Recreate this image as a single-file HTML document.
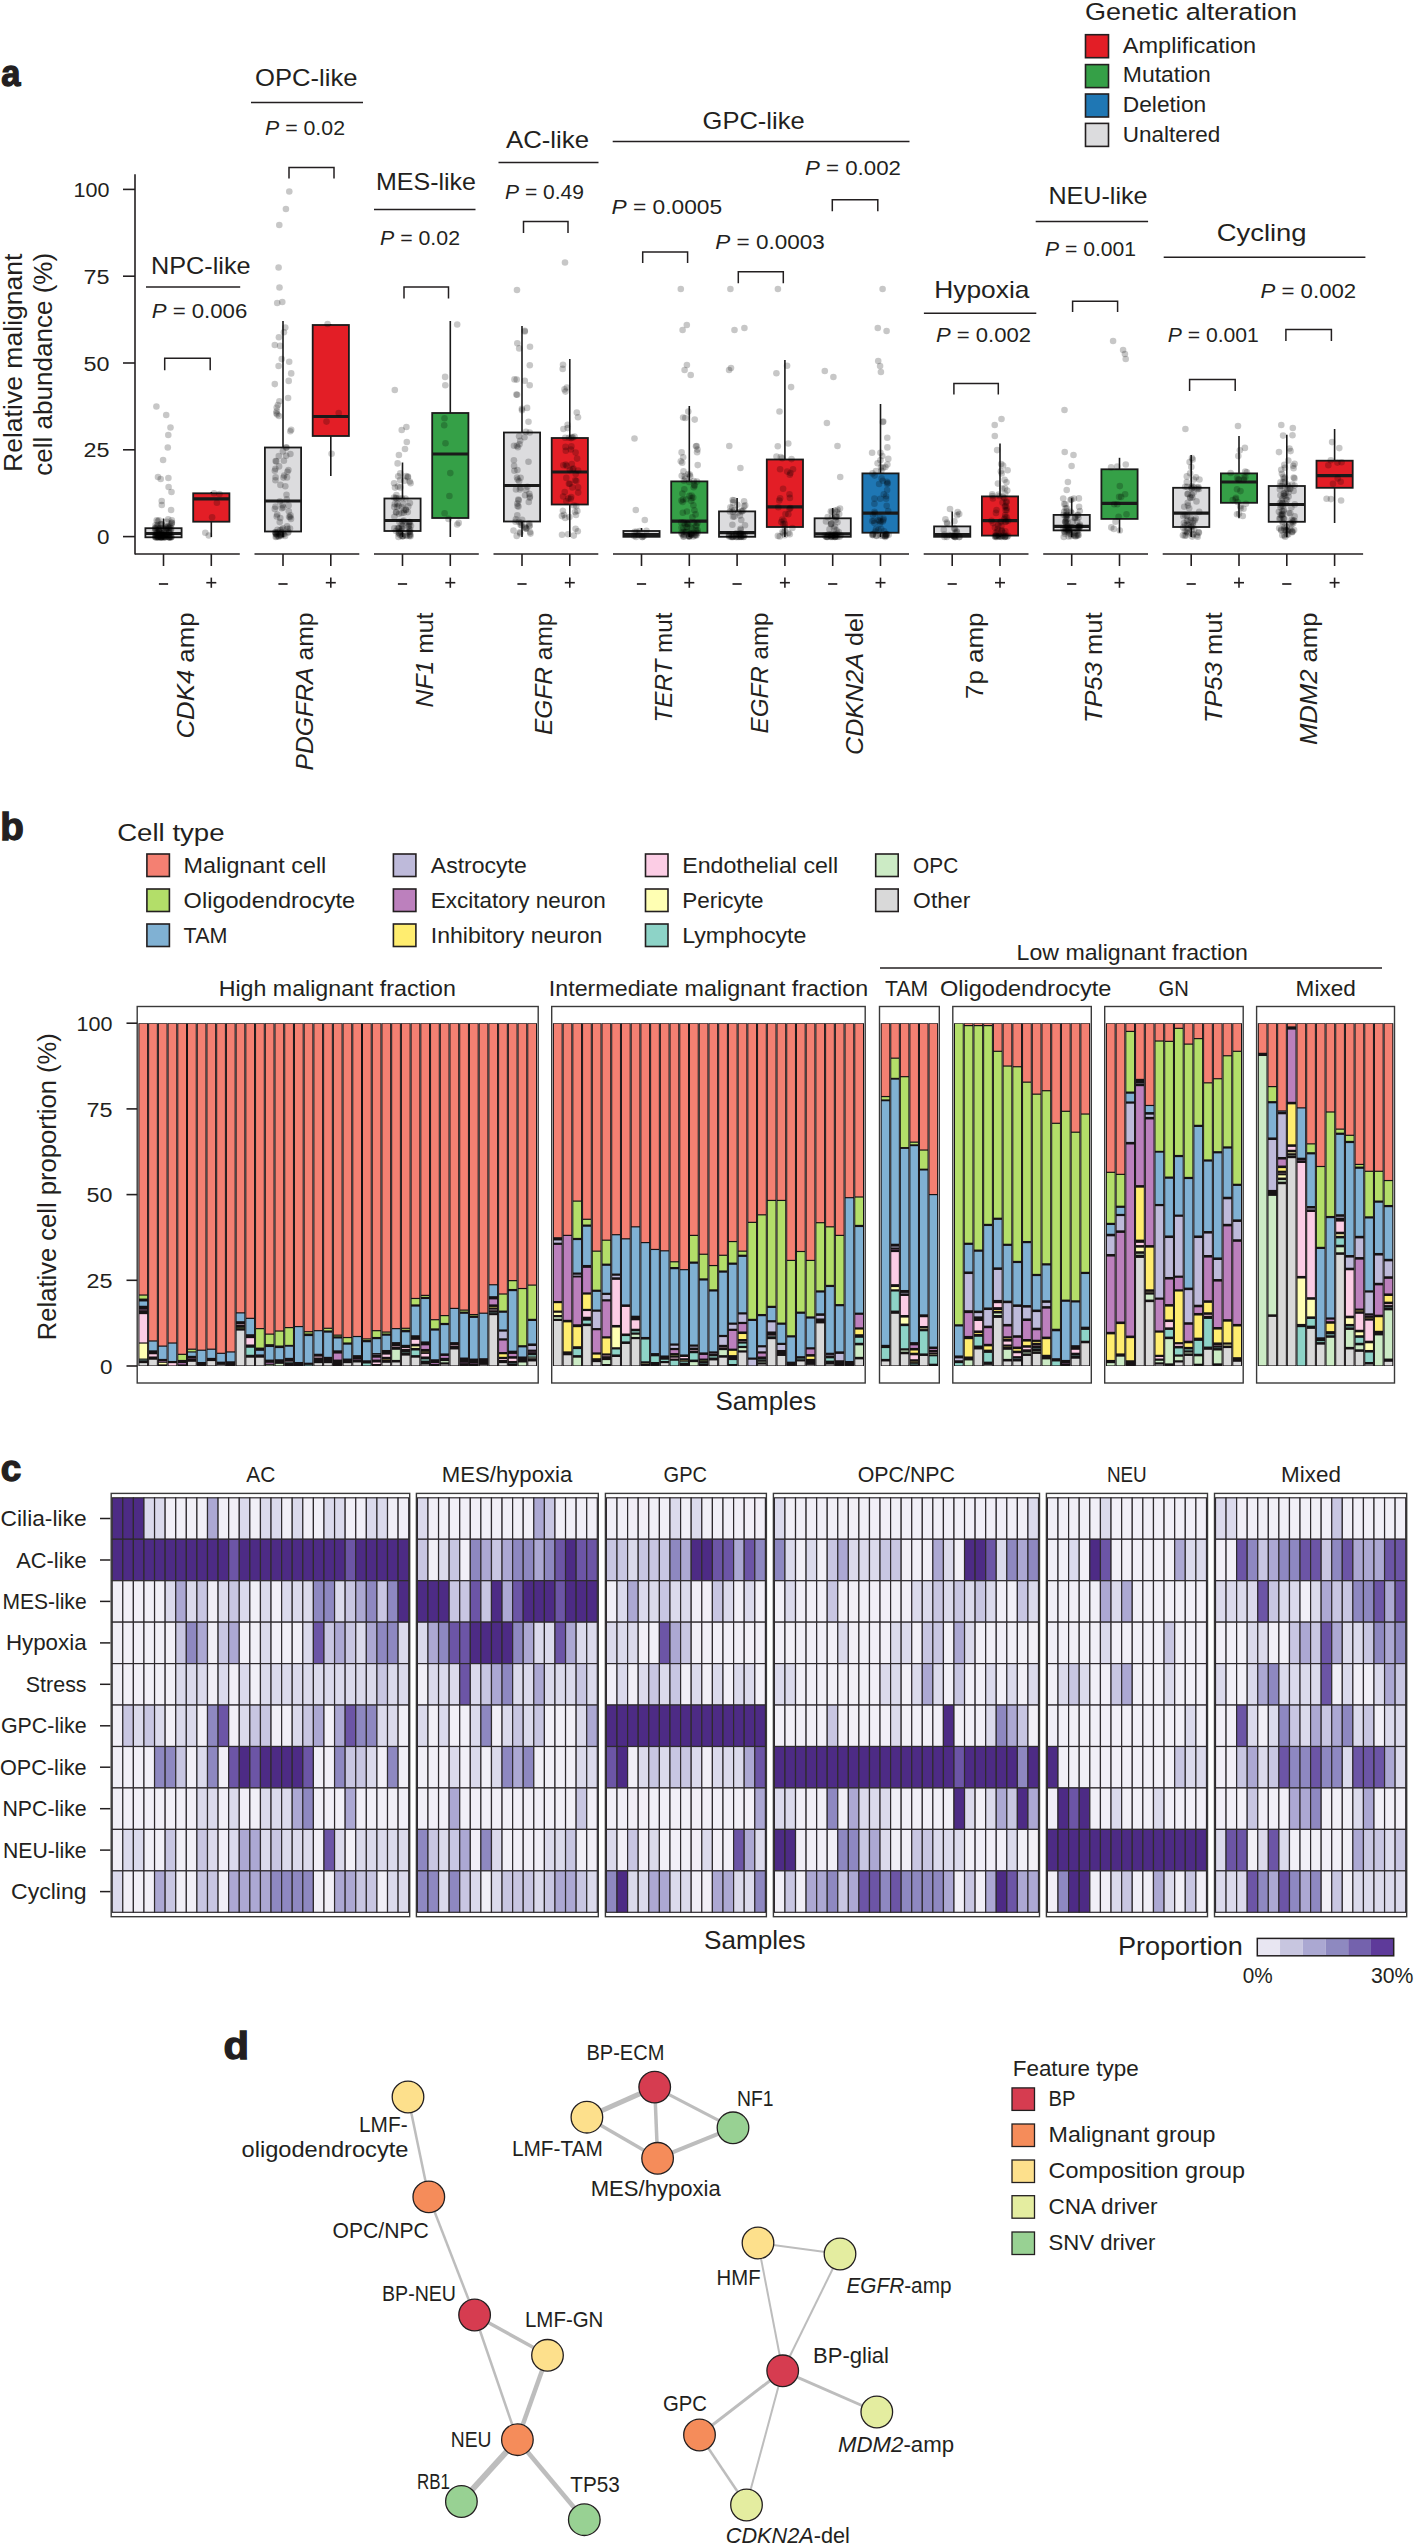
<!DOCTYPE html>
<html><head><meta charset="utf-8"><style>
html,body{margin:0;padding:0;background:#fff;overflow:hidden;}
svg{display:block;font-family:"Liberation Sans",sans-serif;}
</style></head><body>
<svg width="1416" height="2545" viewBox="0 0 1416 2545" fill="#231f20">
<text x="1.2" y="85.8" font-size="37" textLength="19.2" lengthAdjust="spacingAndGlyphs" font-weight="bold" stroke="#231f20" stroke-width="1.3">a</text>
<text x="1085.0" y="19.5" font-size="24.5" textLength="212.0" lengthAdjust="spacingAndGlyphs">Genetic alteration</text>
<rect x="1085.50" y="34.70" width="23.00" height="23.00" fill="#e31e26" stroke="#231f20" stroke-width="1.6"/>
<text x="1122.8" y="52.9" font-size="21.3" textLength="133.4" lengthAdjust="spacingAndGlyphs">Amplification</text>
<rect x="1085.50" y="64.60" width="23.00" height="23.00" fill="#35a047" stroke="#231f20" stroke-width="1.6"/>
<text x="1122.8" y="82.3" font-size="21.3" textLength="88.0" lengthAdjust="spacingAndGlyphs">Mutation</text>
<rect x="1085.50" y="94.00" width="23.00" height="23.00" fill="#1f77b4" stroke="#231f20" stroke-width="1.6"/>
<text x="1122.8" y="111.6" font-size="21.3" textLength="83.4" lengthAdjust="spacingAndGlyphs">Deletion</text>
<rect x="1085.50" y="123.40" width="23.00" height="23.00" fill="#dcdcde" stroke="#231f20" stroke-width="1.6"/>
<text x="1122.8" y="141.6" font-size="21.3" textLength="97.5" lengthAdjust="spacingAndGlyphs">Unaltered</text>
<line x1="135.0" y1="174.3" x2="135.0" y2="554.5" stroke="#231f20" stroke-width="1.6"/>
<line x1="123.0" y1="536.6" x2="135.0" y2="536.6" stroke="#231f20" stroke-width="1.6"/>
<text x="109.6" y="544.2" font-size="20.5" text-anchor="end" textLength="12.5" lengthAdjust="spacingAndGlyphs">0</text>
<line x1="123.0" y1="449.8" x2="135.0" y2="449.8" stroke="#231f20" stroke-width="1.6"/>
<text x="109.6" y="457.4" font-size="20.5" text-anchor="end" textLength="26.0" lengthAdjust="spacingAndGlyphs">25</text>
<line x1="123.0" y1="363.0" x2="135.0" y2="363.0" stroke="#231f20" stroke-width="1.6"/>
<text x="109.6" y="370.6" font-size="20.5" text-anchor="end" textLength="26.0" lengthAdjust="spacingAndGlyphs">50</text>
<line x1="123.0" y1="276.2" x2="135.0" y2="276.2" stroke="#231f20" stroke-width="1.6"/>
<text x="109.6" y="283.8" font-size="20.5" text-anchor="end" textLength="26.0" lengthAdjust="spacingAndGlyphs">75</text>
<line x1="123.0" y1="189.4" x2="135.0" y2="189.4" stroke="#231f20" stroke-width="1.6"/>
<text x="109.6" y="197.0" font-size="20.5" text-anchor="end" textLength="36.0" lengthAdjust="spacingAndGlyphs">100</text>
<text x="22.0" y="472.0" font-size="26" textLength="218.5" lengthAdjust="spacingAndGlyphs" transform="rotate(-90 22.0 472.0)">Relative malignant</text>
<text x="51.8" y="475.8" font-size="26" textLength="223.0" lengthAdjust="spacingAndGlyphs" transform="rotate(-90 51.8 475.8)">cell abundance (%)</text>
<line x1="135.0" y1="554.0" x2="239.8" y2="554.0" stroke="#231f20" stroke-width="1.6"/>
<line x1="163.5" y1="554.0" x2="163.5" y2="566.0" stroke="#231f20" stroke-width="1.6"/>
<line x1="211.3" y1="554.0" x2="211.3" y2="566.0" stroke="#231f20" stroke-width="1.6"/>
<line x1="158.9" y1="584.0" x2="168.1" y2="584.0" stroke="#231f20" stroke-width="1.7"/>
<line x1="206.3" y1="582.7" x2="216.3" y2="582.7" stroke="#231f20" stroke-width="1.6"/>
<line x1="211.3" y1="577.6" x2="211.3" y2="587.8" stroke="#231f20" stroke-width="1.6"/>
<line x1="254.5" y1="554.0" x2="359.3" y2="554.0" stroke="#231f20" stroke-width="1.6"/>
<line x1="283.0" y1="554.0" x2="283.0" y2="566.0" stroke="#231f20" stroke-width="1.6"/>
<line x1="330.8" y1="554.0" x2="330.8" y2="566.0" stroke="#231f20" stroke-width="1.6"/>
<line x1="278.4" y1="584.0" x2="287.6" y2="584.0" stroke="#231f20" stroke-width="1.7"/>
<line x1="325.8" y1="582.7" x2="335.8" y2="582.7" stroke="#231f20" stroke-width="1.6"/>
<line x1="330.8" y1="577.6" x2="330.8" y2="587.8" stroke="#231f20" stroke-width="1.6"/>
<line x1="374.0" y1="554.0" x2="478.8" y2="554.0" stroke="#231f20" stroke-width="1.6"/>
<line x1="402.5" y1="554.0" x2="402.5" y2="566.0" stroke="#231f20" stroke-width="1.6"/>
<line x1="450.3" y1="554.0" x2="450.3" y2="566.0" stroke="#231f20" stroke-width="1.6"/>
<line x1="397.9" y1="584.0" x2="407.1" y2="584.0" stroke="#231f20" stroke-width="1.7"/>
<line x1="445.3" y1="582.7" x2="455.3" y2="582.7" stroke="#231f20" stroke-width="1.6"/>
<line x1="450.3" y1="577.6" x2="450.3" y2="587.8" stroke="#231f20" stroke-width="1.6"/>
<line x1="493.5" y1="554.0" x2="598.3" y2="554.0" stroke="#231f20" stroke-width="1.6"/>
<line x1="522.0" y1="554.0" x2="522.0" y2="566.0" stroke="#231f20" stroke-width="1.6"/>
<line x1="569.8" y1="554.0" x2="569.8" y2="566.0" stroke="#231f20" stroke-width="1.6"/>
<line x1="517.4" y1="584.0" x2="526.6" y2="584.0" stroke="#231f20" stroke-width="1.7"/>
<line x1="564.8" y1="582.7" x2="574.8" y2="582.7" stroke="#231f20" stroke-width="1.6"/>
<line x1="569.8" y1="577.6" x2="569.8" y2="587.8" stroke="#231f20" stroke-width="1.6"/>
<line x1="613.0" y1="554.0" x2="909.0" y2="554.0" stroke="#231f20" stroke-width="1.6"/>
<line x1="641.5" y1="554.0" x2="641.5" y2="566.0" stroke="#231f20" stroke-width="1.6"/>
<line x1="689.3" y1="554.0" x2="689.3" y2="566.0" stroke="#231f20" stroke-width="1.6"/>
<line x1="737.1" y1="554.0" x2="737.1" y2="566.0" stroke="#231f20" stroke-width="1.6"/>
<line x1="784.9" y1="554.0" x2="784.9" y2="566.0" stroke="#231f20" stroke-width="1.6"/>
<line x1="832.7" y1="554.0" x2="832.7" y2="566.0" stroke="#231f20" stroke-width="1.6"/>
<line x1="880.5" y1="554.0" x2="880.5" y2="566.0" stroke="#231f20" stroke-width="1.6"/>
<line x1="636.9" y1="584.0" x2="646.1" y2="584.0" stroke="#231f20" stroke-width="1.7"/>
<line x1="684.3" y1="582.7" x2="694.3" y2="582.7" stroke="#231f20" stroke-width="1.6"/>
<line x1="689.3" y1="577.6" x2="689.3" y2="587.8" stroke="#231f20" stroke-width="1.6"/>
<line x1="732.5" y1="584.0" x2="741.7" y2="584.0" stroke="#231f20" stroke-width="1.7"/>
<line x1="779.9" y1="582.7" x2="789.9" y2="582.7" stroke="#231f20" stroke-width="1.6"/>
<line x1="784.9" y1="577.6" x2="784.9" y2="587.8" stroke="#231f20" stroke-width="1.6"/>
<line x1="828.1" y1="584.0" x2="837.3" y2="584.0" stroke="#231f20" stroke-width="1.7"/>
<line x1="875.5" y1="582.7" x2="885.5" y2="582.7" stroke="#231f20" stroke-width="1.6"/>
<line x1="880.5" y1="577.6" x2="880.5" y2="587.8" stroke="#231f20" stroke-width="1.6"/>
<line x1="923.7" y1="554.0" x2="1028.5" y2="554.0" stroke="#231f20" stroke-width="1.6"/>
<line x1="952.2" y1="554.0" x2="952.2" y2="566.0" stroke="#231f20" stroke-width="1.6"/>
<line x1="1000.0" y1="554.0" x2="1000.0" y2="566.0" stroke="#231f20" stroke-width="1.6"/>
<line x1="947.6" y1="584.0" x2="956.8" y2="584.0" stroke="#231f20" stroke-width="1.7"/>
<line x1="995.0" y1="582.7" x2="1005.0" y2="582.7" stroke="#231f20" stroke-width="1.6"/>
<line x1="1000.0" y1="577.6" x2="1000.0" y2="587.8" stroke="#231f20" stroke-width="1.6"/>
<line x1="1043.2" y1="554.0" x2="1148.0" y2="554.0" stroke="#231f20" stroke-width="1.6"/>
<line x1="1071.7" y1="554.0" x2="1071.7" y2="566.0" stroke="#231f20" stroke-width="1.6"/>
<line x1="1119.5" y1="554.0" x2="1119.5" y2="566.0" stroke="#231f20" stroke-width="1.6"/>
<line x1="1067.1" y1="584.0" x2="1076.3" y2="584.0" stroke="#231f20" stroke-width="1.7"/>
<line x1="1114.5" y1="582.7" x2="1124.5" y2="582.7" stroke="#231f20" stroke-width="1.6"/>
<line x1="1119.5" y1="577.6" x2="1119.5" y2="587.8" stroke="#231f20" stroke-width="1.6"/>
<line x1="1162.7" y1="554.0" x2="1363.1" y2="554.0" stroke="#231f20" stroke-width="1.6"/>
<line x1="1191.2" y1="554.0" x2="1191.2" y2="566.0" stroke="#231f20" stroke-width="1.6"/>
<line x1="1239.0" y1="554.0" x2="1239.0" y2="566.0" stroke="#231f20" stroke-width="1.6"/>
<line x1="1286.8" y1="554.0" x2="1286.8" y2="566.0" stroke="#231f20" stroke-width="1.6"/>
<line x1="1334.6" y1="554.0" x2="1334.6" y2="566.0" stroke="#231f20" stroke-width="1.6"/>
<line x1="1186.6" y1="584.0" x2="1195.8" y2="584.0" stroke="#231f20" stroke-width="1.7"/>
<line x1="1234.0" y1="582.7" x2="1244.0" y2="582.7" stroke="#231f20" stroke-width="1.6"/>
<line x1="1239.0" y1="577.6" x2="1239.0" y2="587.8" stroke="#231f20" stroke-width="1.6"/>
<line x1="1282.2" y1="584.0" x2="1291.4" y2="584.0" stroke="#231f20" stroke-width="1.7"/>
<line x1="1329.6" y1="582.7" x2="1339.6" y2="582.7" stroke="#231f20" stroke-width="1.6"/>
<line x1="1334.6" y1="577.6" x2="1334.6" y2="587.8" stroke="#231f20" stroke-width="1.6"/>
<text x="193.9" y="612.5" font-size="23.5" text-anchor="end" textLength="126.0" lengthAdjust="spacingAndGlyphs" transform="rotate(-90 193.9 612.5)"><tspan font-style="italic">CDK4</tspan><tspan> amp</tspan></text>
<text x="313.4" y="612.5" font-size="23.5" text-anchor="end" textLength="158.0" lengthAdjust="spacingAndGlyphs" transform="rotate(-90 313.4 612.5)"><tspan font-style="italic">PDGFRA</tspan><tspan> amp</tspan></text>
<text x="432.9" y="612.5" font-size="23.5" text-anchor="end" textLength="95.0" lengthAdjust="spacingAndGlyphs" transform="rotate(-90 432.9 612.5)"><tspan font-style="italic">NF1</tspan><tspan> mut</tspan></text>
<text x="552.4" y="612.5" font-size="23.5" text-anchor="end" textLength="122.5" lengthAdjust="spacingAndGlyphs" transform="rotate(-90 552.4 612.5)"><tspan font-style="italic">EGFR</tspan><tspan> amp</tspan></text>
<text x="671.9" y="612.5" font-size="23.5" text-anchor="end" textLength="110.0" lengthAdjust="spacingAndGlyphs" transform="rotate(-90 671.9 612.5)"><tspan font-style="italic">TERT</tspan><tspan> mut</tspan></text>
<text x="767.5" y="612.5" font-size="23.5" text-anchor="end" textLength="121.0" lengthAdjust="spacingAndGlyphs" transform="rotate(-90 767.5 612.5)"><tspan font-style="italic">EGFR</tspan><tspan> amp</tspan></text>
<text x="863.1" y="612.5" font-size="23.5" text-anchor="end" textLength="142.4" lengthAdjust="spacingAndGlyphs" transform="rotate(-90 863.1 612.5)"><tspan font-style="italic">CDKN2A</tspan><tspan> del</tspan></text>
<text x="982.6" y="612.5" font-size="23.5" text-anchor="end" textLength="86.5" lengthAdjust="spacingAndGlyphs" transform="rotate(-90 982.6 612.5)"><tspan>7p amp</tspan></text>
<text x="1102.1" y="612.5" font-size="23.5" text-anchor="end" textLength="110.6" lengthAdjust="spacingAndGlyphs" transform="rotate(-90 1102.1 612.5)"><tspan font-style="italic">TP53</tspan><tspan> mut</tspan></text>
<text x="1221.6" y="612.5" font-size="23.5" text-anchor="end" textLength="110.6" lengthAdjust="spacingAndGlyphs" transform="rotate(-90 1221.6 612.5)"><tspan font-style="italic">TP53</tspan><tspan> mut</tspan></text>
<text x="1317.2" y="612.5" font-size="23.5" text-anchor="end" textLength="132.6" lengthAdjust="spacingAndGlyphs" transform="rotate(-90 1317.2 612.5)"><tspan font-style="italic">MDM2</tspan><tspan> amp</tspan></text>
<text x="150.9" y="273.8" font-size="24" textLength="99.7" lengthAdjust="spacingAndGlyphs">NPC-like</text>
<line x1="146.0" y1="287.0" x2="240.2" y2="287.0" stroke="#231f20" stroke-width="1.5"/>
<text x="255.0" y="86.0" font-size="24" textLength="102.5" lengthAdjust="spacingAndGlyphs">OPC-like</text>
<line x1="251.0" y1="102.5" x2="363.0" y2="102.5" stroke="#231f20" stroke-width="1.5"/>
<text x="376.0" y="190.0" font-size="24" textLength="100.0" lengthAdjust="spacingAndGlyphs">MES-like</text>
<line x1="374.0" y1="209.5" x2="475.5" y2="209.5" stroke="#231f20" stroke-width="1.5"/>
<text x="506.0" y="148.0" font-size="24" textLength="83.0" lengthAdjust="spacingAndGlyphs">AC-like</text>
<line x1="498.5" y1="162.5" x2="598.5" y2="162.5" stroke="#231f20" stroke-width="1.5"/>
<text x="702.6" y="128.8" font-size="24" textLength="102.0" lengthAdjust="spacingAndGlyphs">GPC-like</text>
<line x1="612.7" y1="141.5" x2="909.5" y2="141.5" stroke="#231f20" stroke-width="1.5"/>
<text x="934.3" y="297.7" font-size="24" textLength="95.1" lengthAdjust="spacingAndGlyphs">Hypoxia</text>
<line x1="923.9" y1="313.3" x2="1036.3" y2="313.3" stroke="#231f20" stroke-width="1.5"/>
<text x="1048.4" y="203.7" font-size="24" textLength="99.2" lengthAdjust="spacingAndGlyphs">NEU-like</text>
<line x1="1035.7" y1="221.6" x2="1148.1" y2="221.6" stroke="#231f20" stroke-width="1.5"/>
<text x="1216.7" y="241.2" font-size="24" textLength="89.9" lengthAdjust="spacingAndGlyphs">Cycling</text>
<line x1="1163.7" y1="257.3" x2="1365.4" y2="257.3" stroke="#231f20" stroke-width="1.5"/>
<text x="151.7" y="317.5" font-size="21" textLength="95.6" lengthAdjust="spacingAndGlyphs"><tspan font-style="italic">P</tspan><tspan> = 0.006</tspan></text>
<text x="265.0" y="135.0" font-size="21" textLength="80.0" lengthAdjust="spacingAndGlyphs"><tspan font-style="italic">P</tspan><tspan> = 0.02</tspan></text>
<text x="380.0" y="245.0" font-size="21" textLength="80.0" lengthAdjust="spacingAndGlyphs"><tspan font-style="italic">P</tspan><tspan> = 0.02</tspan></text>
<text x="505.0" y="199.0" font-size="21" textLength="79.0" lengthAdjust="spacingAndGlyphs"><tspan font-style="italic">P</tspan><tspan> = 0.49</tspan></text>
<text x="611.5" y="214.1" font-size="21" textLength="110.7" lengthAdjust="spacingAndGlyphs"><tspan font-style="italic">P</tspan><tspan> = 0.0005</tspan></text>
<text x="715.3" y="248.7" font-size="21" textLength="109.5" lengthAdjust="spacingAndGlyphs"><tspan font-style="italic">P</tspan><tspan> = 0.0003</tspan></text>
<text x="805.0" y="175.0" font-size="21" textLength="95.9" lengthAdjust="spacingAndGlyphs"><tspan font-style="italic">P</tspan><tspan> = 0.002</tspan></text>
<text x="936.0" y="342.0" font-size="21" textLength="95.0" lengthAdjust="spacingAndGlyphs"><tspan font-style="italic">P</tspan><tspan> = 0.002</tspan></text>
<text x="1045.0" y="255.6" font-size="21" textLength="91.0" lengthAdjust="spacingAndGlyphs"><tspan font-style="italic">P</tspan><tspan> = 0.001</tspan></text>
<text x="1167.7" y="342.0" font-size="21" textLength="91.1" lengthAdjust="spacingAndGlyphs"><tspan font-style="italic">P</tspan><tspan> = 0.001</tspan></text>
<text x="1260.5" y="297.7" font-size="21" textLength="95.7" lengthAdjust="spacingAndGlyphs"><tspan font-style="italic">P</tspan><tspan> = 0.002</tspan></text>
<polyline points="164.7,370.2 164.7,358.3 210.2,358.3 210.2,370.2" fill="none" stroke="#231f20" stroke-width="1.5"/>
<polyline points="289.0,178.5 289.0,167.5 334.0,167.5 334.0,178.5" fill="none" stroke="#231f20" stroke-width="1.5"/>
<polyline points="404.0,298.5 404.0,287.0 448.5,287.0 448.5,298.5" fill="none" stroke="#231f20" stroke-width="1.5"/>
<polyline points="523.5,233.0 523.5,221.5 568.0,221.5 568.0,233.0" fill="none" stroke="#231f20" stroke-width="1.5"/>
<polyline points="642.7,263.0 642.7,252.0 687.6,252.0 687.6,263.0" fill="none" stroke="#231f20" stroke-width="1.5"/>
<polyline points="738.3,283.3 738.3,271.8 783.3,271.8 783.3,283.3" fill="none" stroke="#231f20" stroke-width="1.5"/>
<polyline points="832.3,211.2 832.3,199.7 877.8,199.7 877.8,211.2" fill="none" stroke="#231f20" stroke-width="1.5"/>
<polyline points="953.9,394.5 953.9,383.6 998.3,383.6 998.3,394.5" fill="none" stroke="#231f20" stroke-width="1.5"/>
<polyline points="1072.6,312.1 1072.6,301.2 1117.6,301.2 1117.6,312.1" fill="none" stroke="#231f20" stroke-width="1.5"/>
<polyline points="1189.6,391.0 1189.6,379.5 1235.2,379.5 1235.2,391.0" fill="none" stroke="#231f20" stroke-width="1.5"/>
<polyline points="1285.9,341.0 1285.9,329.4 1331.4,329.4 1331.4,341.0" fill="none" stroke="#231f20" stroke-width="1.5"/>
<line x1="163.5" y1="528.2" x2="163.5" y2="518.5" stroke="#1a1a1a" stroke-width="1.6"/>
<line x1="163.5" y1="537.3" x2="163.5" y2="537.3" stroke="#1a1a1a" stroke-width="1.6"/>
<rect x="145.40" y="528.20" width="36.20" height="9.10" fill="#dcdcde" stroke="#1a1a1a" stroke-width="1.8"/>
<line x1="145.4" y1="533.5" x2="181.6" y2="533.5" stroke="#1a1a1a" stroke-width="3.2"/>
<circle cx="158.0" cy="537.3" r="3.3" fill="#000" fill-opacity="0.22"/>
<circle cx="158.9" cy="534.1" r="3.3" fill="#000" fill-opacity="0.22"/>
<circle cx="159.0" cy="531.6" r="3.3" fill="#000" fill-opacity="0.22"/>
<circle cx="163.2" cy="528.1" r="3.3" fill="#000" fill-opacity="0.22"/>
<circle cx="165.0" cy="537.3" r="3.3" fill="#000" fill-opacity="0.22"/>
<circle cx="159.5" cy="534.9" r="3.3" fill="#000" fill-opacity="0.22"/>
<circle cx="155.1" cy="528.5" r="3.3" fill="#000" fill-opacity="0.22"/>
<circle cx="162.1" cy="524.9" r="3.3" fill="#000" fill-opacity="0.22"/>
<circle cx="161.3" cy="537.3" r="3.3" fill="#000" fill-opacity="0.22"/>
<circle cx="164.6" cy="535.1" r="3.3" fill="#000" fill-opacity="0.22"/>
<circle cx="171.2" cy="528.6" r="3.3" fill="#000" fill-opacity="0.22"/>
<circle cx="166.7" cy="528.0" r="3.3" fill="#000" fill-opacity="0.22"/>
<circle cx="163.8" cy="537.3" r="3.3" fill="#000" fill-opacity="0.22"/>
<circle cx="165.5" cy="536.6" r="3.3" fill="#000" fill-opacity="0.22"/>
<circle cx="166.5" cy="528.9" r="3.3" fill="#000" fill-opacity="0.22"/>
<circle cx="155.9" cy="527.3" r="3.3" fill="#000" fill-opacity="0.22"/>
<circle cx="170.3" cy="537.3" r="3.3" fill="#000" fill-opacity="0.22"/>
<circle cx="168.3" cy="537.1" r="3.3" fill="#000" fill-opacity="0.22"/>
<circle cx="169.9" cy="531.3" r="3.3" fill="#000" fill-opacity="0.22"/>
<circle cx="168.6" cy="526.0" r="3.3" fill="#000" fill-opacity="0.22"/>
<circle cx="161.7" cy="537.3" r="3.3" fill="#000" fill-opacity="0.22"/>
<circle cx="161.8" cy="533.7" r="3.3" fill="#000" fill-opacity="0.22"/>
<circle cx="156.8" cy="532.7" r="3.3" fill="#000" fill-opacity="0.22"/>
<circle cx="165.8" cy="526.9" r="3.3" fill="#000" fill-opacity="0.22"/>
<circle cx="156.1" cy="537.3" r="3.3" fill="#000" fill-opacity="0.22"/>
<circle cx="156.1" cy="533.9" r="3.3" fill="#000" fill-opacity="0.22"/>
<circle cx="158.5" cy="529.8" r="3.3" fill="#000" fill-opacity="0.22"/>
<circle cx="157.8" cy="521.2" r="3.3" fill="#000" fill-opacity="0.22"/>
<circle cx="160.8" cy="537.3" r="3.3" fill="#000" fill-opacity="0.22"/>
<circle cx="155.9" cy="535.7" r="3.3" fill="#000" fill-opacity="0.22"/>
<circle cx="155.0" cy="531.6" r="3.3" fill="#000" fill-opacity="0.22"/>
<circle cx="157.6" cy="526.2" r="3.3" fill="#000" fill-opacity="0.22"/>
<circle cx="156.7" cy="537.3" r="3.3" fill="#000" fill-opacity="0.22"/>
<circle cx="161.2" cy="533.7" r="3.3" fill="#000" fill-opacity="0.22"/>
<circle cx="155.4" cy="528.5" r="3.3" fill="#000" fill-opacity="0.22"/>
<circle cx="169.9" cy="527.4" r="3.3" fill="#000" fill-opacity="0.22"/>
<circle cx="165.4" cy="537.3" r="3.3" fill="#000" fill-opacity="0.22"/>
<circle cx="157.5" cy="535.1" r="3.3" fill="#000" fill-opacity="0.22"/>
<circle cx="159.3" cy="529.9" r="3.3" fill="#000" fill-opacity="0.22"/>
<circle cx="160.9" cy="524.1" r="3.3" fill="#000" fill-opacity="0.22"/>
<circle cx="161.2" cy="537.3" r="3.3" fill="#000" fill-opacity="0.22"/>
<circle cx="157.1" cy="534.6" r="3.3" fill="#000" fill-opacity="0.22"/>
<circle cx="169.4" cy="532.4" r="3.3" fill="#000" fill-opacity="0.22"/>
<circle cx="171.9" cy="522.7" r="3.3" fill="#000" fill-opacity="0.22"/>
<circle cx="162.9" cy="537.3" r="3.3" fill="#000" fill-opacity="0.22"/>
<circle cx="163.2" cy="535.7" r="3.3" fill="#000" fill-opacity="0.22"/>
<circle cx="156.5" cy="531.0" r="3.3" fill="#000" fill-opacity="0.22"/>
<circle cx="156.7" cy="520.4" r="3.3" fill="#000" fill-opacity="0.22"/>
<circle cx="160.8" cy="537.3" r="3.3" fill="#000" fill-opacity="0.22"/>
<circle cx="159.5" cy="534.6" r="3.3" fill="#000" fill-opacity="0.22"/>
<circle cx="169.1" cy="533.4" r="3.3" fill="#000" fill-opacity="0.22"/>
<circle cx="157.7" cy="527.9" r="3.3" fill="#000" fill-opacity="0.22"/>
<circle cx="155.4" cy="537.3" r="3.3" fill="#000" fill-opacity="0.22"/>
<circle cx="171.2" cy="536.4" r="3.3" fill="#000" fill-opacity="0.22"/>
<circle cx="164.0" cy="529.0" r="3.3" fill="#000" fill-opacity="0.22"/>
<circle cx="157.5" cy="525.1" r="3.3" fill="#000" fill-opacity="0.22"/>
<circle cx="164.2" cy="537.3" r="3.3" fill="#000" fill-opacity="0.22"/>
<circle cx="155.5" cy="536.0" r="3.3" fill="#000" fill-opacity="0.22"/>
<circle cx="164.0" cy="532.3" r="3.3" fill="#000" fill-opacity="0.22"/>
<circle cx="171.6" cy="524.2" r="3.3" fill="#000" fill-opacity="0.22"/>
<circle cx="169.7" cy="537.3" r="3.3" fill="#000" fill-opacity="0.22"/>
<circle cx="166.8" cy="534.7" r="3.3" fill="#000" fill-opacity="0.22"/>
<circle cx="159.4" cy="531.9" r="3.3" fill="#000" fill-opacity="0.22"/>
<circle cx="161.2" cy="524.0" r="3.3" fill="#000" fill-opacity="0.22"/>
<circle cx="157.8" cy="537.3" r="3.3" fill="#000" fill-opacity="0.22"/>
<circle cx="168.1" cy="535.2" r="3.3" fill="#000" fill-opacity="0.22"/>
<circle cx="164.1" cy="532.7" r="3.3" fill="#000" fill-opacity="0.22"/>
<circle cx="168.2" cy="519.3" r="3.3" fill="#000" fill-opacity="0.22"/>
<circle cx="160.6" cy="537.3" r="3.3" fill="#000" fill-opacity="0.22"/>
<circle cx="158.8" cy="536.0" r="3.3" fill="#000" fill-opacity="0.22"/>
<circle cx="168.8" cy="528.5" r="3.3" fill="#000" fill-opacity="0.22"/>
<circle cx="171.7" cy="522.7" r="3.3" fill="#000" fill-opacity="0.22"/>
<circle cx="169.5" cy="537.3" r="3.3" fill="#000" fill-opacity="0.22"/>
<circle cx="168.7" cy="537.3" r="3.3" fill="#000" fill-opacity="0.22"/>
<circle cx="168.9" cy="532.6" r="3.3" fill="#000" fill-opacity="0.22"/>
<circle cx="167.6" cy="526.9" r="3.3" fill="#000" fill-opacity="0.22"/>
<circle cx="158.9" cy="537.3" r="3.3" fill="#000" fill-opacity="0.22"/>
<circle cx="163.8" cy="536.0" r="3.3" fill="#000" fill-opacity="0.22"/>
<circle cx="161.0" cy="528.3" r="3.3" fill="#000" fill-opacity="0.22"/>
<circle cx="155.5" cy="525.4" r="3.3" fill="#000" fill-opacity="0.22"/>
<circle cx="155.5" cy="537.3" r="3.3" fill="#000" fill-opacity="0.22"/>
<circle cx="159.8" cy="533.9" r="3.3" fill="#000" fill-opacity="0.22"/>
<circle cx="159.4" cy="528.5" r="3.3" fill="#000" fill-opacity="0.22"/>
<circle cx="166.8" cy="521.8" r="3.3" fill="#000" fill-opacity="0.22"/>
<circle cx="171.3" cy="537.3" r="3.3" fill="#000" fill-opacity="0.22"/>
<circle cx="162.6" cy="534.4" r="3.3" fill="#000" fill-opacity="0.22"/>
<circle cx="170.9" cy="530.3" r="3.3" fill="#000" fill-opacity="0.22"/>
<circle cx="171.8" cy="520.4" r="3.3" fill="#000" fill-opacity="0.22"/>
<circle cx="171.2" cy="537.3" r="3.3" fill="#000" fill-opacity="0.22"/>
<circle cx="161.2" cy="535.2" r="3.3" fill="#000" fill-opacity="0.22"/>
<circle cx="158.7" cy="531.1" r="3.3" fill="#000" fill-opacity="0.22"/>
<circle cx="158.9" cy="520.2" r="3.3" fill="#000" fill-opacity="0.22"/>
<circle cx="158.3" cy="537.3" r="3.3" fill="#000" fill-opacity="0.22"/>
<circle cx="158.5" cy="536.8" r="3.3" fill="#000" fill-opacity="0.22"/>
<circle cx="165.6" cy="529.7" r="3.3" fill="#000" fill-opacity="0.22"/>
<circle cx="170.3" cy="525.8" r="3.3" fill="#000" fill-opacity="0.22"/>
<circle cx="169.3" cy="537.3" r="3.3" fill="#000" fill-opacity="0.22"/>
<circle cx="163.2" cy="536.9" r="3.3" fill="#000" fill-opacity="0.22"/>
<circle cx="166.1" cy="533.3" r="3.3" fill="#000" fill-opacity="0.22"/>
<circle cx="168.6" cy="527.7" r="3.3" fill="#000" fill-opacity="0.22"/>
<circle cx="156.4" cy="406.5" r="3.3" fill="#000" fill-opacity="0.22"/>
<circle cx="166.2" cy="415.0" r="3.3" fill="#000" fill-opacity="0.22"/>
<circle cx="170.5" cy="427.5" r="3.3" fill="#000" fill-opacity="0.22"/>
<circle cx="168.3" cy="435.0" r="3.3" fill="#000" fill-opacity="0.22"/>
<circle cx="167.8" cy="447.5" r="3.3" fill="#000" fill-opacity="0.22"/>
<circle cx="163.1" cy="460.0" r="3.3" fill="#000" fill-opacity="0.22"/>
<circle cx="158.0" cy="477.0" r="3.3" fill="#000" fill-opacity="0.22"/>
<circle cx="168.4" cy="478.0" r="3.3" fill="#000" fill-opacity="0.22"/>
<circle cx="160.7" cy="479.0" r="3.3" fill="#000" fill-opacity="0.22"/>
<circle cx="168.6" cy="487.0" r="3.3" fill="#000" fill-opacity="0.22"/>
<circle cx="171.5" cy="492.0" r="3.3" fill="#000" fill-opacity="0.22"/>
<circle cx="161.7" cy="501.0" r="3.3" fill="#000" fill-opacity="0.22"/>
<circle cx="161.8" cy="505.0" r="3.3" fill="#000" fill-opacity="0.22"/>
<circle cx="171.1" cy="510.0" r="3.3" fill="#000" fill-opacity="0.22"/>
<line x1="211.3" y1="493.3" x2="211.3" y2="492.0" stroke="#1a1a1a" stroke-width="1.6"/>
<line x1="211.3" y1="521.7" x2="211.3" y2="537.0" stroke="#1a1a1a" stroke-width="1.6"/>
<rect x="193.20" y="493.30" width="36.20" height="28.40" fill="#e31e26" stroke="#1a1a1a" stroke-width="1.8"/>
<line x1="193.2" y1="498.8" x2="229.4" y2="498.8" stroke="#1a1a1a" stroke-width="3.2"/>
<circle cx="205.3" cy="532.8" r="3.3" fill="#000" fill-opacity="0.22"/>
<circle cx="216.9" cy="502.7" r="3.3" fill="#000" fill-opacity="0.22"/>
<circle cx="219.5" cy="494.0" r="3.3" fill="#000" fill-opacity="0.22"/>
<circle cx="214.0" cy="493.2" r="3.3" fill="#000" fill-opacity="0.22"/>
<circle cx="208.8" cy="535.5" r="3.3" fill="#000" fill-opacity="0.22"/>
<circle cx="212.1" cy="517.3" r="3.3" fill="#000" fill-opacity="0.22"/>
<line x1="283.0" y1="447.5" x2="283.0" y2="321.0" stroke="#1a1a1a" stroke-width="1.6"/>
<line x1="283.0" y1="531.5" x2="283.0" y2="537.0" stroke="#1a1a1a" stroke-width="1.6"/>
<rect x="264.90" y="447.50" width="36.20" height="84.00" fill="#dcdcde" stroke="#1a1a1a" stroke-width="1.8"/>
<line x1="264.9" y1="501.0" x2="301.1" y2="501.0" stroke="#1a1a1a" stroke-width="3.2"/>
<circle cx="277.8" cy="532.2" r="3.3" fill="#000" fill-opacity="0.22"/>
<circle cx="279.9" cy="501.4" r="3.3" fill="#000" fill-opacity="0.22"/>
<circle cx="286.8" cy="499.4" r="3.3" fill="#000" fill-opacity="0.22"/>
<circle cx="274.8" cy="384.1" r="3.3" fill="#000" fill-opacity="0.22"/>
<circle cx="283.9" cy="534.4" r="3.3" fill="#000" fill-opacity="0.22"/>
<circle cx="282.0" cy="529.5" r="3.3" fill="#000" fill-opacity="0.22"/>
<circle cx="274.8" cy="470.7" r="3.3" fill="#000" fill-opacity="0.22"/>
<circle cx="280.1" cy="345.9" r="3.3" fill="#000" fill-opacity="0.22"/>
<circle cx="285.1" cy="536.0" r="3.3" fill="#000" fill-opacity="0.22"/>
<circle cx="283.2" cy="507.4" r="3.3" fill="#000" fill-opacity="0.22"/>
<circle cx="275.6" cy="461.0" r="3.3" fill="#000" fill-opacity="0.22"/>
<circle cx="291.2" cy="429.8" r="3.3" fill="#000" fill-opacity="0.22"/>
<circle cx="287.9" cy="532.8" r="3.3" fill="#000" fill-opacity="0.22"/>
<circle cx="291.0" cy="518.9" r="3.3" fill="#000" fill-opacity="0.22"/>
<circle cx="276.3" cy="461.4" r="3.3" fill="#000" fill-opacity="0.22"/>
<circle cx="279.0" cy="416.0" r="3.3" fill="#000" fill-opacity="0.22"/>
<circle cx="275.2" cy="532.2" r="3.3" fill="#000" fill-opacity="0.22"/>
<circle cx="287.7" cy="528.8" r="3.3" fill="#000" fill-opacity="0.22"/>
<circle cx="279.1" cy="466.4" r="3.3" fill="#000" fill-opacity="0.22"/>
<circle cx="276.7" cy="411.2" r="3.3" fill="#000" fill-opacity="0.22"/>
<circle cx="281.7" cy="534.7" r="3.3" fill="#000" fill-opacity="0.22"/>
<circle cx="290.0" cy="528.6" r="3.3" fill="#000" fill-opacity="0.22"/>
<circle cx="288.4" cy="470.0" r="3.3" fill="#000" fill-opacity="0.22"/>
<circle cx="278.9" cy="337.2" r="3.3" fill="#000" fill-opacity="0.22"/>
<circle cx="277.0" cy="534.3" r="3.3" fill="#000" fill-opacity="0.22"/>
<circle cx="290.1" cy="517.2" r="3.3" fill="#000" fill-opacity="0.22"/>
<circle cx="284.2" cy="475.5" r="3.3" fill="#000" fill-opacity="0.22"/>
<circle cx="286.4" cy="447.3" r="3.3" fill="#000" fill-opacity="0.22"/>
<circle cx="276.0" cy="533.9" r="3.3" fill="#000" fill-opacity="0.22"/>
<circle cx="275.5" cy="506.6" r="3.3" fill="#000" fill-opacity="0.22"/>
<circle cx="286.2" cy="447.7" r="3.3" fill="#000" fill-opacity="0.22"/>
<circle cx="281.7" cy="359.1" r="3.3" fill="#000" fill-opacity="0.22"/>
<circle cx="275.7" cy="532.4" r="3.3" fill="#000" fill-opacity="0.22"/>
<circle cx="290.5" cy="515.4" r="3.3" fill="#000" fill-opacity="0.22"/>
<circle cx="285.3" cy="486.3" r="3.3" fill="#000" fill-opacity="0.22"/>
<circle cx="288.1" cy="398.0" r="3.3" fill="#000" fill-opacity="0.22"/>
<circle cx="275.9" cy="533.3" r="3.3" fill="#000" fill-opacity="0.22"/>
<circle cx="289.1" cy="516.8" r="3.3" fill="#000" fill-opacity="0.22"/>
<circle cx="275.6" cy="477.2" r="3.3" fill="#000" fill-opacity="0.22"/>
<circle cx="289.2" cy="361.7" r="3.3" fill="#000" fill-opacity="0.22"/>
<circle cx="282.2" cy="532.1" r="3.3" fill="#000" fill-opacity="0.22"/>
<circle cx="280.3" cy="518.1" r="3.3" fill="#000" fill-opacity="0.22"/>
<circle cx="283.9" cy="460.8" r="3.3" fill="#000" fill-opacity="0.22"/>
<circle cx="290.3" cy="431.3" r="3.3" fill="#000" fill-opacity="0.22"/>
<circle cx="279.1" cy="535.7" r="3.3" fill="#000" fill-opacity="0.22"/>
<circle cx="276.7" cy="516.5" r="3.3" fill="#000" fill-opacity="0.22"/>
<circle cx="283.5" cy="477.6" r="3.3" fill="#000" fill-opacity="0.22"/>
<circle cx="278.6" cy="366.0" r="3.3" fill="#000" fill-opacity="0.22"/>
<circle cx="276.4" cy="536.5" r="3.3" fill="#000" fill-opacity="0.22"/>
<circle cx="277.2" cy="514.5" r="3.3" fill="#000" fill-opacity="0.22"/>
<circle cx="275.4" cy="480.3" r="3.3" fill="#000" fill-opacity="0.22"/>
<circle cx="277.9" cy="405.0" r="3.3" fill="#000" fill-opacity="0.22"/>
<circle cx="279.8" cy="534.3" r="3.3" fill="#000" fill-opacity="0.22"/>
<circle cx="279.7" cy="522.1" r="3.3" fill="#000" fill-opacity="0.22"/>
<circle cx="287.4" cy="471.7" r="3.3" fill="#000" fill-opacity="0.22"/>
<circle cx="279.4" cy="401.2" r="3.3" fill="#000" fill-opacity="0.22"/>
<circle cx="283.0" cy="534.1" r="3.3" fill="#000" fill-opacity="0.22"/>
<circle cx="277.5" cy="529.7" r="3.3" fill="#000" fill-opacity="0.22"/>
<circle cx="280.4" cy="484.9" r="3.3" fill="#000" fill-opacity="0.22"/>
<circle cx="274.8" cy="345.0" r="3.3" fill="#000" fill-opacity="0.22"/>
<circle cx="278.8" cy="536.7" r="3.3" fill="#000" fill-opacity="0.22"/>
<circle cx="274.8" cy="508.9" r="3.3" fill="#000" fill-opacity="0.22"/>
<circle cx="287.0" cy="477.4" r="3.3" fill="#000" fill-opacity="0.22"/>
<circle cx="283.9" cy="332.3" r="3.3" fill="#000" fill-opacity="0.22"/>
<circle cx="277.7" cy="536.1" r="3.3" fill="#000" fill-opacity="0.22"/>
<circle cx="282.6" cy="505.2" r="3.3" fill="#000" fill-opacity="0.22"/>
<circle cx="290.4" cy="454.0" r="3.3" fill="#000" fill-opacity="0.22"/>
<circle cx="276.3" cy="413.2" r="3.3" fill="#000" fill-opacity="0.22"/>
<circle cx="288.4" cy="531.9" r="3.3" fill="#000" fill-opacity="0.22"/>
<circle cx="281.8" cy="508.3" r="3.3" fill="#000" fill-opacity="0.22"/>
<circle cx="282.9" cy="451.4" r="3.3" fill="#000" fill-opacity="0.22"/>
<circle cx="288.7" cy="380.9" r="3.3" fill="#000" fill-opacity="0.22"/>
<circle cx="281.2" cy="535.8" r="3.3" fill="#000" fill-opacity="0.22"/>
<circle cx="283.1" cy="528.4" r="3.3" fill="#000" fill-opacity="0.22"/>
<circle cx="286.2" cy="455.8" r="3.3" fill="#000" fill-opacity="0.22"/>
<circle cx="291.2" cy="373.4" r="3.3" fill="#000" fill-opacity="0.22"/>
<circle cx="280.3" cy="535.1" r="3.3" fill="#000" fill-opacity="0.22"/>
<circle cx="288.6" cy="505.4" r="3.3" fill="#000" fill-opacity="0.22"/>
<circle cx="286.5" cy="494.7" r="3.3" fill="#000" fill-opacity="0.22"/>
<circle cx="285.3" cy="327.5" r="3.3" fill="#000" fill-opacity="0.22"/>
<circle cx="281.4" cy="532.7" r="3.3" fill="#000" fill-opacity="0.22"/>
<circle cx="280.4" cy="530.1" r="3.3" fill="#000" fill-opacity="0.22"/>
<circle cx="275.4" cy="468.8" r="3.3" fill="#000" fill-opacity="0.22"/>
<circle cx="276.7" cy="407.5" r="3.3" fill="#000" fill-opacity="0.22"/>
<circle cx="275.7" cy="536.9" r="3.3" fill="#000" fill-opacity="0.22"/>
<circle cx="287.1" cy="526.4" r="3.3" fill="#000" fill-opacity="0.22"/>
<circle cx="278.8" cy="456.1" r="3.3" fill="#000" fill-opacity="0.22"/>
<circle cx="277.3" cy="414.5" r="3.3" fill="#000" fill-opacity="0.22"/>
<circle cx="275.9" cy="534.3" r="3.3" fill="#000" fill-opacity="0.22"/>
<circle cx="288.8" cy="511.3" r="3.3" fill="#000" fill-opacity="0.22"/>
<circle cx="289.3" cy="191.5" r="3.3" fill="#000" fill-opacity="0.22"/>
<circle cx="285.9" cy="209.0" r="3.3" fill="#000" fill-opacity="0.22"/>
<circle cx="279.3" cy="225.0" r="3.3" fill="#000" fill-opacity="0.22"/>
<circle cx="278.6" cy="267.5" r="3.3" fill="#000" fill-opacity="0.22"/>
<circle cx="279.5" cy="287.5" r="3.3" fill="#000" fill-opacity="0.22"/>
<circle cx="282.3" cy="302.0" r="3.3" fill="#000" fill-opacity="0.22"/>
<circle cx="277.2" cy="303.0" r="3.3" fill="#000" fill-opacity="0.22"/>
<line x1="330.8" y1="325.0" x2="330.8" y2="324.0" stroke="#1a1a1a" stroke-width="1.6"/>
<line x1="330.8" y1="436.0" x2="330.8" y2="476.0" stroke="#1a1a1a" stroke-width="1.6"/>
<rect x="312.70" y="325.00" width="36.20" height="111.00" fill="#e31e26" stroke="#1a1a1a" stroke-width="1.8"/>
<line x1="312.7" y1="416.5" x2="348.9" y2="416.5" stroke="#1a1a1a" stroke-width="3.2"/>
<circle cx="331.6" cy="453.8" r="3.3" fill="#000" fill-opacity="0.22"/>
<circle cx="326.5" cy="421.6" r="3.3" fill="#000" fill-opacity="0.22"/>
<circle cx="338.7" cy="413.0" r="3.3" fill="#000" fill-opacity="0.22"/>
<circle cx="327.6" cy="324.0" r="3.3" fill="#000" fill-opacity="0.22"/>
<line x1="402.5" y1="498.5" x2="402.5" y2="462.5" stroke="#1a1a1a" stroke-width="1.6"/>
<line x1="402.5" y1="531.0" x2="402.5" y2="537.0" stroke="#1a1a1a" stroke-width="1.6"/>
<rect x="384.40" y="498.50" width="36.20" height="32.50" fill="#dcdcde" stroke="#1a1a1a" stroke-width="1.8"/>
<line x1="384.4" y1="520.5" x2="420.6" y2="520.5" stroke="#1a1a1a" stroke-width="3.2"/>
<circle cx="399.2" cy="533.1" r="3.3" fill="#000" fill-opacity="0.22"/>
<circle cx="403.7" cy="520.5" r="3.3" fill="#000" fill-opacity="0.22"/>
<circle cx="394.2" cy="506.9" r="3.3" fill="#000" fill-opacity="0.22"/>
<circle cx="395.0" cy="487.6" r="3.3" fill="#000" fill-opacity="0.22"/>
<circle cx="398.6" cy="534.0" r="3.3" fill="#000" fill-opacity="0.22"/>
<circle cx="405.4" cy="522.6" r="3.3" fill="#000" fill-opacity="0.22"/>
<circle cx="405.8" cy="509.6" r="3.3" fill="#000" fill-opacity="0.22"/>
<circle cx="405.5" cy="498.5" r="3.3" fill="#000" fill-opacity="0.22"/>
<circle cx="398.9" cy="532.6" r="3.3" fill="#000" fill-opacity="0.22"/>
<circle cx="402.8" cy="521.4" r="3.3" fill="#000" fill-opacity="0.22"/>
<circle cx="401.9" cy="507.3" r="3.3" fill="#000" fill-opacity="0.22"/>
<circle cx="401.9" cy="498.3" r="3.3" fill="#000" fill-opacity="0.22"/>
<circle cx="396.0" cy="531.1" r="3.3" fill="#000" fill-opacity="0.22"/>
<circle cx="409.2" cy="523.7" r="3.3" fill="#000" fill-opacity="0.22"/>
<circle cx="397.4" cy="503.6" r="3.3" fill="#000" fill-opacity="0.22"/>
<circle cx="410.6" cy="483.2" r="3.3" fill="#000" fill-opacity="0.22"/>
<circle cx="409.9" cy="534.2" r="3.3" fill="#000" fill-opacity="0.22"/>
<circle cx="394.3" cy="528.4" r="3.3" fill="#000" fill-opacity="0.22"/>
<circle cx="401.8" cy="513.0" r="3.3" fill="#000" fill-opacity="0.22"/>
<circle cx="407.9" cy="477.4" r="3.3" fill="#000" fill-opacity="0.22"/>
<circle cx="410.5" cy="536.3" r="3.3" fill="#000" fill-opacity="0.22"/>
<circle cx="401.6" cy="524.6" r="3.3" fill="#000" fill-opacity="0.22"/>
<circle cx="398.6" cy="505.7" r="3.3" fill="#000" fill-opacity="0.22"/>
<circle cx="397.6" cy="463.4" r="3.3" fill="#000" fill-opacity="0.22"/>
<circle cx="410.1" cy="531.9" r="3.3" fill="#000" fill-opacity="0.22"/>
<circle cx="397.6" cy="528.1" r="3.3" fill="#000" fill-opacity="0.22"/>
<circle cx="403.9" cy="512.7" r="3.3" fill="#000" fill-opacity="0.22"/>
<circle cx="396.4" cy="498.3" r="3.3" fill="#000" fill-opacity="0.22"/>
<circle cx="402.9" cy="536.0" r="3.3" fill="#000" fill-opacity="0.22"/>
<circle cx="410.2" cy="529.9" r="3.3" fill="#000" fill-opacity="0.22"/>
<circle cx="396.3" cy="512.3" r="3.3" fill="#000" fill-opacity="0.22"/>
<circle cx="407.9" cy="476.6" r="3.3" fill="#000" fill-opacity="0.22"/>
<circle cx="402.6" cy="535.9" r="3.3" fill="#000" fill-opacity="0.22"/>
<circle cx="409.1" cy="522.0" r="3.3" fill="#000" fill-opacity="0.22"/>
<circle cx="406.0" cy="510.0" r="3.3" fill="#000" fill-opacity="0.22"/>
<circle cx="397.9" cy="486.5" r="3.3" fill="#000" fill-opacity="0.22"/>
<circle cx="409.3" cy="536.0" r="3.3" fill="#000" fill-opacity="0.22"/>
<circle cx="402.3" cy="528.9" r="3.3" fill="#000" fill-opacity="0.22"/>
<circle cx="394.4" cy="516.7" r="3.3" fill="#000" fill-opacity="0.22"/>
<circle cx="394.1" cy="483.3" r="3.3" fill="#000" fill-opacity="0.22"/>
<circle cx="402.4" cy="536.4" r="3.3" fill="#000" fill-opacity="0.22"/>
<circle cx="401.7" cy="527.7" r="3.3" fill="#000" fill-opacity="0.22"/>
<circle cx="399.1" cy="513.8" r="3.3" fill="#000" fill-opacity="0.22"/>
<circle cx="396.4" cy="495.1" r="3.3" fill="#000" fill-opacity="0.22"/>
<circle cx="399.8" cy="531.2" r="3.3" fill="#000" fill-opacity="0.22"/>
<circle cx="399.4" cy="521.9" r="3.3" fill="#000" fill-opacity="0.22"/>
<circle cx="408.3" cy="506.4" r="3.3" fill="#000" fill-opacity="0.22"/>
<circle cx="394.0" cy="497.5" r="3.3" fill="#000" fill-opacity="0.22"/>
<circle cx="406.8" cy="536.0" r="3.3" fill="#000" fill-opacity="0.22"/>
<circle cx="408.3" cy="526.4" r="3.3" fill="#000" fill-opacity="0.22"/>
<circle cx="396.0" cy="512.3" r="3.3" fill="#000" fill-opacity="0.22"/>
<circle cx="409.7" cy="481.5" r="3.3" fill="#000" fill-opacity="0.22"/>
<circle cx="406.1" cy="535.1" r="3.3" fill="#000" fill-opacity="0.22"/>
<circle cx="409.3" cy="525.6" r="3.3" fill="#000" fill-opacity="0.22"/>
<circle cx="398.9" cy="498.6" r="3.3" fill="#000" fill-opacity="0.22"/>
<circle cx="400.3" cy="473.4" r="3.3" fill="#000" fill-opacity="0.22"/>
<circle cx="400.7" cy="535.5" r="3.3" fill="#000" fill-opacity="0.22"/>
<circle cx="411.0" cy="525.8" r="3.3" fill="#000" fill-opacity="0.22"/>
<circle cx="404.0" cy="510.3" r="3.3" fill="#000" fill-opacity="0.22"/>
<circle cx="400.1" cy="480.0" r="3.3" fill="#000" fill-opacity="0.22"/>
<circle cx="401.3" cy="531.4" r="3.3" fill="#000" fill-opacity="0.22"/>
<circle cx="398.7" cy="528.2" r="3.3" fill="#000" fill-opacity="0.22"/>
<circle cx="394.8" cy="504.0" r="3.3" fill="#000" fill-opacity="0.22"/>
<circle cx="395.7" cy="497.9" r="3.3" fill="#000" fill-opacity="0.22"/>
<circle cx="408.2" cy="532.6" r="3.3" fill="#000" fill-opacity="0.22"/>
<circle cx="398.9" cy="528.2" r="3.3" fill="#000" fill-opacity="0.22"/>
<circle cx="409.9" cy="503.0" r="3.3" fill="#000" fill-opacity="0.22"/>
<circle cx="398.2" cy="476.3" r="3.3" fill="#000" fill-opacity="0.22"/>
<circle cx="398.5" cy="536.9" r="3.3" fill="#000" fill-opacity="0.22"/>
<circle cx="402.7" cy="525.7" r="3.3" fill="#000" fill-opacity="0.22"/>
<circle cx="397.2" cy="506.9" r="3.3" fill="#000" fill-opacity="0.22"/>
<circle cx="400.3" cy="487.4" r="3.3" fill="#000" fill-opacity="0.22"/>
<circle cx="410.3" cy="535.1" r="3.3" fill="#000" fill-opacity="0.22"/>
<circle cx="409.0" cy="528.6" r="3.3" fill="#000" fill-opacity="0.22"/>
<circle cx="407.8" cy="512.1" r="3.3" fill="#000" fill-opacity="0.22"/>
<circle cx="404.7" cy="480.8" r="3.3" fill="#000" fill-opacity="0.22"/>
<circle cx="409.5" cy="531.5" r="3.3" fill="#000" fill-opacity="0.22"/>
<circle cx="410.0" cy="522.0" r="3.3" fill="#000" fill-opacity="0.22"/>
<circle cx="403.3" cy="504.1" r="3.3" fill="#000" fill-opacity="0.22"/>
<circle cx="406.2" cy="476.1" r="3.3" fill="#000" fill-opacity="0.22"/>
<circle cx="394.8" cy="390.0" r="3.3" fill="#000" fill-opacity="0.22"/>
<circle cx="406.4" cy="427.0" r="3.3" fill="#000" fill-opacity="0.22"/>
<circle cx="401.7" cy="430.0" r="3.3" fill="#000" fill-opacity="0.22"/>
<circle cx="406.8" cy="442.0" r="3.3" fill="#000" fill-opacity="0.22"/>
<circle cx="405.0" cy="449.0" r="3.3" fill="#000" fill-opacity="0.22"/>
<circle cx="398.9" cy="455.0" r="3.3" fill="#000" fill-opacity="0.22"/>
<line x1="450.3" y1="413.0" x2="450.3" y2="321.0" stroke="#1a1a1a" stroke-width="1.6"/>
<line x1="450.3" y1="518.0" x2="450.3" y2="537.0" stroke="#1a1a1a" stroke-width="1.6"/>
<rect x="432.20" y="413.00" width="36.20" height="105.00" fill="#35a047" stroke="#1a1a1a" stroke-width="1.8"/>
<line x1="432.2" y1="454.0" x2="468.4" y2="454.0" stroke="#1a1a1a" stroke-width="3.2"/>
<circle cx="448.5" cy="518.9" r="3.3" fill="#000" fill-opacity="0.22"/>
<circle cx="444.6" cy="513.3" r="3.3" fill="#000" fill-opacity="0.22"/>
<circle cx="444.5" cy="418.2" r="3.3" fill="#000" fill-opacity="0.22"/>
<circle cx="445.3" cy="385.3" r="3.3" fill="#000" fill-opacity="0.22"/>
<circle cx="457.2" cy="524.5" r="3.3" fill="#000" fill-opacity="0.22"/>
<circle cx="450.3" cy="473.1" r="3.3" fill="#000" fill-opacity="0.22"/>
<circle cx="445.5" cy="443.3" r="3.3" fill="#000" fill-opacity="0.22"/>
<circle cx="457.2" cy="324.5" r="3.3" fill="#000" fill-opacity="0.22"/>
<circle cx="458.7" cy="522.9" r="3.3" fill="#000" fill-opacity="0.22"/>
<circle cx="449.4" cy="496.0" r="3.3" fill="#000" fill-opacity="0.22"/>
<circle cx="444.2" cy="425.3" r="3.3" fill="#000" fill-opacity="0.22"/>
<circle cx="445.1" cy="376.9" r="3.3" fill="#000" fill-opacity="0.22"/>
<line x1="522.0" y1="432.5" x2="522.0" y2="326.0" stroke="#1a1a1a" stroke-width="1.6"/>
<line x1="522.0" y1="521.5" x2="522.0" y2="537.0" stroke="#1a1a1a" stroke-width="1.6"/>
<rect x="503.90" y="432.50" width="36.20" height="89.00" fill="#dcdcde" stroke="#1a1a1a" stroke-width="1.8"/>
<line x1="503.9" y1="485.5" x2="540.1" y2="485.5" stroke="#1a1a1a" stroke-width="3.2"/>
<circle cx="521.3" cy="522.9" r="3.3" fill="#000" fill-opacity="0.22"/>
<circle cx="529.8" cy="497.8" r="3.3" fill="#000" fill-opacity="0.22"/>
<circle cx="524.5" cy="437.3" r="3.3" fill="#000" fill-opacity="0.22"/>
<circle cx="528.5" cy="421.7" r="3.3" fill="#000" fill-opacity="0.22"/>
<circle cx="521.6" cy="525.5" r="3.3" fill="#000" fill-opacity="0.22"/>
<circle cx="517.5" cy="506.0" r="3.3" fill="#000" fill-opacity="0.22"/>
<circle cx="517.7" cy="479.5" r="3.3" fill="#000" fill-opacity="0.22"/>
<circle cx="529.8" cy="365.3" r="3.3" fill="#000" fill-opacity="0.22"/>
<circle cx="525.5" cy="527.9" r="3.3" fill="#000" fill-opacity="0.22"/>
<circle cx="518.7" cy="500.4" r="3.3" fill="#000" fill-opacity="0.22"/>
<circle cx="513.9" cy="460.3" r="3.3" fill="#000" fill-opacity="0.22"/>
<circle cx="522.0" cy="410.2" r="3.3" fill="#000" fill-opacity="0.22"/>
<circle cx="525.0" cy="526.7" r="3.3" fill="#000" fill-opacity="0.22"/>
<circle cx="520.6" cy="487.7" r="3.3" fill="#000" fill-opacity="0.22"/>
<circle cx="517.9" cy="447.2" r="3.3" fill="#000" fill-opacity="0.22"/>
<circle cx="524.8" cy="331.5" r="3.3" fill="#000" fill-opacity="0.22"/>
<circle cx="529.2" cy="523.5" r="3.3" fill="#000" fill-opacity="0.22"/>
<circle cx="517.4" cy="503.6" r="3.3" fill="#000" fill-opacity="0.22"/>
<circle cx="514.1" cy="465.9" r="3.3" fill="#000" fill-opacity="0.22"/>
<circle cx="519.2" cy="348.4" r="3.3" fill="#000" fill-opacity="0.22"/>
<circle cx="520.6" cy="524.8" r="3.3" fill="#000" fill-opacity="0.22"/>
<circle cx="525.1" cy="495.3" r="3.3" fill="#000" fill-opacity="0.22"/>
<circle cx="516.9" cy="445.7" r="3.3" fill="#000" fill-opacity="0.22"/>
<circle cx="527.1" cy="407.9" r="3.3" fill="#000" fill-opacity="0.22"/>
<circle cx="526.1" cy="528.4" r="3.3" fill="#000" fill-opacity="0.22"/>
<circle cx="522.1" cy="519.8" r="3.3" fill="#000" fill-opacity="0.22"/>
<circle cx="517.0" cy="477.5" r="3.3" fill="#000" fill-opacity="0.22"/>
<circle cx="530.0" cy="346.8" r="3.3" fill="#000" fill-opacity="0.22"/>
<circle cx="518.8" cy="521.8" r="3.3" fill="#000" fill-opacity="0.22"/>
<circle cx="527.4" cy="486.7" r="3.3" fill="#000" fill-opacity="0.22"/>
<circle cx="517.4" cy="470.1" r="3.3" fill="#000" fill-opacity="0.22"/>
<circle cx="517.3" cy="343.2" r="3.3" fill="#000" fill-opacity="0.22"/>
<circle cx="526.4" cy="528.8" r="3.3" fill="#000" fill-opacity="0.22"/>
<circle cx="518.5" cy="506.6" r="3.3" fill="#000" fill-opacity="0.22"/>
<circle cx="529.7" cy="432.5" r="3.3" fill="#000" fill-opacity="0.22"/>
<circle cx="521.9" cy="408.7" r="3.3" fill="#000" fill-opacity="0.22"/>
<circle cx="516.7" cy="535.9" r="3.3" fill="#000" fill-opacity="0.22"/>
<circle cx="517.3" cy="515.2" r="3.3" fill="#000" fill-opacity="0.22"/>
<circle cx="520.6" cy="477.8" r="3.3" fill="#000" fill-opacity="0.22"/>
<circle cx="524.8" cy="330.7" r="3.3" fill="#000" fill-opacity="0.22"/>
<circle cx="529.6" cy="525.4" r="3.3" fill="#000" fill-opacity="0.22"/>
<circle cx="516.0" cy="489.4" r="3.3" fill="#000" fill-opacity="0.22"/>
<circle cx="520.2" cy="440.7" r="3.3" fill="#000" fill-opacity="0.22"/>
<circle cx="517.1" cy="394.8" r="3.3" fill="#000" fill-opacity="0.22"/>
<circle cx="530.1" cy="532.1" r="3.3" fill="#000" fill-opacity="0.22"/>
<circle cx="515.9" cy="519.4" r="3.3" fill="#000" fill-opacity="0.22"/>
<circle cx="514.4" cy="470.8" r="3.3" fill="#000" fill-opacity="0.22"/>
<circle cx="514.5" cy="379.4" r="3.3" fill="#000" fill-opacity="0.22"/>
<circle cx="520.2" cy="533.4" r="3.3" fill="#000" fill-opacity="0.22"/>
<circle cx="528.8" cy="502.0" r="3.3" fill="#000" fill-opacity="0.22"/>
<circle cx="528.5" cy="461.7" r="3.3" fill="#000" fill-opacity="0.22"/>
<circle cx="526.0" cy="431.9" r="3.3" fill="#000" fill-opacity="0.22"/>
<circle cx="530.5" cy="533.6" r="3.3" fill="#000" fill-opacity="0.22"/>
<circle cx="529.3" cy="493.9" r="3.3" fill="#000" fill-opacity="0.22"/>
<circle cx="519.1" cy="481.3" r="3.3" fill="#000" fill-opacity="0.22"/>
<circle cx="516.7" cy="379.6" r="3.3" fill="#000" fill-opacity="0.22"/>
<circle cx="529.4" cy="526.2" r="3.3" fill="#000" fill-opacity="0.22"/>
<circle cx="526.2" cy="490.1" r="3.3" fill="#000" fill-opacity="0.22"/>
<circle cx="514.0" cy="445.8" r="3.3" fill="#000" fill-opacity="0.22"/>
<circle cx="524.8" cy="380.8" r="3.3" fill="#000" fill-opacity="0.22"/>
<circle cx="519.9" cy="532.3" r="3.3" fill="#000" fill-opacity="0.22"/>
<circle cx="519.9" cy="489.5" r="3.3" fill="#000" fill-opacity="0.22"/>
<circle cx="519.1" cy="436.2" r="3.3" fill="#000" fill-opacity="0.22"/>
<circle cx="516.4" cy="394.6" r="3.3" fill="#000" fill-opacity="0.22"/>
<circle cx="513.5" cy="530.5" r="3.3" fill="#000" fill-opacity="0.22"/>
<circle cx="518.3" cy="499.5" r="3.3" fill="#000" fill-opacity="0.22"/>
<circle cx="519.5" cy="444.3" r="3.3" fill="#000" fill-opacity="0.22"/>
<circle cx="529.7" cy="385.3" r="3.3" fill="#000" fill-opacity="0.22"/>
<circle cx="515.6" cy="521.7" r="3.3" fill="#000" fill-opacity="0.22"/>
<circle cx="529.9" cy="496.4" r="3.3" fill="#000" fill-opacity="0.22"/>
<circle cx="517.0" cy="290.0" r="3.3" fill="#000" fill-opacity="0.22"/>
<line x1="569.8" y1="438.0" x2="569.8" y2="359.0" stroke="#1a1a1a" stroke-width="1.6"/>
<line x1="569.8" y1="504.5" x2="569.8" y2="537.0" stroke="#1a1a1a" stroke-width="1.6"/>
<rect x="551.70" y="438.00" width="36.20" height="66.50" fill="#e31e26" stroke="#1a1a1a" stroke-width="1.8"/>
<line x1="551.7" y1="472.0" x2="587.9" y2="472.0" stroke="#1a1a1a" stroke-width="3.2"/>
<circle cx="561.9" cy="516.1" r="3.3" fill="#000" fill-opacity="0.22"/>
<circle cx="570.7" cy="498.7" r="3.3" fill="#000" fill-opacity="0.22"/>
<circle cx="566.8" cy="465.9" r="3.3" fill="#000" fill-opacity="0.22"/>
<circle cx="578.0" cy="417.3" r="3.3" fill="#000" fill-opacity="0.22"/>
<circle cx="576.3" cy="506.1" r="3.3" fill="#000" fill-opacity="0.22"/>
<circle cx="578.1" cy="487.4" r="3.3" fill="#000" fill-opacity="0.22"/>
<circle cx="565.8" cy="450.7" r="3.3" fill="#000" fill-opacity="0.22"/>
<circle cx="562.7" cy="368.9" r="3.3" fill="#000" fill-opacity="0.22"/>
<circle cx="562.9" cy="510.8" r="3.3" fill="#000" fill-opacity="0.22"/>
<circle cx="569.8" cy="483.8" r="3.3" fill="#000" fill-opacity="0.22"/>
<circle cx="573.4" cy="468.5" r="3.3" fill="#000" fill-opacity="0.22"/>
<circle cx="568.9" cy="437.7" r="3.3" fill="#000" fill-opacity="0.22"/>
<circle cx="565.3" cy="517.9" r="3.3" fill="#000" fill-opacity="0.22"/>
<circle cx="568.4" cy="498.4" r="3.3" fill="#000" fill-opacity="0.22"/>
<circle cx="571.8" cy="464.1" r="3.3" fill="#000" fill-opacity="0.22"/>
<circle cx="572.8" cy="437.5" r="3.3" fill="#000" fill-opacity="0.22"/>
<circle cx="574.0" cy="505.6" r="3.3" fill="#000" fill-opacity="0.22"/>
<circle cx="575.7" cy="474.0" r="3.3" fill="#000" fill-opacity="0.22"/>
<circle cx="572.6" cy="469.3" r="3.3" fill="#000" fill-opacity="0.22"/>
<circle cx="563.4" cy="429.0" r="3.3" fill="#000" fill-opacity="0.22"/>
<circle cx="575.6" cy="528.8" r="3.3" fill="#000" fill-opacity="0.22"/>
<circle cx="566.3" cy="501.2" r="3.3" fill="#000" fill-opacity="0.22"/>
<circle cx="570.9" cy="449.5" r="3.3" fill="#000" fill-opacity="0.22"/>
<circle cx="567.6" cy="428.1" r="3.3" fill="#000" fill-opacity="0.22"/>
<circle cx="573.8" cy="535.6" r="3.3" fill="#000" fill-opacity="0.22"/>
<circle cx="564.7" cy="492.1" r="3.3" fill="#000" fill-opacity="0.22"/>
<circle cx="565.5" cy="446.9" r="3.3" fill="#000" fill-opacity="0.22"/>
<circle cx="565.5" cy="391.6" r="3.3" fill="#000" fill-opacity="0.22"/>
<circle cx="563.9" cy="514.8" r="3.3" fill="#000" fill-opacity="0.22"/>
<circle cx="576.3" cy="481.0" r="3.3" fill="#000" fill-opacity="0.22"/>
<circle cx="571.1" cy="438.1" r="3.3" fill="#000" fill-opacity="0.22"/>
<circle cx="566.8" cy="387.5" r="3.3" fill="#000" fill-opacity="0.22"/>
<circle cx="568.0" cy="534.3" r="3.3" fill="#000" fill-opacity="0.22"/>
<circle cx="578.2" cy="492.6" r="3.3" fill="#000" fill-opacity="0.22"/>
<circle cx="569.9" cy="470.1" r="3.3" fill="#000" fill-opacity="0.22"/>
<circle cx="565.2" cy="437.8" r="3.3" fill="#000" fill-opacity="0.22"/>
<circle cx="575.0" cy="512.1" r="3.3" fill="#000" fill-opacity="0.22"/>
<circle cx="572.4" cy="487.4" r="3.3" fill="#000" fill-opacity="0.22"/>
<circle cx="578.1" cy="470.5" r="3.3" fill="#000" fill-opacity="0.22"/>
<circle cx="563.0" cy="364.7" r="3.3" fill="#000" fill-opacity="0.22"/>
<circle cx="569.4" cy="517.1" r="3.3" fill="#000" fill-opacity="0.22"/>
<circle cx="575.2" cy="480.2" r="3.3" fill="#000" fill-opacity="0.22"/>
<circle cx="575.6" cy="452.6" r="3.3" fill="#000" fill-opacity="0.22"/>
<circle cx="576.8" cy="412.5" r="3.3" fill="#000" fill-opacity="0.22"/>
<circle cx="562.0" cy="534.7" r="3.3" fill="#000" fill-opacity="0.22"/>
<circle cx="566.3" cy="477.9" r="3.3" fill="#000" fill-opacity="0.22"/>
<circle cx="563.3" cy="465.3" r="3.3" fill="#000" fill-opacity="0.22"/>
<circle cx="564.5" cy="389.4" r="3.3" fill="#000" fill-opacity="0.22"/>
<circle cx="577.8" cy="531.2" r="3.3" fill="#000" fill-opacity="0.22"/>
<circle cx="571.2" cy="497.1" r="3.3" fill="#000" fill-opacity="0.22"/>
<circle cx="577.1" cy="458.6" r="3.3" fill="#000" fill-opacity="0.22"/>
<circle cx="567.6" cy="424.7" r="3.3" fill="#000" fill-opacity="0.22"/>
<circle cx="576.0" cy="514.9" r="3.3" fill="#000" fill-opacity="0.22"/>
<circle cx="568.9" cy="483.8" r="3.3" fill="#000" fill-opacity="0.22"/>
<circle cx="565.7" cy="464.6" r="3.3" fill="#000" fill-opacity="0.22"/>
<circle cx="574.5" cy="436.6" r="3.3" fill="#000" fill-opacity="0.22"/>
<circle cx="577.4" cy="510.9" r="3.3" fill="#000" fill-opacity="0.22"/>
<circle cx="563.1" cy="496.5" r="3.3" fill="#000" fill-opacity="0.22"/>
<circle cx="571.4" cy="446.4" r="3.3" fill="#000" fill-opacity="0.22"/>
<circle cx="571.8" cy="437.0" r="3.3" fill="#000" fill-opacity="0.22"/>
<circle cx="565.0" cy="262.5" r="3.3" fill="#000" fill-opacity="0.22"/>
<line x1="641.5" y1="531.0" x2="641.5" y2="528.0" stroke="#1a1a1a" stroke-width="1.6"/>
<line x1="641.5" y1="536.8" x2="641.5" y2="537.0" stroke="#1a1a1a" stroke-width="1.6"/>
<rect x="623.40" y="531.00" width="36.20" height="5.80" fill="#dcdcde" stroke="#1a1a1a" stroke-width="1.8"/>
<line x1="623.4" y1="534.5" x2="659.6" y2="534.5" stroke="#1a1a1a" stroke-width="3.2"/>
<circle cx="636.1" cy="536.9" r="3.3" fill="#000" fill-opacity="0.22"/>
<circle cx="638.3" cy="534.8" r="3.3" fill="#000" fill-opacity="0.22"/>
<circle cx="636.5" cy="531.7" r="3.3" fill="#000" fill-opacity="0.22"/>
<circle cx="646.5" cy="530.7" r="3.3" fill="#000" fill-opacity="0.22"/>
<circle cx="642.3" cy="536.9" r="3.3" fill="#000" fill-opacity="0.22"/>
<circle cx="634.1" cy="536.0" r="3.3" fill="#000" fill-opacity="0.22"/>
<circle cx="634.7" cy="531.7" r="3.3" fill="#000" fill-opacity="0.22"/>
<circle cx="639.7" cy="531.0" r="3.3" fill="#000" fill-opacity="0.22"/>
<circle cx="642.4" cy="536.9" r="3.3" fill="#000" fill-opacity="0.22"/>
<circle cx="643.9" cy="536.1" r="3.3" fill="#000" fill-opacity="0.22"/>
<circle cx="634.5" cy="438.5" r="3.3" fill="#000" fill-opacity="0.22"/>
<circle cx="635.8" cy="510.0" r="3.3" fill="#000" fill-opacity="0.22"/>
<circle cx="644.8" cy="520.0" r="3.3" fill="#000" fill-opacity="0.22"/>
<line x1="689.3" y1="481.4" x2="689.3" y2="406.0" stroke="#1a1a1a" stroke-width="1.6"/>
<line x1="689.3" y1="532.7" x2="689.3" y2="537.0" stroke="#1a1a1a" stroke-width="1.6"/>
<rect x="671.20" y="481.40" width="36.20" height="51.30" fill="#35a047" stroke="#1a1a1a" stroke-width="1.8"/>
<line x1="671.2" y1="521.2" x2="707.4" y2="521.2" stroke="#1a1a1a" stroke-width="3.2"/>
<circle cx="683.0" cy="534.5" r="3.3" fill="#000" fill-opacity="0.22"/>
<circle cx="688.1" cy="524.5" r="3.3" fill="#000" fill-opacity="0.22"/>
<circle cx="682.4" cy="493.6" r="3.3" fill="#000" fill-opacity="0.22"/>
<circle cx="688.3" cy="411.6" r="3.3" fill="#000" fill-opacity="0.22"/>
<circle cx="689.5" cy="534.0" r="3.3" fill="#000" fill-opacity="0.22"/>
<circle cx="681.5" cy="527.7" r="3.3" fill="#000" fill-opacity="0.22"/>
<circle cx="691.6" cy="495.6" r="3.3" fill="#000" fill-opacity="0.22"/>
<circle cx="682.2" cy="462.8" r="3.3" fill="#000" fill-opacity="0.22"/>
<circle cx="693.3" cy="536.4" r="3.3" fill="#000" fill-opacity="0.22"/>
<circle cx="694.0" cy="532.7" r="3.3" fill="#000" fill-opacity="0.22"/>
<circle cx="689.5" cy="495.9" r="3.3" fill="#000" fill-opacity="0.22"/>
<circle cx="681.7" cy="475.8" r="3.3" fill="#000" fill-opacity="0.22"/>
<circle cx="689.4" cy="535.8" r="3.3" fill="#000" fill-opacity="0.22"/>
<circle cx="687.2" cy="523.5" r="3.3" fill="#000" fill-opacity="0.22"/>
<circle cx="697.0" cy="481.6" r="3.3" fill="#000" fill-opacity="0.22"/>
<circle cx="683.1" cy="417.5" r="3.3" fill="#000" fill-opacity="0.22"/>
<circle cx="695.4" cy="534.5" r="3.3" fill="#000" fill-opacity="0.22"/>
<circle cx="697.7" cy="530.6" r="3.3" fill="#000" fill-opacity="0.22"/>
<circle cx="693.2" cy="497.6" r="3.3" fill="#000" fill-opacity="0.22"/>
<circle cx="694.7" cy="419.6" r="3.3" fill="#000" fill-opacity="0.22"/>
<circle cx="684.1" cy="534.7" r="3.3" fill="#000" fill-opacity="0.22"/>
<circle cx="697.5" cy="523.1" r="3.3" fill="#000" fill-opacity="0.22"/>
<circle cx="689.2" cy="482.0" r="3.3" fill="#000" fill-opacity="0.22"/>
<circle cx="697.1" cy="452.3" r="3.3" fill="#000" fill-opacity="0.22"/>
<circle cx="696.4" cy="535.5" r="3.3" fill="#000" fill-opacity="0.22"/>
<circle cx="683.6" cy="531.7" r="3.3" fill="#000" fill-opacity="0.22"/>
<circle cx="694.2" cy="484.9" r="3.3" fill="#000" fill-opacity="0.22"/>
<circle cx="696.6" cy="446.1" r="3.3" fill="#000" fill-opacity="0.22"/>
<circle cx="681.9" cy="534.3" r="3.3" fill="#000" fill-opacity="0.22"/>
<circle cx="686.8" cy="527.0" r="3.3" fill="#000" fill-opacity="0.22"/>
<circle cx="693.7" cy="487.2" r="3.3" fill="#000" fill-opacity="0.22"/>
<circle cx="683.5" cy="471.4" r="3.3" fill="#000" fill-opacity="0.22"/>
<circle cx="696.0" cy="534.9" r="3.3" fill="#000" fill-opacity="0.22"/>
<circle cx="685.5" cy="531.8" r="3.3" fill="#000" fill-opacity="0.22"/>
<circle cx="694.7" cy="485.7" r="3.3" fill="#000" fill-opacity="0.22"/>
<circle cx="683.2" cy="457.3" r="3.3" fill="#000" fill-opacity="0.22"/>
<circle cx="689.3" cy="536.2" r="3.3" fill="#000" fill-opacity="0.22"/>
<circle cx="696.4" cy="532.3" r="3.3" fill="#000" fill-opacity="0.22"/>
<circle cx="684.3" cy="489.3" r="3.3" fill="#000" fill-opacity="0.22"/>
<circle cx="685.3" cy="478.6" r="3.3" fill="#000" fill-opacity="0.22"/>
<circle cx="689.4" cy="536.8" r="3.3" fill="#000" fill-opacity="0.22"/>
<circle cx="686.2" cy="532.4" r="3.3" fill="#000" fill-opacity="0.22"/>
<circle cx="681.4" cy="500.6" r="3.3" fill="#000" fill-opacity="0.22"/>
<circle cx="683.9" cy="480.7" r="3.3" fill="#000" fill-opacity="0.22"/>
<circle cx="683.5" cy="536.7" r="3.3" fill="#000" fill-opacity="0.22"/>
<circle cx="696.7" cy="525.7" r="3.3" fill="#000" fill-opacity="0.22"/>
<circle cx="692.4" cy="517.4" r="3.3" fill="#000" fill-opacity="0.22"/>
<circle cx="696.0" cy="446.3" r="3.3" fill="#000" fill-opacity="0.22"/>
<circle cx="683.7" cy="536.2" r="3.3" fill="#000" fill-opacity="0.22"/>
<circle cx="694.1" cy="523.0" r="3.3" fill="#000" fill-opacity="0.22"/>
<circle cx="682.8" cy="512.7" r="3.3" fill="#000" fill-opacity="0.22"/>
<circle cx="689.8" cy="474.6" r="3.3" fill="#000" fill-opacity="0.22"/>
<circle cx="691.6" cy="534.4" r="3.3" fill="#000" fill-opacity="0.22"/>
<circle cx="686.9" cy="530.9" r="3.3" fill="#000" fill-opacity="0.22"/>
<circle cx="695.6" cy="514.4" r="3.3" fill="#000" fill-opacity="0.22"/>
<circle cx="690.2" cy="476.4" r="3.3" fill="#000" fill-opacity="0.22"/>
<circle cx="690.7" cy="533.6" r="3.3" fill="#000" fill-opacity="0.22"/>
<circle cx="695.8" cy="525.8" r="3.3" fill="#000" fill-opacity="0.22"/>
<circle cx="682.6" cy="502.0" r="3.3" fill="#000" fill-opacity="0.22"/>
<circle cx="697.7" cy="465.1" r="3.3" fill="#000" fill-opacity="0.22"/>
<circle cx="691.5" cy="533.2" r="3.3" fill="#000" fill-opacity="0.22"/>
<circle cx="687.5" cy="524.0" r="3.3" fill="#000" fill-opacity="0.22"/>
<circle cx="694.4" cy="510.3" r="3.3" fill="#000" fill-opacity="0.22"/>
<circle cx="685.3" cy="418.0" r="3.3" fill="#000" fill-opacity="0.22"/>
<circle cx="697.6" cy="532.9" r="3.3" fill="#000" fill-opacity="0.22"/>
<circle cx="690.6" cy="527.7" r="3.3" fill="#000" fill-opacity="0.22"/>
<circle cx="686.9" cy="511.5" r="3.3" fill="#000" fill-opacity="0.22"/>
<circle cx="693.8" cy="481.0" r="3.3" fill="#000" fill-opacity="0.22"/>
<circle cx="688.3" cy="536.3" r="3.3" fill="#000" fill-opacity="0.22"/>
<circle cx="683.8" cy="522.6" r="3.3" fill="#000" fill-opacity="0.22"/>
<circle cx="693.4" cy="505.3" r="3.3" fill="#000" fill-opacity="0.22"/>
<circle cx="681.6" cy="452.4" r="3.3" fill="#000" fill-opacity="0.22"/>
<circle cx="694.7" cy="535.4" r="3.3" fill="#000" fill-opacity="0.22"/>
<circle cx="685.1" cy="524.7" r="3.3" fill="#000" fill-opacity="0.22"/>
<circle cx="691.7" cy="498.1" r="3.3" fill="#000" fill-opacity="0.22"/>
<circle cx="697.5" cy="449.6" r="3.3" fill="#000" fill-opacity="0.22"/>
<circle cx="690.8" cy="534.5" r="3.3" fill="#000" fill-opacity="0.22"/>
<circle cx="692.1" cy="528.8" r="3.3" fill="#000" fill-opacity="0.22"/>
<circle cx="686.1" cy="499.2" r="3.3" fill="#000" fill-opacity="0.22"/>
<circle cx="680.8" cy="461.2" r="3.3" fill="#000" fill-opacity="0.22"/>
<circle cx="681.4" cy="532.8" r="3.3" fill="#000" fill-opacity="0.22"/>
<circle cx="683.3" cy="528.3" r="3.3" fill="#000" fill-opacity="0.22"/>
<circle cx="691.3" cy="500.9" r="3.3" fill="#000" fill-opacity="0.22"/>
<circle cx="688.1" cy="474.0" r="3.3" fill="#000" fill-opacity="0.22"/>
<circle cx="689.5" cy="536.0" r="3.3" fill="#000" fill-opacity="0.22"/>
<circle cx="696.0" cy="530.2" r="3.3" fill="#000" fill-opacity="0.22"/>
<circle cx="683.0" cy="499.6" r="3.3" fill="#000" fill-opacity="0.22"/>
<circle cx="684.7" cy="476.6" r="3.3" fill="#000" fill-opacity="0.22"/>
<circle cx="691.9" cy="534.7" r="3.3" fill="#000" fill-opacity="0.22"/>
<circle cx="681.2" cy="522.4" r="3.3" fill="#000" fill-opacity="0.22"/>
<circle cx="680.8" cy="289.0" r="3.3" fill="#000" fill-opacity="0.22"/>
<circle cx="686.8" cy="325.0" r="3.3" fill="#000" fill-opacity="0.22"/>
<circle cx="682.6" cy="330.0" r="3.3" fill="#000" fill-opacity="0.22"/>
<circle cx="686.9" cy="365.0" r="3.3" fill="#000" fill-opacity="0.22"/>
<circle cx="684.6" cy="370.0" r="3.3" fill="#000" fill-opacity="0.22"/>
<circle cx="690.7" cy="375.0" r="3.3" fill="#000" fill-opacity="0.22"/>
<line x1="737.1" y1="511.4" x2="737.1" y2="498.0" stroke="#1a1a1a" stroke-width="1.6"/>
<line x1="737.1" y1="536.8" x2="737.1" y2="537.0" stroke="#1a1a1a" stroke-width="1.6"/>
<rect x="719.00" y="511.40" width="36.20" height="25.40" fill="#dcdcde" stroke="#1a1a1a" stroke-width="1.8"/>
<line x1="719.0" y1="532.7" x2="755.2" y2="532.7" stroke="#1a1a1a" stroke-width="3.2"/>
<circle cx="741.2" cy="536.9" r="3.3" fill="#000" fill-opacity="0.22"/>
<circle cx="736.3" cy="533.5" r="3.3" fill="#000" fill-opacity="0.22"/>
<circle cx="732.4" cy="524.7" r="3.3" fill="#000" fill-opacity="0.22"/>
<circle cx="730.4" cy="507.3" r="3.3" fill="#000" fill-opacity="0.22"/>
<circle cx="732.5" cy="536.8" r="3.3" fill="#000" fill-opacity="0.22"/>
<circle cx="729.3" cy="536.5" r="3.3" fill="#000" fill-opacity="0.22"/>
<circle cx="734.3" cy="516.6" r="3.3" fill="#000" fill-opacity="0.22"/>
<circle cx="741.3" cy="510.8" r="3.3" fill="#000" fill-opacity="0.22"/>
<circle cx="740.4" cy="536.8" r="3.3" fill="#000" fill-opacity="0.22"/>
<circle cx="743.0" cy="535.3" r="3.3" fill="#000" fill-opacity="0.22"/>
<circle cx="740.7" cy="530.0" r="3.3" fill="#000" fill-opacity="0.22"/>
<circle cx="733.1" cy="502.4" r="3.3" fill="#000" fill-opacity="0.22"/>
<circle cx="738.0" cy="536.9" r="3.3" fill="#000" fill-opacity="0.22"/>
<circle cx="736.0" cy="533.8" r="3.3" fill="#000" fill-opacity="0.22"/>
<circle cx="742.0" cy="511.6" r="3.3" fill="#000" fill-opacity="0.22"/>
<circle cx="737.5" cy="504.8" r="3.3" fill="#000" fill-opacity="0.22"/>
<circle cx="733.1" cy="536.9" r="3.3" fill="#000" fill-opacity="0.22"/>
<circle cx="739.5" cy="534.1" r="3.3" fill="#000" fill-opacity="0.22"/>
<circle cx="745.0" cy="525.2" r="3.3" fill="#000" fill-opacity="0.22"/>
<circle cx="732.3" cy="507.7" r="3.3" fill="#000" fill-opacity="0.22"/>
<circle cx="743.6" cy="537.0" r="3.3" fill="#000" fill-opacity="0.22"/>
<circle cx="728.9" cy="535.7" r="3.3" fill="#000" fill-opacity="0.22"/>
<circle cx="733.0" cy="516.7" r="3.3" fill="#000" fill-opacity="0.22"/>
<circle cx="732.6" cy="500.0" r="3.3" fill="#000" fill-opacity="0.22"/>
<circle cx="741.2" cy="536.8" r="3.3" fill="#000" fill-opacity="0.22"/>
<circle cx="744.7" cy="534.9" r="3.3" fill="#000" fill-opacity="0.22"/>
<circle cx="741.3" cy="520.0" r="3.3" fill="#000" fill-opacity="0.22"/>
<circle cx="734.2" cy="510.1" r="3.3" fill="#000" fill-opacity="0.22"/>
<circle cx="743.6" cy="536.8" r="3.3" fill="#000" fill-opacity="0.22"/>
<circle cx="734.2" cy="535.9" r="3.3" fill="#000" fill-opacity="0.22"/>
<circle cx="732.7" cy="511.7" r="3.3" fill="#000" fill-opacity="0.22"/>
<circle cx="744.0" cy="506.2" r="3.3" fill="#000" fill-opacity="0.22"/>
<circle cx="739.3" cy="537.0" r="3.3" fill="#000" fill-opacity="0.22"/>
<circle cx="740.4" cy="533.3" r="3.3" fill="#000" fill-opacity="0.22"/>
<circle cx="739.9" cy="515.6" r="3.3" fill="#000" fill-opacity="0.22"/>
<circle cx="745.2" cy="505.4" r="3.3" fill="#000" fill-opacity="0.22"/>
<circle cx="736.6" cy="536.9" r="3.3" fill="#000" fill-opacity="0.22"/>
<circle cx="742.9" cy="535.3" r="3.3" fill="#000" fill-opacity="0.22"/>
<circle cx="740.5" cy="528.7" r="3.3" fill="#000" fill-opacity="0.22"/>
<circle cx="743.2" cy="510.6" r="3.3" fill="#000" fill-opacity="0.22"/>
<circle cx="736.0" cy="536.9" r="3.3" fill="#000" fill-opacity="0.22"/>
<circle cx="740.9" cy="533.9" r="3.3" fill="#000" fill-opacity="0.22"/>
<circle cx="738.3" cy="512.4" r="3.3" fill="#000" fill-opacity="0.22"/>
<circle cx="733.8" cy="500.3" r="3.3" fill="#000" fill-opacity="0.22"/>
<circle cx="732.2" cy="537.0" r="3.3" fill="#000" fill-opacity="0.22"/>
<circle cx="739.2" cy="535.6" r="3.3" fill="#000" fill-opacity="0.22"/>
<circle cx="729.9" cy="511.5" r="3.3" fill="#000" fill-opacity="0.22"/>
<circle cx="744.1" cy="501.2" r="3.3" fill="#000" fill-opacity="0.22"/>
<circle cx="731.1" cy="536.9" r="3.3" fill="#000" fill-opacity="0.22"/>
<circle cx="729.1" cy="534.6" r="3.3" fill="#000" fill-opacity="0.22"/>
<circle cx="730.4" cy="289.0" r="3.3" fill="#000" fill-opacity="0.22"/>
<circle cx="744.4" cy="328.0" r="3.3" fill="#000" fill-opacity="0.22"/>
<circle cx="734.5" cy="330.0" r="3.3" fill="#000" fill-opacity="0.22"/>
<circle cx="731.0" cy="368.0" r="3.3" fill="#000" fill-opacity="0.22"/>
<circle cx="729.1" cy="370.0" r="3.3" fill="#000" fill-opacity="0.22"/>
<circle cx="729.3" cy="446.0" r="3.3" fill="#000" fill-opacity="0.22"/>
<circle cx="740.4" cy="468.0" r="3.3" fill="#000" fill-opacity="0.22"/>
<line x1="784.9" y1="459.5" x2="784.9" y2="360.0" stroke="#1a1a1a" stroke-width="1.6"/>
<line x1="784.9" y1="527.0" x2="784.9" y2="537.0" stroke="#1a1a1a" stroke-width="1.6"/>
<rect x="766.80" y="459.50" width="36.20" height="67.50" fill="#e31e26" stroke="#1a1a1a" stroke-width="1.8"/>
<line x1="766.8" y1="506.8" x2="803.0" y2="506.8" stroke="#1a1a1a" stroke-width="3.2"/>
<circle cx="783.4" cy="533.3" r="3.3" fill="#000" fill-opacity="0.22"/>
<circle cx="783.8" cy="520.9" r="3.3" fill="#000" fill-opacity="0.22"/>
<circle cx="789.5" cy="494.3" r="3.3" fill="#000" fill-opacity="0.22"/>
<circle cx="782.3" cy="458.2" r="3.3" fill="#000" fill-opacity="0.22"/>
<circle cx="788.4" cy="532.9" r="3.3" fill="#000" fill-opacity="0.22"/>
<circle cx="785.5" cy="514.1" r="3.3" fill="#000" fill-opacity="0.22"/>
<circle cx="780.1" cy="498.2" r="3.3" fill="#000" fill-opacity="0.22"/>
<circle cx="791.1" cy="387.1" r="3.3" fill="#000" fill-opacity="0.22"/>
<circle cx="777.9" cy="535.9" r="3.3" fill="#000" fill-opacity="0.22"/>
<circle cx="790.3" cy="508.1" r="3.3" fill="#000" fill-opacity="0.22"/>
<circle cx="779.3" cy="500.5" r="3.3" fill="#000" fill-opacity="0.22"/>
<circle cx="776.4" cy="373.3" r="3.3" fill="#000" fill-opacity="0.22"/>
<circle cx="779.8" cy="536.4" r="3.3" fill="#000" fill-opacity="0.22"/>
<circle cx="789.4" cy="509.0" r="3.3" fill="#000" fill-opacity="0.22"/>
<circle cx="793.0" cy="469.2" r="3.3" fill="#000" fill-opacity="0.22"/>
<circle cx="776.5" cy="456.5" r="3.3" fill="#000" fill-opacity="0.22"/>
<circle cx="784.7" cy="527.3" r="3.3" fill="#000" fill-opacity="0.22"/>
<circle cx="784.8" cy="523.9" r="3.3" fill="#000" fill-opacity="0.22"/>
<circle cx="789.9" cy="497.9" r="3.3" fill="#000" fill-opacity="0.22"/>
<circle cx="779.5" cy="411.5" r="3.3" fill="#000" fill-opacity="0.22"/>
<circle cx="784.8" cy="535.3" r="3.3" fill="#000" fill-opacity="0.22"/>
<circle cx="782.3" cy="519.6" r="3.3" fill="#000" fill-opacity="0.22"/>
<circle cx="790.5" cy="473.1" r="3.3" fill="#000" fill-opacity="0.22"/>
<circle cx="780.8" cy="457.0" r="3.3" fill="#000" fill-opacity="0.22"/>
<circle cx="792.4" cy="528.0" r="3.3" fill="#000" fill-opacity="0.22"/>
<circle cx="781.2" cy="522.1" r="3.3" fill="#000" fill-opacity="0.22"/>
<circle cx="780.1" cy="469.2" r="3.3" fill="#000" fill-opacity="0.22"/>
<circle cx="788.3" cy="443.5" r="3.3" fill="#000" fill-opacity="0.22"/>
<circle cx="784.9" cy="531.2" r="3.3" fill="#000" fill-opacity="0.22"/>
<circle cx="778.3" cy="507.2" r="3.3" fill="#000" fill-opacity="0.22"/>
<circle cx="787.2" cy="471.6" r="3.3" fill="#000" fill-opacity="0.22"/>
<circle cx="777.8" cy="446.3" r="3.3" fill="#000" fill-opacity="0.22"/>
<circle cx="789.8" cy="534.2" r="3.3" fill="#000" fill-opacity="0.22"/>
<circle cx="788.3" cy="514.2" r="3.3" fill="#000" fill-opacity="0.22"/>
<circle cx="789.8" cy="474.7" r="3.3" fill="#000" fill-opacity="0.22"/>
<circle cx="787.1" cy="365.7" r="3.3" fill="#000" fill-opacity="0.22"/>
<circle cx="782.4" cy="532.0" r="3.3" fill="#000" fill-opacity="0.22"/>
<circle cx="783.2" cy="524.0" r="3.3" fill="#000" fill-opacity="0.22"/>
<circle cx="783.1" cy="488.7" r="3.3" fill="#000" fill-opacity="0.22"/>
<circle cx="791.5" cy="459.1" r="3.3" fill="#000" fill-opacity="0.22"/>
<circle cx="777.9" cy="289.0" r="3.3" fill="#000" fill-opacity="0.22"/>
<line x1="832.7" y1="518.3" x2="832.7" y2="508.0" stroke="#1a1a1a" stroke-width="1.6"/>
<line x1="832.7" y1="536.8" x2="832.7" y2="537.0" stroke="#1a1a1a" stroke-width="1.6"/>
<rect x="814.60" y="518.30" width="36.20" height="18.50" fill="#dcdcde" stroke="#1a1a1a" stroke-width="1.8"/>
<line x1="814.6" y1="533.9" x2="850.8" y2="533.9" stroke="#1a1a1a" stroke-width="3.2"/>
<circle cx="827.5" cy="537.0" r="3.3" fill="#000" fill-opacity="0.22"/>
<circle cx="835.0" cy="534.0" r="3.3" fill="#000" fill-opacity="0.22"/>
<circle cx="826.0" cy="521.5" r="3.3" fill="#000" fill-opacity="0.22"/>
<circle cx="827.7" cy="517.1" r="3.3" fill="#000" fill-opacity="0.22"/>
<circle cx="830.8" cy="537.0" r="3.3" fill="#000" fill-opacity="0.22"/>
<circle cx="824.8" cy="535.4" r="3.3" fill="#000" fill-opacity="0.22"/>
<circle cx="831.0" cy="524.2" r="3.3" fill="#000" fill-opacity="0.22"/>
<circle cx="837.6" cy="509.8" r="3.3" fill="#000" fill-opacity="0.22"/>
<circle cx="836.0" cy="536.8" r="3.3" fill="#000" fill-opacity="0.22"/>
<circle cx="832.7" cy="535.2" r="3.3" fill="#000" fill-opacity="0.22"/>
<circle cx="835.0" cy="526.6" r="3.3" fill="#000" fill-opacity="0.22"/>
<circle cx="832.1" cy="511.7" r="3.3" fill="#000" fill-opacity="0.22"/>
<circle cx="826.6" cy="537.0" r="3.3" fill="#000" fill-opacity="0.22"/>
<circle cx="834.5" cy="535.8" r="3.3" fill="#000" fill-opacity="0.22"/>
<circle cx="831.1" cy="523.7" r="3.3" fill="#000" fill-opacity="0.22"/>
<circle cx="836.8" cy="516.6" r="3.3" fill="#000" fill-opacity="0.22"/>
<circle cx="839.6" cy="536.8" r="3.3" fill="#000" fill-opacity="0.22"/>
<circle cx="831.5" cy="536.3" r="3.3" fill="#000" fill-opacity="0.22"/>
<circle cx="834.0" cy="528.6" r="3.3" fill="#000" fill-opacity="0.22"/>
<circle cx="836.9" cy="511.9" r="3.3" fill="#000" fill-opacity="0.22"/>
<circle cx="831.4" cy="536.8" r="3.3" fill="#000" fill-opacity="0.22"/>
<circle cx="828.1" cy="535.2" r="3.3" fill="#000" fill-opacity="0.22"/>
<circle cx="836.5" cy="530.4" r="3.3" fill="#000" fill-opacity="0.22"/>
<circle cx="839.2" cy="514.0" r="3.3" fill="#000" fill-opacity="0.22"/>
<circle cx="837.4" cy="536.8" r="3.3" fill="#000" fill-opacity="0.22"/>
<circle cx="836.1" cy="535.2" r="3.3" fill="#000" fill-opacity="0.22"/>
<circle cx="838.7" cy="532.1" r="3.3" fill="#000" fill-opacity="0.22"/>
<circle cx="835.8" cy="517.3" r="3.3" fill="#000" fill-opacity="0.22"/>
<circle cx="835.1" cy="536.8" r="3.3" fill="#000" fill-opacity="0.22"/>
<circle cx="831.9" cy="534.8" r="3.3" fill="#000" fill-opacity="0.22"/>
<circle cx="829.5" cy="529.3" r="3.3" fill="#000" fill-opacity="0.22"/>
<circle cx="834.9" cy="510.5" r="3.3" fill="#000" fill-opacity="0.22"/>
<circle cx="825.9" cy="536.8" r="3.3" fill="#000" fill-opacity="0.22"/>
<circle cx="831.3" cy="534.4" r="3.3" fill="#000" fill-opacity="0.22"/>
<circle cx="837.5" cy="522.2" r="3.3" fill="#000" fill-opacity="0.22"/>
<circle cx="836.3" cy="516.6" r="3.3" fill="#000" fill-opacity="0.22"/>
<circle cx="834.9" cy="536.9" r="3.3" fill="#000" fill-opacity="0.22"/>
<circle cx="828.5" cy="534.4" r="3.3" fill="#000" fill-opacity="0.22"/>
<circle cx="831.4" cy="523.4" r="3.3" fill="#000" fill-opacity="0.22"/>
<circle cx="831.9" cy="517.6" r="3.3" fill="#000" fill-opacity="0.22"/>
<circle cx="834.8" cy="537.0" r="3.3" fill="#000" fill-opacity="0.22"/>
<circle cx="831.2" cy="536.0" r="3.3" fill="#000" fill-opacity="0.22"/>
<circle cx="835.7" cy="519.9" r="3.3" fill="#000" fill-opacity="0.22"/>
<circle cx="840.0" cy="508.6" r="3.3" fill="#000" fill-opacity="0.22"/>
<circle cx="827.3" cy="536.8" r="3.3" fill="#000" fill-opacity="0.22"/>
<circle cx="835.3" cy="535.0" r="3.3" fill="#000" fill-opacity="0.22"/>
<circle cx="837.4" cy="533.6" r="3.3" fill="#000" fill-opacity="0.22"/>
<circle cx="830.8" cy="511.2" r="3.3" fill="#000" fill-opacity="0.22"/>
<circle cx="832.5" cy="536.9" r="3.3" fill="#000" fill-opacity="0.22"/>
<circle cx="840.8" cy="535.2" r="3.3" fill="#000" fill-opacity="0.22"/>
<circle cx="824.8" cy="371.0" r="3.3" fill="#000" fill-opacity="0.22"/>
<circle cx="833.4" cy="377.0" r="3.3" fill="#000" fill-opacity="0.22"/>
<circle cx="826.9" cy="423.0" r="3.3" fill="#000" fill-opacity="0.22"/>
<circle cx="837.5" cy="446.0" r="3.3" fill="#000" fill-opacity="0.22"/>
<circle cx="840.2" cy="477.0" r="3.3" fill="#000" fill-opacity="0.22"/>
<line x1="880.5" y1="473.4" x2="880.5" y2="404.0" stroke="#1a1a1a" stroke-width="1.6"/>
<line x1="880.5" y1="532.7" x2="880.5" y2="537.0" stroke="#1a1a1a" stroke-width="1.6"/>
<rect x="862.40" y="473.40" width="36.20" height="59.30" fill="#1f77b4" stroke="#1a1a1a" stroke-width="1.8"/>
<line x1="862.4" y1="513.1" x2="898.6" y2="513.1" stroke="#1a1a1a" stroke-width="3.2"/>
<circle cx="886.5" cy="534.9" r="3.3" fill="#000" fill-opacity="0.22"/>
<circle cx="873.0" cy="515.1" r="3.3" fill="#000" fill-opacity="0.22"/>
<circle cx="886.1" cy="496.2" r="3.3" fill="#000" fill-opacity="0.22"/>
<circle cx="887.4" cy="447.4" r="3.3" fill="#000" fill-opacity="0.22"/>
<circle cx="885.3" cy="535.8" r="3.3" fill="#000" fill-opacity="0.22"/>
<circle cx="874.4" cy="523.1" r="3.3" fill="#000" fill-opacity="0.22"/>
<circle cx="886.1" cy="498.8" r="3.3" fill="#000" fill-opacity="0.22"/>
<circle cx="882.8" cy="422.0" r="3.3" fill="#000" fill-opacity="0.22"/>
<circle cx="872.3" cy="534.9" r="3.3" fill="#000" fill-opacity="0.22"/>
<circle cx="872.2" cy="521.1" r="3.3" fill="#000" fill-opacity="0.22"/>
<circle cx="888.2" cy="511.0" r="3.3" fill="#000" fill-opacity="0.22"/>
<circle cx="883.2" cy="467.7" r="3.3" fill="#000" fill-opacity="0.22"/>
<circle cx="876.3" cy="535.6" r="3.3" fill="#000" fill-opacity="0.22"/>
<circle cx="873.7" cy="520.8" r="3.3" fill="#000" fill-opacity="0.22"/>
<circle cx="874.4" cy="503.7" r="3.3" fill="#000" fill-opacity="0.22"/>
<circle cx="876.0" cy="471.0" r="3.3" fill="#000" fill-opacity="0.22"/>
<circle cx="885.2" cy="536.9" r="3.3" fill="#000" fill-opacity="0.22"/>
<circle cx="877.9" cy="520.1" r="3.3" fill="#000" fill-opacity="0.22"/>
<circle cx="874.6" cy="475.6" r="3.3" fill="#000" fill-opacity="0.22"/>
<circle cx="887.4" cy="464.6" r="3.3" fill="#000" fill-opacity="0.22"/>
<circle cx="885.5" cy="534.4" r="3.3" fill="#000" fill-opacity="0.22"/>
<circle cx="874.9" cy="513.4" r="3.3" fill="#000" fill-opacity="0.22"/>
<circle cx="887.1" cy="490.0" r="3.3" fill="#000" fill-opacity="0.22"/>
<circle cx="882.3" cy="456.0" r="3.3" fill="#000" fill-opacity="0.22"/>
<circle cx="885.3" cy="535.7" r="3.3" fill="#000" fill-opacity="0.22"/>
<circle cx="883.4" cy="520.0" r="3.3" fill="#000" fill-opacity="0.22"/>
<circle cx="887.2" cy="483.9" r="3.3" fill="#000" fill-opacity="0.22"/>
<circle cx="885.4" cy="467.0" r="3.3" fill="#000" fill-opacity="0.22"/>
<circle cx="886.3" cy="535.9" r="3.3" fill="#000" fill-opacity="0.22"/>
<circle cx="875.4" cy="531.5" r="3.3" fill="#000" fill-opacity="0.22"/>
<circle cx="883.8" cy="494.3" r="3.3" fill="#000" fill-opacity="0.22"/>
<circle cx="881.0" cy="467.3" r="3.3" fill="#000" fill-opacity="0.22"/>
<circle cx="884.6" cy="536.1" r="3.3" fill="#000" fill-opacity="0.22"/>
<circle cx="879.5" cy="520.8" r="3.3" fill="#000" fill-opacity="0.22"/>
<circle cx="887.0" cy="481.8" r="3.3" fill="#000" fill-opacity="0.22"/>
<circle cx="881.4" cy="470.8" r="3.3" fill="#000" fill-opacity="0.22"/>
<circle cx="876.5" cy="536.0" r="3.3" fill="#000" fill-opacity="0.22"/>
<circle cx="876.0" cy="529.0" r="3.3" fill="#000" fill-opacity="0.22"/>
<circle cx="874.4" cy="498.6" r="3.3" fill="#000" fill-opacity="0.22"/>
<circle cx="880.4" cy="452.7" r="3.3" fill="#000" fill-opacity="0.22"/>
<circle cx="873.0" cy="535.1" r="3.3" fill="#000" fill-opacity="0.22"/>
<circle cx="879.9" cy="517.5" r="3.3" fill="#000" fill-opacity="0.22"/>
<circle cx="874.5" cy="511.7" r="3.3" fill="#000" fill-opacity="0.22"/>
<circle cx="880.4" cy="460.3" r="3.3" fill="#000" fill-opacity="0.22"/>
<circle cx="880.5" cy="535.4" r="3.3" fill="#000" fill-opacity="0.22"/>
<circle cx="881.2" cy="529.1" r="3.3" fill="#000" fill-opacity="0.22"/>
<circle cx="886.7" cy="505.8" r="3.3" fill="#000" fill-opacity="0.22"/>
<circle cx="872.1" cy="452.8" r="3.3" fill="#000" fill-opacity="0.22"/>
<circle cx="886.3" cy="534.0" r="3.3" fill="#000" fill-opacity="0.22"/>
<circle cx="880.0" cy="523.8" r="3.3" fill="#000" fill-opacity="0.22"/>
<circle cx="881.6" cy="478.4" r="3.3" fill="#000" fill-opacity="0.22"/>
<circle cx="883.3" cy="421.5" r="3.3" fill="#000" fill-opacity="0.22"/>
<circle cx="886.3" cy="534.2" r="3.3" fill="#000" fill-opacity="0.22"/>
<circle cx="878.4" cy="529.8" r="3.3" fill="#000" fill-opacity="0.22"/>
<circle cx="879.1" cy="484.0" r="3.3" fill="#000" fill-opacity="0.22"/>
<circle cx="888.3" cy="458.9" r="3.3" fill="#000" fill-opacity="0.22"/>
<circle cx="873.3" cy="533.8" r="3.3" fill="#000" fill-opacity="0.22"/>
<circle cx="882.8" cy="521.5" r="3.3" fill="#000" fill-opacity="0.22"/>
<circle cx="882.8" cy="480.8" r="3.3" fill="#000" fill-opacity="0.22"/>
<circle cx="872.5" cy="473.4" r="3.3" fill="#000" fill-opacity="0.22"/>
<circle cx="882.4" cy="535.8" r="3.3" fill="#000" fill-opacity="0.22"/>
<circle cx="883.6" cy="518.6" r="3.3" fill="#000" fill-opacity="0.22"/>
<circle cx="887.8" cy="483.1" r="3.3" fill="#000" fill-opacity="0.22"/>
<circle cx="877.6" cy="463.2" r="3.3" fill="#000" fill-opacity="0.22"/>
<circle cx="888.7" cy="534.8" r="3.3" fill="#000" fill-opacity="0.22"/>
<circle cx="880.7" cy="521.5" r="3.3" fill="#000" fill-opacity="0.22"/>
<circle cx="880.2" cy="498.7" r="3.3" fill="#000" fill-opacity="0.22"/>
<circle cx="887.3" cy="437.8" r="3.3" fill="#000" fill-opacity="0.22"/>
<circle cx="872.6" cy="534.3" r="3.3" fill="#000" fill-opacity="0.22"/>
<circle cx="884.2" cy="531.3" r="3.3" fill="#000" fill-opacity="0.22"/>
<circle cx="882.6" cy="289.0" r="3.3" fill="#000" fill-opacity="0.22"/>
<circle cx="877.8" cy="328.0" r="3.3" fill="#000" fill-opacity="0.22"/>
<circle cx="886.6" cy="331.0" r="3.3" fill="#000" fill-opacity="0.22"/>
<circle cx="878.2" cy="361.0" r="3.3" fill="#000" fill-opacity="0.22"/>
<circle cx="880.1" cy="366.0" r="3.3" fill="#000" fill-opacity="0.22"/>
<circle cx="880.9" cy="372.0" r="3.3" fill="#000" fill-opacity="0.22"/>
<line x1="952.2" y1="526.4" x2="952.2" y2="511.4" stroke="#1a1a1a" stroke-width="1.6"/>
<line x1="952.2" y1="536.8" x2="952.2" y2="537.0" stroke="#1a1a1a" stroke-width="1.6"/>
<rect x="934.10" y="526.40" width="36.20" height="10.40" fill="#dcdcde" stroke="#1a1a1a" stroke-width="1.8"/>
<line x1="934.1" y1="534.5" x2="970.3" y2="534.5" stroke="#1a1a1a" stroke-width="3.2"/>
<circle cx="944.5" cy="537.0" r="3.3" fill="#000" fill-opacity="0.22"/>
<circle cx="948.8" cy="535.0" r="3.3" fill="#000" fill-opacity="0.22"/>
<circle cx="943.8" cy="529.9" r="3.3" fill="#000" fill-opacity="0.22"/>
<circle cx="946.9" cy="522.6" r="3.3" fill="#000" fill-opacity="0.22"/>
<circle cx="959.4" cy="536.9" r="3.3" fill="#000" fill-opacity="0.22"/>
<circle cx="954.0" cy="536.4" r="3.3" fill="#000" fill-opacity="0.22"/>
<circle cx="954.9" cy="528.8" r="3.3" fill="#000" fill-opacity="0.22"/>
<circle cx="957.1" cy="515.3" r="3.3" fill="#000" fill-opacity="0.22"/>
<circle cx="959.2" cy="536.9" r="3.3" fill="#000" fill-opacity="0.22"/>
<circle cx="954.1" cy="535.7" r="3.3" fill="#000" fill-opacity="0.22"/>
<circle cx="954.2" cy="528.6" r="3.3" fill="#000" fill-opacity="0.22"/>
<circle cx="954.4" cy="521.3" r="3.3" fill="#000" fill-opacity="0.22"/>
<circle cx="955.5" cy="537.0" r="3.3" fill="#000" fill-opacity="0.22"/>
<circle cx="953.8" cy="536.0" r="3.3" fill="#000" fill-opacity="0.22"/>
<circle cx="955.3" cy="532.8" r="3.3" fill="#000" fill-opacity="0.22"/>
<circle cx="947.3" cy="523.8" r="3.3" fill="#000" fill-opacity="0.22"/>
<circle cx="955.0" cy="536.9" r="3.3" fill="#000" fill-opacity="0.22"/>
<circle cx="951.5" cy="535.2" r="3.3" fill="#000" fill-opacity="0.22"/>
<circle cx="956.7" cy="531.2" r="3.3" fill="#000" fill-opacity="0.22"/>
<circle cx="945.4" cy="519.2" r="3.3" fill="#000" fill-opacity="0.22"/>
<circle cx="946.8" cy="537.0" r="3.3" fill="#000" fill-opacity="0.22"/>
<circle cx="944.3" cy="534.6" r="3.3" fill="#000" fill-opacity="0.22"/>
<circle cx="956.9" cy="532.3" r="3.3" fill="#000" fill-opacity="0.22"/>
<circle cx="959.2" cy="514.0" r="3.3" fill="#000" fill-opacity="0.22"/>
<circle cx="954.8" cy="536.9" r="3.3" fill="#000" fill-opacity="0.22"/>
<circle cx="950.0" cy="509.0" r="3.3" fill="#000" fill-opacity="0.22"/>
<circle cx="957.7" cy="512.0" r="3.3" fill="#000" fill-opacity="0.22"/>
<line x1="1000.0" y1="496.4" x2="1000.0" y2="443.4" stroke="#1a1a1a" stroke-width="1.6"/>
<line x1="1000.0" y1="535.6" x2="1000.0" y2="537.0" stroke="#1a1a1a" stroke-width="1.6"/>
<rect x="981.90" y="496.40" width="36.20" height="39.20" fill="#e31e26" stroke="#1a1a1a" stroke-width="1.8"/>
<line x1="981.9" y1="520.6" x2="1018.1" y2="520.6" stroke="#1a1a1a" stroke-width="3.2"/>
<circle cx="1005.1" cy="536.7" r="3.3" fill="#000" fill-opacity="0.22"/>
<circle cx="997.7" cy="529.0" r="3.3" fill="#000" fill-opacity="0.22"/>
<circle cx="1002.5" cy="502.6" r="3.3" fill="#000" fill-opacity="0.22"/>
<circle cx="1002.2" cy="488.6" r="3.3" fill="#000" fill-opacity="0.22"/>
<circle cx="998.6" cy="536.2" r="3.3" fill="#000" fill-opacity="0.22"/>
<circle cx="998.1" cy="525.4" r="3.3" fill="#000" fill-opacity="0.22"/>
<circle cx="1004.9" cy="506.8" r="3.3" fill="#000" fill-opacity="0.22"/>
<circle cx="1007.6" cy="470.3" r="3.3" fill="#000" fill-opacity="0.22"/>
<circle cx="1004.8" cy="536.9" r="3.3" fill="#000" fill-opacity="0.22"/>
<circle cx="1001.1" cy="521.4" r="3.3" fill="#000" fill-opacity="0.22"/>
<circle cx="996.5" cy="510.1" r="3.3" fill="#000" fill-opacity="0.22"/>
<circle cx="992.5" cy="496.1" r="3.3" fill="#000" fill-opacity="0.22"/>
<circle cx="1008.1" cy="535.8" r="3.3" fill="#000" fill-opacity="0.22"/>
<circle cx="1003.5" cy="532.8" r="3.3" fill="#000" fill-opacity="0.22"/>
<circle cx="1005.6" cy="510.3" r="3.3" fill="#000" fill-opacity="0.22"/>
<circle cx="997.1" cy="450.1" r="3.3" fill="#000" fill-opacity="0.22"/>
<circle cx="1001.8" cy="536.2" r="3.3" fill="#000" fill-opacity="0.22"/>
<circle cx="1008.1" cy="520.8" r="3.3" fill="#000" fill-opacity="0.22"/>
<circle cx="1005.6" cy="505.8" r="3.3" fill="#000" fill-opacity="0.22"/>
<circle cx="1001.7" cy="473.5" r="3.3" fill="#000" fill-opacity="0.22"/>
<circle cx="996.7" cy="536.9" r="3.3" fill="#000" fill-opacity="0.22"/>
<circle cx="998.8" cy="535.3" r="3.3" fill="#000" fill-opacity="0.22"/>
<circle cx="1006.6" cy="507.9" r="3.3" fill="#000" fill-opacity="0.22"/>
<circle cx="997.9" cy="483.6" r="3.3" fill="#000" fill-opacity="0.22"/>
<circle cx="1003.1" cy="535.7" r="3.3" fill="#000" fill-opacity="0.22"/>
<circle cx="1001.7" cy="530.3" r="3.3" fill="#000" fill-opacity="0.22"/>
<circle cx="1006.7" cy="501.5" r="3.3" fill="#000" fill-opacity="0.22"/>
<circle cx="1005.2" cy="493.8" r="3.3" fill="#000" fill-opacity="0.22"/>
<circle cx="996.3" cy="535.6" r="3.3" fill="#000" fill-opacity="0.22"/>
<circle cx="991.5" cy="520.7" r="3.3" fill="#000" fill-opacity="0.22"/>
<circle cx="996.0" cy="512.9" r="3.3" fill="#000" fill-opacity="0.22"/>
<circle cx="998.7" cy="494.6" r="3.3" fill="#000" fill-opacity="0.22"/>
<circle cx="1001.5" cy="537.0" r="3.3" fill="#000" fill-opacity="0.22"/>
<circle cx="1005.4" cy="521.9" r="3.3" fill="#000" fill-opacity="0.22"/>
<circle cx="1006.6" cy="517.4" r="3.3" fill="#000" fill-opacity="0.22"/>
<circle cx="992.2" cy="494.4" r="3.3" fill="#000" fill-opacity="0.22"/>
<circle cx="1005.7" cy="535.6" r="3.3" fill="#000" fill-opacity="0.22"/>
<circle cx="1005.3" cy="531.4" r="3.3" fill="#000" fill-opacity="0.22"/>
<circle cx="1006.2" cy="502.3" r="3.3" fill="#000" fill-opacity="0.22"/>
<circle cx="1001.2" cy="464.1" r="3.3" fill="#000" fill-opacity="0.22"/>
<circle cx="996.2" cy="535.9" r="3.3" fill="#000" fill-opacity="0.22"/>
<circle cx="1006.0" cy="521.4" r="3.3" fill="#000" fill-opacity="0.22"/>
<circle cx="1005.2" cy="515.1" r="3.3" fill="#000" fill-opacity="0.22"/>
<circle cx="1003.1" cy="465.5" r="3.3" fill="#000" fill-opacity="0.22"/>
<circle cx="1007.0" cy="536.8" r="3.3" fill="#000" fill-opacity="0.22"/>
<circle cx="997.4" cy="531.5" r="3.3" fill="#000" fill-opacity="0.22"/>
<circle cx="992.9" cy="498.4" r="3.3" fill="#000" fill-opacity="0.22"/>
<circle cx="1000.9" cy="471.2" r="3.3" fill="#000" fill-opacity="0.22"/>
<circle cx="1005.1" cy="536.6" r="3.3" fill="#000" fill-opacity="0.22"/>
<circle cx="994.9" cy="527.5" r="3.3" fill="#000" fill-opacity="0.22"/>
<circle cx="1004.3" cy="519.0" r="3.3" fill="#000" fill-opacity="0.22"/>
<circle cx="1007.3" cy="490.5" r="3.3" fill="#000" fill-opacity="0.22"/>
<circle cx="995.5" cy="537.0" r="3.3" fill="#000" fill-opacity="0.22"/>
<circle cx="1001.8" cy="531.4" r="3.3" fill="#000" fill-opacity="0.22"/>
<circle cx="1003.0" cy="496.7" r="3.3" fill="#000" fill-opacity="0.22"/>
<circle cx="999.4" cy="496.3" r="3.3" fill="#000" fill-opacity="0.22"/>
<circle cx="995.0" cy="536.5" r="3.3" fill="#000" fill-opacity="0.22"/>
<circle cx="995.8" cy="532.9" r="3.3" fill="#000" fill-opacity="0.22"/>
<circle cx="1004.3" cy="498.3" r="3.3" fill="#000" fill-opacity="0.22"/>
<circle cx="1005.0" cy="488.2" r="3.3" fill="#000" fill-opacity="0.22"/>
<circle cx="999.3" cy="536.6" r="3.3" fill="#000" fill-opacity="0.22"/>
<circle cx="993.0" cy="523.1" r="3.3" fill="#000" fill-opacity="0.22"/>
<circle cx="1005.2" cy="517.2" r="3.3" fill="#000" fill-opacity="0.22"/>
<circle cx="1004.6" cy="479.7" r="3.3" fill="#000" fill-opacity="0.22"/>
<circle cx="995.5" cy="535.7" r="3.3" fill="#000" fill-opacity="0.22"/>
<circle cx="1001.4" cy="526.1" r="3.3" fill="#000" fill-opacity="0.22"/>
<circle cx="1006.7" cy="510.3" r="3.3" fill="#000" fill-opacity="0.22"/>
<circle cx="1006.5" cy="482.2" r="3.3" fill="#000" fill-opacity="0.22"/>
<circle cx="1000.4" cy="536.5" r="3.3" fill="#000" fill-opacity="0.22"/>
<circle cx="999.6" cy="522.8" r="3.3" fill="#000" fill-opacity="0.22"/>
<circle cx="1001.5" cy="419.0" r="3.3" fill="#000" fill-opacity="0.22"/>
<circle cx="994.7" cy="425.0" r="3.3" fill="#000" fill-opacity="0.22"/>
<circle cx="994.8" cy="436.0" r="3.3" fill="#000" fill-opacity="0.22"/>
<line x1="1071.7" y1="514.9" x2="1071.7" y2="498.2" stroke="#1a1a1a" stroke-width="1.6"/>
<line x1="1071.7" y1="530.4" x2="1071.7" y2="537.0" stroke="#1a1a1a" stroke-width="1.6"/>
<rect x="1053.60" y="514.90" width="36.20" height="15.50" fill="#dcdcde" stroke="#1a1a1a" stroke-width="1.8"/>
<line x1="1053.6" y1="526.4" x2="1089.8" y2="526.4" stroke="#1a1a1a" stroke-width="3.2"/>
<circle cx="1071.4" cy="531.6" r="3.3" fill="#000" fill-opacity="0.22"/>
<circle cx="1066.1" cy="529.2" r="3.3" fill="#000" fill-opacity="0.22"/>
<circle cx="1067.3" cy="519.1" r="3.3" fill="#000" fill-opacity="0.22"/>
<circle cx="1065.6" cy="508.2" r="3.3" fill="#000" fill-opacity="0.22"/>
<circle cx="1074.7" cy="533.1" r="3.3" fill="#000" fill-opacity="0.22"/>
<circle cx="1063.4" cy="528.5" r="3.3" fill="#000" fill-opacity="0.22"/>
<circle cx="1075.4" cy="516.6" r="3.3" fill="#000" fill-opacity="0.22"/>
<circle cx="1066.5" cy="514.8" r="3.3" fill="#000" fill-opacity="0.22"/>
<circle cx="1063.8" cy="537.0" r="3.3" fill="#000" fill-opacity="0.22"/>
<circle cx="1079.0" cy="527.9" r="3.3" fill="#000" fill-opacity="0.22"/>
<circle cx="1066.9" cy="516.1" r="3.3" fill="#000" fill-opacity="0.22"/>
<circle cx="1079.1" cy="506.9" r="3.3" fill="#000" fill-opacity="0.22"/>
<circle cx="1077.9" cy="535.6" r="3.3" fill="#000" fill-opacity="0.22"/>
<circle cx="1078.3" cy="527.0" r="3.3" fill="#000" fill-opacity="0.22"/>
<circle cx="1065.6" cy="521.8" r="3.3" fill="#000" fill-opacity="0.22"/>
<circle cx="1070.8" cy="511.9" r="3.3" fill="#000" fill-opacity="0.22"/>
<circle cx="1064.8" cy="533.8" r="3.3" fill="#000" fill-opacity="0.22"/>
<circle cx="1079.0" cy="526.5" r="3.3" fill="#000" fill-opacity="0.22"/>
<circle cx="1077.5" cy="515.3" r="3.3" fill="#000" fill-opacity="0.22"/>
<circle cx="1073.9" cy="498.5" r="3.3" fill="#000" fill-opacity="0.22"/>
<circle cx="1070.9" cy="536.1" r="3.3" fill="#000" fill-opacity="0.22"/>
<circle cx="1069.0" cy="528.3" r="3.3" fill="#000" fill-opacity="0.22"/>
<circle cx="1077.2" cy="521.4" r="3.3" fill="#000" fill-opacity="0.22"/>
<circle cx="1071.3" cy="512.9" r="3.3" fill="#000" fill-opacity="0.22"/>
<circle cx="1073.9" cy="535.5" r="3.3" fill="#000" fill-opacity="0.22"/>
<circle cx="1065.6" cy="528.1" r="3.3" fill="#000" fill-opacity="0.22"/>
<circle cx="1067.0" cy="525.8" r="3.3" fill="#000" fill-opacity="0.22"/>
<circle cx="1064.2" cy="504.0" r="3.3" fill="#000" fill-opacity="0.22"/>
<circle cx="1075.3" cy="535.8" r="3.3" fill="#000" fill-opacity="0.22"/>
<circle cx="1072.6" cy="530.3" r="3.3" fill="#000" fill-opacity="0.22"/>
<circle cx="1065.7" cy="517.8" r="3.3" fill="#000" fill-opacity="0.22"/>
<circle cx="1078.0" cy="514.8" r="3.3" fill="#000" fill-opacity="0.22"/>
<circle cx="1067.7" cy="531.7" r="3.3" fill="#000" fill-opacity="0.22"/>
<circle cx="1070.2" cy="527.1" r="3.3" fill="#000" fill-opacity="0.22"/>
<circle cx="1065.8" cy="515.9" r="3.3" fill="#000" fill-opacity="0.22"/>
<circle cx="1067.8" cy="514.8" r="3.3" fill="#000" fill-opacity="0.22"/>
<circle cx="1077.5" cy="534.1" r="3.3" fill="#000" fill-opacity="0.22"/>
<circle cx="1068.9" cy="529.9" r="3.3" fill="#000" fill-opacity="0.22"/>
<circle cx="1066.1" cy="520.2" r="3.3" fill="#000" fill-opacity="0.22"/>
<circle cx="1071.5" cy="499.6" r="3.3" fill="#000" fill-opacity="0.22"/>
<circle cx="1068.6" cy="536.4" r="3.3" fill="#000" fill-opacity="0.22"/>
<circle cx="1078.6" cy="526.7" r="3.3" fill="#000" fill-opacity="0.22"/>
<circle cx="1065.1" cy="521.8" r="3.3" fill="#000" fill-opacity="0.22"/>
<circle cx="1079.8" cy="511.1" r="3.3" fill="#000" fill-opacity="0.22"/>
<circle cx="1064.2" cy="531.2" r="3.3" fill="#000" fill-opacity="0.22"/>
<circle cx="1078.4" cy="530.2" r="3.3" fill="#000" fill-opacity="0.22"/>
<circle cx="1074.6" cy="517.9" r="3.3" fill="#000" fill-opacity="0.22"/>
<circle cx="1066.8" cy="508.2" r="3.3" fill="#000" fill-opacity="0.22"/>
<circle cx="1071.3" cy="534.6" r="3.3" fill="#000" fill-opacity="0.22"/>
<circle cx="1068.1" cy="530.2" r="3.3" fill="#000" fill-opacity="0.22"/>
<circle cx="1067.6" cy="522.6" r="3.3" fill="#000" fill-opacity="0.22"/>
<circle cx="1066.6" cy="511.2" r="3.3" fill="#000" fill-opacity="0.22"/>
<circle cx="1069.4" cy="533.4" r="3.3" fill="#000" fill-opacity="0.22"/>
<circle cx="1080.0" cy="527.0" r="3.3" fill="#000" fill-opacity="0.22"/>
<circle cx="1080.2" cy="526.0" r="3.3" fill="#000" fill-opacity="0.22"/>
<circle cx="1078.9" cy="498.4" r="3.3" fill="#000" fill-opacity="0.22"/>
<circle cx="1064.9" cy="531.9" r="3.3" fill="#000" fill-opacity="0.22"/>
<circle cx="1068.1" cy="526.6" r="3.3" fill="#000" fill-opacity="0.22"/>
<circle cx="1078.4" cy="517.8" r="3.3" fill="#000" fill-opacity="0.22"/>
<circle cx="1064.2" cy="511.8" r="3.3" fill="#000" fill-opacity="0.22"/>
<circle cx="1075.6" cy="536.4" r="3.3" fill="#000" fill-opacity="0.22"/>
<circle cx="1068.2" cy="530.0" r="3.3" fill="#000" fill-opacity="0.22"/>
<circle cx="1079.8" cy="524.5" r="3.3" fill="#000" fill-opacity="0.22"/>
<circle cx="1063.5" cy="514.8" r="3.3" fill="#000" fill-opacity="0.22"/>
<circle cx="1076.9" cy="535.6" r="3.3" fill="#000" fill-opacity="0.22"/>
<circle cx="1069.0" cy="529.2" r="3.3" fill="#000" fill-opacity="0.22"/>
<circle cx="1065.6" cy="522.3" r="3.3" fill="#000" fill-opacity="0.22"/>
<circle cx="1063.2" cy="498.6" r="3.3" fill="#000" fill-opacity="0.22"/>
<circle cx="1077.3" cy="530.8" r="3.3" fill="#000" fill-opacity="0.22"/>
<circle cx="1072.2" cy="527.0" r="3.3" fill="#000" fill-opacity="0.22"/>
<circle cx="1066.4" cy="523.6" r="3.3" fill="#000" fill-opacity="0.22"/>
<circle cx="1070.6" cy="499.8" r="3.3" fill="#000" fill-opacity="0.22"/>
<circle cx="1078.7" cy="534.9" r="3.3" fill="#000" fill-opacity="0.22"/>
<circle cx="1066.9" cy="527.6" r="3.3" fill="#000" fill-opacity="0.22"/>
<circle cx="1072.9" cy="521.7" r="3.3" fill="#000" fill-opacity="0.22"/>
<circle cx="1065.5" cy="504.2" r="3.3" fill="#000" fill-opacity="0.22"/>
<circle cx="1066.3" cy="531.1" r="3.3" fill="#000" fill-opacity="0.22"/>
<circle cx="1076.3" cy="527.7" r="3.3" fill="#000" fill-opacity="0.22"/>
<circle cx="1075.3" cy="517.9" r="3.3" fill="#000" fill-opacity="0.22"/>
<circle cx="1066.5" cy="514.3" r="3.3" fill="#000" fill-opacity="0.22"/>
<circle cx="1064.5" cy="410.0" r="3.3" fill="#000" fill-opacity="0.22"/>
<circle cx="1064.7" cy="452.0" r="3.3" fill="#000" fill-opacity="0.22"/>
<circle cx="1073.5" cy="455.0" r="3.3" fill="#000" fill-opacity="0.22"/>
<circle cx="1071.6" cy="466.0" r="3.3" fill="#000" fill-opacity="0.22"/>
<circle cx="1067.9" cy="482.0" r="3.3" fill="#000" fill-opacity="0.22"/>
<circle cx="1066.7" cy="490.0" r="3.3" fill="#000" fill-opacity="0.22"/>
<line x1="1119.5" y1="469.3" x2="1119.5" y2="457.8" stroke="#1a1a1a" stroke-width="1.6"/>
<line x1="1119.5" y1="518.9" x2="1119.5" y2="532.7" stroke="#1a1a1a" stroke-width="1.6"/>
<rect x="1101.40" y="469.30" width="36.20" height="49.60" fill="#35a047" stroke="#1a1a1a" stroke-width="1.8"/>
<line x1="1101.4" y1="503.3" x2="1137.6" y2="503.3" stroke="#1a1a1a" stroke-width="3.2"/>
<circle cx="1111.3" cy="527.4" r="3.3" fill="#000" fill-opacity="0.22"/>
<circle cx="1126.5" cy="514.3" r="3.3" fill="#000" fill-opacity="0.22"/>
<circle cx="1119.1" cy="496.9" r="3.3" fill="#000" fill-opacity="0.22"/>
<circle cx="1125.8" cy="464.5" r="3.3" fill="#000" fill-opacity="0.22"/>
<circle cx="1115.5" cy="521.7" r="3.3" fill="#000" fill-opacity="0.22"/>
<circle cx="1114.2" cy="504.3" r="3.3" fill="#000" fill-opacity="0.22"/>
<circle cx="1125.1" cy="494.2" r="3.3" fill="#000" fill-opacity="0.22"/>
<circle cx="1117.2" cy="466.6" r="3.3" fill="#000" fill-opacity="0.22"/>
<circle cx="1113.8" cy="528.9" r="3.3" fill="#000" fill-opacity="0.22"/>
<circle cx="1117.3" cy="504.2" r="3.3" fill="#000" fill-opacity="0.22"/>
<circle cx="1121.1" cy="496.9" r="3.3" fill="#000" fill-opacity="0.22"/>
<circle cx="1111.1" cy="467.3" r="3.3" fill="#000" fill-opacity="0.22"/>
<circle cx="1119.8" cy="530.5" r="3.3" fill="#000" fill-opacity="0.22"/>
<circle cx="1118.6" cy="516.8" r="3.3" fill="#000" fill-opacity="0.22"/>
<circle cx="1119.8" cy="486.1" r="3.3" fill="#000" fill-opacity="0.22"/>
<circle cx="1113.1" cy="341.0" r="3.3" fill="#000" fill-opacity="0.22"/>
<circle cx="1123.1" cy="350.0" r="3.3" fill="#000" fill-opacity="0.22"/>
<circle cx="1124.9" cy="354.0" r="3.3" fill="#000" fill-opacity="0.22"/>
<circle cx="1125.7" cy="359.0" r="3.3" fill="#000" fill-opacity="0.22"/>
<line x1="1191.2" y1="487.8" x2="1191.2" y2="455.0" stroke="#1a1a1a" stroke-width="1.6"/>
<line x1="1191.2" y1="527.0" x2="1191.2" y2="537.0" stroke="#1a1a1a" stroke-width="1.6"/>
<rect x="1173.10" y="487.80" width="36.20" height="39.20" fill="#dcdcde" stroke="#1a1a1a" stroke-width="1.8"/>
<line x1="1173.1" y1="513.1" x2="1209.3" y2="513.1" stroke="#1a1a1a" stroke-width="3.2"/>
<circle cx="1191.7" cy="530.2" r="3.3" fill="#000" fill-opacity="0.22"/>
<circle cx="1183.9" cy="523.0" r="3.3" fill="#000" fill-opacity="0.22"/>
<circle cx="1190.1" cy="497.4" r="3.3" fill="#000" fill-opacity="0.22"/>
<circle cx="1191.3" cy="467.0" r="3.3" fill="#000" fill-opacity="0.22"/>
<circle cx="1183.1" cy="527.6" r="3.3" fill="#000" fill-opacity="0.22"/>
<circle cx="1185.1" cy="525.2" r="3.3" fill="#000" fill-opacity="0.22"/>
<circle cx="1199.2" cy="511.9" r="3.3" fill="#000" fill-opacity="0.22"/>
<circle cx="1195.9" cy="477.2" r="3.3" fill="#000" fill-opacity="0.22"/>
<circle cx="1198.6" cy="532.1" r="3.3" fill="#000" fill-opacity="0.22"/>
<circle cx="1193.5" cy="520.5" r="3.3" fill="#000" fill-opacity="0.22"/>
<circle cx="1196.5" cy="501.4" r="3.3" fill="#000" fill-opacity="0.22"/>
<circle cx="1197.7" cy="487.7" r="3.3" fill="#000" fill-opacity="0.22"/>
<circle cx="1197.7" cy="536.7" r="3.3" fill="#000" fill-opacity="0.22"/>
<circle cx="1183.3" cy="516.2" r="3.3" fill="#000" fill-opacity="0.22"/>
<circle cx="1193.6" cy="492.4" r="3.3" fill="#000" fill-opacity="0.22"/>
<circle cx="1187.2" cy="486.9" r="3.3" fill="#000" fill-opacity="0.22"/>
<circle cx="1194.2" cy="529.5" r="3.3" fill="#000" fill-opacity="0.22"/>
<circle cx="1187.3" cy="524.5" r="3.3" fill="#000" fill-opacity="0.22"/>
<circle cx="1191.9" cy="488.6" r="3.3" fill="#000" fill-opacity="0.22"/>
<circle cx="1198.4" cy="487.0" r="3.3" fill="#000" fill-opacity="0.22"/>
<circle cx="1193.3" cy="534.0" r="3.3" fill="#000" fill-opacity="0.22"/>
<circle cx="1187.0" cy="515.8" r="3.3" fill="#000" fill-opacity="0.22"/>
<circle cx="1191.5" cy="488.2" r="3.3" fill="#000" fill-opacity="0.22"/>
<circle cx="1190.1" cy="473.3" r="3.3" fill="#000" fill-opacity="0.22"/>
<circle cx="1198.9" cy="532.8" r="3.3" fill="#000" fill-opacity="0.22"/>
<circle cx="1187.6" cy="520.4" r="3.3" fill="#000" fill-opacity="0.22"/>
<circle cx="1187.9" cy="505.6" r="3.3" fill="#000" fill-opacity="0.22"/>
<circle cx="1193.7" cy="486.9" r="3.3" fill="#000" fill-opacity="0.22"/>
<circle cx="1184.7" cy="535.7" r="3.3" fill="#000" fill-opacity="0.22"/>
<circle cx="1192.8" cy="523.1" r="3.3" fill="#000" fill-opacity="0.22"/>
<circle cx="1199.0" cy="488.9" r="3.3" fill="#000" fill-opacity="0.22"/>
<circle cx="1191.4" cy="486.7" r="3.3" fill="#000" fill-opacity="0.22"/>
<circle cx="1187.3" cy="531.9" r="3.3" fill="#000" fill-opacity="0.22"/>
<circle cx="1190.6" cy="520.1" r="3.3" fill="#000" fill-opacity="0.22"/>
<circle cx="1191.8" cy="494.9" r="3.3" fill="#000" fill-opacity="0.22"/>
<circle cx="1185.2" cy="486.7" r="3.3" fill="#000" fill-opacity="0.22"/>
<circle cx="1184.8" cy="531.1" r="3.3" fill="#000" fill-opacity="0.22"/>
<circle cx="1184.9" cy="515.0" r="3.3" fill="#000" fill-opacity="0.22"/>
<circle cx="1187.7" cy="502.8" r="3.3" fill="#000" fill-opacity="0.22"/>
<circle cx="1189.6" cy="462.0" r="3.3" fill="#000" fill-opacity="0.22"/>
<circle cx="1187.6" cy="528.5" r="3.3" fill="#000" fill-opacity="0.22"/>
<circle cx="1186.8" cy="521.1" r="3.3" fill="#000" fill-opacity="0.22"/>
<circle cx="1184.2" cy="506.7" r="3.3" fill="#000" fill-opacity="0.22"/>
<circle cx="1192.0" cy="486.0" r="3.3" fill="#000" fill-opacity="0.22"/>
<circle cx="1197.0" cy="535.3" r="3.3" fill="#000" fill-opacity="0.22"/>
<circle cx="1193.1" cy="526.1" r="3.3" fill="#000" fill-opacity="0.22"/>
<circle cx="1192.4" cy="497.6" r="3.3" fill="#000" fill-opacity="0.22"/>
<circle cx="1193.8" cy="479.6" r="3.3" fill="#000" fill-opacity="0.22"/>
<circle cx="1186.1" cy="535.4" r="3.3" fill="#000" fill-opacity="0.22"/>
<circle cx="1194.8" cy="520.4" r="3.3" fill="#000" fill-opacity="0.22"/>
<circle cx="1190.5" cy="497.8" r="3.3" fill="#000" fill-opacity="0.22"/>
<circle cx="1192.0" cy="458.0" r="3.3" fill="#000" fill-opacity="0.22"/>
<circle cx="1193.1" cy="534.8" r="3.3" fill="#000" fill-opacity="0.22"/>
<circle cx="1190.7" cy="517.8" r="3.3" fill="#000" fill-opacity="0.22"/>
<circle cx="1188.0" cy="493.9" r="3.3" fill="#000" fill-opacity="0.22"/>
<circle cx="1186.8" cy="482.1" r="3.3" fill="#000" fill-opacity="0.22"/>
<circle cx="1186.5" cy="531.4" r="3.3" fill="#000" fill-opacity="0.22"/>
<circle cx="1191.4" cy="526.7" r="3.3" fill="#000" fill-opacity="0.22"/>
<circle cx="1189.2" cy="508.2" r="3.3" fill="#000" fill-opacity="0.22"/>
<circle cx="1192.7" cy="459.5" r="3.3" fill="#000" fill-opacity="0.22"/>
<circle cx="1182.9" cy="535.2" r="3.3" fill="#000" fill-opacity="0.22"/>
<circle cx="1188.7" cy="524.9" r="3.3" fill="#000" fill-opacity="0.22"/>
<circle cx="1197.4" cy="489.2" r="3.3" fill="#000" fill-opacity="0.22"/>
<circle cx="1186.8" cy="476.4" r="3.3" fill="#000" fill-opacity="0.22"/>
<circle cx="1192.2" cy="536.6" r="3.3" fill="#000" fill-opacity="0.22"/>
<circle cx="1191.1" cy="526.1" r="3.3" fill="#000" fill-opacity="0.22"/>
<circle cx="1187.5" cy="494.1" r="3.3" fill="#000" fill-opacity="0.22"/>
<circle cx="1199.5" cy="479.5" r="3.3" fill="#000" fill-opacity="0.22"/>
<circle cx="1187.7" cy="533.3" r="3.3" fill="#000" fill-opacity="0.22"/>
<circle cx="1195.8" cy="518.2" r="3.3" fill="#000" fill-opacity="0.22"/>
<circle cx="1185.4" cy="429.0" r="3.3" fill="#000" fill-opacity="0.22"/>
<line x1="1239.0" y1="473.4" x2="1239.0" y2="435.9" stroke="#1a1a1a" stroke-width="1.6"/>
<line x1="1239.0" y1="502.8" x2="1239.0" y2="518.3" stroke="#1a1a1a" stroke-width="1.6"/>
<rect x="1220.90" y="473.40" width="36.20" height="29.40" fill="#35a047" stroke="#1a1a1a" stroke-width="1.8"/>
<line x1="1220.9" y1="482.0" x2="1257.1" y2="482.0" stroke="#1a1a1a" stroke-width="3.2"/>
<circle cx="1246.0" cy="503.8" r="3.3" fill="#000" fill-opacity="0.22"/>
<circle cx="1232.7" cy="500.1" r="3.3" fill="#000" fill-opacity="0.22"/>
<circle cx="1245.3" cy="477.2" r="3.3" fill="#000" fill-opacity="0.22"/>
<circle cx="1230.6" cy="473.0" r="3.3" fill="#000" fill-opacity="0.22"/>
<circle cx="1243.5" cy="508.8" r="3.3" fill="#000" fill-opacity="0.22"/>
<circle cx="1240.5" cy="491.1" r="3.3" fill="#000" fill-opacity="0.22"/>
<circle cx="1239.0" cy="479.7" r="3.3" fill="#000" fill-opacity="0.22"/>
<circle cx="1246.9" cy="472.3" r="3.3" fill="#000" fill-opacity="0.22"/>
<circle cx="1240.2" cy="506.3" r="3.3" fill="#000" fill-opacity="0.22"/>
<circle cx="1237.6" cy="502.0" r="3.3" fill="#000" fill-opacity="0.22"/>
<circle cx="1243.8" cy="479.8" r="3.3" fill="#000" fill-opacity="0.22"/>
<circle cx="1245.3" cy="471.5" r="3.3" fill="#000" fill-opacity="0.22"/>
<circle cx="1240.8" cy="508.0" r="3.3" fill="#000" fill-opacity="0.22"/>
<circle cx="1237.0" cy="489.3" r="3.3" fill="#000" fill-opacity="0.22"/>
<circle cx="1238.2" cy="479.2" r="3.3" fill="#000" fill-opacity="0.22"/>
<circle cx="1238.3" cy="456.1" r="3.3" fill="#000" fill-opacity="0.22"/>
<circle cx="1242.8" cy="516.0" r="3.3" fill="#000" fill-opacity="0.22"/>
<circle cx="1235.5" cy="499.1" r="3.3" fill="#000" fill-opacity="0.22"/>
<circle cx="1237.1" cy="477.9" r="3.3" fill="#000" fill-opacity="0.22"/>
<circle cx="1239.9" cy="450.3" r="3.3" fill="#000" fill-opacity="0.22"/>
<circle cx="1237.0" cy="514.3" r="3.3" fill="#000" fill-opacity="0.22"/>
<circle cx="1236.0" cy="497.8" r="3.3" fill="#000" fill-opacity="0.22"/>
<circle cx="1243.9" cy="477.5" r="3.3" fill="#000" fill-opacity="0.22"/>
<circle cx="1244.9" cy="447.9" r="3.3" fill="#000" fill-opacity="0.22"/>
<circle cx="1239.0" cy="513.8" r="3.3" fill="#000" fill-opacity="0.22"/>
<circle cx="1238.0" cy="426.0" r="3.3" fill="#000" fill-opacity="0.22"/>
<line x1="1286.8" y1="486.0" x2="1286.8" y2="434.8" stroke="#1a1a1a" stroke-width="1.6"/>
<line x1="1286.8" y1="521.8" x2="1286.8" y2="537.0" stroke="#1a1a1a" stroke-width="1.6"/>
<rect x="1268.70" y="486.00" width="36.20" height="35.80" fill="#dcdcde" stroke="#1a1a1a" stroke-width="1.8"/>
<line x1="1268.7" y1="504.5" x2="1304.9" y2="504.5" stroke="#1a1a1a" stroke-width="3.2"/>
<circle cx="1291.4" cy="524.6" r="3.3" fill="#000" fill-opacity="0.22"/>
<circle cx="1283.8" cy="509.8" r="3.3" fill="#000" fill-opacity="0.22"/>
<circle cx="1290.5" cy="488.7" r="3.3" fill="#000" fill-opacity="0.22"/>
<circle cx="1284.3" cy="464.9" r="3.3" fill="#000" fill-opacity="0.22"/>
<circle cx="1281.2" cy="530.6" r="3.3" fill="#000" fill-opacity="0.22"/>
<circle cx="1282.8" cy="506.0" r="3.3" fill="#000" fill-opacity="0.22"/>
<circle cx="1280.0" cy="503.0" r="3.3" fill="#000" fill-opacity="0.22"/>
<circle cx="1293.7" cy="477.6" r="3.3" fill="#000" fill-opacity="0.22"/>
<circle cx="1288.2" cy="534.6" r="3.3" fill="#000" fill-opacity="0.22"/>
<circle cx="1284.2" cy="519.0" r="3.3" fill="#000" fill-opacity="0.22"/>
<circle cx="1285.9" cy="503.7" r="3.3" fill="#000" fill-opacity="0.22"/>
<circle cx="1284.9" cy="482.0" r="3.3" fill="#000" fill-opacity="0.22"/>
<circle cx="1279.2" cy="528.3" r="3.3" fill="#000" fill-opacity="0.22"/>
<circle cx="1293.4" cy="520.3" r="3.3" fill="#000" fill-opacity="0.22"/>
<circle cx="1288.2" cy="486.2" r="3.3" fill="#000" fill-opacity="0.22"/>
<circle cx="1294.6" cy="485.6" r="3.3" fill="#000" fill-opacity="0.22"/>
<circle cx="1285.8" cy="530.4" r="3.3" fill="#000" fill-opacity="0.22"/>
<circle cx="1288.8" cy="513.1" r="3.3" fill="#000" fill-opacity="0.22"/>
<circle cx="1282.5" cy="503.0" r="3.3" fill="#000" fill-opacity="0.22"/>
<circle cx="1279.0" cy="452.1" r="3.3" fill="#000" fill-opacity="0.22"/>
<circle cx="1294.1" cy="530.0" r="3.3" fill="#000" fill-opacity="0.22"/>
<circle cx="1292.8" cy="521.8" r="3.3" fill="#000" fill-opacity="0.22"/>
<circle cx="1283.7" cy="495.6" r="3.3" fill="#000" fill-opacity="0.22"/>
<circle cx="1293.6" cy="468.2" r="3.3" fill="#000" fill-opacity="0.22"/>
<circle cx="1292.2" cy="532.2" r="3.3" fill="#000" fill-opacity="0.22"/>
<circle cx="1283.5" cy="511.2" r="3.3" fill="#000" fill-opacity="0.22"/>
<circle cx="1288.5" cy="492.6" r="3.3" fill="#000" fill-opacity="0.22"/>
<circle cx="1294.6" cy="463.7" r="3.3" fill="#000" fill-opacity="0.22"/>
<circle cx="1286.7" cy="527.1" r="3.3" fill="#000" fill-opacity="0.22"/>
<circle cx="1294.4" cy="520.9" r="3.3" fill="#000" fill-opacity="0.22"/>
<circle cx="1282.4" cy="498.5" r="3.3" fill="#000" fill-opacity="0.22"/>
<circle cx="1284.9" cy="467.7" r="3.3" fill="#000" fill-opacity="0.22"/>
<circle cx="1290.5" cy="523.3" r="3.3" fill="#000" fill-opacity="0.22"/>
<circle cx="1282.1" cy="511.0" r="3.3" fill="#000" fill-opacity="0.22"/>
<circle cx="1283.6" cy="493.4" r="3.3" fill="#000" fill-opacity="0.22"/>
<circle cx="1293.2" cy="465.7" r="3.3" fill="#000" fill-opacity="0.22"/>
<circle cx="1286.5" cy="530.5" r="3.3" fill="#000" fill-opacity="0.22"/>
<circle cx="1291.8" cy="519.7" r="3.3" fill="#000" fill-opacity="0.22"/>
<circle cx="1282.4" cy="503.8" r="3.3" fill="#000" fill-opacity="0.22"/>
<circle cx="1281.2" cy="469.8" r="3.3" fill="#000" fill-opacity="0.22"/>
<circle cx="1284.4" cy="528.5" r="3.3" fill="#000" fill-opacity="0.22"/>
<circle cx="1281.5" cy="515.3" r="3.3" fill="#000" fill-opacity="0.22"/>
<circle cx="1294.8" cy="504.4" r="3.3" fill="#000" fill-opacity="0.22"/>
<circle cx="1283.2" cy="476.7" r="3.3" fill="#000" fill-opacity="0.22"/>
<circle cx="1287.8" cy="529.9" r="3.3" fill="#000" fill-opacity="0.22"/>
<circle cx="1280.3" cy="518.6" r="3.3" fill="#000" fill-opacity="0.22"/>
<circle cx="1287.4" cy="489.2" r="3.3" fill="#000" fill-opacity="0.22"/>
<circle cx="1284.9" cy="477.8" r="3.3" fill="#000" fill-opacity="0.22"/>
<circle cx="1285.2" cy="536.7" r="3.3" fill="#000" fill-opacity="0.22"/>
<circle cx="1279.4" cy="518.8" r="3.3" fill="#000" fill-opacity="0.22"/>
<circle cx="1280.4" cy="495.5" r="3.3" fill="#000" fill-opacity="0.22"/>
<circle cx="1292.3" cy="484.5" r="3.3" fill="#000" fill-opacity="0.22"/>
<circle cx="1284.3" cy="535.4" r="3.3" fill="#000" fill-opacity="0.22"/>
<circle cx="1282.5" cy="516.4" r="3.3" fill="#000" fill-opacity="0.22"/>
<circle cx="1281.6" cy="501.2" r="3.3" fill="#000" fill-opacity="0.22"/>
<circle cx="1283.1" cy="435.6" r="3.3" fill="#000" fill-opacity="0.22"/>
<circle cx="1282.3" cy="535.3" r="3.3" fill="#000" fill-opacity="0.22"/>
<circle cx="1278.9" cy="511.8" r="3.3" fill="#000" fill-opacity="0.22"/>
<circle cx="1289.6" cy="488.9" r="3.3" fill="#000" fill-opacity="0.22"/>
<circle cx="1284.1" cy="478.9" r="3.3" fill="#000" fill-opacity="0.22"/>
<circle cx="1281.0" cy="529.6" r="3.3" fill="#000" fill-opacity="0.22"/>
<circle cx="1290.3" cy="513.2" r="3.3" fill="#000" fill-opacity="0.22"/>
<circle cx="1279.9" cy="489.5" r="3.3" fill="#000" fill-opacity="0.22"/>
<circle cx="1282.9" cy="482.6" r="3.3" fill="#000" fill-opacity="0.22"/>
<circle cx="1292.5" cy="531.4" r="3.3" fill="#000" fill-opacity="0.22"/>
<circle cx="1280.5" cy="514.9" r="3.3" fill="#000" fill-opacity="0.22"/>
<circle cx="1285.8" cy="492.5" r="3.3" fill="#000" fill-opacity="0.22"/>
<circle cx="1292.5" cy="435.3" r="3.3" fill="#000" fill-opacity="0.22"/>
<circle cx="1292.0" cy="531.5" r="3.3" fill="#000" fill-opacity="0.22"/>
<circle cx="1281.0" cy="505.2" r="3.3" fill="#000" fill-opacity="0.22"/>
<circle cx="1284.3" cy="493.6" r="3.3" fill="#000" fill-opacity="0.22"/>
<circle cx="1290.6" cy="451.1" r="3.3" fill="#000" fill-opacity="0.22"/>
<circle cx="1284.7" cy="526.5" r="3.3" fill="#000" fill-opacity="0.22"/>
<circle cx="1294.6" cy="516.4" r="3.3" fill="#000" fill-opacity="0.22"/>
<circle cx="1281.8" cy="486.1" r="3.3" fill="#000" fill-opacity="0.22"/>
<circle cx="1294.5" cy="478.4" r="3.3" fill="#000" fill-opacity="0.22"/>
<circle cx="1286.9" cy="534.6" r="3.3" fill="#000" fill-opacity="0.22"/>
<circle cx="1282.2" cy="514.6" r="3.3" fill="#000" fill-opacity="0.22"/>
<circle cx="1286.0" cy="498.4" r="3.3" fill="#000" fill-opacity="0.22"/>
<circle cx="1280.5" cy="482.2" r="3.3" fill="#000" fill-opacity="0.22"/>
<circle cx="1290.3" cy="529.4" r="3.3" fill="#000" fill-opacity="0.22"/>
<circle cx="1282.7" cy="514.1" r="3.3" fill="#000" fill-opacity="0.22"/>
<circle cx="1293.6" cy="490.9" r="3.3" fill="#000" fill-opacity="0.22"/>
<circle cx="1288.3" cy="460.5" r="3.3" fill="#000" fill-opacity="0.22"/>
<circle cx="1284.6" cy="529.9" r="3.3" fill="#000" fill-opacity="0.22"/>
<circle cx="1282.5" cy="521.7" r="3.3" fill="#000" fill-opacity="0.22"/>
<circle cx="1288.6" cy="496.6" r="3.3" fill="#000" fill-opacity="0.22"/>
<circle cx="1281.9" cy="473.7" r="3.3" fill="#000" fill-opacity="0.22"/>
<circle cx="1293.1" cy="523.6" r="3.3" fill="#000" fill-opacity="0.22"/>
<circle cx="1280.4" cy="507.2" r="3.3" fill="#000" fill-opacity="0.22"/>
<circle cx="1287.0" cy="500.1" r="3.3" fill="#000" fill-opacity="0.22"/>
<circle cx="1287.5" cy="484.6" r="3.3" fill="#000" fill-opacity="0.22"/>
<circle cx="1282.9" cy="523.3" r="3.3" fill="#000" fill-opacity="0.22"/>
<circle cx="1291.4" cy="507.5" r="3.3" fill="#000" fill-opacity="0.22"/>
<circle cx="1284.8" cy="495.7" r="3.3" fill="#000" fill-opacity="0.22"/>
<circle cx="1289.5" cy="448.5" r="3.3" fill="#000" fill-opacity="0.22"/>
<circle cx="1288.0" cy="531.1" r="3.3" fill="#000" fill-opacity="0.22"/>
<circle cx="1283.6" cy="518.5" r="3.3" fill="#000" fill-opacity="0.22"/>
<circle cx="1284.9" cy="487.1" r="3.3" fill="#000" fill-opacity="0.22"/>
<circle cx="1279.8" cy="486.0" r="3.3" fill="#000" fill-opacity="0.22"/>
<circle cx="1281.3" cy="425.0" r="3.3" fill="#000" fill-opacity="0.22"/>
<circle cx="1292.8" cy="428.0" r="3.3" fill="#000" fill-opacity="0.22"/>
<line x1="1334.6" y1="460.7" x2="1334.6" y2="429.0" stroke="#1a1a1a" stroke-width="1.6"/>
<line x1="1334.6" y1="487.8" x2="1334.6" y2="523.0" stroke="#1a1a1a" stroke-width="1.6"/>
<rect x="1316.50" y="460.70" width="36.20" height="27.10" fill="#e31e26" stroke="#1a1a1a" stroke-width="1.8"/>
<line x1="1316.5" y1="475.7" x2="1352.7" y2="475.7" stroke="#1a1a1a" stroke-width="3.2"/>
<circle cx="1330.9" cy="499.1" r="3.3" fill="#000" fill-opacity="0.22"/>
<circle cx="1333.0" cy="483.7" r="3.3" fill="#000" fill-opacity="0.22"/>
<circle cx="1341.6" cy="462.3" r="3.3" fill="#000" fill-opacity="0.22"/>
<circle cx="1339.3" cy="448.1" r="3.3" fill="#000" fill-opacity="0.22"/>
<circle cx="1341.1" cy="500.5" r="3.3" fill="#000" fill-opacity="0.22"/>
<circle cx="1340.7" cy="481.8" r="3.3" fill="#000" fill-opacity="0.22"/>
<circle cx="1328.3" cy="465.2" r="3.3" fill="#000" fill-opacity="0.22"/>
<circle cx="1330.8" cy="460.3" r="3.3" fill="#000" fill-opacity="0.22"/>
<circle cx="1326.6" cy="498.8" r="3.3" fill="#000" fill-opacity="0.22"/>
<circle cx="1337.7" cy="478.4" r="3.3" fill="#000" fill-opacity="0.22"/>
<circle cx="1337.4" cy="462.6" r="3.3" fill="#000" fill-opacity="0.22"/>
<circle cx="1332.1" cy="442.1" r="3.3" fill="#000" fill-opacity="0.22"/>
<text x="0.2" y="839.6" font-size="38.5" textLength="23.6" lengthAdjust="spacingAndGlyphs" font-weight="bold" stroke="#231f20" stroke-width="1.3">b</text>
<text x="117.2" y="841.0" font-size="23.5" textLength="107.4" lengthAdjust="spacingAndGlyphs">Cell type</text>
<rect x="146.90" y="854.00" width="22.50" height="22.50" fill="#f48072" stroke="#231f20" stroke-width="1.6"/>
<text x="183.6" y="872.7" font-size="21.3" textLength="142.7" lengthAdjust="spacingAndGlyphs">Malignant cell</text>
<rect x="146.90" y="889.00" width="22.50" height="22.50" fill="#b3de69" stroke="#231f20" stroke-width="1.6"/>
<text x="183.6" y="907.7" font-size="21.3" textLength="171.6" lengthAdjust="spacingAndGlyphs">Oligodendrocyte</text>
<rect x="146.90" y="924.00" width="22.50" height="22.50" fill="#80b1d3" stroke="#231f20" stroke-width="1.6"/>
<text x="183.6" y="942.7" font-size="21.3" textLength="43.8" lengthAdjust="spacingAndGlyphs">TAM</text>
<rect x="393.40" y="854.00" width="22.50" height="22.50" fill="#bebada" stroke="#231f20" stroke-width="1.6"/>
<text x="430.8" y="872.7" font-size="21.3" textLength="96.0" lengthAdjust="spacingAndGlyphs">Astrocyte</text>
<rect x="393.40" y="889.00" width="22.50" height="22.50" fill="#bc80bd" stroke="#231f20" stroke-width="1.6"/>
<text x="430.8" y="907.7" font-size="21.3" textLength="175.0" lengthAdjust="spacingAndGlyphs">Excitatory neuron</text>
<rect x="393.40" y="924.00" width="22.50" height="22.50" fill="#ffed6f" stroke="#231f20" stroke-width="1.6"/>
<text x="430.8" y="942.7" font-size="21.3" textLength="171.6" lengthAdjust="spacingAndGlyphs">Inhibitory neuron</text>
<rect x="645.50" y="854.00" width="22.50" height="22.50" fill="#fccde5" stroke="#231f20" stroke-width="1.6"/>
<text x="682.2" y="872.7" font-size="21.3" textLength="156.0" lengthAdjust="spacingAndGlyphs">Endothelial cell</text>
<rect x="645.50" y="889.00" width="22.50" height="22.50" fill="#ffffb3" stroke="#231f20" stroke-width="1.6"/>
<text x="682.2" y="907.7" font-size="21.3" textLength="81.2" lengthAdjust="spacingAndGlyphs">Pericyte</text>
<rect x="645.50" y="924.00" width="22.50" height="22.50" fill="#8dd3c7" stroke="#231f20" stroke-width="1.6"/>
<text x="682.2" y="942.7" font-size="21.3" textLength="124.3" lengthAdjust="spacingAndGlyphs">Lymphocyte</text>
<rect x="875.70" y="854.00" width="22.50" height="22.50" fill="#ccebc5" stroke="#231f20" stroke-width="1.6"/>
<text x="913.1" y="872.7" font-size="21.3" textLength="45.2" lengthAdjust="spacingAndGlyphs">OPC</text>
<rect x="875.70" y="889.00" width="22.50" height="22.50" fill="#d9d9d9" stroke="#231f20" stroke-width="1.6"/>
<text x="913.1" y="907.7" font-size="21.3" textLength="57.2" lengthAdjust="spacingAndGlyphs">Other</text>
<rect x="137.20" y="1006.50" width="401.00" height="376.50" fill="#ffffff" stroke="#3a3a3a" stroke-width="1.4"/>
<rect x="138.40" y="1023.20" width="9.72" height="342.80" fill="#161214"/>
<rect x="139.40" y="1363.17" width="7.72" height="2.23" fill="#d9d9d9"/>
<rect x="139.40" y="1359.74" width="7.72" height="0.51" fill="#8dd3c7"/>
<rect x="139.40" y="1343.63" width="7.72" height="14.91" fill="#ffffb3"/>
<rect x="139.40" y="1314.15" width="7.72" height="28.28" fill="#fccde5"/>
<rect x="139.40" y="1309.70" width="7.72" height="0.51" fill="#bc80bd"/>
<rect x="139.40" y="1301.47" width="7.72" height="4.28" fill="#80b1d3"/>
<rect x="139.40" y="1295.64" width="7.72" height="2.91" fill="#b3de69"/>
<rect x="139.40" y="1023.80" width="7.72" height="270.64" fill="#f48072"/>
<rect x="148.12" y="1023.20" width="9.72" height="342.80" fill="#161214"/>
<rect x="149.12" y="1359.74" width="7.72" height="5.66" fill="#d9d9d9"/>
<rect x="149.12" y="1354.26" width="7.72" height="2.23" fill="#fccde5"/>
<rect x="149.12" y="1341.58" width="7.72" height="8.74" fill="#80b1d3"/>
<rect x="149.12" y="1023.80" width="7.72" height="316.58" fill="#f48072"/>
<rect x="157.84" y="1023.20" width="9.72" height="342.80" fill="#161214"/>
<rect x="158.84" y="1362.83" width="7.72" height="1.54" fill="#ffffb3"/>
<rect x="158.84" y="1361.12" width="7.72" height="0.51" fill="#bc80bd"/>
<rect x="158.84" y="1346.72" width="7.72" height="12.17" fill="#80b1d3"/>
<rect x="158.84" y="1023.80" width="7.72" height="321.72" fill="#f48072"/>
<rect x="167.57" y="1023.20" width="9.72" height="342.80" fill="#161214"/>
<rect x="168.57" y="1363.17" width="7.72" height="2.23" fill="#fccde5"/>
<rect x="168.57" y="1343.63" width="7.72" height="17.31" fill="#80b1d3"/>
<rect x="168.57" y="1023.80" width="7.72" height="318.63" fill="#f48072"/>
<rect x="177.29" y="1023.20" width="9.72" height="342.80" fill="#161214"/>
<rect x="178.29" y="1363.17" width="7.72" height="1.20" fill="#bc80bd"/>
<rect x="178.29" y="1354.94" width="7.72" height="4.97" fill="#b3de69"/>
<rect x="178.29" y="1023.80" width="7.72" height="329.94" fill="#f48072"/>
<rect x="187.01" y="1023.20" width="9.72" height="342.80" fill="#161214"/>
<rect x="188.01" y="1361.80" width="7.72" height="3.60" fill="#d9d9d9"/>
<rect x="188.01" y="1358.37" width="7.72" height="0.30" fill="#bc80bd"/>
<rect x="188.01" y="1352.55" width="7.72" height="3.26" fill="#80b1d3"/>
<rect x="188.01" y="1349.80" width="7.72" height="1.54" fill="#b3de69"/>
<rect x="188.01" y="1023.80" width="7.72" height="324.80" fill="#f48072"/>
<rect x="196.73" y="1023.20" width="9.72" height="342.80" fill="#161214"/>
<rect x="197.73" y="1350.83" width="7.72" height="11.14" fill="#80b1d3"/>
<rect x="197.73" y="1023.80" width="7.72" height="325.83" fill="#f48072"/>
<rect x="206.45" y="1023.20" width="9.72" height="342.80" fill="#161214"/>
<rect x="207.45" y="1361.12" width="7.72" height="4.28" fill="#d9d9d9"/>
<rect x="207.45" y="1349.80" width="7.72" height="8.06" fill="#80b1d3"/>
<rect x="207.45" y="1023.80" width="7.72" height="324.80" fill="#f48072"/>
<rect x="216.18" y="1023.20" width="9.72" height="342.80" fill="#161214"/>
<rect x="217.18" y="1364.89" width="7.72" height="0.51" fill="#d9d9d9"/>
<rect x="217.18" y="1353.92" width="7.72" height="7.71" fill="#80b1d3"/>
<rect x="217.18" y="1023.80" width="7.72" height="328.92" fill="#f48072"/>
<rect x="225.90" y="1023.20" width="9.72" height="342.80" fill="#161214"/>
<rect x="226.90" y="1352.55" width="7.72" height="8.74" fill="#80b1d3"/>
<rect x="226.90" y="1023.80" width="7.72" height="327.55" fill="#f48072"/>
<rect x="235.62" y="1023.20" width="9.72" height="342.80" fill="#161214"/>
<rect x="236.62" y="1330.61" width="7.72" height="34.79" fill="#d9d9d9"/>
<rect x="236.62" y="1327.86" width="7.72" height="0.30" fill="#b3de69"/>
<rect x="236.62" y="1324.44" width="7.72" height="0.51" fill="#fccde5"/>
<rect x="236.62" y="1313.47" width="7.72" height="7.71" fill="#80b1d3"/>
<rect x="236.62" y="1023.80" width="7.72" height="288.47" fill="#f48072"/>
<rect x="245.34" y="1023.20" width="9.72" height="342.80" fill="#161214"/>
<rect x="246.34" y="1357.69" width="7.72" height="7.71" fill="#d9d9d9"/>
<rect x="246.34" y="1347.75" width="7.72" height="7.03" fill="#8dd3c7"/>
<rect x="246.34" y="1338.15" width="7.72" height="6.34" fill="#fccde5"/>
<rect x="246.34" y="1318.95" width="7.72" height="15.25" fill="#80b1d3"/>
<rect x="246.34" y="1023.80" width="7.72" height="293.95" fill="#f48072"/>
<rect x="255.06" y="1023.20" width="9.72" height="342.80" fill="#161214"/>
<rect x="256.06" y="1357.69" width="7.72" height="7.71" fill="#d9d9d9"/>
<rect x="256.06" y="1350.83" width="7.72" height="3.60" fill="#80b1d3"/>
<rect x="256.06" y="1329.23" width="7.72" height="18.34" fill="#b3de69"/>
<rect x="256.06" y="1023.80" width="7.72" height="304.23" fill="#f48072"/>
<rect x="264.79" y="1023.20" width="9.72" height="342.80" fill="#161214"/>
<rect x="265.79" y="1364.89" width="7.72" height="0.51" fill="#ccebc5"/>
<rect x="265.79" y="1362.83" width="7.72" height="0.86" fill="#bc80bd"/>
<rect x="265.79" y="1347.06" width="7.72" height="12.51" fill="#80b1d3"/>
<rect x="265.79" y="1334.72" width="7.72" height="9.43" fill="#b3de69"/>
<rect x="265.79" y="1023.80" width="7.72" height="309.72" fill="#f48072"/>
<rect x="274.51" y="1023.20" width="9.72" height="342.80" fill="#161214"/>
<rect x="275.51" y="1363.86" width="7.72" height="1.54" fill="#ccebc5"/>
<rect x="275.51" y="1348.09" width="7.72" height="11.14" fill="#80b1d3"/>
<rect x="275.51" y="1331.63" width="7.72" height="13.88" fill="#b3de69"/>
<rect x="275.51" y="1023.80" width="7.72" height="306.63" fill="#f48072"/>
<rect x="284.23" y="1023.20" width="9.72" height="342.80" fill="#161214"/>
<rect x="285.23" y="1362.49" width="7.72" height="0.30" fill="#8dd3c7"/>
<rect x="285.23" y="1361.12" width="7.72" height="0.30" fill="#fccde5"/>
<rect x="285.23" y="1346.72" width="7.72" height="11.14" fill="#80b1d3"/>
<rect x="285.23" y="1328.21" width="7.72" height="16.63" fill="#b3de69"/>
<rect x="285.23" y="1023.80" width="7.72" height="303.21" fill="#f48072"/>
<rect x="293.95" y="1023.20" width="9.72" height="342.80" fill="#161214"/>
<rect x="294.95" y="1327.18" width="7.72" height="34.79" fill="#80b1d3"/>
<rect x="294.95" y="1023.80" width="7.72" height="302.18" fill="#f48072"/>
<rect x="303.67" y="1023.20" width="9.72" height="342.80" fill="#161214"/>
<rect x="304.67" y="1364.89" width="7.72" height="0.51" fill="#8dd3c7"/>
<rect x="304.67" y="1336.09" width="7.72" height="26.57" fill="#80b1d3"/>
<rect x="304.67" y="1332.32" width="7.72" height="1.20" fill="#b3de69"/>
<rect x="304.67" y="1023.80" width="7.72" height="307.32" fill="#f48072"/>
<rect x="313.40" y="1023.20" width="9.72" height="342.80" fill="#161214"/>
<rect x="314.40" y="1363.17" width="7.72" height="2.23" fill="#d9d9d9"/>
<rect x="314.40" y="1356.66" width="7.72" height="0.86" fill="#fccde5"/>
<rect x="314.40" y="1331.29" width="7.72" height="22.45" fill="#80b1d3"/>
<rect x="314.40" y="1023.80" width="7.72" height="306.29" fill="#f48072"/>
<rect x="323.12" y="1023.20" width="9.72" height="342.80" fill="#161214"/>
<rect x="324.12" y="1363.17" width="7.72" height="2.23" fill="#d9d9d9"/>
<rect x="324.12" y="1332.66" width="7.72" height="24.17" fill="#80b1d3"/>
<rect x="324.12" y="1328.89" width="7.72" height="1.54" fill="#b3de69"/>
<rect x="324.12" y="1023.80" width="7.72" height="303.89" fill="#f48072"/>
<rect x="332.84" y="1023.20" width="9.72" height="342.80" fill="#161214"/>
<rect x="333.84" y="1353.57" width="7.72" height="6.00" fill="#bc80bd"/>
<rect x="333.84" y="1338.49" width="7.72" height="11.83" fill="#80b1d3"/>
<rect x="333.84" y="1335.75" width="7.72" height="0.51" fill="#b3de69"/>
<rect x="333.84" y="1023.80" width="7.72" height="310.75" fill="#f48072"/>
<rect x="342.56" y="1023.20" width="9.72" height="342.80" fill="#161214"/>
<rect x="343.56" y="1363.17" width="7.72" height="2.23" fill="#d9d9d9"/>
<rect x="343.56" y="1344.66" width="7.72" height="13.88" fill="#80b1d3"/>
<rect x="343.56" y="1338.15" width="7.72" height="4.28" fill="#b3de69"/>
<rect x="343.56" y="1023.80" width="7.72" height="313.15" fill="#f48072"/>
<rect x="352.28" y="1023.20" width="9.72" height="342.80" fill="#161214"/>
<rect x="353.28" y="1362.49" width="7.72" height="2.91" fill="#d9d9d9"/>
<rect x="353.28" y="1359.40" width="7.72" height="0.30" fill="#bc80bd"/>
<rect x="353.28" y="1337.12" width="7.72" height="18.00" fill="#80b1d3"/>
<rect x="353.28" y="1023.80" width="7.72" height="312.12" fill="#f48072"/>
<rect x="362.00" y="1023.20" width="9.72" height="342.80" fill="#161214"/>
<rect x="363.00" y="1363.51" width="7.72" height="1.89" fill="#8dd3c7"/>
<rect x="363.00" y="1342.26" width="7.72" height="18.00" fill="#80b1d3"/>
<rect x="363.00" y="1339.52" width="7.72" height="0.51" fill="#b3de69"/>
<rect x="363.00" y="1023.80" width="7.72" height="314.52" fill="#f48072"/>
<rect x="371.73" y="1023.20" width="9.72" height="342.80" fill="#161214"/>
<rect x="372.73" y="1362.49" width="7.72" height="1.54" fill="#fccde5"/>
<rect x="372.73" y="1357.69" width="7.72" height="1.89" fill="#bc80bd"/>
<rect x="372.73" y="1354.26" width="7.72" height="0.30" fill="#bebada"/>
<rect x="372.73" y="1339.18" width="7.72" height="13.88" fill="#80b1d3"/>
<rect x="372.73" y="1331.29" width="7.72" height="5.66" fill="#b3de69"/>
<rect x="372.73" y="1023.80" width="7.72" height="306.29" fill="#f48072"/>
<rect x="381.45" y="1023.20" width="9.72" height="342.80" fill="#161214"/>
<rect x="382.45" y="1362.83" width="7.72" height="2.57" fill="#d9d9d9"/>
<rect x="382.45" y="1359.40" width="7.72" height="0.30" fill="#ffed6f"/>
<rect x="382.45" y="1354.60" width="7.72" height="2.23" fill="#fccde5"/>
<rect x="382.45" y="1335.75" width="7.72" height="14.23" fill="#80b1d3"/>
<rect x="382.45" y="1332.66" width="7.72" height="0.86" fill="#b3de69"/>
<rect x="382.45" y="1023.80" width="7.72" height="307.66" fill="#f48072"/>
<rect x="391.17" y="1023.20" width="9.72" height="342.80" fill="#161214"/>
<rect x="392.17" y="1362.49" width="7.72" height="2.91" fill="#d9d9d9"/>
<rect x="392.17" y="1349.80" width="7.72" height="10.11" fill="#ccebc5"/>
<rect x="392.17" y="1346.03" width="7.72" height="0.51" fill="#fccde5"/>
<rect x="392.17" y="1329.23" width="7.72" height="12.85" fill="#80b1d3"/>
<rect x="392.17" y="1023.80" width="7.72" height="304.23" fill="#f48072"/>
<rect x="400.89" y="1023.20" width="9.72" height="342.80" fill="#161214"/>
<rect x="401.89" y="1355.63" width="7.72" height="9.77" fill="#d9d9d9"/>
<rect x="401.89" y="1352.20" width="7.72" height="0.30" fill="#8dd3c7"/>
<rect x="401.89" y="1348.09" width="7.72" height="0.86" fill="#fccde5"/>
<rect x="401.89" y="1332.32" width="7.72" height="12.51" fill="#80b1d3"/>
<rect x="401.89" y="1328.89" width="7.72" height="0.86" fill="#b3de69"/>
<rect x="401.89" y="1023.80" width="7.72" height="303.89" fill="#f48072"/>
<rect x="410.61" y="1023.20" width="9.72" height="342.80" fill="#161214"/>
<rect x="411.61" y="1357.69" width="7.72" height="7.71" fill="#d9d9d9"/>
<rect x="411.61" y="1350.49" width="7.72" height="4.63" fill="#8dd3c7"/>
<rect x="411.61" y="1346.37" width="7.72" height="1.54" fill="#ffffb3"/>
<rect x="411.61" y="1339.86" width="7.72" height="3.94" fill="#fccde5"/>
<rect x="411.61" y="1306.61" width="7.72" height="28.62" fill="#80b1d3"/>
<rect x="411.61" y="1299.07" width="7.72" height="5.31" fill="#b3de69"/>
<rect x="411.61" y="1023.80" width="7.72" height="274.07" fill="#f48072"/>
<rect x="420.34" y="1023.20" width="9.72" height="342.80" fill="#161214"/>
<rect x="421.34" y="1364.54" width="7.72" height="0.86" fill="#d9d9d9"/>
<rect x="421.34" y="1359.40" width="7.72" height="1.20" fill="#8dd3c7"/>
<rect x="421.34" y="1353.92" width="7.72" height="2.57" fill="#fccde5"/>
<rect x="421.34" y="1351.86" width="7.72" height="0.30" fill="#ffed6f"/>
<rect x="421.34" y="1345.35" width="7.72" height="3.60" fill="#bc80bd"/>
<rect x="421.34" y="1299.07" width="7.72" height="42.34" fill="#80b1d3"/>
<rect x="421.34" y="1295.98" width="7.72" height="0.86" fill="#b3de69"/>
<rect x="421.34" y="1023.80" width="7.72" height="270.98" fill="#f48072"/>
<rect x="430.06" y="1023.20" width="9.72" height="342.80" fill="#161214"/>
<rect x="431.06" y="1363.17" width="7.72" height="0.86" fill="#bc80bd"/>
<rect x="431.06" y="1330.61" width="7.72" height="28.62" fill="#80b1d3"/>
<rect x="431.06" y="1320.32" width="7.72" height="8.06" fill="#b3de69"/>
<rect x="431.06" y="1023.80" width="7.72" height="295.32" fill="#f48072"/>
<rect x="439.78" y="1023.20" width="9.72" height="342.80" fill="#161214"/>
<rect x="440.78" y="1364.54" width="7.72" height="0.86" fill="#d9d9d9"/>
<rect x="440.78" y="1361.12" width="7.72" height="1.20" fill="#ccebc5"/>
<rect x="440.78" y="1355.97" width="7.72" height="1.89" fill="#bc80bd"/>
<rect x="440.78" y="1325.12" width="7.72" height="28.28" fill="#80b1d3"/>
<rect x="440.78" y="1316.21" width="7.72" height="6.68" fill="#b3de69"/>
<rect x="440.78" y="1023.80" width="7.72" height="291.21" fill="#f48072"/>
<rect x="449.50" y="1023.20" width="9.72" height="342.80" fill="#161214"/>
<rect x="450.50" y="1349.46" width="7.72" height="15.94" fill="#d9d9d9"/>
<rect x="450.50" y="1345.00" width="7.72" height="0.51" fill="#fccde5"/>
<rect x="450.50" y="1309.01" width="7.72" height="33.08" fill="#80b1d3"/>
<rect x="450.50" y="1023.80" width="7.72" height="284.01" fill="#f48072"/>
<rect x="459.22" y="1023.20" width="9.72" height="342.80" fill="#161214"/>
<rect x="460.22" y="1362.83" width="7.72" height="0.30" fill="#bc80bd"/>
<rect x="460.22" y="1313.81" width="7.72" height="43.71" fill="#80b1d3"/>
<rect x="460.22" y="1310.72" width="7.72" height="0.86" fill="#b3de69"/>
<rect x="460.22" y="1023.80" width="7.72" height="285.72" fill="#f48072"/>
<rect x="468.95" y="1023.20" width="9.72" height="342.80" fill="#161214"/>
<rect x="469.95" y="1363.51" width="7.72" height="0.30" fill="#bc80bd"/>
<rect x="469.95" y="1317.92" width="7.72" height="40.62" fill="#80b1d3"/>
<rect x="469.95" y="1315.18" width="7.72" height="0.51" fill="#b3de69"/>
<rect x="469.95" y="1023.80" width="7.72" height="290.18" fill="#f48072"/>
<rect x="478.67" y="1023.20" width="9.72" height="342.80" fill="#161214"/>
<rect x="479.67" y="1364.89" width="7.72" height="0.51" fill="#d9d9d9"/>
<rect x="479.67" y="1313.81" width="7.72" height="44.39" fill="#80b1d3"/>
<rect x="479.67" y="1023.80" width="7.72" height="288.81" fill="#f48072"/>
<rect x="488.39" y="1023.20" width="9.72" height="342.80" fill="#161214"/>
<rect x="489.39" y="1315.18" width="7.72" height="50.22" fill="#d9d9d9"/>
<rect x="489.39" y="1312.78" width="7.72" height="0.30" fill="#8dd3c7"/>
<rect x="489.39" y="1309.70" width="7.72" height="0.51" fill="#fccde5"/>
<rect x="489.39" y="1306.95" width="7.72" height="0.51" fill="#ffed6f"/>
<rect x="489.39" y="1299.41" width="7.72" height="4.97" fill="#bc80bd"/>
<rect x="489.39" y="1285.36" width="7.72" height="10.80" fill="#80b1d3"/>
<rect x="489.39" y="1023.80" width="7.72" height="260.36" fill="#f48072"/>
<rect x="498.11" y="1023.20" width="9.72" height="342.80" fill="#161214"/>
<rect x="499.11" y="1363.17" width="7.72" height="2.23" fill="#d9d9d9"/>
<rect x="499.11" y="1359.06" width="7.72" height="0.86" fill="#fccde5"/>
<rect x="499.11" y="1354.26" width="7.72" height="2.57" fill="#ffed6f"/>
<rect x="499.11" y="1340.55" width="7.72" height="11.48" fill="#bc80bd"/>
<rect x="499.11" y="1331.63" width="7.72" height="6.68" fill="#bebada"/>
<rect x="499.11" y="1312.78" width="7.72" height="16.63" fill="#80b1d3"/>
<rect x="499.11" y="1294.61" width="7.72" height="15.94" fill="#b3de69"/>
<rect x="499.11" y="1023.80" width="7.72" height="269.61" fill="#f48072"/>
<rect x="507.83" y="1023.20" width="9.72" height="342.80" fill="#161214"/>
<rect x="508.83" y="1363.51" width="7.72" height="0.30" fill="#8dd3c7"/>
<rect x="508.83" y="1358.72" width="7.72" height="2.23" fill="#fccde5"/>
<rect x="508.83" y="1353.92" width="7.72" height="2.23" fill="#bc80bd"/>
<rect x="508.83" y="1291.18" width="7.72" height="59.48" fill="#80b1d3"/>
<rect x="508.83" y="1281.24" width="7.72" height="7.71" fill="#b3de69"/>
<rect x="508.83" y="1023.80" width="7.72" height="256.24" fill="#f48072"/>
<rect x="517.56" y="1023.20" width="9.72" height="342.80" fill="#161214"/>
<rect x="518.56" y="1362.49" width="7.72" height="2.91" fill="#ccebc5"/>
<rect x="518.56" y="1347.40" width="7.72" height="9.08" fill="#80b1d3"/>
<rect x="518.56" y="1289.13" width="7.72" height="56.05" fill="#b3de69"/>
<rect x="518.56" y="1023.80" width="7.72" height="264.13" fill="#f48072"/>
<rect x="527.28" y="1023.20" width="9.72" height="342.80" fill="#161214"/>
<rect x="528.28" y="1361.46" width="7.72" height="3.94" fill="#d9d9d9"/>
<rect x="528.28" y="1357.69" width="7.72" height="0.51" fill="#ccebc5"/>
<rect x="528.28" y="1355.29" width="7.72" height="1.20" fill="#8dd3c7"/>
<rect x="528.28" y="1351.86" width="7.72" height="0.30" fill="#bc80bd"/>
<rect x="528.28" y="1346.03" width="7.72" height="3.60" fill="#bebada"/>
<rect x="528.28" y="1321.01" width="7.72" height="22.45" fill="#80b1d3"/>
<rect x="528.28" y="1285.70" width="7.72" height="33.08" fill="#b3de69"/>
<rect x="528.28" y="1023.80" width="7.72" height="260.70" fill="#f48072"/>
<rect x="551.70" y="1006.50" width="313.50" height="376.50" fill="#ffffff" stroke="#3a3a3a" stroke-width="1.4"/>
<rect x="552.90" y="1023.20" width="9.72" height="342.80" fill="#161214"/>
<rect x="553.90" y="1321.01" width="7.72" height="44.39" fill="#d9d9d9"/>
<rect x="553.90" y="1317.24" width="7.72" height="1.54" fill="#ccebc5"/>
<rect x="553.90" y="1312.78" width="7.72" height="2.23" fill="#ffffb3"/>
<rect x="553.90" y="1303.18" width="7.72" height="7.37" fill="#ffed6f"/>
<rect x="553.90" y="1244.91" width="7.72" height="56.05" fill="#bc80bd"/>
<rect x="553.90" y="1240.45" width="7.72" height="2.23" fill="#bebada"/>
<rect x="553.90" y="1023.80" width="7.72" height="213.39" fill="#f48072"/>
<rect x="562.62" y="1023.20" width="9.72" height="342.80" fill="#161214"/>
<rect x="563.62" y="1355.29" width="7.72" height="10.11" fill="#d9d9d9"/>
<rect x="563.62" y="1322.38" width="7.72" height="28.97" fill="#ffed6f"/>
<rect x="563.62" y="1235.99" width="7.72" height="83.81" fill="#bc80bd"/>
<rect x="563.62" y="1023.80" width="7.72" height="210.99" fill="#f48072"/>
<rect x="572.34" y="1023.20" width="9.72" height="342.80" fill="#161214"/>
<rect x="573.34" y="1357.69" width="7.72" height="7.71" fill="#ccebc5"/>
<rect x="573.34" y="1349.12" width="7.72" height="6.00" fill="#8dd3c7"/>
<rect x="573.34" y="1327.18" width="7.72" height="19.03" fill="#ffed6f"/>
<rect x="573.34" y="1277.47" width="7.72" height="46.79" fill="#bc80bd"/>
<rect x="573.34" y="1274.73" width="7.72" height="0.86" fill="#bebada"/>
<rect x="573.34" y="1240.11" width="7.72" height="32.39" fill="#80b1d3"/>
<rect x="573.34" y="1201.71" width="7.72" height="36.17" fill="#b3de69"/>
<rect x="573.34" y="1023.80" width="7.72" height="176.71" fill="#f48072"/>
<rect x="582.07" y="1023.20" width="9.72" height="342.80" fill="#161214"/>
<rect x="583.07" y="1326.15" width="7.72" height="39.25" fill="#d9d9d9"/>
<rect x="583.07" y="1320.66" width="7.72" height="2.91" fill="#8dd3c7"/>
<rect x="583.07" y="1311.07" width="7.72" height="5.66" fill="#fccde5"/>
<rect x="583.07" y="1294.61" width="7.72" height="14.23" fill="#ffed6f"/>
<rect x="583.07" y="1267.87" width="7.72" height="24.51" fill="#bc80bd"/>
<rect x="583.07" y="1226.74" width="7.72" height="38.22" fill="#80b1d3"/>
<rect x="583.07" y="1219.88" width="7.72" height="4.63" fill="#b3de69"/>
<rect x="583.07" y="1023.80" width="7.72" height="194.88" fill="#f48072"/>
<rect x="591.79" y="1023.20" width="9.72" height="342.80" fill="#161214"/>
<rect x="592.79" y="1362.14" width="7.72" height="3.26" fill="#d9d9d9"/>
<rect x="592.79" y="1354.60" width="7.72" height="3.60" fill="#ffed6f"/>
<rect x="592.79" y="1330.26" width="7.72" height="22.11" fill="#bc80bd"/>
<rect x="592.79" y="1311.75" width="7.72" height="16.28" fill="#bebada"/>
<rect x="592.79" y="1291.87" width="7.72" height="17.65" fill="#80b1d3"/>
<rect x="592.79" y="1251.76" width="7.72" height="37.88" fill="#b3de69"/>
<rect x="592.79" y="1023.80" width="7.72" height="226.76" fill="#f48072"/>
<rect x="601.51" y="1023.20" width="9.72" height="342.80" fill="#161214"/>
<rect x="602.51" y="1360.09" width="7.72" height="3.94" fill="#ccebc5"/>
<rect x="602.51" y="1355.63" width="7.72" height="0.51" fill="#fccde5"/>
<rect x="602.51" y="1338.49" width="7.72" height="14.91" fill="#ffed6f"/>
<rect x="602.51" y="1301.47" width="7.72" height="34.79" fill="#bc80bd"/>
<rect x="602.51" y="1294.95" width="7.72" height="4.28" fill="#bebada"/>
<rect x="602.51" y="1265.82" width="7.72" height="26.91" fill="#80b1d3"/>
<rect x="602.51" y="1240.79" width="7.72" height="22.80" fill="#b3de69"/>
<rect x="602.51" y="1023.80" width="7.72" height="215.79" fill="#f48072"/>
<rect x="611.23" y="1023.20" width="9.72" height="342.80" fill="#161214"/>
<rect x="612.23" y="1357.00" width="7.72" height="8.40" fill="#d9d9d9"/>
<rect x="612.23" y="1349.46" width="7.72" height="4.97" fill="#8dd3c7"/>
<rect x="612.23" y="1327.52" width="7.72" height="19.71" fill="#ffffb3"/>
<rect x="612.23" y="1279.87" width="7.72" height="45.08" fill="#fccde5"/>
<rect x="612.23" y="1275.76" width="7.72" height="1.54" fill="#bebada"/>
<rect x="612.23" y="1235.31" width="7.72" height="38.22" fill="#80b1d3"/>
<rect x="612.23" y="1023.80" width="7.72" height="210.31" fill="#f48072"/>
<rect x="620.95" y="1023.20" width="9.72" height="342.80" fill="#161214"/>
<rect x="621.95" y="1343.98" width="7.72" height="21.42" fill="#d9d9d9"/>
<rect x="621.95" y="1336.09" width="7.72" height="5.31" fill="#8dd3c7"/>
<rect x="621.95" y="1306.95" width="7.72" height="26.57" fill="#fccde5"/>
<rect x="621.95" y="1239.42" width="7.72" height="64.96" fill="#80b1d3"/>
<rect x="621.95" y="1023.80" width="7.72" height="214.42" fill="#f48072"/>
<rect x="630.68" y="1023.20" width="9.72" height="342.80" fill="#161214"/>
<rect x="631.68" y="1339.18" width="7.72" height="26.22" fill="#d9d9d9"/>
<rect x="631.68" y="1334.72" width="7.72" height="2.23" fill="#ccebc5"/>
<rect x="631.68" y="1331.29" width="7.72" height="1.20" fill="#8dd3c7"/>
<rect x="631.68" y="1320.32" width="7.72" height="8.40" fill="#fccde5"/>
<rect x="631.68" y="1227.42" width="7.72" height="88.27" fill="#80b1d3"/>
<rect x="631.68" y="1023.80" width="7.72" height="202.42" fill="#f48072"/>
<rect x="640.40" y="1023.20" width="9.72" height="342.80" fill="#161214"/>
<rect x="641.40" y="1363.51" width="7.72" height="0.30" fill="#ffffb3"/>
<rect x="641.40" y="1339.52" width="7.72" height="21.77" fill="#8dd3c7"/>
<rect x="641.40" y="1243.19" width="7.72" height="93.76" fill="#80b1d3"/>
<rect x="641.40" y="1023.80" width="7.72" height="218.19" fill="#f48072"/>
<rect x="650.12" y="1023.20" width="9.72" height="342.80" fill="#161214"/>
<rect x="651.12" y="1356.32" width="7.72" height="5.66" fill="#8dd3c7"/>
<rect x="651.12" y="1250.05" width="7.72" height="103.01" fill="#80b1d3"/>
<rect x="651.12" y="1023.80" width="7.72" height="225.05" fill="#f48072"/>
<rect x="659.84" y="1023.20" width="9.72" height="342.80" fill="#161214"/>
<rect x="660.84" y="1363.17" width="7.72" height="2.23" fill="#d9d9d9"/>
<rect x="660.84" y="1359.74" width="7.72" height="1.20" fill="#8dd3c7"/>
<rect x="660.84" y="1251.42" width="7.72" height="104.04" fill="#80b1d3"/>
<rect x="660.84" y="1023.80" width="7.72" height="226.42" fill="#f48072"/>
<rect x="669.56" y="1023.20" width="9.72" height="342.80" fill="#161214"/>
<rect x="670.56" y="1360.77" width="7.72" height="4.63" fill="#8dd3c7"/>
<rect x="670.56" y="1357.69" width="7.72" height="0.86" fill="#fccde5"/>
<rect x="670.56" y="1355.29" width="7.72" height="0.30" fill="#b3de69"/>
<rect x="670.56" y="1350.15" width="7.72" height="2.91" fill="#bc80bd"/>
<rect x="670.56" y="1345.69" width="7.72" height="2.23" fill="#bebada"/>
<rect x="670.56" y="1269.24" width="7.72" height="74.22" fill="#80b1d3"/>
<rect x="670.56" y="1262.39" width="7.72" height="4.63" fill="#b3de69"/>
<rect x="670.56" y="1023.80" width="7.72" height="237.39" fill="#f48072"/>
<rect x="679.28" y="1023.20" width="9.72" height="342.80" fill="#161214"/>
<rect x="680.28" y="1361.80" width="7.72" height="0.86" fill="#8dd3c7"/>
<rect x="680.28" y="1360.77" width="7.72" height="0.30" fill="#ffed6f"/>
<rect x="680.28" y="1357.00" width="7.72" height="1.20" fill="#fccde5"/>
<rect x="680.28" y="1270.27" width="7.72" height="84.16" fill="#80b1d3"/>
<rect x="680.28" y="1023.80" width="7.72" height="245.27" fill="#f48072"/>
<rect x="689.01" y="1023.20" width="9.72" height="342.80" fill="#161214"/>
<rect x="690.01" y="1362.14" width="7.72" height="3.26" fill="#ccebc5"/>
<rect x="690.01" y="1353.23" width="7.72" height="6.34" fill="#8dd3c7"/>
<rect x="690.01" y="1350.15" width="7.72" height="0.51" fill="#fccde5"/>
<rect x="690.01" y="1346.72" width="7.72" height="0.86" fill="#bebada"/>
<rect x="690.01" y="1263.76" width="7.72" height="80.73" fill="#80b1d3"/>
<rect x="690.01" y="1235.99" width="7.72" height="25.54" fill="#b3de69"/>
<rect x="690.01" y="1023.80" width="7.72" height="210.99" fill="#f48072"/>
<rect x="698.73" y="1023.20" width="9.72" height="342.80" fill="#161214"/>
<rect x="699.73" y="1363.17" width="7.72" height="0.30" fill="#8dd3c7"/>
<rect x="699.73" y="1360.77" width="7.72" height="0.30" fill="#b3de69"/>
<rect x="699.73" y="1354.94" width="7.72" height="3.60" fill="#bc80bd"/>
<rect x="699.73" y="1280.56" width="7.72" height="71.82" fill="#80b1d3"/>
<rect x="699.73" y="1254.85" width="7.72" height="23.48" fill="#b3de69"/>
<rect x="699.73" y="1023.80" width="7.72" height="229.85" fill="#f48072"/>
<rect x="708.45" y="1023.20" width="9.72" height="342.80" fill="#161214"/>
<rect x="709.45" y="1360.43" width="7.72" height="4.97" fill="#d9d9d9"/>
<rect x="709.45" y="1356.32" width="7.72" height="1.20" fill="#8dd3c7"/>
<rect x="709.45" y="1353.57" width="7.72" height="0.30" fill="#bebada"/>
<rect x="709.45" y="1291.53" width="7.72" height="59.82" fill="#80b1d3"/>
<rect x="709.45" y="1266.16" width="7.72" height="23.14" fill="#b3de69"/>
<rect x="709.45" y="1023.80" width="7.72" height="241.16" fill="#f48072"/>
<rect x="718.17" y="1023.20" width="9.72" height="342.80" fill="#161214"/>
<rect x="719.17" y="1357.69" width="7.72" height="7.71" fill="#d9d9d9"/>
<rect x="719.17" y="1350.15" width="7.72" height="4.97" fill="#ccebc5"/>
<rect x="719.17" y="1347.40" width="7.72" height="0.30" fill="#fccde5"/>
<rect x="719.17" y="1337.12" width="7.72" height="7.71" fill="#bebada"/>
<rect x="719.17" y="1272.67" width="7.72" height="62.22" fill="#80b1d3"/>
<rect x="719.17" y="1255.88" width="7.72" height="14.57" fill="#b3de69"/>
<rect x="719.17" y="1023.80" width="7.72" height="230.88" fill="#f48072"/>
<rect x="727.89" y="1023.20" width="9.72" height="342.80" fill="#161214"/>
<rect x="728.89" y="1360.09" width="7.72" height="3.94" fill="#8dd3c7"/>
<rect x="728.89" y="1350.83" width="7.72" height="4.28" fill="#ffed6f"/>
<rect x="728.89" y="1330.95" width="7.72" height="17.65" fill="#bc80bd"/>
<rect x="728.89" y="1324.78" width="7.72" height="3.94" fill="#bebada"/>
<rect x="728.89" y="1264.79" width="7.72" height="57.76" fill="#80b1d3"/>
<rect x="728.89" y="1242.16" width="7.72" height="20.40" fill="#b3de69"/>
<rect x="728.89" y="1023.80" width="7.72" height="217.16" fill="#f48072"/>
<rect x="737.62" y="1023.20" width="9.72" height="342.80" fill="#161214"/>
<rect x="738.62" y="1352.55" width="7.72" height="12.85" fill="#d9d9d9"/>
<rect x="738.62" y="1348.09" width="7.72" height="2.23" fill="#ccebc5"/>
<rect x="738.62" y="1343.63" width="7.72" height="2.23" fill="#8dd3c7"/>
<rect x="738.62" y="1341.23" width="7.72" height="0.30" fill="#fccde5"/>
<rect x="738.62" y="1334.03" width="7.72" height="4.97" fill="#ffed6f"/>
<rect x="738.62" y="1324.09" width="7.72" height="7.37" fill="#bc80bd"/>
<rect x="738.62" y="1314.49" width="7.72" height="7.37" fill="#bebada"/>
<rect x="738.62" y="1256.90" width="7.72" height="55.36" fill="#80b1d3"/>
<rect x="738.62" y="1251.76" width="7.72" height="2.91" fill="#b3de69"/>
<rect x="738.62" y="1023.80" width="7.72" height="226.76" fill="#f48072"/>
<rect x="747.34" y="1023.20" width="9.72" height="342.80" fill="#161214"/>
<rect x="748.34" y="1359.74" width="7.72" height="5.66" fill="#bebada"/>
<rect x="748.34" y="1321.01" width="7.72" height="36.51" fill="#80b1d3"/>
<rect x="748.34" y="1222.97" width="7.72" height="95.81" fill="#b3de69"/>
<rect x="748.34" y="1023.80" width="7.72" height="197.97" fill="#f48072"/>
<rect x="757.06" y="1023.20" width="9.72" height="342.80" fill="#161214"/>
<rect x="758.06" y="1364.54" width="7.72" height="0.86" fill="#d9d9d9"/>
<rect x="758.06" y="1361.80" width="7.72" height="0.51" fill="#ccebc5"/>
<rect x="758.06" y="1359.74" width="7.72" height="0.30" fill="#8dd3c7"/>
<rect x="758.06" y="1353.57" width="7.72" height="2.91" fill="#bc80bd"/>
<rect x="758.06" y="1347.40" width="7.72" height="3.94" fill="#bebada"/>
<rect x="758.06" y="1316.21" width="7.72" height="28.97" fill="#80b1d3"/>
<rect x="758.06" y="1215.43" width="7.72" height="98.55" fill="#b3de69"/>
<rect x="758.06" y="1023.80" width="7.72" height="190.43" fill="#f48072"/>
<rect x="766.78" y="1023.20" width="9.72" height="342.80" fill="#161214"/>
<rect x="767.78" y="1339.18" width="7.72" height="26.22" fill="#d9d9d9"/>
<rect x="767.78" y="1336.43" width="7.72" height="0.30" fill="#8dd3c7"/>
<rect x="767.78" y="1335.06" width="7.72" height="0.30" fill="#fccde5"/>
<rect x="767.78" y="1322.38" width="7.72" height="9.08" fill="#bebada"/>
<rect x="767.78" y="1307.98" width="7.72" height="12.17" fill="#80b1d3"/>
<rect x="767.78" y="1201.03" width="7.72" height="104.73" fill="#b3de69"/>
<rect x="767.78" y="1023.80" width="7.72" height="176.03" fill="#f48072"/>
<rect x="776.50" y="1023.20" width="9.72" height="342.80" fill="#161214"/>
<rect x="777.50" y="1355.97" width="7.72" height="9.43" fill="#d9d9d9"/>
<rect x="777.50" y="1345.00" width="7.72" height="4.97" fill="#bebada"/>
<rect x="777.50" y="1324.78" width="7.72" height="18.00" fill="#80b1d3"/>
<rect x="777.50" y="1201.03" width="7.72" height="121.52" fill="#b3de69"/>
<rect x="777.50" y="1023.80" width="7.72" height="176.03" fill="#f48072"/>
<rect x="786.23" y="1023.20" width="9.72" height="342.80" fill="#161214"/>
<rect x="787.23" y="1337.46" width="7.72" height="24.17" fill="#80b1d3"/>
<rect x="787.23" y="1261.02" width="7.72" height="74.22" fill="#b3de69"/>
<rect x="787.23" y="1023.80" width="7.72" height="236.02" fill="#f48072"/>
<rect x="795.95" y="1023.20" width="9.72" height="342.80" fill="#161214"/>
<rect x="796.95" y="1361.46" width="7.72" height="3.94" fill="#d9d9d9"/>
<rect x="796.95" y="1358.72" width="7.72" height="0.51" fill="#8dd3c7"/>
<rect x="796.95" y="1313.81" width="7.72" height="42.34" fill="#80b1d3"/>
<rect x="796.95" y="1252.10" width="7.72" height="59.48" fill="#b3de69"/>
<rect x="796.95" y="1023.80" width="7.72" height="227.10" fill="#f48072"/>
<rect x="805.67" y="1023.20" width="9.72" height="342.80" fill="#161214"/>
<rect x="806.67" y="1364.89" width="7.72" height="0.51" fill="#d9d9d9"/>
<rect x="806.67" y="1356.66" width="7.72" height="2.23" fill="#ffed6f"/>
<rect x="806.67" y="1349.46" width="7.72" height="4.63" fill="#bc80bd"/>
<rect x="806.67" y="1318.61" width="7.72" height="28.62" fill="#80b1d3"/>
<rect x="806.67" y="1261.02" width="7.72" height="55.36" fill="#b3de69"/>
<rect x="806.67" y="1023.80" width="7.72" height="236.02" fill="#f48072"/>
<rect x="815.39" y="1023.20" width="9.72" height="342.80" fill="#161214"/>
<rect x="816.39" y="1323.41" width="7.72" height="41.99" fill="#d9d9d9"/>
<rect x="816.39" y="1315.87" width="7.72" height="2.57" fill="#bebada"/>
<rect x="816.39" y="1292.56" width="7.72" height="20.74" fill="#80b1d3"/>
<rect x="816.39" y="1223.31" width="7.72" height="67.02" fill="#b3de69"/>
<rect x="816.39" y="1023.80" width="7.72" height="198.31" fill="#f48072"/>
<rect x="825.11" y="1023.20" width="9.72" height="342.80" fill="#161214"/>
<rect x="826.11" y="1364.54" width="7.72" height="0.86" fill="#d9d9d9"/>
<rect x="826.11" y="1358.37" width="7.72" height="2.23" fill="#8dd3c7"/>
<rect x="826.11" y="1354.94" width="7.72" height="0.51" fill="#bebada"/>
<rect x="826.11" y="1287.07" width="7.72" height="65.65" fill="#80b1d3"/>
<rect x="826.11" y="1227.42" width="7.72" height="57.42" fill="#b3de69"/>
<rect x="826.11" y="1023.80" width="7.72" height="202.42" fill="#f48072"/>
<rect x="834.83" y="1023.20" width="9.72" height="342.80" fill="#161214"/>
<rect x="835.83" y="1353.92" width="7.72" height="6.34" fill="#bebada"/>
<rect x="835.83" y="1306.27" width="7.72" height="45.08" fill="#80b1d3"/>
<rect x="835.83" y="1235.99" width="7.72" height="68.05" fill="#b3de69"/>
<rect x="835.83" y="1023.80" width="7.72" height="210.99" fill="#f48072"/>
<rect x="844.56" y="1023.20" width="9.72" height="342.80" fill="#161214"/>
<rect x="845.56" y="1198.29" width="7.72" height="162.66" fill="#80b1d3"/>
<rect x="845.56" y="1023.80" width="7.72" height="173.29" fill="#f48072"/>
<rect x="854.28" y="1023.20" width="9.72" height="342.80" fill="#161214"/>
<rect x="855.28" y="1359.40" width="7.72" height="6.00" fill="#d9d9d9"/>
<rect x="855.28" y="1345.35" width="7.72" height="11.48" fill="#ccebc5"/>
<rect x="855.28" y="1337.80" width="7.72" height="4.97" fill="#8dd3c7"/>
<rect x="855.28" y="1329.58" width="7.72" height="4.63" fill="#ffed6f"/>
<rect x="855.28" y="1314.84" width="7.72" height="12.51" fill="#bc80bd"/>
<rect x="855.28" y="1227.08" width="7.72" height="85.53" fill="#80b1d3"/>
<rect x="855.28" y="1197.60" width="7.72" height="27.25" fill="#b3de69"/>
<rect x="855.28" y="1023.80" width="7.72" height="172.60" fill="#f48072"/>
<rect x="879.50" y="1006.50" width="59.80" height="376.50" fill="#ffffff" stroke="#3a3a3a" stroke-width="1.4"/>
<rect x="880.70" y="1023.20" width="9.57" height="342.80" fill="#161214"/>
<rect x="881.70" y="1361.46" width="7.57" height="3.94" fill="#d9d9d9"/>
<rect x="881.70" y="1348.09" width="7.57" height="10.80" fill="#8dd3c7"/>
<rect x="881.70" y="1101.27" width="7.57" height="243.56" fill="#80b1d3"/>
<rect x="881.70" y="1097.16" width="7.57" height="2.23" fill="#b3de69"/>
<rect x="881.70" y="1023.80" width="7.57" height="72.16" fill="#f48072"/>
<rect x="890.27" y="1023.20" width="9.57" height="342.80" fill="#161214"/>
<rect x="891.27" y="1313.81" width="7.57" height="51.59" fill="#d9d9d9"/>
<rect x="891.27" y="1291.53" width="7.57" height="19.03" fill="#8dd3c7"/>
<rect x="891.27" y="1287.07" width="7.57" height="2.23" fill="#ffffb3"/>
<rect x="891.27" y="1252.10" width="7.57" height="32.05" fill="#fccde5"/>
<rect x="891.27" y="1249.71" width="7.57" height="0.30" fill="#bc80bd"/>
<rect x="891.27" y="1246.62" width="7.57" height="0.86" fill="#bebada"/>
<rect x="891.27" y="1079.68" width="7.57" height="164.03" fill="#80b1d3"/>
<rect x="891.27" y="1058.77" width="7.57" height="19.03" fill="#b3de69"/>
<rect x="891.27" y="1023.80" width="7.57" height="33.77" fill="#f48072"/>
<rect x="899.83" y="1023.20" width="9.57" height="342.80" fill="#161214"/>
<rect x="900.83" y="1354.26" width="7.57" height="11.14" fill="#d9d9d9"/>
<rect x="900.83" y="1350.49" width="7.57" height="1.20" fill="#ccebc5"/>
<rect x="900.83" y="1326.15" width="7.57" height="22.11" fill="#8dd3c7"/>
<rect x="900.83" y="1317.58" width="7.57" height="6.00" fill="#ffffb3"/>
<rect x="900.83" y="1295.98" width="7.57" height="19.03" fill="#fccde5"/>
<rect x="900.83" y="1292.90" width="7.57" height="0.51" fill="#bebada"/>
<rect x="900.83" y="1148.92" width="7.57" height="141.06" fill="#80b1d3"/>
<rect x="900.83" y="1077.28" width="7.57" height="69.76" fill="#b3de69"/>
<rect x="900.83" y="1023.80" width="7.57" height="52.28" fill="#f48072"/>
<rect x="909.40" y="1023.20" width="9.57" height="342.80" fill="#161214"/>
<rect x="910.40" y="1363.86" width="7.57" height="0.51" fill="#8dd3c7"/>
<rect x="910.40" y="1361.80" width="7.57" height="0.30" fill="#ffed6f"/>
<rect x="910.40" y="1355.29" width="7.57" height="3.94" fill="#fccde5"/>
<rect x="910.40" y="1350.49" width="7.57" height="2.23" fill="#ffed6f"/>
<rect x="910.40" y="1345.35" width="7.57" height="2.57" fill="#bc80bd"/>
<rect x="910.40" y="1146.18" width="7.57" height="195.91" fill="#80b1d3"/>
<rect x="910.40" y="1142.75" width="7.57" height="1.54" fill="#b3de69"/>
<rect x="910.40" y="1023.80" width="7.57" height="117.75" fill="#f48072"/>
<rect x="918.97" y="1023.20" width="9.57" height="342.80" fill="#161214"/>
<rect x="919.97" y="1355.97" width="7.57" height="9.43" fill="#d9d9d9"/>
<rect x="919.97" y="1331.29" width="7.57" height="22.11" fill="#8dd3c7"/>
<rect x="919.97" y="1328.55" width="7.57" height="0.51" fill="#ffffb3"/>
<rect x="919.97" y="1317.24" width="7.57" height="8.74" fill="#fccde5"/>
<rect x="919.97" y="1170.52" width="7.57" height="143.80" fill="#80b1d3"/>
<rect x="919.97" y="1150.64" width="7.57" height="18.00" fill="#b3de69"/>
<rect x="919.97" y="1023.80" width="7.57" height="125.64" fill="#f48072"/>
<rect x="928.53" y="1023.20" width="9.57" height="342.80" fill="#161214"/>
<rect x="929.53" y="1356.32" width="7.57" height="7.37" fill="#8dd3c7"/>
<rect x="929.53" y="1354.26" width="7.57" height="0.30" fill="#ffffb3"/>
<rect x="929.53" y="1352.20" width="7.57" height="0.30" fill="#fccde5"/>
<rect x="929.53" y="1349.12" width="7.57" height="0.86" fill="#bc80bd"/>
<rect x="929.53" y="1195.20" width="7.57" height="151.35" fill="#80b1d3"/>
<rect x="929.53" y="1023.80" width="7.57" height="170.20" fill="#f48072"/>
<rect x="952.80" y="1006.50" width="138.50" height="376.50" fill="#ffffff" stroke="#3a3a3a" stroke-width="1.4"/>
<rect x="954.00" y="1023.20" width="9.72" height="342.80" fill="#161214"/>
<rect x="955.00" y="1363.17" width="7.72" height="2.23" fill="#8dd3c7"/>
<rect x="955.00" y="1358.37" width="7.72" height="1.89" fill="#bebada"/>
<rect x="955.00" y="1326.49" width="7.72" height="28.97" fill="#80b1d3"/>
<rect x="955.00" y="1023.80" width="7.72" height="300.46" fill="#b3de69"/>
<rect x="963.72" y="1023.20" width="9.72" height="342.80" fill="#161214"/>
<rect x="964.72" y="1360.43" width="7.72" height="4.97" fill="#ccebc5"/>
<rect x="964.72" y="1339.18" width="7.72" height="17.31" fill="#ffed6f"/>
<rect x="964.72" y="1313.12" width="7.72" height="22.80" fill="#bc80bd"/>
<rect x="964.72" y="1274.04" width="7.72" height="36.17" fill="#bebada"/>
<rect x="964.72" y="1244.91" width="7.72" height="26.57" fill="#80b1d3"/>
<rect x="964.72" y="1026.20" width="7.72" height="216.48" fill="#b3de69"/>
<rect x="964.72" y="1023.80" width="7.72" height="1.20" fill="#f48072"/>
<rect x="973.44" y="1023.20" width="9.72" height="342.80" fill="#161214"/>
<rect x="974.44" y="1349.46" width="7.72" height="15.94" fill="#d9d9d9"/>
<rect x="974.44" y="1336.78" width="7.72" height="8.74" fill="#8dd3c7"/>
<rect x="974.44" y="1333.01" width="7.72" height="0.86" fill="#ffed6f"/>
<rect x="974.44" y="1321.01" width="7.72" height="9.43" fill="#fccde5"/>
<rect x="974.44" y="1313.12" width="7.72" height="3.26" fill="#bebada"/>
<rect x="974.44" y="1251.76" width="7.72" height="58.79" fill="#80b1d3"/>
<rect x="974.44" y="1026.20" width="7.72" height="223.33" fill="#b3de69"/>
<rect x="974.44" y="1023.80" width="7.72" height="1.20" fill="#f48072"/>
<rect x="983.16" y="1023.20" width="9.72" height="342.80" fill="#161214"/>
<rect x="984.16" y="1364.89" width="7.72" height="0.51" fill="#d9d9d9"/>
<rect x="984.16" y="1352.89" width="7.72" height="8.74" fill="#8dd3c7"/>
<rect x="984.16" y="1346.37" width="7.72" height="3.26" fill="#ffed6f"/>
<rect x="984.16" y="1328.21" width="7.72" height="15.60" fill="#bc80bd"/>
<rect x="984.16" y="1310.04" width="7.72" height="15.60" fill="#bebada"/>
<rect x="984.16" y="1226.05" width="7.72" height="81.41" fill="#80b1d3"/>
<rect x="984.16" y="1026.20" width="7.72" height="197.62" fill="#b3de69"/>
<rect x="984.16" y="1023.80" width="7.72" height="1.20" fill="#f48072"/>
<rect x="992.89" y="1023.20" width="9.72" height="342.80" fill="#161214"/>
<rect x="993.89" y="1317.92" width="7.72" height="47.48" fill="#d9d9d9"/>
<rect x="993.89" y="1313.47" width="7.72" height="1.54" fill="#ccebc5"/>
<rect x="993.89" y="1310.04" width="7.72" height="0.86" fill="#ffed6f"/>
<rect x="993.89" y="1303.18" width="7.72" height="3.94" fill="#fccde5"/>
<rect x="993.89" y="1269.93" width="7.72" height="29.99" fill="#bebada"/>
<rect x="993.89" y="1219.88" width="7.72" height="47.48" fill="#80b1d3"/>
<rect x="993.89" y="1051.91" width="7.72" height="165.74" fill="#b3de69"/>
<rect x="993.89" y="1023.80" width="7.72" height="26.91" fill="#f48072"/>
<rect x="1002.61" y="1023.20" width="9.72" height="342.80" fill="#161214"/>
<rect x="1003.61" y="1361.46" width="7.72" height="3.94" fill="#d9d9d9"/>
<rect x="1003.61" y="1349.80" width="7.72" height="9.08" fill="#ccebc5"/>
<rect x="1003.61" y="1346.72" width="7.72" height="0.30" fill="#ffed6f"/>
<rect x="1003.61" y="1341.58" width="7.72" height="2.91" fill="#fccde5"/>
<rect x="1003.61" y="1338.49" width="7.72" height="0.51" fill="#ffed6f"/>
<rect x="1003.61" y="1326.49" width="7.72" height="9.77" fill="#bc80bd"/>
<rect x="1003.61" y="1303.18" width="7.72" height="20.74" fill="#bebada"/>
<rect x="1003.61" y="1245.93" width="7.72" height="54.68" fill="#80b1d3"/>
<rect x="1003.61" y="1066.65" width="7.72" height="177.06" fill="#b3de69"/>
<rect x="1003.61" y="1023.80" width="7.72" height="41.65" fill="#f48072"/>
<rect x="1012.33" y="1023.20" width="9.72" height="342.80" fill="#161214"/>
<rect x="1013.33" y="1361.46" width="7.72" height="3.94" fill="#d9d9d9"/>
<rect x="1013.33" y="1358.72" width="7.72" height="0.30" fill="#8dd3c7"/>
<rect x="1013.33" y="1353.23" width="7.72" height="2.91" fill="#fccde5"/>
<rect x="1013.33" y="1349.12" width="7.72" height="1.54" fill="#ffed6f"/>
<rect x="1013.33" y="1337.80" width="7.72" height="8.74" fill="#bc80bd"/>
<rect x="1013.33" y="1306.95" width="7.72" height="28.28" fill="#bebada"/>
<rect x="1013.33" y="1263.07" width="7.72" height="41.31" fill="#80b1d3"/>
<rect x="1013.33" y="1067.34" width="7.72" height="193.51" fill="#b3de69"/>
<rect x="1013.33" y="1023.80" width="7.72" height="42.34" fill="#f48072"/>
<rect x="1022.05" y="1023.20" width="9.72" height="342.80" fill="#161214"/>
<rect x="1023.05" y="1355.97" width="7.72" height="9.43" fill="#d9d9d9"/>
<rect x="1023.05" y="1352.55" width="7.72" height="0.86" fill="#ccebc5"/>
<rect x="1023.05" y="1347.75" width="7.72" height="1.54" fill="#fccde5"/>
<rect x="1023.05" y="1341.58" width="7.72" height="3.60" fill="#ffed6f"/>
<rect x="1023.05" y="1321.01" width="7.72" height="18.00" fill="#bc80bd"/>
<rect x="1023.05" y="1307.64" width="7.72" height="10.80" fill="#bebada"/>
<rect x="1023.05" y="1243.19" width="7.72" height="61.88" fill="#80b1d3"/>
<rect x="1023.05" y="1082.76" width="7.72" height="158.20" fill="#b3de69"/>
<rect x="1023.05" y="1023.80" width="7.72" height="57.76" fill="#f48072"/>
<rect x="1031.77" y="1023.20" width="9.72" height="342.80" fill="#161214"/>
<rect x="1032.77" y="1353.92" width="7.72" height="11.48" fill="#d9d9d9"/>
<rect x="1032.77" y="1351.17" width="7.72" height="0.30" fill="#ccebc5"/>
<rect x="1032.77" y="1348.43" width="7.72" height="0.30" fill="#8dd3c7"/>
<rect x="1032.77" y="1345.00" width="7.72" height="0.30" fill="#fccde5"/>
<rect x="1032.77" y="1341.92" width="7.72" height="0.86" fill="#ffed6f"/>
<rect x="1032.77" y="1330.26" width="7.72" height="9.43" fill="#bc80bd"/>
<rect x="1032.77" y="1312.09" width="7.72" height="15.60" fill="#bebada"/>
<rect x="1032.77" y="1276.10" width="7.72" height="33.42" fill="#80b1d3"/>
<rect x="1032.77" y="1094.76" width="7.72" height="179.11" fill="#b3de69"/>
<rect x="1032.77" y="1023.80" width="7.72" height="69.76" fill="#f48072"/>
<rect x="1041.49" y="1023.20" width="9.72" height="342.80" fill="#161214"/>
<rect x="1042.49" y="1359.40" width="7.72" height="6.00" fill="#ccebc5"/>
<rect x="1042.49" y="1339.18" width="7.72" height="15.60" fill="#ffed6f"/>
<rect x="1042.49" y="1308.67" width="7.72" height="27.94" fill="#bc80bd"/>
<rect x="1042.49" y="1302.84" width="7.72" height="3.26" fill="#bebada"/>
<rect x="1042.49" y="1265.47" width="7.72" height="34.79" fill="#80b1d3"/>
<rect x="1042.49" y="1091.33" width="7.72" height="171.91" fill="#b3de69"/>
<rect x="1042.49" y="1023.80" width="7.72" height="66.33" fill="#f48072"/>
<rect x="1051.21" y="1023.20" width="9.72" height="342.80" fill="#161214"/>
<rect x="1052.21" y="1361.46" width="7.72" height="3.94" fill="#8dd3c7"/>
<rect x="1052.21" y="1331.29" width="7.72" height="26.91" fill="#80b1d3"/>
<rect x="1052.21" y="1123.90" width="7.72" height="204.82" fill="#b3de69"/>
<rect x="1052.21" y="1023.80" width="7.72" height="98.90" fill="#f48072"/>
<rect x="1060.94" y="1023.20" width="9.72" height="342.80" fill="#161214"/>
<rect x="1061.94" y="1363.17" width="7.72" height="0.30" fill="#bc80bd"/>
<rect x="1061.94" y="1301.81" width="7.72" height="58.10" fill="#80b1d3"/>
<rect x="1061.94" y="1111.90" width="7.72" height="187.68" fill="#b3de69"/>
<rect x="1061.94" y="1023.80" width="7.72" height="86.90" fill="#f48072"/>
<rect x="1070.66" y="1023.20" width="9.72" height="342.80" fill="#161214"/>
<rect x="1071.66" y="1358.72" width="7.72" height="6.68" fill="#d9d9d9"/>
<rect x="1071.66" y="1355.29" width="7.72" height="0.30" fill="#8dd3c7"/>
<rect x="1071.66" y="1349.80" width="7.72" height="2.91" fill="#fccde5"/>
<rect x="1071.66" y="1302.50" width="7.72" height="42.68" fill="#80b1d3"/>
<rect x="1071.66" y="1132.81" width="7.72" height="167.46" fill="#b3de69"/>
<rect x="1071.66" y="1023.80" width="7.72" height="107.81" fill="#f48072"/>
<rect x="1080.38" y="1023.20" width="9.72" height="342.80" fill="#161214"/>
<rect x="1081.38" y="1343.29" width="7.72" height="22.11" fill="#d9d9d9"/>
<rect x="1081.38" y="1329.92" width="7.72" height="10.80" fill="#8dd3c7"/>
<rect x="1081.38" y="1274.04" width="7.72" height="52.62" fill="#80b1d3"/>
<rect x="1081.38" y="1114.64" width="7.72" height="157.17" fill="#b3de69"/>
<rect x="1081.38" y="1023.80" width="7.72" height="89.64" fill="#f48072"/>
<rect x="1104.70" y="1006.50" width="138.50" height="376.50" fill="#ffffff" stroke="#3a3a3a" stroke-width="1.4"/>
<rect x="1105.90" y="1023.20" width="9.72" height="342.80" fill="#161214"/>
<rect x="1106.90" y="1363.17" width="7.72" height="2.23" fill="#ccebc5"/>
<rect x="1106.90" y="1334.38" width="7.72" height="25.54" fill="#ffed6f"/>
<rect x="1106.90" y="1256.56" width="7.72" height="75.24" fill="#bc80bd"/>
<rect x="1106.90" y="1236.34" width="7.72" height="17.65" fill="#bebada"/>
<rect x="1106.90" y="1225.02" width="7.72" height="8.74" fill="#80b1d3"/>
<rect x="1106.90" y="1172.92" width="7.72" height="49.88" fill="#b3de69"/>
<rect x="1106.90" y="1023.80" width="7.72" height="147.92" fill="#f48072"/>
<rect x="1115.62" y="1023.20" width="9.72" height="342.80" fill="#161214"/>
<rect x="1116.62" y="1356.66" width="7.72" height="8.74" fill="#ccebc5"/>
<rect x="1116.62" y="1324.09" width="7.72" height="29.31" fill="#ffed6f"/>
<rect x="1116.62" y="1232.91" width="7.72" height="88.61" fill="#bc80bd"/>
<rect x="1116.62" y="1216.11" width="7.72" height="14.23" fill="#bebada"/>
<rect x="1116.62" y="1207.88" width="7.72" height="6.00" fill="#80b1d3"/>
<rect x="1116.62" y="1174.97" width="7.72" height="30.68" fill="#b3de69"/>
<rect x="1116.62" y="1023.80" width="7.72" height="149.97" fill="#f48072"/>
<rect x="1125.34" y="1023.20" width="9.72" height="342.80" fill="#161214"/>
<rect x="1126.34" y="1338.15" width="7.72" height="22.11" fill="#ffed6f"/>
<rect x="1126.34" y="1144.47" width="7.72" height="191.11" fill="#bc80bd"/>
<rect x="1126.34" y="1103.67" width="7.72" height="38.22" fill="#bebada"/>
<rect x="1126.34" y="1093.73" width="7.72" height="7.71" fill="#80b1d3"/>
<rect x="1126.34" y="1032.03" width="7.72" height="59.48" fill="#b3de69"/>
<rect x="1126.34" y="1023.80" width="7.72" height="7.03" fill="#f48072"/>
<rect x="1135.06" y="1023.20" width="9.72" height="342.80" fill="#161214"/>
<rect x="1136.06" y="1257.93" width="7.72" height="107.47" fill="#d9d9d9"/>
<rect x="1136.06" y="1253.82" width="7.72" height="0.86" fill="#ccebc5"/>
<rect x="1136.06" y="1247.65" width="7.72" height="3.60" fill="#ffffb3"/>
<rect x="1136.06" y="1242.85" width="7.72" height="2.23" fill="#fccde5"/>
<rect x="1136.06" y="1187.66" width="7.72" height="51.93" fill="#ffed6f"/>
<rect x="1136.06" y="1086.19" width="7.72" height="98.90" fill="#bc80bd"/>
<rect x="1136.06" y="1083.45" width="7.72" height="0.30" fill="#bebada"/>
<rect x="1136.06" y="1023.80" width="7.72" height="55.02" fill="#f48072"/>
<rect x="1144.79" y="1023.20" width="9.72" height="342.80" fill="#161214"/>
<rect x="1145.79" y="1302.15" width="7.72" height="63.25" fill="#d9d9d9"/>
<rect x="1145.79" y="1294.61" width="7.72" height="4.97" fill="#ccebc5"/>
<rect x="1145.79" y="1291.87" width="7.72" height="0.30" fill="#ffffb3"/>
<rect x="1145.79" y="1247.65" width="7.72" height="41.65" fill="#ffed6f"/>
<rect x="1145.79" y="1119.44" width="7.72" height="125.64" fill="#bc80bd"/>
<rect x="1145.79" y="1114.64" width="7.72" height="2.23" fill="#bebada"/>
<rect x="1145.79" y="1106.07" width="7.72" height="6.00" fill="#80b1d3"/>
<rect x="1145.79" y="1023.80" width="7.72" height="81.07" fill="#f48072"/>
<rect x="1154.51" y="1023.20" width="9.72" height="342.80" fill="#161214"/>
<rect x="1155.51" y="1364.54" width="7.72" height="0.86" fill="#d9d9d9"/>
<rect x="1155.51" y="1360.77" width="7.72" height="1.54" fill="#ccebc5"/>
<rect x="1155.51" y="1357.00" width="7.72" height="1.54" fill="#fccde5"/>
<rect x="1155.51" y="1332.66" width="7.72" height="22.11" fill="#ffed6f"/>
<rect x="1155.51" y="1299.75" width="7.72" height="30.68" fill="#bc80bd"/>
<rect x="1155.51" y="1206.17" width="7.72" height="91.36" fill="#bebada"/>
<rect x="1155.51" y="1152.69" width="7.72" height="51.25" fill="#80b1d3"/>
<rect x="1155.51" y="1041.63" width="7.72" height="109.18" fill="#b3de69"/>
<rect x="1155.51" y="1023.80" width="7.72" height="16.63" fill="#f48072"/>
<rect x="1164.23" y="1023.20" width="9.72" height="342.80" fill="#161214"/>
<rect x="1165.23" y="1339.18" width="7.72" height="24.17" fill="#ccebc5"/>
<rect x="1165.23" y="1329.92" width="7.72" height="6.68" fill="#8dd3c7"/>
<rect x="1165.23" y="1322.04" width="7.72" height="5.31" fill="#fccde5"/>
<rect x="1165.23" y="1306.61" width="7.72" height="12.85" fill="#ffed6f"/>
<rect x="1165.23" y="1279.53" width="7.72" height="24.51" fill="#bc80bd"/>
<rect x="1165.23" y="1238.05" width="7.72" height="38.91" fill="#bebada"/>
<rect x="1165.23" y="1178.75" width="7.72" height="56.73" fill="#80b1d3"/>
<rect x="1165.23" y="1041.97" width="7.72" height="134.55" fill="#b3de69"/>
<rect x="1165.23" y="1023.80" width="7.72" height="16.97" fill="#f48072"/>
<rect x="1173.95" y="1023.20" width="9.72" height="342.80" fill="#161214"/>
<rect x="1174.95" y="1362.49" width="7.72" height="2.91" fill="#d9d9d9"/>
<rect x="1174.95" y="1356.66" width="7.72" height="3.60" fill="#ccebc5"/>
<rect x="1174.95" y="1348.43" width="7.72" height="6.00" fill="#8dd3c7"/>
<rect x="1174.95" y="1344.32" width="7.72" height="1.54" fill="#fccde5"/>
<rect x="1174.95" y="1291.53" width="7.72" height="50.56" fill="#ffed6f"/>
<rect x="1174.95" y="1277.81" width="7.72" height="11.48" fill="#bc80bd"/>
<rect x="1174.95" y="1216.80" width="7.72" height="58.79" fill="#bebada"/>
<rect x="1174.95" y="1157.15" width="7.72" height="57.42" fill="#80b1d3"/>
<rect x="1174.95" y="1028.94" width="7.72" height="125.98" fill="#b3de69"/>
<rect x="1174.95" y="1023.80" width="7.72" height="3.94" fill="#f48072"/>
<rect x="1183.67" y="1023.20" width="9.72" height="342.80" fill="#161214"/>
<rect x="1184.67" y="1355.97" width="7.72" height="9.43" fill="#d9d9d9"/>
<rect x="1184.67" y="1352.55" width="7.72" height="0.86" fill="#ccebc5"/>
<rect x="1184.67" y="1349.46" width="7.72" height="0.86" fill="#8dd3c7"/>
<rect x="1184.67" y="1343.29" width="7.72" height="3.60" fill="#ffed6f"/>
<rect x="1184.67" y="1324.78" width="7.72" height="15.94" fill="#bc80bd"/>
<rect x="1184.67" y="1290.16" width="7.72" height="32.05" fill="#bebada"/>
<rect x="1184.67" y="1179.09" width="7.72" height="108.50" fill="#80b1d3"/>
<rect x="1184.67" y="1044.71" width="7.72" height="132.15" fill="#b3de69"/>
<rect x="1184.67" y="1023.80" width="7.72" height="19.71" fill="#f48072"/>
<rect x="1193.39" y="1023.20" width="9.72" height="342.80" fill="#161214"/>
<rect x="1194.39" y="1356.32" width="7.72" height="7.37" fill="#ccebc5"/>
<rect x="1194.39" y="1340.89" width="7.72" height="12.85" fill="#8dd3c7"/>
<rect x="1194.39" y="1315.52" width="7.72" height="22.11" fill="#ffed6f"/>
<rect x="1194.39" y="1307.30" width="7.72" height="5.66" fill="#bc80bd"/>
<rect x="1194.39" y="1238.05" width="7.72" height="66.67" fill="#bebada"/>
<rect x="1194.39" y="1126.98" width="7.72" height="108.50" fill="#80b1d3"/>
<rect x="1194.39" y="1039.23" width="7.72" height="85.53" fill="#b3de69"/>
<rect x="1194.39" y="1023.80" width="7.72" height="14.23" fill="#f48072"/>
<rect x="1203.11" y="1023.20" width="9.72" height="342.80" fill="#161214"/>
<rect x="1204.11" y="1349.80" width="7.72" height="15.60" fill="#d9d9d9"/>
<rect x="1204.11" y="1318.95" width="7.72" height="27.60" fill="#8dd3c7"/>
<rect x="1204.11" y="1314.84" width="7.72" height="0.86" fill="#fccde5"/>
<rect x="1204.11" y="1302.84" width="7.72" height="9.43" fill="#ffed6f"/>
<rect x="1204.11" y="1257.59" width="7.72" height="42.68" fill="#bc80bd"/>
<rect x="1204.11" y="1233.59" width="7.72" height="21.42" fill="#bebada"/>
<rect x="1204.11" y="1161.61" width="7.72" height="69.42" fill="#80b1d3"/>
<rect x="1204.11" y="1083.45" width="7.72" height="75.93" fill="#b3de69"/>
<rect x="1204.11" y="1023.80" width="7.72" height="58.45" fill="#f48072"/>
<rect x="1212.84" y="1023.20" width="9.72" height="342.80" fill="#161214"/>
<rect x="1213.84" y="1350.49" width="7.72" height="12.85" fill="#ccebc5"/>
<rect x="1213.84" y="1347.75" width="7.72" height="0.30" fill="#8dd3c7"/>
<rect x="1213.84" y="1345.00" width="7.72" height="0.30" fill="#fccde5"/>
<rect x="1213.84" y="1329.58" width="7.72" height="12.85" fill="#ffed6f"/>
<rect x="1213.84" y="1281.59" width="7.72" height="45.42" fill="#bc80bd"/>
<rect x="1213.84" y="1259.99" width="7.72" height="19.03" fill="#bebada"/>
<rect x="1213.84" y="1153.38" width="7.72" height="104.04" fill="#80b1d3"/>
<rect x="1213.84" y="1079.33" width="7.72" height="71.82" fill="#b3de69"/>
<rect x="1213.84" y="1023.80" width="7.72" height="54.33" fill="#f48072"/>
<rect x="1222.56" y="1023.20" width="9.72" height="342.80" fill="#161214"/>
<rect x="1223.56" y="1348.09" width="7.72" height="17.31" fill="#d9d9d9"/>
<rect x="1223.56" y="1344.66" width="7.72" height="0.86" fill="#ffffb3"/>
<rect x="1223.56" y="1321.69" width="7.72" height="20.74" fill="#ffed6f"/>
<rect x="1223.56" y="1226.39" width="7.72" height="92.73" fill="#bc80bd"/>
<rect x="1223.56" y="1199.31" width="7.72" height="24.51" fill="#bebada"/>
<rect x="1223.56" y="1148.58" width="7.72" height="48.16" fill="#80b1d3"/>
<rect x="1223.56" y="1056.37" width="7.72" height="89.98" fill="#b3de69"/>
<rect x="1223.56" y="1023.80" width="7.72" height="31.37" fill="#f48072"/>
<rect x="1232.28" y="1023.20" width="9.72" height="342.80" fill="#161214"/>
<rect x="1233.28" y="1361.80" width="7.72" height="3.60" fill="#d9d9d9"/>
<rect x="1233.28" y="1326.49" width="7.72" height="30.68" fill="#ffed6f"/>
<rect x="1233.28" y="1241.82" width="7.72" height="82.10" fill="#bc80bd"/>
<rect x="1233.28" y="1221.94" width="7.72" height="17.31" fill="#bebada"/>
<rect x="1233.28" y="1185.94" width="7.72" height="33.42" fill="#80b1d3"/>
<rect x="1233.28" y="1051.91" width="7.72" height="131.81" fill="#b3de69"/>
<rect x="1233.28" y="1023.80" width="7.72" height="26.91" fill="#f48072"/>
<rect x="1256.60" y="1006.50" width="137.90" height="376.50" fill="#ffffff" stroke="#3a3a3a" stroke-width="1.4"/>
<rect x="1257.80" y="1023.20" width="9.68" height="342.80" fill="#161214"/>
<rect x="1258.80" y="1056.02" width="7.68" height="309.38" fill="#ccebc5"/>
<rect x="1258.80" y="1023.80" width="7.68" height="28.97" fill="#f48072"/>
<rect x="1267.48" y="1023.20" width="9.68" height="342.80" fill="#161214"/>
<rect x="1268.48" y="1316.89" width="7.68" height="48.51" fill="#d9d9d9"/>
<rect x="1268.48" y="1195.89" width="7.68" height="118.44" fill="#ccebc5"/>
<rect x="1268.48" y="1140.01" width="7.68" height="49.88" fill="#bebada"/>
<rect x="1268.48" y="1103.33" width="7.68" height="34.11" fill="#80b1d3"/>
<rect x="1268.48" y="1087.22" width="7.68" height="13.88" fill="#b3de69"/>
<rect x="1268.48" y="1023.80" width="7.68" height="62.22" fill="#f48072"/>
<rect x="1277.16" y="1023.20" width="9.68" height="342.80" fill="#161214"/>
<rect x="1278.16" y="1184.23" width="7.68" height="181.17" fill="#d9d9d9"/>
<rect x="1278.16" y="1180.12" width="7.68" height="1.54" fill="#ccebc5"/>
<rect x="1278.16" y="1175.32" width="7.68" height="2.23" fill="#ffffb3"/>
<rect x="1278.16" y="1172.92" width="7.68" height="0.30" fill="#fccde5"/>
<rect x="1278.16" y="1168.12" width="7.68" height="2.57" fill="#ffed6f"/>
<rect x="1278.16" y="1159.55" width="7.68" height="6.00" fill="#bc80bd"/>
<rect x="1278.16" y="1114.30" width="7.68" height="42.68" fill="#bebada"/>
<rect x="1278.16" y="1111.56" width="7.68" height="0.30" fill="#80b1d3"/>
<rect x="1278.16" y="1023.80" width="7.68" height="86.56" fill="#f48072"/>
<rect x="1286.84" y="1023.20" width="9.68" height="342.80" fill="#161214"/>
<rect x="1287.84" y="1158.18" width="7.68" height="207.22" fill="#d9d9d9"/>
<rect x="1287.84" y="1155.44" width="7.68" height="0.30" fill="#ccebc5"/>
<rect x="1287.84" y="1152.35" width="7.68" height="0.86" fill="#ffffb3"/>
<rect x="1287.84" y="1146.87" width="7.68" height="2.91" fill="#fccde5"/>
<rect x="1287.84" y="1104.36" width="7.68" height="39.94" fill="#ffed6f"/>
<rect x="1287.84" y="1029.63" width="7.68" height="72.16" fill="#bc80bd"/>
<rect x="1287.84" y="1023.80" width="7.68" height="2.57" fill="#f48072"/>
<rect x="1296.51" y="1023.20" width="9.68" height="342.80" fill="#161214"/>
<rect x="1297.51" y="1327.18" width="7.68" height="38.22" fill="#8dd3c7"/>
<rect x="1297.51" y="1278.50" width="7.68" height="45.42" fill="#ffffb3"/>
<rect x="1297.51" y="1162.98" width="7.68" height="112.95" fill="#fccde5"/>
<rect x="1297.51" y="1160.23" width="7.68" height="0.30" fill="#bc80bd"/>
<rect x="1297.51" y="1108.47" width="7.68" height="49.19" fill="#80b1d3"/>
<rect x="1297.51" y="1023.80" width="7.68" height="83.47" fill="#f48072"/>
<rect x="1306.19" y="1023.20" width="9.68" height="342.80" fill="#161214"/>
<rect x="1307.19" y="1328.89" width="7.68" height="36.51" fill="#d9d9d9"/>
<rect x="1307.19" y="1318.95" width="7.68" height="6.68" fill="#8dd3c7"/>
<rect x="1307.19" y="1299.75" width="7.68" height="16.63" fill="#ffffb3"/>
<rect x="1307.19" y="1212.00" width="7.68" height="85.19" fill="#fccde5"/>
<rect x="1307.19" y="1208.57" width="7.68" height="0.86" fill="#bebada"/>
<rect x="1307.19" y="1154.41" width="7.68" height="51.59" fill="#80b1d3"/>
<rect x="1307.19" y="1144.47" width="7.68" height="7.71" fill="#b3de69"/>
<rect x="1307.19" y="1023.80" width="7.68" height="119.47" fill="#f48072"/>
<rect x="1315.87" y="1023.20" width="9.68" height="342.80" fill="#161214"/>
<rect x="1316.87" y="1344.66" width="7.68" height="20.74" fill="#d9d9d9"/>
<rect x="1316.87" y="1341.23" width="7.68" height="0.86" fill="#8dd3c7"/>
<rect x="1316.87" y="1249.02" width="7.68" height="88.27" fill="#80b1d3"/>
<rect x="1316.87" y="1167.09" width="7.68" height="79.70" fill="#b3de69"/>
<rect x="1316.87" y="1023.80" width="7.68" height="142.09" fill="#f48072"/>
<rect x="1325.55" y="1023.20" width="9.68" height="342.80" fill="#161214"/>
<rect x="1326.55" y="1337.80" width="7.68" height="27.60" fill="#ccebc5"/>
<rect x="1326.55" y="1334.38" width="7.68" height="0.86" fill="#8dd3c7"/>
<rect x="1326.55" y="1323.75" width="7.68" height="7.37" fill="#ffed6f"/>
<rect x="1326.55" y="1319.64" width="7.68" height="1.54" fill="#bc80bd"/>
<rect x="1326.55" y="1218.17" width="7.68" height="99.24" fill="#80b1d3"/>
<rect x="1326.55" y="1112.59" width="7.68" height="103.35" fill="#b3de69"/>
<rect x="1326.55" y="1023.80" width="7.68" height="87.59" fill="#f48072"/>
<rect x="1335.23" y="1023.20" width="9.68" height="342.80" fill="#161214"/>
<rect x="1336.23" y="1254.85" width="7.68" height="110.55" fill="#d9d9d9"/>
<rect x="1336.23" y="1247.31" width="7.68" height="4.97" fill="#ccebc5"/>
<rect x="1336.23" y="1238.39" width="7.68" height="6.34" fill="#8dd3c7"/>
<rect x="1336.23" y="1234.28" width="7.68" height="1.54" fill="#ffffb3"/>
<rect x="1336.23" y="1221.60" width="7.68" height="10.11" fill="#fccde5"/>
<rect x="1336.23" y="1216.80" width="7.68" height="0.86" fill="#bebada"/>
<rect x="1336.23" y="1134.87" width="7.68" height="79.36" fill="#80b1d3"/>
<rect x="1336.23" y="1129.73" width="7.68" height="2.91" fill="#b3de69"/>
<rect x="1336.23" y="1023.80" width="7.68" height="104.73" fill="#f48072"/>
<rect x="1344.91" y="1023.20" width="9.68" height="342.80" fill="#161214"/>
<rect x="1345.91" y="1349.46" width="7.68" height="15.94" fill="#d9d9d9"/>
<rect x="1345.91" y="1329.92" width="7.68" height="16.97" fill="#ccebc5"/>
<rect x="1345.91" y="1326.49" width="7.68" height="0.86" fill="#8dd3c7"/>
<rect x="1345.91" y="1318.27" width="7.68" height="5.66" fill="#ffffb3"/>
<rect x="1345.91" y="1270.27" width="7.68" height="45.42" fill="#fccde5"/>
<rect x="1345.91" y="1257.59" width="7.68" height="10.11" fill="#bebada"/>
<rect x="1345.91" y="1143.09" width="7.68" height="111.92" fill="#80b1d3"/>
<rect x="1345.91" y="1135.90" width="7.68" height="4.97" fill="#b3de69"/>
<rect x="1345.91" y="1023.80" width="7.68" height="110.90" fill="#f48072"/>
<rect x="1354.59" y="1023.20" width="9.68" height="342.80" fill="#161214"/>
<rect x="1355.59" y="1351.86" width="7.68" height="13.54" fill="#d9d9d9"/>
<rect x="1355.59" y="1345.35" width="7.68" height="3.94" fill="#ccebc5"/>
<rect x="1355.59" y="1337.80" width="7.68" height="4.97" fill="#8dd3c7"/>
<rect x="1355.59" y="1332.32" width="7.68" height="2.91" fill="#ffffb3"/>
<rect x="1355.59" y="1313.81" width="7.68" height="15.94" fill="#fccde5"/>
<rect x="1355.59" y="1310.72" width="7.68" height="0.51" fill="#ffed6f"/>
<rect x="1355.59" y="1259.65" width="7.68" height="48.85" fill="#bc80bd"/>
<rect x="1355.59" y="1238.39" width="7.68" height="18.68" fill="#bebada"/>
<rect x="1355.59" y="1168.80" width="7.68" height="67.02" fill="#80b1d3"/>
<rect x="1355.59" y="1165.03" width="7.68" height="1.54" fill="#b3de69"/>
<rect x="1355.59" y="1023.80" width="7.68" height="140.03" fill="#f48072"/>
<rect x="1364.26" y="1023.20" width="9.68" height="342.80" fill="#161214"/>
<rect x="1365.26" y="1364.54" width="7.68" height="0.86" fill="#d9d9d9"/>
<rect x="1365.26" y="1352.55" width="7.68" height="9.43" fill="#8dd3c7"/>
<rect x="1365.26" y="1343.29" width="7.68" height="6.68" fill="#ffffb3"/>
<rect x="1365.26" y="1320.66" width="7.68" height="20.05" fill="#fccde5"/>
<rect x="1365.26" y="1317.92" width="7.68" height="0.30" fill="#ffed6f"/>
<rect x="1365.26" y="1315.52" width="7.68" height="0.30" fill="#bc80bd"/>
<rect x="1365.26" y="1292.56" width="7.68" height="20.74" fill="#bebada"/>
<rect x="1365.26" y="1218.51" width="7.68" height="71.82" fill="#80b1d3"/>
<rect x="1365.26" y="1171.89" width="7.68" height="44.39" fill="#b3de69"/>
<rect x="1365.26" y="1023.80" width="7.68" height="146.89" fill="#f48072"/>
<rect x="1373.94" y="1023.20" width="9.68" height="342.80" fill="#161214"/>
<rect x="1374.94" y="1335.41" width="7.68" height="29.99" fill="#ccebc5"/>
<rect x="1374.94" y="1317.24" width="7.68" height="13.54" fill="#ffed6f"/>
<rect x="1374.94" y="1285.36" width="7.68" height="29.31" fill="#bc80bd"/>
<rect x="1374.94" y="1255.53" width="7.68" height="27.25" fill="#bebada"/>
<rect x="1374.94" y="1202.74" width="7.68" height="50.22" fill="#80b1d3"/>
<rect x="1374.94" y="1171.89" width="7.68" height="28.62" fill="#b3de69"/>
<rect x="1374.94" y="1023.80" width="7.68" height="146.89" fill="#f48072"/>
<rect x="1383.62" y="1023.20" width="9.68" height="342.80" fill="#161214"/>
<rect x="1384.62" y="1361.80" width="7.68" height="3.60" fill="#d9d9d9"/>
<rect x="1384.62" y="1310.38" width="7.68" height="48.16" fill="#ccebc5"/>
<rect x="1384.62" y="1307.64" width="7.68" height="0.30" fill="#8dd3c7"/>
<rect x="1384.62" y="1304.21" width="7.68" height="0.86" fill="#fccde5"/>
<rect x="1384.62" y="1295.98" width="7.68" height="5.66" fill="#ffed6f"/>
<rect x="1384.62" y="1278.84" width="7.68" height="14.57" fill="#bc80bd"/>
<rect x="1384.62" y="1261.36" width="7.68" height="14.91" fill="#bebada"/>
<rect x="1384.62" y="1207.20" width="7.68" height="51.59" fill="#80b1d3"/>
<rect x="1384.62" y="1181.15" width="7.68" height="23.82" fill="#b3de69"/>
<rect x="1384.62" y="1023.80" width="7.68" height="156.15" fill="#f48072"/>
<line x1="126.5" y1="1366.0" x2="137.2" y2="1366.0" stroke="#231f20" stroke-width="1.6"/>
<text x="112.4" y="1373.8" font-size="20.5" text-anchor="end" textLength="12.5" lengthAdjust="spacingAndGlyphs">0</text>
<line x1="126.5" y1="1280.3" x2="137.2" y2="1280.3" stroke="#231f20" stroke-width="1.6"/>
<text x="112.4" y="1288.1" font-size="20.5" text-anchor="end" textLength="26.0" lengthAdjust="spacingAndGlyphs">25</text>
<line x1="126.5" y1="1194.6" x2="137.2" y2="1194.6" stroke="#231f20" stroke-width="1.6"/>
<text x="112.4" y="1202.4" font-size="20.5" text-anchor="end" textLength="26.0" lengthAdjust="spacingAndGlyphs">50</text>
<line x1="126.5" y1="1108.9" x2="137.2" y2="1108.9" stroke="#231f20" stroke-width="1.6"/>
<text x="112.4" y="1116.7" font-size="20.5" text-anchor="end" textLength="26.0" lengthAdjust="spacingAndGlyphs">75</text>
<line x1="126.5" y1="1023.2" x2="137.2" y2="1023.2" stroke="#231f20" stroke-width="1.6"/>
<text x="112.4" y="1031.0" font-size="20.5" text-anchor="end" textLength="36.0" lengthAdjust="spacingAndGlyphs">100</text>
<text x="55.8" y="1340.2" font-size="26" textLength="307.0" lengthAdjust="spacingAndGlyphs" transform="rotate(-90 55.8 1340.2)">Relative cell proportion (%)</text>
<text x="715.4" y="1409.5" font-size="26" textLength="100.8" lengthAdjust="spacingAndGlyphs">Samples</text>
<text x="218.7" y="996.3" font-size="21.5" textLength="237.2" lengthAdjust="spacingAndGlyphs">High malignant fraction</text>
<text x="548.8" y="996.3" font-size="21.5" textLength="319.3" lengthAdjust="spacingAndGlyphs">Intermediate malignant fraction</text>
<text x="885.0" y="996.3" font-size="21.5" textLength="43.2" lengthAdjust="spacingAndGlyphs">TAM</text>
<text x="940.0" y="996.3" font-size="21.5" textLength="171.4" lengthAdjust="spacingAndGlyphs">Oligodendrocyte</text>
<text x="1158.5" y="996.3" font-size="21.5" textLength="30.2" lengthAdjust="spacingAndGlyphs">GN</text>
<text x="1295.6" y="996.3" font-size="21.5" textLength="60.2" lengthAdjust="spacingAndGlyphs">Mixed</text>
<text x="1016.6" y="960.0" font-size="21.5" textLength="231.3" lengthAdjust="spacingAndGlyphs">Low malignant fraction</text>
<line x1="880.0" y1="967.9" x2="1382.0" y2="967.9" stroke="#231f20" stroke-width="1.5"/>
<text x="0.8" y="1480.8" font-size="37" textLength="20.5" lengthAdjust="spacingAndGlyphs" font-weight="bold" stroke="#231f20" stroke-width="1.3">c</text>
<rect x="111.20" y="1493.40" width="298.50" height="423.30" fill="#ffffff" stroke="#3a3a3a" stroke-width="1.4"/>
<rect x="112.20" y="1497.80" width="10.59" height="41.45" fill="#4d2b85" stroke="#2e2a2e" stroke-width="1.2"/>
<rect x="122.79" y="1497.80" width="10.59" height="41.45" fill="#4d2b85" stroke="#2e2a2e" stroke-width="1.2"/>
<rect x="133.38" y="1497.80" width="10.59" height="41.45" fill="#4d2b85" stroke="#2e2a2e" stroke-width="1.2"/>
<rect x="143.97" y="1497.80" width="10.59" height="41.45" fill="#dbdaec" stroke="#2e2a2e" stroke-width="1.2"/>
<rect x="154.56" y="1497.80" width="10.59" height="41.45" fill="#dbdaec" stroke="#2e2a2e" stroke-width="1.2"/>
<rect x="165.15" y="1497.80" width="10.59" height="41.45" fill="#f1eff7" stroke="#2e2a2e" stroke-width="1.2"/>
<rect x="175.74" y="1497.80" width="10.59" height="41.45" fill="#f1eff7" stroke="#2e2a2e" stroke-width="1.2"/>
<rect x="186.32" y="1497.80" width="10.59" height="41.45" fill="#f1eff7" stroke="#2e2a2e" stroke-width="1.2"/>
<rect x="196.91" y="1497.80" width="10.59" height="41.45" fill="#f1eff7" stroke="#2e2a2e" stroke-width="1.2"/>
<rect x="207.50" y="1497.80" width="10.59" height="41.45" fill="#aca8d3" stroke="#2e2a2e" stroke-width="1.2"/>
<rect x="218.09" y="1497.80" width="10.59" height="41.45" fill="#f1eff7" stroke="#2e2a2e" stroke-width="1.2"/>
<rect x="228.68" y="1497.80" width="10.59" height="41.45" fill="#f1eff7" stroke="#2e2a2e" stroke-width="1.2"/>
<rect x="239.27" y="1497.80" width="10.59" height="41.45" fill="#dbdaec" stroke="#2e2a2e" stroke-width="1.2"/>
<rect x="249.86" y="1497.80" width="10.59" height="41.45" fill="#f1eff7" stroke="#2e2a2e" stroke-width="1.2"/>
<rect x="260.45" y="1497.80" width="10.59" height="41.45" fill="#dbdaec" stroke="#2e2a2e" stroke-width="1.2"/>
<rect x="271.04" y="1497.80" width="10.59" height="41.45" fill="#dbdaec" stroke="#2e2a2e" stroke-width="1.2"/>
<rect x="281.63" y="1497.80" width="10.59" height="41.45" fill="#f1eff7" stroke="#2e2a2e" stroke-width="1.2"/>
<rect x="292.22" y="1497.80" width="10.59" height="41.45" fill="#dbdaec" stroke="#2e2a2e" stroke-width="1.2"/>
<rect x="302.81" y="1497.80" width="10.59" height="41.45" fill="#f1eff7" stroke="#2e2a2e" stroke-width="1.2"/>
<rect x="313.40" y="1497.80" width="10.59" height="41.45" fill="#f1eff7" stroke="#2e2a2e" stroke-width="1.2"/>
<rect x="323.99" y="1497.80" width="10.59" height="41.45" fill="#dbdaec" stroke="#2e2a2e" stroke-width="1.2"/>
<rect x="334.57" y="1497.80" width="10.59" height="41.45" fill="#dbdaec" stroke="#2e2a2e" stroke-width="1.2"/>
<rect x="345.16" y="1497.80" width="10.59" height="41.45" fill="#f1eff7" stroke="#2e2a2e" stroke-width="1.2"/>
<rect x="355.75" y="1497.80" width="10.59" height="41.45" fill="#f1eff7" stroke="#2e2a2e" stroke-width="1.2"/>
<rect x="366.34" y="1497.80" width="10.59" height="41.45" fill="#dbdaec" stroke="#2e2a2e" stroke-width="1.2"/>
<rect x="376.93" y="1497.80" width="10.59" height="41.45" fill="#dbdaec" stroke="#2e2a2e" stroke-width="1.2"/>
<rect x="387.52" y="1497.80" width="10.59" height="41.45" fill="#f1eff7" stroke="#2e2a2e" stroke-width="1.2"/>
<rect x="398.11" y="1497.80" width="10.59" height="41.45" fill="#f1eff7" stroke="#2e2a2e" stroke-width="1.2"/>
<rect x="112.20" y="1539.25" width="10.59" height="41.45" fill="#4d2b85" stroke="#2e2a2e" stroke-width="1.2"/>
<rect x="122.79" y="1539.25" width="10.59" height="41.45" fill="#4d2b85" stroke="#2e2a2e" stroke-width="1.2"/>
<rect x="133.38" y="1539.25" width="10.59" height="41.45" fill="#4d2b85" stroke="#2e2a2e" stroke-width="1.2"/>
<rect x="143.97" y="1539.25" width="10.59" height="41.45" fill="#4d2b85" stroke="#2e2a2e" stroke-width="1.2"/>
<rect x="154.56" y="1539.25" width="10.59" height="41.45" fill="#4d2b85" stroke="#2e2a2e" stroke-width="1.2"/>
<rect x="165.15" y="1539.25" width="10.59" height="41.45" fill="#4d2b85" stroke="#2e2a2e" stroke-width="1.2"/>
<rect x="175.74" y="1539.25" width="10.59" height="41.45" fill="#4d2b85" stroke="#2e2a2e" stroke-width="1.2"/>
<rect x="186.32" y="1539.25" width="10.59" height="41.45" fill="#4d2b85" stroke="#2e2a2e" stroke-width="1.2"/>
<rect x="196.91" y="1539.25" width="10.59" height="41.45" fill="#4d2b85" stroke="#2e2a2e" stroke-width="1.2"/>
<rect x="207.50" y="1539.25" width="10.59" height="41.45" fill="#4d2b85" stroke="#2e2a2e" stroke-width="1.2"/>
<rect x="218.09" y="1539.25" width="10.59" height="41.45" fill="#4d2b85" stroke="#2e2a2e" stroke-width="1.2"/>
<rect x="228.68" y="1539.25" width="10.59" height="41.45" fill="#6c55a6" stroke="#2e2a2e" stroke-width="1.2"/>
<rect x="239.27" y="1539.25" width="10.59" height="41.45" fill="#4d2b85" stroke="#2e2a2e" stroke-width="1.2"/>
<rect x="249.86" y="1539.25" width="10.59" height="41.45" fill="#4d2b85" stroke="#2e2a2e" stroke-width="1.2"/>
<rect x="260.45" y="1539.25" width="10.59" height="41.45" fill="#4d2b85" stroke="#2e2a2e" stroke-width="1.2"/>
<rect x="271.04" y="1539.25" width="10.59" height="41.45" fill="#4d2b85" stroke="#2e2a2e" stroke-width="1.2"/>
<rect x="281.63" y="1539.25" width="10.59" height="41.45" fill="#4d2b85" stroke="#2e2a2e" stroke-width="1.2"/>
<rect x="292.22" y="1539.25" width="10.59" height="41.45" fill="#4d2b85" stroke="#2e2a2e" stroke-width="1.2"/>
<rect x="302.81" y="1539.25" width="10.59" height="41.45" fill="#4d2b85" stroke="#2e2a2e" stroke-width="1.2"/>
<rect x="313.40" y="1539.25" width="10.59" height="41.45" fill="#4d2b85" stroke="#2e2a2e" stroke-width="1.2"/>
<rect x="323.99" y="1539.25" width="10.59" height="41.45" fill="#4d2b85" stroke="#2e2a2e" stroke-width="1.2"/>
<rect x="334.57" y="1539.25" width="10.59" height="41.45" fill="#4d2b85" stroke="#2e2a2e" stroke-width="1.2"/>
<rect x="345.16" y="1539.25" width="10.59" height="41.45" fill="#6c55a6" stroke="#2e2a2e" stroke-width="1.2"/>
<rect x="355.75" y="1539.25" width="10.59" height="41.45" fill="#4d2b85" stroke="#2e2a2e" stroke-width="1.2"/>
<rect x="366.34" y="1539.25" width="10.59" height="41.45" fill="#4d2b85" stroke="#2e2a2e" stroke-width="1.2"/>
<rect x="376.93" y="1539.25" width="10.59" height="41.45" fill="#4d2b85" stroke="#2e2a2e" stroke-width="1.2"/>
<rect x="387.52" y="1539.25" width="10.59" height="41.45" fill="#4d2b85" stroke="#2e2a2e" stroke-width="1.2"/>
<rect x="398.11" y="1539.25" width="10.59" height="41.45" fill="#4d2b85" stroke="#2e2a2e" stroke-width="1.2"/>
<rect x="112.20" y="1580.70" width="10.59" height="41.45" fill="#f1eff7" stroke="#2e2a2e" stroke-width="1.2"/>
<rect x="122.79" y="1580.70" width="10.59" height="41.45" fill="#f1eff7" stroke="#2e2a2e" stroke-width="1.2"/>
<rect x="133.38" y="1580.70" width="10.59" height="41.45" fill="#f1eff7" stroke="#2e2a2e" stroke-width="1.2"/>
<rect x="143.97" y="1580.70" width="10.59" height="41.45" fill="#f1eff7" stroke="#2e2a2e" stroke-width="1.2"/>
<rect x="154.56" y="1580.70" width="10.59" height="41.45" fill="#f1eff7" stroke="#2e2a2e" stroke-width="1.2"/>
<rect x="165.15" y="1580.70" width="10.59" height="41.45" fill="#dbdaec" stroke="#2e2a2e" stroke-width="1.2"/>
<rect x="175.74" y="1580.70" width="10.59" height="41.45" fill="#aca8d3" stroke="#2e2a2e" stroke-width="1.2"/>
<rect x="186.32" y="1580.70" width="10.59" height="41.45" fill="#dbdaec" stroke="#2e2a2e" stroke-width="1.2"/>
<rect x="196.91" y="1580.70" width="10.59" height="41.45" fill="#c8c6e2" stroke="#2e2a2e" stroke-width="1.2"/>
<rect x="207.50" y="1580.70" width="10.59" height="41.45" fill="#f1eff7" stroke="#2e2a2e" stroke-width="1.2"/>
<rect x="218.09" y="1580.70" width="10.59" height="41.45" fill="#dbdaec" stroke="#2e2a2e" stroke-width="1.2"/>
<rect x="228.68" y="1580.70" width="10.59" height="41.45" fill="#c8c6e2" stroke="#2e2a2e" stroke-width="1.2"/>
<rect x="239.27" y="1580.70" width="10.59" height="41.45" fill="#dbdaec" stroke="#2e2a2e" stroke-width="1.2"/>
<rect x="249.86" y="1580.70" width="10.59" height="41.45" fill="#f1eff7" stroke="#2e2a2e" stroke-width="1.2"/>
<rect x="260.45" y="1580.70" width="10.59" height="41.45" fill="#dbdaec" stroke="#2e2a2e" stroke-width="1.2"/>
<rect x="271.04" y="1580.70" width="10.59" height="41.45" fill="#f1eff7" stroke="#2e2a2e" stroke-width="1.2"/>
<rect x="281.63" y="1580.70" width="10.59" height="41.45" fill="#dbdaec" stroke="#2e2a2e" stroke-width="1.2"/>
<rect x="292.22" y="1580.70" width="10.59" height="41.45" fill="#dbdaec" stroke="#2e2a2e" stroke-width="1.2"/>
<rect x="302.81" y="1580.70" width="10.59" height="41.45" fill="#dbdaec" stroke="#2e2a2e" stroke-width="1.2"/>
<rect x="313.40" y="1580.70" width="10.59" height="41.45" fill="#8e88c1" stroke="#2e2a2e" stroke-width="1.2"/>
<rect x="323.99" y="1580.70" width="10.59" height="41.45" fill="#8e88c1" stroke="#2e2a2e" stroke-width="1.2"/>
<rect x="334.57" y="1580.70" width="10.59" height="41.45" fill="#dbdaec" stroke="#2e2a2e" stroke-width="1.2"/>
<rect x="345.16" y="1580.70" width="10.59" height="41.45" fill="#c8c6e2" stroke="#2e2a2e" stroke-width="1.2"/>
<rect x="355.75" y="1580.70" width="10.59" height="41.45" fill="#aca8d3" stroke="#2e2a2e" stroke-width="1.2"/>
<rect x="366.34" y="1580.70" width="10.59" height="41.45" fill="#8e88c1" stroke="#2e2a2e" stroke-width="1.2"/>
<rect x="376.93" y="1580.70" width="10.59" height="41.45" fill="#c8c6e2" stroke="#2e2a2e" stroke-width="1.2"/>
<rect x="387.52" y="1580.70" width="10.59" height="41.45" fill="#8e88c1" stroke="#2e2a2e" stroke-width="1.2"/>
<rect x="398.11" y="1580.70" width="10.59" height="41.45" fill="#4d2b85" stroke="#2e2a2e" stroke-width="1.2"/>
<rect x="112.20" y="1622.15" width="10.59" height="41.45" fill="#f1eff7" stroke="#2e2a2e" stroke-width="1.2"/>
<rect x="122.79" y="1622.15" width="10.59" height="41.45" fill="#f1eff7" stroke="#2e2a2e" stroke-width="1.2"/>
<rect x="133.38" y="1622.15" width="10.59" height="41.45" fill="#f1eff7" stroke="#2e2a2e" stroke-width="1.2"/>
<rect x="143.97" y="1622.15" width="10.59" height="41.45" fill="#f1eff7" stroke="#2e2a2e" stroke-width="1.2"/>
<rect x="154.56" y="1622.15" width="10.59" height="41.45" fill="#f1eff7" stroke="#2e2a2e" stroke-width="1.2"/>
<rect x="165.15" y="1622.15" width="10.59" height="41.45" fill="#f1eff7" stroke="#2e2a2e" stroke-width="1.2"/>
<rect x="175.74" y="1622.15" width="10.59" height="41.45" fill="#c8c6e2" stroke="#2e2a2e" stroke-width="1.2"/>
<rect x="186.32" y="1622.15" width="10.59" height="41.45" fill="#8e88c1" stroke="#2e2a2e" stroke-width="1.2"/>
<rect x="196.91" y="1622.15" width="10.59" height="41.45" fill="#aca8d3" stroke="#2e2a2e" stroke-width="1.2"/>
<rect x="207.50" y="1622.15" width="10.59" height="41.45" fill="#f1eff7" stroke="#2e2a2e" stroke-width="1.2"/>
<rect x="218.09" y="1622.15" width="10.59" height="41.45" fill="#c8c6e2" stroke="#2e2a2e" stroke-width="1.2"/>
<rect x="228.68" y="1622.15" width="10.59" height="41.45" fill="#aca8d3" stroke="#2e2a2e" stroke-width="1.2"/>
<rect x="239.27" y="1622.15" width="10.59" height="41.45" fill="#f1eff7" stroke="#2e2a2e" stroke-width="1.2"/>
<rect x="249.86" y="1622.15" width="10.59" height="41.45" fill="#f1eff7" stroke="#2e2a2e" stroke-width="1.2"/>
<rect x="260.45" y="1622.15" width="10.59" height="41.45" fill="#dbdaec" stroke="#2e2a2e" stroke-width="1.2"/>
<rect x="271.04" y="1622.15" width="10.59" height="41.45" fill="#f1eff7" stroke="#2e2a2e" stroke-width="1.2"/>
<rect x="281.63" y="1622.15" width="10.59" height="41.45" fill="#f1eff7" stroke="#2e2a2e" stroke-width="1.2"/>
<rect x="292.22" y="1622.15" width="10.59" height="41.45" fill="#f1eff7" stroke="#2e2a2e" stroke-width="1.2"/>
<rect x="302.81" y="1622.15" width="10.59" height="41.45" fill="#dbdaec" stroke="#2e2a2e" stroke-width="1.2"/>
<rect x="313.40" y="1622.15" width="10.59" height="41.45" fill="#6c55a6" stroke="#2e2a2e" stroke-width="1.2"/>
<rect x="323.99" y="1622.15" width="10.59" height="41.45" fill="#c8c6e2" stroke="#2e2a2e" stroke-width="1.2"/>
<rect x="334.57" y="1622.15" width="10.59" height="41.45" fill="#aca8d3" stroke="#2e2a2e" stroke-width="1.2"/>
<rect x="345.16" y="1622.15" width="10.59" height="41.45" fill="#c8c6e2" stroke="#2e2a2e" stroke-width="1.2"/>
<rect x="355.75" y="1622.15" width="10.59" height="41.45" fill="#dbdaec" stroke="#2e2a2e" stroke-width="1.2"/>
<rect x="366.34" y="1622.15" width="10.59" height="41.45" fill="#aca8d3" stroke="#2e2a2e" stroke-width="1.2"/>
<rect x="376.93" y="1622.15" width="10.59" height="41.45" fill="#8e88c1" stroke="#2e2a2e" stroke-width="1.2"/>
<rect x="387.52" y="1622.15" width="10.59" height="41.45" fill="#8e88c1" stroke="#2e2a2e" stroke-width="1.2"/>
<rect x="398.11" y="1622.15" width="10.59" height="41.45" fill="#dbdaec" stroke="#2e2a2e" stroke-width="1.2"/>
<rect x="112.20" y="1663.60" width="10.59" height="41.45" fill="#f1eff7" stroke="#2e2a2e" stroke-width="1.2"/>
<rect x="122.79" y="1663.60" width="10.59" height="41.45" fill="#f1eff7" stroke="#2e2a2e" stroke-width="1.2"/>
<rect x="133.38" y="1663.60" width="10.59" height="41.45" fill="#f1eff7" stroke="#2e2a2e" stroke-width="1.2"/>
<rect x="143.97" y="1663.60" width="10.59" height="41.45" fill="#f1eff7" stroke="#2e2a2e" stroke-width="1.2"/>
<rect x="154.56" y="1663.60" width="10.59" height="41.45" fill="#f1eff7" stroke="#2e2a2e" stroke-width="1.2"/>
<rect x="165.15" y="1663.60" width="10.59" height="41.45" fill="#f1eff7" stroke="#2e2a2e" stroke-width="1.2"/>
<rect x="175.74" y="1663.60" width="10.59" height="41.45" fill="#dbdaec" stroke="#2e2a2e" stroke-width="1.2"/>
<rect x="186.32" y="1663.60" width="10.59" height="41.45" fill="#dbdaec" stroke="#2e2a2e" stroke-width="1.2"/>
<rect x="196.91" y="1663.60" width="10.59" height="41.45" fill="#dbdaec" stroke="#2e2a2e" stroke-width="1.2"/>
<rect x="207.50" y="1663.60" width="10.59" height="41.45" fill="#f1eff7" stroke="#2e2a2e" stroke-width="1.2"/>
<rect x="218.09" y="1663.60" width="10.59" height="41.45" fill="#dbdaec" stroke="#2e2a2e" stroke-width="1.2"/>
<rect x="228.68" y="1663.60" width="10.59" height="41.45" fill="#f1eff7" stroke="#2e2a2e" stroke-width="1.2"/>
<rect x="239.27" y="1663.60" width="10.59" height="41.45" fill="#dbdaec" stroke="#2e2a2e" stroke-width="1.2"/>
<rect x="249.86" y="1663.60" width="10.59" height="41.45" fill="#f1eff7" stroke="#2e2a2e" stroke-width="1.2"/>
<rect x="260.45" y="1663.60" width="10.59" height="41.45" fill="#dbdaec" stroke="#2e2a2e" stroke-width="1.2"/>
<rect x="271.04" y="1663.60" width="10.59" height="41.45" fill="#dbdaec" stroke="#2e2a2e" stroke-width="1.2"/>
<rect x="281.63" y="1663.60" width="10.59" height="41.45" fill="#dbdaec" stroke="#2e2a2e" stroke-width="1.2"/>
<rect x="292.22" y="1663.60" width="10.59" height="41.45" fill="#dbdaec" stroke="#2e2a2e" stroke-width="1.2"/>
<rect x="302.81" y="1663.60" width="10.59" height="41.45" fill="#dbdaec" stroke="#2e2a2e" stroke-width="1.2"/>
<rect x="313.40" y="1663.60" width="10.59" height="41.45" fill="#dbdaec" stroke="#2e2a2e" stroke-width="1.2"/>
<rect x="323.99" y="1663.60" width="10.59" height="41.45" fill="#dbdaec" stroke="#2e2a2e" stroke-width="1.2"/>
<rect x="334.57" y="1663.60" width="10.59" height="41.45" fill="#dbdaec" stroke="#2e2a2e" stroke-width="1.2"/>
<rect x="345.16" y="1663.60" width="10.59" height="41.45" fill="#dbdaec" stroke="#2e2a2e" stroke-width="1.2"/>
<rect x="355.75" y="1663.60" width="10.59" height="41.45" fill="#dbdaec" stroke="#2e2a2e" stroke-width="1.2"/>
<rect x="366.34" y="1663.60" width="10.59" height="41.45" fill="#dbdaec" stroke="#2e2a2e" stroke-width="1.2"/>
<rect x="376.93" y="1663.60" width="10.59" height="41.45" fill="#c8c6e2" stroke="#2e2a2e" stroke-width="1.2"/>
<rect x="387.52" y="1663.60" width="10.59" height="41.45" fill="#dbdaec" stroke="#2e2a2e" stroke-width="1.2"/>
<rect x="398.11" y="1663.60" width="10.59" height="41.45" fill="#dbdaec" stroke="#2e2a2e" stroke-width="1.2"/>
<rect x="112.20" y="1705.05" width="10.59" height="41.45" fill="#f1eff7" stroke="#2e2a2e" stroke-width="1.2"/>
<rect x="122.79" y="1705.05" width="10.59" height="41.45" fill="#c8c6e2" stroke="#2e2a2e" stroke-width="1.2"/>
<rect x="133.38" y="1705.05" width="10.59" height="41.45" fill="#dbdaec" stroke="#2e2a2e" stroke-width="1.2"/>
<rect x="143.97" y="1705.05" width="10.59" height="41.45" fill="#c8c6e2" stroke="#2e2a2e" stroke-width="1.2"/>
<rect x="154.56" y="1705.05" width="10.59" height="41.45" fill="#dbdaec" stroke="#2e2a2e" stroke-width="1.2"/>
<rect x="165.15" y="1705.05" width="10.59" height="41.45" fill="#f1eff7" stroke="#2e2a2e" stroke-width="1.2"/>
<rect x="175.74" y="1705.05" width="10.59" height="41.45" fill="#dbdaec" stroke="#2e2a2e" stroke-width="1.2"/>
<rect x="186.32" y="1705.05" width="10.59" height="41.45" fill="#dbdaec" stroke="#2e2a2e" stroke-width="1.2"/>
<rect x="196.91" y="1705.05" width="10.59" height="41.45" fill="#f1eff7" stroke="#2e2a2e" stroke-width="1.2"/>
<rect x="207.50" y="1705.05" width="10.59" height="41.45" fill="#8e88c1" stroke="#2e2a2e" stroke-width="1.2"/>
<rect x="218.09" y="1705.05" width="10.59" height="41.45" fill="#6c55a6" stroke="#2e2a2e" stroke-width="1.2"/>
<rect x="228.68" y="1705.05" width="10.59" height="41.45" fill="#f1eff7" stroke="#2e2a2e" stroke-width="1.2"/>
<rect x="239.27" y="1705.05" width="10.59" height="41.45" fill="#dbdaec" stroke="#2e2a2e" stroke-width="1.2"/>
<rect x="249.86" y="1705.05" width="10.59" height="41.45" fill="#c8c6e2" stroke="#2e2a2e" stroke-width="1.2"/>
<rect x="260.45" y="1705.05" width="10.59" height="41.45" fill="#c8c6e2" stroke="#2e2a2e" stroke-width="1.2"/>
<rect x="271.04" y="1705.05" width="10.59" height="41.45" fill="#f1eff7" stroke="#2e2a2e" stroke-width="1.2"/>
<rect x="281.63" y="1705.05" width="10.59" height="41.45" fill="#f1eff7" stroke="#2e2a2e" stroke-width="1.2"/>
<rect x="292.22" y="1705.05" width="10.59" height="41.45" fill="#dbdaec" stroke="#2e2a2e" stroke-width="1.2"/>
<rect x="302.81" y="1705.05" width="10.59" height="41.45" fill="#c8c6e2" stroke="#2e2a2e" stroke-width="1.2"/>
<rect x="313.40" y="1705.05" width="10.59" height="41.45" fill="#aca8d3" stroke="#2e2a2e" stroke-width="1.2"/>
<rect x="323.99" y="1705.05" width="10.59" height="41.45" fill="#f1eff7" stroke="#2e2a2e" stroke-width="1.2"/>
<rect x="334.57" y="1705.05" width="10.59" height="41.45" fill="#aca8d3" stroke="#2e2a2e" stroke-width="1.2"/>
<rect x="345.16" y="1705.05" width="10.59" height="41.45" fill="#6c55a6" stroke="#2e2a2e" stroke-width="1.2"/>
<rect x="355.75" y="1705.05" width="10.59" height="41.45" fill="#8e88c1" stroke="#2e2a2e" stroke-width="1.2"/>
<rect x="366.34" y="1705.05" width="10.59" height="41.45" fill="#8e88c1" stroke="#2e2a2e" stroke-width="1.2"/>
<rect x="376.93" y="1705.05" width="10.59" height="41.45" fill="#dbdaec" stroke="#2e2a2e" stroke-width="1.2"/>
<rect x="387.52" y="1705.05" width="10.59" height="41.45" fill="#dbdaec" stroke="#2e2a2e" stroke-width="1.2"/>
<rect x="398.11" y="1705.05" width="10.59" height="41.45" fill="#f1eff7" stroke="#2e2a2e" stroke-width="1.2"/>
<rect x="112.20" y="1746.50" width="10.59" height="41.45" fill="#f1eff7" stroke="#2e2a2e" stroke-width="1.2"/>
<rect x="122.79" y="1746.50" width="10.59" height="41.45" fill="#f1eff7" stroke="#2e2a2e" stroke-width="1.2"/>
<rect x="133.38" y="1746.50" width="10.59" height="41.45" fill="#f1eff7" stroke="#2e2a2e" stroke-width="1.2"/>
<rect x="143.97" y="1746.50" width="10.59" height="41.45" fill="#f1eff7" stroke="#2e2a2e" stroke-width="1.2"/>
<rect x="154.56" y="1746.50" width="10.59" height="41.45" fill="#8e88c1" stroke="#2e2a2e" stroke-width="1.2"/>
<rect x="165.15" y="1746.50" width="10.59" height="41.45" fill="#8e88c1" stroke="#2e2a2e" stroke-width="1.2"/>
<rect x="175.74" y="1746.50" width="10.59" height="41.45" fill="#c8c6e2" stroke="#2e2a2e" stroke-width="1.2"/>
<rect x="186.32" y="1746.50" width="10.59" height="41.45" fill="#f1eff7" stroke="#2e2a2e" stroke-width="1.2"/>
<rect x="196.91" y="1746.50" width="10.59" height="41.45" fill="#dbdaec" stroke="#2e2a2e" stroke-width="1.2"/>
<rect x="207.50" y="1746.50" width="10.59" height="41.45" fill="#8e88c1" stroke="#2e2a2e" stroke-width="1.2"/>
<rect x="218.09" y="1746.50" width="10.59" height="41.45" fill="#f1eff7" stroke="#2e2a2e" stroke-width="1.2"/>
<rect x="228.68" y="1746.50" width="10.59" height="41.45" fill="#6c55a6" stroke="#2e2a2e" stroke-width="1.2"/>
<rect x="239.27" y="1746.50" width="10.59" height="41.45" fill="#4d2b85" stroke="#2e2a2e" stroke-width="1.2"/>
<rect x="249.86" y="1746.50" width="10.59" height="41.45" fill="#6c55a6" stroke="#2e2a2e" stroke-width="1.2"/>
<rect x="260.45" y="1746.50" width="10.59" height="41.45" fill="#4d2b85" stroke="#2e2a2e" stroke-width="1.2"/>
<rect x="271.04" y="1746.50" width="10.59" height="41.45" fill="#4d2b85" stroke="#2e2a2e" stroke-width="1.2"/>
<rect x="281.63" y="1746.50" width="10.59" height="41.45" fill="#4d2b85" stroke="#2e2a2e" stroke-width="1.2"/>
<rect x="292.22" y="1746.50" width="10.59" height="41.45" fill="#4d2b85" stroke="#2e2a2e" stroke-width="1.2"/>
<rect x="302.81" y="1746.50" width="10.59" height="41.45" fill="#6c55a6" stroke="#2e2a2e" stroke-width="1.2"/>
<rect x="313.40" y="1746.50" width="10.59" height="41.45" fill="#f1eff7" stroke="#2e2a2e" stroke-width="1.2"/>
<rect x="323.99" y="1746.50" width="10.59" height="41.45" fill="#f1eff7" stroke="#2e2a2e" stroke-width="1.2"/>
<rect x="334.57" y="1746.50" width="10.59" height="41.45" fill="#8e88c1" stroke="#2e2a2e" stroke-width="1.2"/>
<rect x="345.16" y="1746.50" width="10.59" height="41.45" fill="#c8c6e2" stroke="#2e2a2e" stroke-width="1.2"/>
<rect x="355.75" y="1746.50" width="10.59" height="41.45" fill="#c8c6e2" stroke="#2e2a2e" stroke-width="1.2"/>
<rect x="366.34" y="1746.50" width="10.59" height="41.45" fill="#dbdaec" stroke="#2e2a2e" stroke-width="1.2"/>
<rect x="376.93" y="1746.50" width="10.59" height="41.45" fill="#f1eff7" stroke="#2e2a2e" stroke-width="1.2"/>
<rect x="387.52" y="1746.50" width="10.59" height="41.45" fill="#8e88c1" stroke="#2e2a2e" stroke-width="1.2"/>
<rect x="398.11" y="1746.50" width="10.59" height="41.45" fill="#f1eff7" stroke="#2e2a2e" stroke-width="1.2"/>
<rect x="112.20" y="1787.95" width="10.59" height="41.45" fill="#f1eff7" stroke="#2e2a2e" stroke-width="1.2"/>
<rect x="122.79" y="1787.95" width="10.59" height="41.45" fill="#f1eff7" stroke="#2e2a2e" stroke-width="1.2"/>
<rect x="133.38" y="1787.95" width="10.59" height="41.45" fill="#f1eff7" stroke="#2e2a2e" stroke-width="1.2"/>
<rect x="143.97" y="1787.95" width="10.59" height="41.45" fill="#f1eff7" stroke="#2e2a2e" stroke-width="1.2"/>
<rect x="154.56" y="1787.95" width="10.59" height="41.45" fill="#f1eff7" stroke="#2e2a2e" stroke-width="1.2"/>
<rect x="165.15" y="1787.95" width="10.59" height="41.45" fill="#f1eff7" stroke="#2e2a2e" stroke-width="1.2"/>
<rect x="175.74" y="1787.95" width="10.59" height="41.45" fill="#f1eff7" stroke="#2e2a2e" stroke-width="1.2"/>
<rect x="186.32" y="1787.95" width="10.59" height="41.45" fill="#f1eff7" stroke="#2e2a2e" stroke-width="1.2"/>
<rect x="196.91" y="1787.95" width="10.59" height="41.45" fill="#dbdaec" stroke="#2e2a2e" stroke-width="1.2"/>
<rect x="207.50" y="1787.95" width="10.59" height="41.45" fill="#dbdaec" stroke="#2e2a2e" stroke-width="1.2"/>
<rect x="218.09" y="1787.95" width="10.59" height="41.45" fill="#f1eff7" stroke="#2e2a2e" stroke-width="1.2"/>
<rect x="228.68" y="1787.95" width="10.59" height="41.45" fill="#dbdaec" stroke="#2e2a2e" stroke-width="1.2"/>
<rect x="239.27" y="1787.95" width="10.59" height="41.45" fill="#f1eff7" stroke="#2e2a2e" stroke-width="1.2"/>
<rect x="249.86" y="1787.95" width="10.59" height="41.45" fill="#f1eff7" stroke="#2e2a2e" stroke-width="1.2"/>
<rect x="260.45" y="1787.95" width="10.59" height="41.45" fill="#dbdaec" stroke="#2e2a2e" stroke-width="1.2"/>
<rect x="271.04" y="1787.95" width="10.59" height="41.45" fill="#dbdaec" stroke="#2e2a2e" stroke-width="1.2"/>
<rect x="281.63" y="1787.95" width="10.59" height="41.45" fill="#dbdaec" stroke="#2e2a2e" stroke-width="1.2"/>
<rect x="292.22" y="1787.95" width="10.59" height="41.45" fill="#aca8d3" stroke="#2e2a2e" stroke-width="1.2"/>
<rect x="302.81" y="1787.95" width="10.59" height="41.45" fill="#8e88c1" stroke="#2e2a2e" stroke-width="1.2"/>
<rect x="313.40" y="1787.95" width="10.59" height="41.45" fill="#f1eff7" stroke="#2e2a2e" stroke-width="1.2"/>
<rect x="323.99" y="1787.95" width="10.59" height="41.45" fill="#f1eff7" stroke="#2e2a2e" stroke-width="1.2"/>
<rect x="334.57" y="1787.95" width="10.59" height="41.45" fill="#f1eff7" stroke="#2e2a2e" stroke-width="1.2"/>
<rect x="345.16" y="1787.95" width="10.59" height="41.45" fill="#aca8d3" stroke="#2e2a2e" stroke-width="1.2"/>
<rect x="355.75" y="1787.95" width="10.59" height="41.45" fill="#f1eff7" stroke="#2e2a2e" stroke-width="1.2"/>
<rect x="366.34" y="1787.95" width="10.59" height="41.45" fill="#f1eff7" stroke="#2e2a2e" stroke-width="1.2"/>
<rect x="376.93" y="1787.95" width="10.59" height="41.45" fill="#f1eff7" stroke="#2e2a2e" stroke-width="1.2"/>
<rect x="387.52" y="1787.95" width="10.59" height="41.45" fill="#f1eff7" stroke="#2e2a2e" stroke-width="1.2"/>
<rect x="398.11" y="1787.95" width="10.59" height="41.45" fill="#f1eff7" stroke="#2e2a2e" stroke-width="1.2"/>
<rect x="112.20" y="1829.40" width="10.59" height="41.45" fill="#f1eff7" stroke="#2e2a2e" stroke-width="1.2"/>
<rect x="122.79" y="1829.40" width="10.59" height="41.45" fill="#dbdaec" stroke="#2e2a2e" stroke-width="1.2"/>
<rect x="133.38" y="1829.40" width="10.59" height="41.45" fill="#dbdaec" stroke="#2e2a2e" stroke-width="1.2"/>
<rect x="143.97" y="1829.40" width="10.59" height="41.45" fill="#f1eff7" stroke="#2e2a2e" stroke-width="1.2"/>
<rect x="154.56" y="1829.40" width="10.59" height="41.45" fill="#f1eff7" stroke="#2e2a2e" stroke-width="1.2"/>
<rect x="165.15" y="1829.40" width="10.59" height="41.45" fill="#c8c6e2" stroke="#2e2a2e" stroke-width="1.2"/>
<rect x="175.74" y="1829.40" width="10.59" height="41.45" fill="#f1eff7" stroke="#2e2a2e" stroke-width="1.2"/>
<rect x="186.32" y="1829.40" width="10.59" height="41.45" fill="#f1eff7" stroke="#2e2a2e" stroke-width="1.2"/>
<rect x="196.91" y="1829.40" width="10.59" height="41.45" fill="#c8c6e2" stroke="#2e2a2e" stroke-width="1.2"/>
<rect x="207.50" y="1829.40" width="10.59" height="41.45" fill="#dbdaec" stroke="#2e2a2e" stroke-width="1.2"/>
<rect x="218.09" y="1829.40" width="10.59" height="41.45" fill="#f1eff7" stroke="#2e2a2e" stroke-width="1.2"/>
<rect x="228.68" y="1829.40" width="10.59" height="41.45" fill="#dbdaec" stroke="#2e2a2e" stroke-width="1.2"/>
<rect x="239.27" y="1829.40" width="10.59" height="41.45" fill="#aca8d3" stroke="#2e2a2e" stroke-width="1.2"/>
<rect x="249.86" y="1829.40" width="10.59" height="41.45" fill="#aca8d3" stroke="#2e2a2e" stroke-width="1.2"/>
<rect x="260.45" y="1829.40" width="10.59" height="41.45" fill="#dbdaec" stroke="#2e2a2e" stroke-width="1.2"/>
<rect x="271.04" y="1829.40" width="10.59" height="41.45" fill="#c8c6e2" stroke="#2e2a2e" stroke-width="1.2"/>
<rect x="281.63" y="1829.40" width="10.59" height="41.45" fill="#dbdaec" stroke="#2e2a2e" stroke-width="1.2"/>
<rect x="292.22" y="1829.40" width="10.59" height="41.45" fill="#dbdaec" stroke="#2e2a2e" stroke-width="1.2"/>
<rect x="302.81" y="1829.40" width="10.59" height="41.45" fill="#dbdaec" stroke="#2e2a2e" stroke-width="1.2"/>
<rect x="313.40" y="1829.40" width="10.59" height="41.45" fill="#f1eff7" stroke="#2e2a2e" stroke-width="1.2"/>
<rect x="323.99" y="1829.40" width="10.59" height="41.45" fill="#6c55a6" stroke="#2e2a2e" stroke-width="1.2"/>
<rect x="334.57" y="1829.40" width="10.59" height="41.45" fill="#dbdaec" stroke="#2e2a2e" stroke-width="1.2"/>
<rect x="345.16" y="1829.40" width="10.59" height="41.45" fill="#f1eff7" stroke="#2e2a2e" stroke-width="1.2"/>
<rect x="355.75" y="1829.40" width="10.59" height="41.45" fill="#dbdaec" stroke="#2e2a2e" stroke-width="1.2"/>
<rect x="366.34" y="1829.40" width="10.59" height="41.45" fill="#dbdaec" stroke="#2e2a2e" stroke-width="1.2"/>
<rect x="376.93" y="1829.40" width="10.59" height="41.45" fill="#dbdaec" stroke="#2e2a2e" stroke-width="1.2"/>
<rect x="387.52" y="1829.40" width="10.59" height="41.45" fill="#dbdaec" stroke="#2e2a2e" stroke-width="1.2"/>
<rect x="398.11" y="1829.40" width="10.59" height="41.45" fill="#dbdaec" stroke="#2e2a2e" stroke-width="1.2"/>
<rect x="112.20" y="1870.85" width="10.59" height="41.45" fill="#dbdaec" stroke="#2e2a2e" stroke-width="1.2"/>
<rect x="122.79" y="1870.85" width="10.59" height="41.45" fill="#f1eff7" stroke="#2e2a2e" stroke-width="1.2"/>
<rect x="133.38" y="1870.85" width="10.59" height="41.45" fill="#f1eff7" stroke="#2e2a2e" stroke-width="1.2"/>
<rect x="143.97" y="1870.85" width="10.59" height="41.45" fill="#f1eff7" stroke="#2e2a2e" stroke-width="1.2"/>
<rect x="154.56" y="1870.85" width="10.59" height="41.45" fill="#aca8d3" stroke="#2e2a2e" stroke-width="1.2"/>
<rect x="165.15" y="1870.85" width="10.59" height="41.45" fill="#c8c6e2" stroke="#2e2a2e" stroke-width="1.2"/>
<rect x="175.74" y="1870.85" width="10.59" height="41.45" fill="#f1eff7" stroke="#2e2a2e" stroke-width="1.2"/>
<rect x="186.32" y="1870.85" width="10.59" height="41.45" fill="#f1eff7" stroke="#2e2a2e" stroke-width="1.2"/>
<rect x="196.91" y="1870.85" width="10.59" height="41.45" fill="#c8c6e2" stroke="#2e2a2e" stroke-width="1.2"/>
<rect x="207.50" y="1870.85" width="10.59" height="41.45" fill="#c8c6e2" stroke="#2e2a2e" stroke-width="1.2"/>
<rect x="218.09" y="1870.85" width="10.59" height="41.45" fill="#f1eff7" stroke="#2e2a2e" stroke-width="1.2"/>
<rect x="228.68" y="1870.85" width="10.59" height="41.45" fill="#aca8d3" stroke="#2e2a2e" stroke-width="1.2"/>
<rect x="239.27" y="1870.85" width="10.59" height="41.45" fill="#aca8d3" stroke="#2e2a2e" stroke-width="1.2"/>
<rect x="249.86" y="1870.85" width="10.59" height="41.45" fill="#aca8d3" stroke="#2e2a2e" stroke-width="1.2"/>
<rect x="260.45" y="1870.85" width="10.59" height="41.45" fill="#aca8d3" stroke="#2e2a2e" stroke-width="1.2"/>
<rect x="271.04" y="1870.85" width="10.59" height="41.45" fill="#8e88c1" stroke="#2e2a2e" stroke-width="1.2"/>
<rect x="281.63" y="1870.85" width="10.59" height="41.45" fill="#8e88c1" stroke="#2e2a2e" stroke-width="1.2"/>
<rect x="292.22" y="1870.85" width="10.59" height="41.45" fill="#8e88c1" stroke="#2e2a2e" stroke-width="1.2"/>
<rect x="302.81" y="1870.85" width="10.59" height="41.45" fill="#8e88c1" stroke="#2e2a2e" stroke-width="1.2"/>
<rect x="313.40" y="1870.85" width="10.59" height="41.45" fill="#f1eff7" stroke="#2e2a2e" stroke-width="1.2"/>
<rect x="323.99" y="1870.85" width="10.59" height="41.45" fill="#f1eff7" stroke="#2e2a2e" stroke-width="1.2"/>
<rect x="334.57" y="1870.85" width="10.59" height="41.45" fill="#aca8d3" stroke="#2e2a2e" stroke-width="1.2"/>
<rect x="345.16" y="1870.85" width="10.59" height="41.45" fill="#aca8d3" stroke="#2e2a2e" stroke-width="1.2"/>
<rect x="355.75" y="1870.85" width="10.59" height="41.45" fill="#c8c6e2" stroke="#2e2a2e" stroke-width="1.2"/>
<rect x="366.34" y="1870.85" width="10.59" height="41.45" fill="#c8c6e2" stroke="#2e2a2e" stroke-width="1.2"/>
<rect x="376.93" y="1870.85" width="10.59" height="41.45" fill="#f1eff7" stroke="#2e2a2e" stroke-width="1.2"/>
<rect x="387.52" y="1870.85" width="10.59" height="41.45" fill="#dbdaec" stroke="#2e2a2e" stroke-width="1.2"/>
<rect x="398.11" y="1870.85" width="10.59" height="41.45" fill="#dbdaec" stroke="#2e2a2e" stroke-width="1.2"/>
<text x="246.2" y="1481.5" font-size="21.5" textLength="29.1" lengthAdjust="spacingAndGlyphs">AC</text>
<rect x="416.40" y="1493.40" width="181.90" height="423.30" fill="#ffffff" stroke="#3a3a3a" stroke-width="1.4"/>
<rect x="417.40" y="1497.80" width="10.58" height="41.45" fill="#dbdaec" stroke="#2e2a2e" stroke-width="1.2"/>
<rect x="427.98" y="1497.80" width="10.58" height="41.45" fill="#f1eff7" stroke="#2e2a2e" stroke-width="1.2"/>
<rect x="438.56" y="1497.80" width="10.58" height="41.45" fill="#f1eff7" stroke="#2e2a2e" stroke-width="1.2"/>
<rect x="449.15" y="1497.80" width="10.58" height="41.45" fill="#f1eff7" stroke="#2e2a2e" stroke-width="1.2"/>
<rect x="459.73" y="1497.80" width="10.58" height="41.45" fill="#f1eff7" stroke="#2e2a2e" stroke-width="1.2"/>
<rect x="470.31" y="1497.80" width="10.58" height="41.45" fill="#f1eff7" stroke="#2e2a2e" stroke-width="1.2"/>
<rect x="480.89" y="1497.80" width="10.58" height="41.45" fill="#f1eff7" stroke="#2e2a2e" stroke-width="1.2"/>
<rect x="491.48" y="1497.80" width="10.58" height="41.45" fill="#f1eff7" stroke="#2e2a2e" stroke-width="1.2"/>
<rect x="502.06" y="1497.80" width="10.58" height="41.45" fill="#f1eff7" stroke="#2e2a2e" stroke-width="1.2"/>
<rect x="512.64" y="1497.80" width="10.58" height="41.45" fill="#f1eff7" stroke="#2e2a2e" stroke-width="1.2"/>
<rect x="523.22" y="1497.80" width="10.58" height="41.45" fill="#f1eff7" stroke="#2e2a2e" stroke-width="1.2"/>
<rect x="533.81" y="1497.80" width="10.58" height="41.45" fill="#aca8d3" stroke="#2e2a2e" stroke-width="1.2"/>
<rect x="544.39" y="1497.80" width="10.58" height="41.45" fill="#c8c6e2" stroke="#2e2a2e" stroke-width="1.2"/>
<rect x="554.97" y="1497.80" width="10.58" height="41.45" fill="#f1eff7" stroke="#2e2a2e" stroke-width="1.2"/>
<rect x="565.55" y="1497.80" width="10.58" height="41.45" fill="#f1eff7" stroke="#2e2a2e" stroke-width="1.2"/>
<rect x="576.14" y="1497.80" width="10.58" height="41.45" fill="#f1eff7" stroke="#2e2a2e" stroke-width="1.2"/>
<rect x="586.72" y="1497.80" width="10.58" height="41.45" fill="#f1eff7" stroke="#2e2a2e" stroke-width="1.2"/>
<rect x="417.40" y="1539.25" width="10.58" height="41.45" fill="#c8c6e2" stroke="#2e2a2e" stroke-width="1.2"/>
<rect x="427.98" y="1539.25" width="10.58" height="41.45" fill="#f1eff7" stroke="#2e2a2e" stroke-width="1.2"/>
<rect x="438.56" y="1539.25" width="10.58" height="41.45" fill="#dbdaec" stroke="#2e2a2e" stroke-width="1.2"/>
<rect x="449.15" y="1539.25" width="10.58" height="41.45" fill="#c8c6e2" stroke="#2e2a2e" stroke-width="1.2"/>
<rect x="459.73" y="1539.25" width="10.58" height="41.45" fill="#f1eff7" stroke="#2e2a2e" stroke-width="1.2"/>
<rect x="470.31" y="1539.25" width="10.58" height="41.45" fill="#8e88c1" stroke="#2e2a2e" stroke-width="1.2"/>
<rect x="480.89" y="1539.25" width="10.58" height="41.45" fill="#aca8d3" stroke="#2e2a2e" stroke-width="1.2"/>
<rect x="491.48" y="1539.25" width="10.58" height="41.45" fill="#c8c6e2" stroke="#2e2a2e" stroke-width="1.2"/>
<rect x="502.06" y="1539.25" width="10.58" height="41.45" fill="#aca8d3" stroke="#2e2a2e" stroke-width="1.2"/>
<rect x="512.64" y="1539.25" width="10.58" height="41.45" fill="#8e88c1" stroke="#2e2a2e" stroke-width="1.2"/>
<rect x="523.22" y="1539.25" width="10.58" height="41.45" fill="#8e88c1" stroke="#2e2a2e" stroke-width="1.2"/>
<rect x="533.81" y="1539.25" width="10.58" height="41.45" fill="#aca8d3" stroke="#2e2a2e" stroke-width="1.2"/>
<rect x="544.39" y="1539.25" width="10.58" height="41.45" fill="#8e88c1" stroke="#2e2a2e" stroke-width="1.2"/>
<rect x="554.97" y="1539.25" width="10.58" height="41.45" fill="#6c55a6" stroke="#2e2a2e" stroke-width="1.2"/>
<rect x="565.55" y="1539.25" width="10.58" height="41.45" fill="#4d2b85" stroke="#2e2a2e" stroke-width="1.2"/>
<rect x="576.14" y="1539.25" width="10.58" height="41.45" fill="#6c55a6" stroke="#2e2a2e" stroke-width="1.2"/>
<rect x="586.72" y="1539.25" width="10.58" height="41.45" fill="#6c55a6" stroke="#2e2a2e" stroke-width="1.2"/>
<rect x="417.40" y="1580.70" width="10.58" height="41.45" fill="#4d2b85" stroke="#2e2a2e" stroke-width="1.2"/>
<rect x="427.98" y="1580.70" width="10.58" height="41.45" fill="#4d2b85" stroke="#2e2a2e" stroke-width="1.2"/>
<rect x="438.56" y="1580.70" width="10.58" height="41.45" fill="#4d2b85" stroke="#2e2a2e" stroke-width="1.2"/>
<rect x="449.15" y="1580.70" width="10.58" height="41.45" fill="#c8c6e2" stroke="#2e2a2e" stroke-width="1.2"/>
<rect x="459.73" y="1580.70" width="10.58" height="41.45" fill="#c8c6e2" stroke="#2e2a2e" stroke-width="1.2"/>
<rect x="470.31" y="1580.70" width="10.58" height="41.45" fill="#6c55a6" stroke="#2e2a2e" stroke-width="1.2"/>
<rect x="480.89" y="1580.70" width="10.58" height="41.45" fill="#c8c6e2" stroke="#2e2a2e" stroke-width="1.2"/>
<rect x="491.48" y="1580.70" width="10.58" height="41.45" fill="#4d2b85" stroke="#2e2a2e" stroke-width="1.2"/>
<rect x="502.06" y="1580.70" width="10.58" height="41.45" fill="#aca8d3" stroke="#2e2a2e" stroke-width="1.2"/>
<rect x="512.64" y="1580.70" width="10.58" height="41.45" fill="#6c55a6" stroke="#2e2a2e" stroke-width="1.2"/>
<rect x="523.22" y="1580.70" width="10.58" height="41.45" fill="#4d2b85" stroke="#2e2a2e" stroke-width="1.2"/>
<rect x="533.81" y="1580.70" width="10.58" height="41.45" fill="#4d2b85" stroke="#2e2a2e" stroke-width="1.2"/>
<rect x="544.39" y="1580.70" width="10.58" height="41.45" fill="#4d2b85" stroke="#2e2a2e" stroke-width="1.2"/>
<rect x="554.97" y="1580.70" width="10.58" height="41.45" fill="#6c55a6" stroke="#2e2a2e" stroke-width="1.2"/>
<rect x="565.55" y="1580.70" width="10.58" height="41.45" fill="#4d2b85" stroke="#2e2a2e" stroke-width="1.2"/>
<rect x="576.14" y="1580.70" width="10.58" height="41.45" fill="#4d2b85" stroke="#2e2a2e" stroke-width="1.2"/>
<rect x="586.72" y="1580.70" width="10.58" height="41.45" fill="#4d2b85" stroke="#2e2a2e" stroke-width="1.2"/>
<rect x="417.40" y="1622.15" width="10.58" height="41.45" fill="#dbdaec" stroke="#2e2a2e" stroke-width="1.2"/>
<rect x="427.98" y="1622.15" width="10.58" height="41.45" fill="#aca8d3" stroke="#2e2a2e" stroke-width="1.2"/>
<rect x="438.56" y="1622.15" width="10.58" height="41.45" fill="#8e88c1" stroke="#2e2a2e" stroke-width="1.2"/>
<rect x="449.15" y="1622.15" width="10.58" height="41.45" fill="#6c55a6" stroke="#2e2a2e" stroke-width="1.2"/>
<rect x="459.73" y="1622.15" width="10.58" height="41.45" fill="#6c55a6" stroke="#2e2a2e" stroke-width="1.2"/>
<rect x="470.31" y="1622.15" width="10.58" height="41.45" fill="#4d2b85" stroke="#2e2a2e" stroke-width="1.2"/>
<rect x="480.89" y="1622.15" width="10.58" height="41.45" fill="#4d2b85" stroke="#2e2a2e" stroke-width="1.2"/>
<rect x="491.48" y="1622.15" width="10.58" height="41.45" fill="#4d2b85" stroke="#2e2a2e" stroke-width="1.2"/>
<rect x="502.06" y="1622.15" width="10.58" height="41.45" fill="#4d2b85" stroke="#2e2a2e" stroke-width="1.2"/>
<rect x="512.64" y="1622.15" width="10.58" height="41.45" fill="#8e88c1" stroke="#2e2a2e" stroke-width="1.2"/>
<rect x="523.22" y="1622.15" width="10.58" height="41.45" fill="#aca8d3" stroke="#2e2a2e" stroke-width="1.2"/>
<rect x="533.81" y="1622.15" width="10.58" height="41.45" fill="#dbdaec" stroke="#2e2a2e" stroke-width="1.2"/>
<rect x="544.39" y="1622.15" width="10.58" height="41.45" fill="#dbdaec" stroke="#2e2a2e" stroke-width="1.2"/>
<rect x="554.97" y="1622.15" width="10.58" height="41.45" fill="#6c55a6" stroke="#2e2a2e" stroke-width="1.2"/>
<rect x="565.55" y="1622.15" width="10.58" height="41.45" fill="#aca8d3" stroke="#2e2a2e" stroke-width="1.2"/>
<rect x="576.14" y="1622.15" width="10.58" height="41.45" fill="#dbdaec" stroke="#2e2a2e" stroke-width="1.2"/>
<rect x="586.72" y="1622.15" width="10.58" height="41.45" fill="#dbdaec" stroke="#2e2a2e" stroke-width="1.2"/>
<rect x="417.40" y="1663.60" width="10.58" height="41.45" fill="#f1eff7" stroke="#2e2a2e" stroke-width="1.2"/>
<rect x="427.98" y="1663.60" width="10.58" height="41.45" fill="#dbdaec" stroke="#2e2a2e" stroke-width="1.2"/>
<rect x="438.56" y="1663.60" width="10.58" height="41.45" fill="#dbdaec" stroke="#2e2a2e" stroke-width="1.2"/>
<rect x="449.15" y="1663.60" width="10.58" height="41.45" fill="#dbdaec" stroke="#2e2a2e" stroke-width="1.2"/>
<rect x="459.73" y="1663.60" width="10.58" height="41.45" fill="#6c55a6" stroke="#2e2a2e" stroke-width="1.2"/>
<rect x="470.31" y="1663.60" width="10.58" height="41.45" fill="#dbdaec" stroke="#2e2a2e" stroke-width="1.2"/>
<rect x="480.89" y="1663.60" width="10.58" height="41.45" fill="#c8c6e2" stroke="#2e2a2e" stroke-width="1.2"/>
<rect x="491.48" y="1663.60" width="10.58" height="41.45" fill="#aca8d3" stroke="#2e2a2e" stroke-width="1.2"/>
<rect x="502.06" y="1663.60" width="10.58" height="41.45" fill="#8e88c1" stroke="#2e2a2e" stroke-width="1.2"/>
<rect x="512.64" y="1663.60" width="10.58" height="41.45" fill="#dbdaec" stroke="#2e2a2e" stroke-width="1.2"/>
<rect x="523.22" y="1663.60" width="10.58" height="41.45" fill="#dbdaec" stroke="#2e2a2e" stroke-width="1.2"/>
<rect x="533.81" y="1663.60" width="10.58" height="41.45" fill="#aca8d3" stroke="#2e2a2e" stroke-width="1.2"/>
<rect x="544.39" y="1663.60" width="10.58" height="41.45" fill="#dbdaec" stroke="#2e2a2e" stroke-width="1.2"/>
<rect x="554.97" y="1663.60" width="10.58" height="41.45" fill="#dbdaec" stroke="#2e2a2e" stroke-width="1.2"/>
<rect x="565.55" y="1663.60" width="10.58" height="41.45" fill="#dbdaec" stroke="#2e2a2e" stroke-width="1.2"/>
<rect x="576.14" y="1663.60" width="10.58" height="41.45" fill="#c8c6e2" stroke="#2e2a2e" stroke-width="1.2"/>
<rect x="586.72" y="1663.60" width="10.58" height="41.45" fill="#dbdaec" stroke="#2e2a2e" stroke-width="1.2"/>
<rect x="417.40" y="1705.05" width="10.58" height="41.45" fill="#dbdaec" stroke="#2e2a2e" stroke-width="1.2"/>
<rect x="427.98" y="1705.05" width="10.58" height="41.45" fill="#f1eff7" stroke="#2e2a2e" stroke-width="1.2"/>
<rect x="438.56" y="1705.05" width="10.58" height="41.45" fill="#dbdaec" stroke="#2e2a2e" stroke-width="1.2"/>
<rect x="449.15" y="1705.05" width="10.58" height="41.45" fill="#f1eff7" stroke="#2e2a2e" stroke-width="1.2"/>
<rect x="459.73" y="1705.05" width="10.58" height="41.45" fill="#f1eff7" stroke="#2e2a2e" stroke-width="1.2"/>
<rect x="470.31" y="1705.05" width="10.58" height="41.45" fill="#dbdaec" stroke="#2e2a2e" stroke-width="1.2"/>
<rect x="480.89" y="1705.05" width="10.58" height="41.45" fill="#8e88c1" stroke="#2e2a2e" stroke-width="1.2"/>
<rect x="491.48" y="1705.05" width="10.58" height="41.45" fill="#f1eff7" stroke="#2e2a2e" stroke-width="1.2"/>
<rect x="502.06" y="1705.05" width="10.58" height="41.45" fill="#dbdaec" stroke="#2e2a2e" stroke-width="1.2"/>
<rect x="512.64" y="1705.05" width="10.58" height="41.45" fill="#c8c6e2" stroke="#2e2a2e" stroke-width="1.2"/>
<rect x="523.22" y="1705.05" width="10.58" height="41.45" fill="#dbdaec" stroke="#2e2a2e" stroke-width="1.2"/>
<rect x="533.81" y="1705.05" width="10.58" height="41.45" fill="#c8c6e2" stroke="#2e2a2e" stroke-width="1.2"/>
<rect x="544.39" y="1705.05" width="10.58" height="41.45" fill="#f1eff7" stroke="#2e2a2e" stroke-width="1.2"/>
<rect x="554.97" y="1705.05" width="10.58" height="41.45" fill="#f1eff7" stroke="#2e2a2e" stroke-width="1.2"/>
<rect x="565.55" y="1705.05" width="10.58" height="41.45" fill="#f1eff7" stroke="#2e2a2e" stroke-width="1.2"/>
<rect x="576.14" y="1705.05" width="10.58" height="41.45" fill="#dbdaec" stroke="#2e2a2e" stroke-width="1.2"/>
<rect x="586.72" y="1705.05" width="10.58" height="41.45" fill="#aca8d3" stroke="#2e2a2e" stroke-width="1.2"/>
<rect x="417.40" y="1746.50" width="10.58" height="41.45" fill="#f1eff7" stroke="#2e2a2e" stroke-width="1.2"/>
<rect x="427.98" y="1746.50" width="10.58" height="41.45" fill="#f1eff7" stroke="#2e2a2e" stroke-width="1.2"/>
<rect x="438.56" y="1746.50" width="10.58" height="41.45" fill="#f1eff7" stroke="#2e2a2e" stroke-width="1.2"/>
<rect x="449.15" y="1746.50" width="10.58" height="41.45" fill="#dbdaec" stroke="#2e2a2e" stroke-width="1.2"/>
<rect x="459.73" y="1746.50" width="10.58" height="41.45" fill="#f1eff7" stroke="#2e2a2e" stroke-width="1.2"/>
<rect x="470.31" y="1746.50" width="10.58" height="41.45" fill="#dbdaec" stroke="#2e2a2e" stroke-width="1.2"/>
<rect x="480.89" y="1746.50" width="10.58" height="41.45" fill="#f1eff7" stroke="#2e2a2e" stroke-width="1.2"/>
<rect x="491.48" y="1746.50" width="10.58" height="41.45" fill="#dbdaec" stroke="#2e2a2e" stroke-width="1.2"/>
<rect x="502.06" y="1746.50" width="10.58" height="41.45" fill="#8e88c1" stroke="#2e2a2e" stroke-width="1.2"/>
<rect x="512.64" y="1746.50" width="10.58" height="41.45" fill="#aca8d3" stroke="#2e2a2e" stroke-width="1.2"/>
<rect x="523.22" y="1746.50" width="10.58" height="41.45" fill="#8e88c1" stroke="#2e2a2e" stroke-width="1.2"/>
<rect x="533.81" y="1746.50" width="10.58" height="41.45" fill="#f1eff7" stroke="#2e2a2e" stroke-width="1.2"/>
<rect x="544.39" y="1746.50" width="10.58" height="41.45" fill="#f1eff7" stroke="#2e2a2e" stroke-width="1.2"/>
<rect x="554.97" y="1746.50" width="10.58" height="41.45" fill="#f1eff7" stroke="#2e2a2e" stroke-width="1.2"/>
<rect x="565.55" y="1746.50" width="10.58" height="41.45" fill="#f1eff7" stroke="#2e2a2e" stroke-width="1.2"/>
<rect x="576.14" y="1746.50" width="10.58" height="41.45" fill="#dbdaec" stroke="#2e2a2e" stroke-width="1.2"/>
<rect x="586.72" y="1746.50" width="10.58" height="41.45" fill="#dbdaec" stroke="#2e2a2e" stroke-width="1.2"/>
<rect x="417.40" y="1787.95" width="10.58" height="41.45" fill="#f1eff7" stroke="#2e2a2e" stroke-width="1.2"/>
<rect x="427.98" y="1787.95" width="10.58" height="41.45" fill="#f1eff7" stroke="#2e2a2e" stroke-width="1.2"/>
<rect x="438.56" y="1787.95" width="10.58" height="41.45" fill="#f1eff7" stroke="#2e2a2e" stroke-width="1.2"/>
<rect x="449.15" y="1787.95" width="10.58" height="41.45" fill="#aca8d3" stroke="#2e2a2e" stroke-width="1.2"/>
<rect x="459.73" y="1787.95" width="10.58" height="41.45" fill="#f1eff7" stroke="#2e2a2e" stroke-width="1.2"/>
<rect x="470.31" y="1787.95" width="10.58" height="41.45" fill="#f1eff7" stroke="#2e2a2e" stroke-width="1.2"/>
<rect x="480.89" y="1787.95" width="10.58" height="41.45" fill="#f1eff7" stroke="#2e2a2e" stroke-width="1.2"/>
<rect x="491.48" y="1787.95" width="10.58" height="41.45" fill="#f1eff7" stroke="#2e2a2e" stroke-width="1.2"/>
<rect x="502.06" y="1787.95" width="10.58" height="41.45" fill="#f1eff7" stroke="#2e2a2e" stroke-width="1.2"/>
<rect x="512.64" y="1787.95" width="10.58" height="41.45" fill="#f1eff7" stroke="#2e2a2e" stroke-width="1.2"/>
<rect x="523.22" y="1787.95" width="10.58" height="41.45" fill="#f1eff7" stroke="#2e2a2e" stroke-width="1.2"/>
<rect x="533.81" y="1787.95" width="10.58" height="41.45" fill="#f1eff7" stroke="#2e2a2e" stroke-width="1.2"/>
<rect x="544.39" y="1787.95" width="10.58" height="41.45" fill="#f1eff7" stroke="#2e2a2e" stroke-width="1.2"/>
<rect x="554.97" y="1787.95" width="10.58" height="41.45" fill="#f1eff7" stroke="#2e2a2e" stroke-width="1.2"/>
<rect x="565.55" y="1787.95" width="10.58" height="41.45" fill="#f1eff7" stroke="#2e2a2e" stroke-width="1.2"/>
<rect x="576.14" y="1787.95" width="10.58" height="41.45" fill="#c8c6e2" stroke="#2e2a2e" stroke-width="1.2"/>
<rect x="586.72" y="1787.95" width="10.58" height="41.45" fill="#f1eff7" stroke="#2e2a2e" stroke-width="1.2"/>
<rect x="417.40" y="1829.40" width="10.58" height="41.45" fill="#8e88c1" stroke="#2e2a2e" stroke-width="1.2"/>
<rect x="427.98" y="1829.40" width="10.58" height="41.45" fill="#c8c6e2" stroke="#2e2a2e" stroke-width="1.2"/>
<rect x="438.56" y="1829.40" width="10.58" height="41.45" fill="#dbdaec" stroke="#2e2a2e" stroke-width="1.2"/>
<rect x="449.15" y="1829.40" width="10.58" height="41.45" fill="#c8c6e2" stroke="#2e2a2e" stroke-width="1.2"/>
<rect x="459.73" y="1829.40" width="10.58" height="41.45" fill="#aca8d3" stroke="#2e2a2e" stroke-width="1.2"/>
<rect x="470.31" y="1829.40" width="10.58" height="41.45" fill="#f1eff7" stroke="#2e2a2e" stroke-width="1.2"/>
<rect x="480.89" y="1829.40" width="10.58" height="41.45" fill="#8e88c1" stroke="#2e2a2e" stroke-width="1.2"/>
<rect x="491.48" y="1829.40" width="10.58" height="41.45" fill="#dbdaec" stroke="#2e2a2e" stroke-width="1.2"/>
<rect x="502.06" y="1829.40" width="10.58" height="41.45" fill="#f1eff7" stroke="#2e2a2e" stroke-width="1.2"/>
<rect x="512.64" y="1829.40" width="10.58" height="41.45" fill="#f1eff7" stroke="#2e2a2e" stroke-width="1.2"/>
<rect x="523.22" y="1829.40" width="10.58" height="41.45" fill="#f1eff7" stroke="#2e2a2e" stroke-width="1.2"/>
<rect x="533.81" y="1829.40" width="10.58" height="41.45" fill="#f1eff7" stroke="#2e2a2e" stroke-width="1.2"/>
<rect x="544.39" y="1829.40" width="10.58" height="41.45" fill="#dbdaec" stroke="#2e2a2e" stroke-width="1.2"/>
<rect x="554.97" y="1829.40" width="10.58" height="41.45" fill="#dbdaec" stroke="#2e2a2e" stroke-width="1.2"/>
<rect x="565.55" y="1829.40" width="10.58" height="41.45" fill="#c8c6e2" stroke="#2e2a2e" stroke-width="1.2"/>
<rect x="576.14" y="1829.40" width="10.58" height="41.45" fill="#f1eff7" stroke="#2e2a2e" stroke-width="1.2"/>
<rect x="586.72" y="1829.40" width="10.58" height="41.45" fill="#f1eff7" stroke="#2e2a2e" stroke-width="1.2"/>
<rect x="417.40" y="1870.85" width="10.58" height="41.45" fill="#8e88c1" stroke="#2e2a2e" stroke-width="1.2"/>
<rect x="427.98" y="1870.85" width="10.58" height="41.45" fill="#8e88c1" stroke="#2e2a2e" stroke-width="1.2"/>
<rect x="438.56" y="1870.85" width="10.58" height="41.45" fill="#dbdaec" stroke="#2e2a2e" stroke-width="1.2"/>
<rect x="449.15" y="1870.85" width="10.58" height="41.45" fill="#8e88c1" stroke="#2e2a2e" stroke-width="1.2"/>
<rect x="459.73" y="1870.85" width="10.58" height="41.45" fill="#c8c6e2" stroke="#2e2a2e" stroke-width="1.2"/>
<rect x="470.31" y="1870.85" width="10.58" height="41.45" fill="#dbdaec" stroke="#2e2a2e" stroke-width="1.2"/>
<rect x="480.89" y="1870.85" width="10.58" height="41.45" fill="#f1eff7" stroke="#2e2a2e" stroke-width="1.2"/>
<rect x="491.48" y="1870.85" width="10.58" height="41.45" fill="#dbdaec" stroke="#2e2a2e" stroke-width="1.2"/>
<rect x="502.06" y="1870.85" width="10.58" height="41.45" fill="#c8c6e2" stroke="#2e2a2e" stroke-width="1.2"/>
<rect x="512.64" y="1870.85" width="10.58" height="41.45" fill="#c8c6e2" stroke="#2e2a2e" stroke-width="1.2"/>
<rect x="523.22" y="1870.85" width="10.58" height="41.45" fill="#c8c6e2" stroke="#2e2a2e" stroke-width="1.2"/>
<rect x="533.81" y="1870.85" width="10.58" height="41.45" fill="#dbdaec" stroke="#2e2a2e" stroke-width="1.2"/>
<rect x="544.39" y="1870.85" width="10.58" height="41.45" fill="#c8c6e2" stroke="#2e2a2e" stroke-width="1.2"/>
<rect x="554.97" y="1870.85" width="10.58" height="41.45" fill="#aca8d3" stroke="#2e2a2e" stroke-width="1.2"/>
<rect x="565.55" y="1870.85" width="10.58" height="41.45" fill="#aca8d3" stroke="#2e2a2e" stroke-width="1.2"/>
<rect x="576.14" y="1870.85" width="10.58" height="41.45" fill="#c8c6e2" stroke="#2e2a2e" stroke-width="1.2"/>
<rect x="586.72" y="1870.85" width="10.58" height="41.45" fill="#dbdaec" stroke="#2e2a2e" stroke-width="1.2"/>
<text x="441.8" y="1481.5" font-size="21.5" textLength="130.5" lengthAdjust="spacingAndGlyphs">MES/hypoxia</text>
<rect x="605.40" y="1493.40" width="161.00" height="423.30" fill="#ffffff" stroke="#3a3a3a" stroke-width="1.4"/>
<rect x="606.40" y="1497.80" width="10.60" height="41.45" fill="#f1eff7" stroke="#2e2a2e" stroke-width="1.2"/>
<rect x="617.00" y="1497.80" width="10.60" height="41.45" fill="#f1eff7" stroke="#2e2a2e" stroke-width="1.2"/>
<rect x="627.60" y="1497.80" width="10.60" height="41.45" fill="#f1eff7" stroke="#2e2a2e" stroke-width="1.2"/>
<rect x="638.20" y="1497.80" width="10.60" height="41.45" fill="#f1eff7" stroke="#2e2a2e" stroke-width="1.2"/>
<rect x="648.80" y="1497.80" width="10.60" height="41.45" fill="#f1eff7" stroke="#2e2a2e" stroke-width="1.2"/>
<rect x="659.40" y="1497.80" width="10.60" height="41.45" fill="#f1eff7" stroke="#2e2a2e" stroke-width="1.2"/>
<rect x="670.00" y="1497.80" width="10.60" height="41.45" fill="#dbdaec" stroke="#2e2a2e" stroke-width="1.2"/>
<rect x="680.60" y="1497.80" width="10.60" height="41.45" fill="#f1eff7" stroke="#2e2a2e" stroke-width="1.2"/>
<rect x="691.20" y="1497.80" width="10.60" height="41.45" fill="#dbdaec" stroke="#2e2a2e" stroke-width="1.2"/>
<rect x="701.80" y="1497.80" width="10.60" height="41.45" fill="#f1eff7" stroke="#2e2a2e" stroke-width="1.2"/>
<rect x="712.40" y="1497.80" width="10.60" height="41.45" fill="#f1eff7" stroke="#2e2a2e" stroke-width="1.2"/>
<rect x="723.00" y="1497.80" width="10.60" height="41.45" fill="#f1eff7" stroke="#2e2a2e" stroke-width="1.2"/>
<rect x="733.60" y="1497.80" width="10.60" height="41.45" fill="#f1eff7" stroke="#2e2a2e" stroke-width="1.2"/>
<rect x="744.20" y="1497.80" width="10.60" height="41.45" fill="#f1eff7" stroke="#2e2a2e" stroke-width="1.2"/>
<rect x="754.80" y="1497.80" width="10.60" height="41.45" fill="#f1eff7" stroke="#2e2a2e" stroke-width="1.2"/>
<rect x="606.40" y="1539.25" width="10.60" height="41.45" fill="#c8c6e2" stroke="#2e2a2e" stroke-width="1.2"/>
<rect x="617.00" y="1539.25" width="10.60" height="41.45" fill="#c8c6e2" stroke="#2e2a2e" stroke-width="1.2"/>
<rect x="627.60" y="1539.25" width="10.60" height="41.45" fill="#dbdaec" stroke="#2e2a2e" stroke-width="1.2"/>
<rect x="638.20" y="1539.25" width="10.60" height="41.45" fill="#c8c6e2" stroke="#2e2a2e" stroke-width="1.2"/>
<rect x="648.80" y="1539.25" width="10.60" height="41.45" fill="#c8c6e2" stroke="#2e2a2e" stroke-width="1.2"/>
<rect x="659.40" y="1539.25" width="10.60" height="41.45" fill="#c8c6e2" stroke="#2e2a2e" stroke-width="1.2"/>
<rect x="670.00" y="1539.25" width="10.60" height="41.45" fill="#8e88c1" stroke="#2e2a2e" stroke-width="1.2"/>
<rect x="680.60" y="1539.25" width="10.60" height="41.45" fill="#aca8d3" stroke="#2e2a2e" stroke-width="1.2"/>
<rect x="691.20" y="1539.25" width="10.60" height="41.45" fill="#4d2b85" stroke="#2e2a2e" stroke-width="1.2"/>
<rect x="701.80" y="1539.25" width="10.60" height="41.45" fill="#4d2b85" stroke="#2e2a2e" stroke-width="1.2"/>
<rect x="712.40" y="1539.25" width="10.60" height="41.45" fill="#6c55a6" stroke="#2e2a2e" stroke-width="1.2"/>
<rect x="723.00" y="1539.25" width="10.60" height="41.45" fill="#6c55a6" stroke="#2e2a2e" stroke-width="1.2"/>
<rect x="733.60" y="1539.25" width="10.60" height="41.45" fill="#aca8d3" stroke="#2e2a2e" stroke-width="1.2"/>
<rect x="744.20" y="1539.25" width="10.60" height="41.45" fill="#6c55a6" stroke="#2e2a2e" stroke-width="1.2"/>
<rect x="754.80" y="1539.25" width="10.60" height="41.45" fill="#8e88c1" stroke="#2e2a2e" stroke-width="1.2"/>
<rect x="606.40" y="1580.70" width="10.60" height="41.45" fill="#f1eff7" stroke="#2e2a2e" stroke-width="1.2"/>
<rect x="617.00" y="1580.70" width="10.60" height="41.45" fill="#dbdaec" stroke="#2e2a2e" stroke-width="1.2"/>
<rect x="627.60" y="1580.70" width="10.60" height="41.45" fill="#aca8d3" stroke="#2e2a2e" stroke-width="1.2"/>
<rect x="638.20" y="1580.70" width="10.60" height="41.45" fill="#dbdaec" stroke="#2e2a2e" stroke-width="1.2"/>
<rect x="648.80" y="1580.70" width="10.60" height="41.45" fill="#dbdaec" stroke="#2e2a2e" stroke-width="1.2"/>
<rect x="659.40" y="1580.70" width="10.60" height="41.45" fill="#c8c6e2" stroke="#2e2a2e" stroke-width="1.2"/>
<rect x="670.00" y="1580.70" width="10.60" height="41.45" fill="#dbdaec" stroke="#2e2a2e" stroke-width="1.2"/>
<rect x="680.60" y="1580.70" width="10.60" height="41.45" fill="#dbdaec" stroke="#2e2a2e" stroke-width="1.2"/>
<rect x="691.20" y="1580.70" width="10.60" height="41.45" fill="#f1eff7" stroke="#2e2a2e" stroke-width="1.2"/>
<rect x="701.80" y="1580.70" width="10.60" height="41.45" fill="#f1eff7" stroke="#2e2a2e" stroke-width="1.2"/>
<rect x="712.40" y="1580.70" width="10.60" height="41.45" fill="#c8c6e2" stroke="#2e2a2e" stroke-width="1.2"/>
<rect x="723.00" y="1580.70" width="10.60" height="41.45" fill="#dbdaec" stroke="#2e2a2e" stroke-width="1.2"/>
<rect x="733.60" y="1580.70" width="10.60" height="41.45" fill="#f1eff7" stroke="#2e2a2e" stroke-width="1.2"/>
<rect x="744.20" y="1580.70" width="10.60" height="41.45" fill="#dbdaec" stroke="#2e2a2e" stroke-width="1.2"/>
<rect x="754.80" y="1580.70" width="10.60" height="41.45" fill="#f1eff7" stroke="#2e2a2e" stroke-width="1.2"/>
<rect x="606.40" y="1622.15" width="10.60" height="41.45" fill="#dbdaec" stroke="#2e2a2e" stroke-width="1.2"/>
<rect x="617.00" y="1622.15" width="10.60" height="41.45" fill="#dbdaec" stroke="#2e2a2e" stroke-width="1.2"/>
<rect x="627.60" y="1622.15" width="10.60" height="41.45" fill="#dbdaec" stroke="#2e2a2e" stroke-width="1.2"/>
<rect x="638.20" y="1622.15" width="10.60" height="41.45" fill="#f1eff7" stroke="#2e2a2e" stroke-width="1.2"/>
<rect x="648.80" y="1622.15" width="10.60" height="41.45" fill="#f1eff7" stroke="#2e2a2e" stroke-width="1.2"/>
<rect x="659.40" y="1622.15" width="10.60" height="41.45" fill="#6c55a6" stroke="#2e2a2e" stroke-width="1.2"/>
<rect x="670.00" y="1622.15" width="10.60" height="41.45" fill="#aca8d3" stroke="#2e2a2e" stroke-width="1.2"/>
<rect x="680.60" y="1622.15" width="10.60" height="41.45" fill="#c8c6e2" stroke="#2e2a2e" stroke-width="1.2"/>
<rect x="691.20" y="1622.15" width="10.60" height="41.45" fill="#f1eff7" stroke="#2e2a2e" stroke-width="1.2"/>
<rect x="701.80" y="1622.15" width="10.60" height="41.45" fill="#f1eff7" stroke="#2e2a2e" stroke-width="1.2"/>
<rect x="712.40" y="1622.15" width="10.60" height="41.45" fill="#f1eff7" stroke="#2e2a2e" stroke-width="1.2"/>
<rect x="723.00" y="1622.15" width="10.60" height="41.45" fill="#f1eff7" stroke="#2e2a2e" stroke-width="1.2"/>
<rect x="733.60" y="1622.15" width="10.60" height="41.45" fill="#f1eff7" stroke="#2e2a2e" stroke-width="1.2"/>
<rect x="744.20" y="1622.15" width="10.60" height="41.45" fill="#f1eff7" stroke="#2e2a2e" stroke-width="1.2"/>
<rect x="754.80" y="1622.15" width="10.60" height="41.45" fill="#f1eff7" stroke="#2e2a2e" stroke-width="1.2"/>
<rect x="606.40" y="1663.60" width="10.60" height="41.45" fill="#f1eff7" stroke="#2e2a2e" stroke-width="1.2"/>
<rect x="617.00" y="1663.60" width="10.60" height="41.45" fill="#dbdaec" stroke="#2e2a2e" stroke-width="1.2"/>
<rect x="627.60" y="1663.60" width="10.60" height="41.45" fill="#f1eff7" stroke="#2e2a2e" stroke-width="1.2"/>
<rect x="638.20" y="1663.60" width="10.60" height="41.45" fill="#dbdaec" stroke="#2e2a2e" stroke-width="1.2"/>
<rect x="648.80" y="1663.60" width="10.60" height="41.45" fill="#c8c6e2" stroke="#2e2a2e" stroke-width="1.2"/>
<rect x="659.40" y="1663.60" width="10.60" height="41.45" fill="#dbdaec" stroke="#2e2a2e" stroke-width="1.2"/>
<rect x="670.00" y="1663.60" width="10.60" height="41.45" fill="#c8c6e2" stroke="#2e2a2e" stroke-width="1.2"/>
<rect x="680.60" y="1663.60" width="10.60" height="41.45" fill="#f1eff7" stroke="#2e2a2e" stroke-width="1.2"/>
<rect x="691.20" y="1663.60" width="10.60" height="41.45" fill="#dbdaec" stroke="#2e2a2e" stroke-width="1.2"/>
<rect x="701.80" y="1663.60" width="10.60" height="41.45" fill="#f1eff7" stroke="#2e2a2e" stroke-width="1.2"/>
<rect x="712.40" y="1663.60" width="10.60" height="41.45" fill="#dbdaec" stroke="#2e2a2e" stroke-width="1.2"/>
<rect x="723.00" y="1663.60" width="10.60" height="41.45" fill="#f1eff7" stroke="#2e2a2e" stroke-width="1.2"/>
<rect x="733.60" y="1663.60" width="10.60" height="41.45" fill="#dbdaec" stroke="#2e2a2e" stroke-width="1.2"/>
<rect x="744.20" y="1663.60" width="10.60" height="41.45" fill="#dbdaec" stroke="#2e2a2e" stroke-width="1.2"/>
<rect x="754.80" y="1663.60" width="10.60" height="41.45" fill="#f1eff7" stroke="#2e2a2e" stroke-width="1.2"/>
<rect x="606.40" y="1705.05" width="10.60" height="41.45" fill="#4d2b85" stroke="#2e2a2e" stroke-width="1.2"/>
<rect x="617.00" y="1705.05" width="10.60" height="41.45" fill="#4d2b85" stroke="#2e2a2e" stroke-width="1.2"/>
<rect x="627.60" y="1705.05" width="10.60" height="41.45" fill="#4d2b85" stroke="#2e2a2e" stroke-width="1.2"/>
<rect x="638.20" y="1705.05" width="10.60" height="41.45" fill="#4d2b85" stroke="#2e2a2e" stroke-width="1.2"/>
<rect x="648.80" y="1705.05" width="10.60" height="41.45" fill="#4d2b85" stroke="#2e2a2e" stroke-width="1.2"/>
<rect x="659.40" y="1705.05" width="10.60" height="41.45" fill="#4d2b85" stroke="#2e2a2e" stroke-width="1.2"/>
<rect x="670.00" y="1705.05" width="10.60" height="41.45" fill="#4d2b85" stroke="#2e2a2e" stroke-width="1.2"/>
<rect x="680.60" y="1705.05" width="10.60" height="41.45" fill="#4d2b85" stroke="#2e2a2e" stroke-width="1.2"/>
<rect x="691.20" y="1705.05" width="10.60" height="41.45" fill="#4d2b85" stroke="#2e2a2e" stroke-width="1.2"/>
<rect x="701.80" y="1705.05" width="10.60" height="41.45" fill="#4d2b85" stroke="#2e2a2e" stroke-width="1.2"/>
<rect x="712.40" y="1705.05" width="10.60" height="41.45" fill="#4d2b85" stroke="#2e2a2e" stroke-width="1.2"/>
<rect x="723.00" y="1705.05" width="10.60" height="41.45" fill="#4d2b85" stroke="#2e2a2e" stroke-width="1.2"/>
<rect x="733.60" y="1705.05" width="10.60" height="41.45" fill="#4d2b85" stroke="#2e2a2e" stroke-width="1.2"/>
<rect x="744.20" y="1705.05" width="10.60" height="41.45" fill="#4d2b85" stroke="#2e2a2e" stroke-width="1.2"/>
<rect x="754.80" y="1705.05" width="10.60" height="41.45" fill="#4d2b85" stroke="#2e2a2e" stroke-width="1.2"/>
<rect x="606.40" y="1746.50" width="10.60" height="41.45" fill="#6c55a6" stroke="#2e2a2e" stroke-width="1.2"/>
<rect x="617.00" y="1746.50" width="10.60" height="41.45" fill="#4d2b85" stroke="#2e2a2e" stroke-width="1.2"/>
<rect x="627.60" y="1746.50" width="10.60" height="41.45" fill="#f1eff7" stroke="#2e2a2e" stroke-width="1.2"/>
<rect x="638.20" y="1746.50" width="10.60" height="41.45" fill="#dbdaec" stroke="#2e2a2e" stroke-width="1.2"/>
<rect x="648.80" y="1746.50" width="10.60" height="41.45" fill="#c8c6e2" stroke="#2e2a2e" stroke-width="1.2"/>
<rect x="659.40" y="1746.50" width="10.60" height="41.45" fill="#dbdaec" stroke="#2e2a2e" stroke-width="1.2"/>
<rect x="670.00" y="1746.50" width="10.60" height="41.45" fill="#c8c6e2" stroke="#2e2a2e" stroke-width="1.2"/>
<rect x="680.60" y="1746.50" width="10.60" height="41.45" fill="#c8c6e2" stroke="#2e2a2e" stroke-width="1.2"/>
<rect x="691.20" y="1746.50" width="10.60" height="41.45" fill="#dbdaec" stroke="#2e2a2e" stroke-width="1.2"/>
<rect x="701.80" y="1746.50" width="10.60" height="41.45" fill="#f1eff7" stroke="#2e2a2e" stroke-width="1.2"/>
<rect x="712.40" y="1746.50" width="10.60" height="41.45" fill="#dbdaec" stroke="#2e2a2e" stroke-width="1.2"/>
<rect x="723.00" y="1746.50" width="10.60" height="41.45" fill="#dbdaec" stroke="#2e2a2e" stroke-width="1.2"/>
<rect x="733.60" y="1746.50" width="10.60" height="41.45" fill="#dbdaec" stroke="#2e2a2e" stroke-width="1.2"/>
<rect x="744.20" y="1746.50" width="10.60" height="41.45" fill="#aca8d3" stroke="#2e2a2e" stroke-width="1.2"/>
<rect x="754.80" y="1746.50" width="10.60" height="41.45" fill="#6c55a6" stroke="#2e2a2e" stroke-width="1.2"/>
<rect x="606.40" y="1787.95" width="10.60" height="41.45" fill="#f1eff7" stroke="#2e2a2e" stroke-width="1.2"/>
<rect x="617.00" y="1787.95" width="10.60" height="41.45" fill="#f1eff7" stroke="#2e2a2e" stroke-width="1.2"/>
<rect x="627.60" y="1787.95" width="10.60" height="41.45" fill="#f1eff7" stroke="#2e2a2e" stroke-width="1.2"/>
<rect x="638.20" y="1787.95" width="10.60" height="41.45" fill="#f1eff7" stroke="#2e2a2e" stroke-width="1.2"/>
<rect x="648.80" y="1787.95" width="10.60" height="41.45" fill="#f1eff7" stroke="#2e2a2e" stroke-width="1.2"/>
<rect x="659.40" y="1787.95" width="10.60" height="41.45" fill="#f1eff7" stroke="#2e2a2e" stroke-width="1.2"/>
<rect x="670.00" y="1787.95" width="10.60" height="41.45" fill="#f1eff7" stroke="#2e2a2e" stroke-width="1.2"/>
<rect x="680.60" y="1787.95" width="10.60" height="41.45" fill="#f1eff7" stroke="#2e2a2e" stroke-width="1.2"/>
<rect x="691.20" y="1787.95" width="10.60" height="41.45" fill="#f1eff7" stroke="#2e2a2e" stroke-width="1.2"/>
<rect x="701.80" y="1787.95" width="10.60" height="41.45" fill="#f1eff7" stroke="#2e2a2e" stroke-width="1.2"/>
<rect x="712.40" y="1787.95" width="10.60" height="41.45" fill="#f1eff7" stroke="#2e2a2e" stroke-width="1.2"/>
<rect x="723.00" y="1787.95" width="10.60" height="41.45" fill="#f1eff7" stroke="#2e2a2e" stroke-width="1.2"/>
<rect x="733.60" y="1787.95" width="10.60" height="41.45" fill="#f1eff7" stroke="#2e2a2e" stroke-width="1.2"/>
<rect x="744.20" y="1787.95" width="10.60" height="41.45" fill="#f1eff7" stroke="#2e2a2e" stroke-width="1.2"/>
<rect x="754.80" y="1787.95" width="10.60" height="41.45" fill="#aca8d3" stroke="#2e2a2e" stroke-width="1.2"/>
<rect x="606.40" y="1829.40" width="10.60" height="41.45" fill="#dbdaec" stroke="#2e2a2e" stroke-width="1.2"/>
<rect x="617.00" y="1829.40" width="10.60" height="41.45" fill="#f1eff7" stroke="#2e2a2e" stroke-width="1.2"/>
<rect x="627.60" y="1829.40" width="10.60" height="41.45" fill="#c8c6e2" stroke="#2e2a2e" stroke-width="1.2"/>
<rect x="638.20" y="1829.40" width="10.60" height="41.45" fill="#f1eff7" stroke="#2e2a2e" stroke-width="1.2"/>
<rect x="648.80" y="1829.40" width="10.60" height="41.45" fill="#dbdaec" stroke="#2e2a2e" stroke-width="1.2"/>
<rect x="659.40" y="1829.40" width="10.60" height="41.45" fill="#f1eff7" stroke="#2e2a2e" stroke-width="1.2"/>
<rect x="670.00" y="1829.40" width="10.60" height="41.45" fill="#f1eff7" stroke="#2e2a2e" stroke-width="1.2"/>
<rect x="680.60" y="1829.40" width="10.60" height="41.45" fill="#f1eff7" stroke="#2e2a2e" stroke-width="1.2"/>
<rect x="691.20" y="1829.40" width="10.60" height="41.45" fill="#f1eff7" stroke="#2e2a2e" stroke-width="1.2"/>
<rect x="701.80" y="1829.40" width="10.60" height="41.45" fill="#dbdaec" stroke="#2e2a2e" stroke-width="1.2"/>
<rect x="712.40" y="1829.40" width="10.60" height="41.45" fill="#f1eff7" stroke="#2e2a2e" stroke-width="1.2"/>
<rect x="723.00" y="1829.40" width="10.60" height="41.45" fill="#f1eff7" stroke="#2e2a2e" stroke-width="1.2"/>
<rect x="733.60" y="1829.40" width="10.60" height="41.45" fill="#6c55a6" stroke="#2e2a2e" stroke-width="1.2"/>
<rect x="744.20" y="1829.40" width="10.60" height="41.45" fill="#aca8d3" stroke="#2e2a2e" stroke-width="1.2"/>
<rect x="754.80" y="1829.40" width="10.60" height="41.45" fill="#dbdaec" stroke="#2e2a2e" stroke-width="1.2"/>
<rect x="606.40" y="1870.85" width="10.60" height="41.45" fill="#8e88c1" stroke="#2e2a2e" stroke-width="1.2"/>
<rect x="617.00" y="1870.85" width="10.60" height="41.45" fill="#4d2b85" stroke="#2e2a2e" stroke-width="1.2"/>
<rect x="627.60" y="1870.85" width="10.60" height="41.45" fill="#dbdaec" stroke="#2e2a2e" stroke-width="1.2"/>
<rect x="638.20" y="1870.85" width="10.60" height="41.45" fill="#dbdaec" stroke="#2e2a2e" stroke-width="1.2"/>
<rect x="648.80" y="1870.85" width="10.60" height="41.45" fill="#aca8d3" stroke="#2e2a2e" stroke-width="1.2"/>
<rect x="659.40" y="1870.85" width="10.60" height="41.45" fill="#aca8d3" stroke="#2e2a2e" stroke-width="1.2"/>
<rect x="670.00" y="1870.85" width="10.60" height="41.45" fill="#dbdaec" stroke="#2e2a2e" stroke-width="1.2"/>
<rect x="680.60" y="1870.85" width="10.60" height="41.45" fill="#dbdaec" stroke="#2e2a2e" stroke-width="1.2"/>
<rect x="691.20" y="1870.85" width="10.60" height="41.45" fill="#f1eff7" stroke="#2e2a2e" stroke-width="1.2"/>
<rect x="701.80" y="1870.85" width="10.60" height="41.45" fill="#f1eff7" stroke="#2e2a2e" stroke-width="1.2"/>
<rect x="712.40" y="1870.85" width="10.60" height="41.45" fill="#aca8d3" stroke="#2e2a2e" stroke-width="1.2"/>
<rect x="723.00" y="1870.85" width="10.60" height="41.45" fill="#aca8d3" stroke="#2e2a2e" stroke-width="1.2"/>
<rect x="733.60" y="1870.85" width="10.60" height="41.45" fill="#dbdaec" stroke="#2e2a2e" stroke-width="1.2"/>
<rect x="744.20" y="1870.85" width="10.60" height="41.45" fill="#dbdaec" stroke="#2e2a2e" stroke-width="1.2"/>
<rect x="754.80" y="1870.85" width="10.60" height="41.45" fill="#8e88c1" stroke="#2e2a2e" stroke-width="1.2"/>
<text x="663.6" y="1481.5" font-size="21.5" textLength="43.4" lengthAdjust="spacingAndGlyphs">GPC</text>
<rect x="773.40" y="1493.40" width="266.10" height="423.30" fill="#ffffff" stroke="#3a3a3a" stroke-width="1.4"/>
<rect x="774.40" y="1497.80" width="10.56" height="41.45" fill="#dbdaec" stroke="#2e2a2e" stroke-width="1.2"/>
<rect x="784.96" y="1497.80" width="10.56" height="41.45" fill="#f1eff7" stroke="#2e2a2e" stroke-width="1.2"/>
<rect x="795.53" y="1497.80" width="10.56" height="41.45" fill="#f1eff7" stroke="#2e2a2e" stroke-width="1.2"/>
<rect x="806.09" y="1497.80" width="10.56" height="41.45" fill="#f1eff7" stroke="#2e2a2e" stroke-width="1.2"/>
<rect x="816.66" y="1497.80" width="10.56" height="41.45" fill="#f1eff7" stroke="#2e2a2e" stroke-width="1.2"/>
<rect x="827.22" y="1497.80" width="10.56" height="41.45" fill="#f1eff7" stroke="#2e2a2e" stroke-width="1.2"/>
<rect x="837.78" y="1497.80" width="10.56" height="41.45" fill="#f1eff7" stroke="#2e2a2e" stroke-width="1.2"/>
<rect x="848.35" y="1497.80" width="10.56" height="41.45" fill="#f1eff7" stroke="#2e2a2e" stroke-width="1.2"/>
<rect x="858.91" y="1497.80" width="10.56" height="41.45" fill="#f1eff7" stroke="#2e2a2e" stroke-width="1.2"/>
<rect x="869.48" y="1497.80" width="10.56" height="41.45" fill="#f1eff7" stroke="#2e2a2e" stroke-width="1.2"/>
<rect x="880.04" y="1497.80" width="10.56" height="41.45" fill="#f1eff7" stroke="#2e2a2e" stroke-width="1.2"/>
<rect x="890.60" y="1497.80" width="10.56" height="41.45" fill="#f1eff7" stroke="#2e2a2e" stroke-width="1.2"/>
<rect x="901.17" y="1497.80" width="10.56" height="41.45" fill="#f1eff7" stroke="#2e2a2e" stroke-width="1.2"/>
<rect x="911.73" y="1497.80" width="10.56" height="41.45" fill="#f1eff7" stroke="#2e2a2e" stroke-width="1.2"/>
<rect x="922.30" y="1497.80" width="10.56" height="41.45" fill="#f1eff7" stroke="#2e2a2e" stroke-width="1.2"/>
<rect x="932.86" y="1497.80" width="10.56" height="41.45" fill="#f1eff7" stroke="#2e2a2e" stroke-width="1.2"/>
<rect x="943.42" y="1497.80" width="10.56" height="41.45" fill="#f1eff7" stroke="#2e2a2e" stroke-width="1.2"/>
<rect x="953.99" y="1497.80" width="10.56" height="41.45" fill="#f1eff7" stroke="#2e2a2e" stroke-width="1.2"/>
<rect x="964.55" y="1497.80" width="10.56" height="41.45" fill="#f1eff7" stroke="#2e2a2e" stroke-width="1.2"/>
<rect x="975.12" y="1497.80" width="10.56" height="41.45" fill="#f1eff7" stroke="#2e2a2e" stroke-width="1.2"/>
<rect x="985.68" y="1497.80" width="10.56" height="41.45" fill="#f1eff7" stroke="#2e2a2e" stroke-width="1.2"/>
<rect x="996.24" y="1497.80" width="10.56" height="41.45" fill="#f1eff7" stroke="#2e2a2e" stroke-width="1.2"/>
<rect x="1006.81" y="1497.80" width="10.56" height="41.45" fill="#f1eff7" stroke="#2e2a2e" stroke-width="1.2"/>
<rect x="1017.37" y="1497.80" width="10.56" height="41.45" fill="#f1eff7" stroke="#2e2a2e" stroke-width="1.2"/>
<rect x="1027.94" y="1497.80" width="10.56" height="41.45" fill="#dbdaec" stroke="#2e2a2e" stroke-width="1.2"/>
<rect x="774.40" y="1539.25" width="10.56" height="41.45" fill="#8e88c1" stroke="#2e2a2e" stroke-width="1.2"/>
<rect x="784.96" y="1539.25" width="10.56" height="41.45" fill="#dbdaec" stroke="#2e2a2e" stroke-width="1.2"/>
<rect x="795.53" y="1539.25" width="10.56" height="41.45" fill="#f1eff7" stroke="#2e2a2e" stroke-width="1.2"/>
<rect x="806.09" y="1539.25" width="10.56" height="41.45" fill="#dbdaec" stroke="#2e2a2e" stroke-width="1.2"/>
<rect x="816.66" y="1539.25" width="10.56" height="41.45" fill="#f1eff7" stroke="#2e2a2e" stroke-width="1.2"/>
<rect x="827.22" y="1539.25" width="10.56" height="41.45" fill="#c8c6e2" stroke="#2e2a2e" stroke-width="1.2"/>
<rect x="837.78" y="1539.25" width="10.56" height="41.45" fill="#aca8d3" stroke="#2e2a2e" stroke-width="1.2"/>
<rect x="848.35" y="1539.25" width="10.56" height="41.45" fill="#dbdaec" stroke="#2e2a2e" stroke-width="1.2"/>
<rect x="858.91" y="1539.25" width="10.56" height="41.45" fill="#dbdaec" stroke="#2e2a2e" stroke-width="1.2"/>
<rect x="869.48" y="1539.25" width="10.56" height="41.45" fill="#dbdaec" stroke="#2e2a2e" stroke-width="1.2"/>
<rect x="880.04" y="1539.25" width="10.56" height="41.45" fill="#c8c6e2" stroke="#2e2a2e" stroke-width="1.2"/>
<rect x="890.60" y="1539.25" width="10.56" height="41.45" fill="#c8c6e2" stroke="#2e2a2e" stroke-width="1.2"/>
<rect x="901.17" y="1539.25" width="10.56" height="41.45" fill="#f1eff7" stroke="#2e2a2e" stroke-width="1.2"/>
<rect x="911.73" y="1539.25" width="10.56" height="41.45" fill="#f1eff7" stroke="#2e2a2e" stroke-width="1.2"/>
<rect x="922.30" y="1539.25" width="10.56" height="41.45" fill="#f1eff7" stroke="#2e2a2e" stroke-width="1.2"/>
<rect x="932.86" y="1539.25" width="10.56" height="41.45" fill="#aca8d3" stroke="#2e2a2e" stroke-width="1.2"/>
<rect x="943.42" y="1539.25" width="10.56" height="41.45" fill="#dbdaec" stroke="#2e2a2e" stroke-width="1.2"/>
<rect x="953.99" y="1539.25" width="10.56" height="41.45" fill="#f1eff7" stroke="#2e2a2e" stroke-width="1.2"/>
<rect x="964.55" y="1539.25" width="10.56" height="41.45" fill="#4d2b85" stroke="#2e2a2e" stroke-width="1.2"/>
<rect x="975.12" y="1539.25" width="10.56" height="41.45" fill="#4d2b85" stroke="#2e2a2e" stroke-width="1.2"/>
<rect x="985.68" y="1539.25" width="10.56" height="41.45" fill="#6c55a6" stroke="#2e2a2e" stroke-width="1.2"/>
<rect x="996.24" y="1539.25" width="10.56" height="41.45" fill="#dbdaec" stroke="#2e2a2e" stroke-width="1.2"/>
<rect x="1006.81" y="1539.25" width="10.56" height="41.45" fill="#8e88c1" stroke="#2e2a2e" stroke-width="1.2"/>
<rect x="1017.37" y="1539.25" width="10.56" height="41.45" fill="#aca8d3" stroke="#2e2a2e" stroke-width="1.2"/>
<rect x="1027.94" y="1539.25" width="10.56" height="41.45" fill="#8e88c1" stroke="#2e2a2e" stroke-width="1.2"/>
<rect x="774.40" y="1580.70" width="10.56" height="41.45" fill="#f1eff7" stroke="#2e2a2e" stroke-width="1.2"/>
<rect x="784.96" y="1580.70" width="10.56" height="41.45" fill="#dbdaec" stroke="#2e2a2e" stroke-width="1.2"/>
<rect x="795.53" y="1580.70" width="10.56" height="41.45" fill="#f1eff7" stroke="#2e2a2e" stroke-width="1.2"/>
<rect x="806.09" y="1580.70" width="10.56" height="41.45" fill="#f1eff7" stroke="#2e2a2e" stroke-width="1.2"/>
<rect x="816.66" y="1580.70" width="10.56" height="41.45" fill="#f1eff7" stroke="#2e2a2e" stroke-width="1.2"/>
<rect x="827.22" y="1580.70" width="10.56" height="41.45" fill="#c8c6e2" stroke="#2e2a2e" stroke-width="1.2"/>
<rect x="837.78" y="1580.70" width="10.56" height="41.45" fill="#f1eff7" stroke="#2e2a2e" stroke-width="1.2"/>
<rect x="848.35" y="1580.70" width="10.56" height="41.45" fill="#f1eff7" stroke="#2e2a2e" stroke-width="1.2"/>
<rect x="858.91" y="1580.70" width="10.56" height="41.45" fill="#f1eff7" stroke="#2e2a2e" stroke-width="1.2"/>
<rect x="869.48" y="1580.70" width="10.56" height="41.45" fill="#f1eff7" stroke="#2e2a2e" stroke-width="1.2"/>
<rect x="880.04" y="1580.70" width="10.56" height="41.45" fill="#f1eff7" stroke="#2e2a2e" stroke-width="1.2"/>
<rect x="890.60" y="1580.70" width="10.56" height="41.45" fill="#f1eff7" stroke="#2e2a2e" stroke-width="1.2"/>
<rect x="901.17" y="1580.70" width="10.56" height="41.45" fill="#f1eff7" stroke="#2e2a2e" stroke-width="1.2"/>
<rect x="911.73" y="1580.70" width="10.56" height="41.45" fill="#dbdaec" stroke="#2e2a2e" stroke-width="1.2"/>
<rect x="922.30" y="1580.70" width="10.56" height="41.45" fill="#dbdaec" stroke="#2e2a2e" stroke-width="1.2"/>
<rect x="932.86" y="1580.70" width="10.56" height="41.45" fill="#c8c6e2" stroke="#2e2a2e" stroke-width="1.2"/>
<rect x="943.42" y="1580.70" width="10.56" height="41.45" fill="#dbdaec" stroke="#2e2a2e" stroke-width="1.2"/>
<rect x="953.99" y="1580.70" width="10.56" height="41.45" fill="#c8c6e2" stroke="#2e2a2e" stroke-width="1.2"/>
<rect x="964.55" y="1580.70" width="10.56" height="41.45" fill="#dbdaec" stroke="#2e2a2e" stroke-width="1.2"/>
<rect x="975.12" y="1580.70" width="10.56" height="41.45" fill="#c8c6e2" stroke="#2e2a2e" stroke-width="1.2"/>
<rect x="985.68" y="1580.70" width="10.56" height="41.45" fill="#dbdaec" stroke="#2e2a2e" stroke-width="1.2"/>
<rect x="996.24" y="1580.70" width="10.56" height="41.45" fill="#f1eff7" stroke="#2e2a2e" stroke-width="1.2"/>
<rect x="1006.81" y="1580.70" width="10.56" height="41.45" fill="#f1eff7" stroke="#2e2a2e" stroke-width="1.2"/>
<rect x="1017.37" y="1580.70" width="10.56" height="41.45" fill="#c8c6e2" stroke="#2e2a2e" stroke-width="1.2"/>
<rect x="1027.94" y="1580.70" width="10.56" height="41.45" fill="#dbdaec" stroke="#2e2a2e" stroke-width="1.2"/>
<rect x="774.40" y="1622.15" width="10.56" height="41.45" fill="#f1eff7" stroke="#2e2a2e" stroke-width="1.2"/>
<rect x="784.96" y="1622.15" width="10.56" height="41.45" fill="#f1eff7" stroke="#2e2a2e" stroke-width="1.2"/>
<rect x="795.53" y="1622.15" width="10.56" height="41.45" fill="#f1eff7" stroke="#2e2a2e" stroke-width="1.2"/>
<rect x="806.09" y="1622.15" width="10.56" height="41.45" fill="#f1eff7" stroke="#2e2a2e" stroke-width="1.2"/>
<rect x="816.66" y="1622.15" width="10.56" height="41.45" fill="#f1eff7" stroke="#2e2a2e" stroke-width="1.2"/>
<rect x="827.22" y="1622.15" width="10.56" height="41.45" fill="#f1eff7" stroke="#2e2a2e" stroke-width="1.2"/>
<rect x="837.78" y="1622.15" width="10.56" height="41.45" fill="#dbdaec" stroke="#2e2a2e" stroke-width="1.2"/>
<rect x="848.35" y="1622.15" width="10.56" height="41.45" fill="#f1eff7" stroke="#2e2a2e" stroke-width="1.2"/>
<rect x="858.91" y="1622.15" width="10.56" height="41.45" fill="#f1eff7" stroke="#2e2a2e" stroke-width="1.2"/>
<rect x="869.48" y="1622.15" width="10.56" height="41.45" fill="#f1eff7" stroke="#2e2a2e" stroke-width="1.2"/>
<rect x="880.04" y="1622.15" width="10.56" height="41.45" fill="#f1eff7" stroke="#2e2a2e" stroke-width="1.2"/>
<rect x="890.60" y="1622.15" width="10.56" height="41.45" fill="#dbdaec" stroke="#2e2a2e" stroke-width="1.2"/>
<rect x="901.17" y="1622.15" width="10.56" height="41.45" fill="#dbdaec" stroke="#2e2a2e" stroke-width="1.2"/>
<rect x="911.73" y="1622.15" width="10.56" height="41.45" fill="#f1eff7" stroke="#2e2a2e" stroke-width="1.2"/>
<rect x="922.30" y="1622.15" width="10.56" height="41.45" fill="#c8c6e2" stroke="#2e2a2e" stroke-width="1.2"/>
<rect x="932.86" y="1622.15" width="10.56" height="41.45" fill="#c8c6e2" stroke="#2e2a2e" stroke-width="1.2"/>
<rect x="943.42" y="1622.15" width="10.56" height="41.45" fill="#f1eff7" stroke="#2e2a2e" stroke-width="1.2"/>
<rect x="953.99" y="1622.15" width="10.56" height="41.45" fill="#aca8d3" stroke="#2e2a2e" stroke-width="1.2"/>
<rect x="964.55" y="1622.15" width="10.56" height="41.45" fill="#dbdaec" stroke="#2e2a2e" stroke-width="1.2"/>
<rect x="975.12" y="1622.15" width="10.56" height="41.45" fill="#f1eff7" stroke="#2e2a2e" stroke-width="1.2"/>
<rect x="985.68" y="1622.15" width="10.56" height="41.45" fill="#f1eff7" stroke="#2e2a2e" stroke-width="1.2"/>
<rect x="996.24" y="1622.15" width="10.56" height="41.45" fill="#f1eff7" stroke="#2e2a2e" stroke-width="1.2"/>
<rect x="1006.81" y="1622.15" width="10.56" height="41.45" fill="#f1eff7" stroke="#2e2a2e" stroke-width="1.2"/>
<rect x="1017.37" y="1622.15" width="10.56" height="41.45" fill="#f1eff7" stroke="#2e2a2e" stroke-width="1.2"/>
<rect x="1027.94" y="1622.15" width="10.56" height="41.45" fill="#f1eff7" stroke="#2e2a2e" stroke-width="1.2"/>
<rect x="774.40" y="1663.60" width="10.56" height="41.45" fill="#dbdaec" stroke="#2e2a2e" stroke-width="1.2"/>
<rect x="784.96" y="1663.60" width="10.56" height="41.45" fill="#dbdaec" stroke="#2e2a2e" stroke-width="1.2"/>
<rect x="795.53" y="1663.60" width="10.56" height="41.45" fill="#f1eff7" stroke="#2e2a2e" stroke-width="1.2"/>
<rect x="806.09" y="1663.60" width="10.56" height="41.45" fill="#f1eff7" stroke="#2e2a2e" stroke-width="1.2"/>
<rect x="816.66" y="1663.60" width="10.56" height="41.45" fill="#f1eff7" stroke="#2e2a2e" stroke-width="1.2"/>
<rect x="827.22" y="1663.60" width="10.56" height="41.45" fill="#f1eff7" stroke="#2e2a2e" stroke-width="1.2"/>
<rect x="837.78" y="1663.60" width="10.56" height="41.45" fill="#f1eff7" stroke="#2e2a2e" stroke-width="1.2"/>
<rect x="848.35" y="1663.60" width="10.56" height="41.45" fill="#f1eff7" stroke="#2e2a2e" stroke-width="1.2"/>
<rect x="858.91" y="1663.60" width="10.56" height="41.45" fill="#f1eff7" stroke="#2e2a2e" stroke-width="1.2"/>
<rect x="869.48" y="1663.60" width="10.56" height="41.45" fill="#f1eff7" stroke="#2e2a2e" stroke-width="1.2"/>
<rect x="880.04" y="1663.60" width="10.56" height="41.45" fill="#dbdaec" stroke="#2e2a2e" stroke-width="1.2"/>
<rect x="890.60" y="1663.60" width="10.56" height="41.45" fill="#dbdaec" stroke="#2e2a2e" stroke-width="1.2"/>
<rect x="901.17" y="1663.60" width="10.56" height="41.45" fill="#f1eff7" stroke="#2e2a2e" stroke-width="1.2"/>
<rect x="911.73" y="1663.60" width="10.56" height="41.45" fill="#dbdaec" stroke="#2e2a2e" stroke-width="1.2"/>
<rect x="922.30" y="1663.60" width="10.56" height="41.45" fill="#aca8d3" stroke="#2e2a2e" stroke-width="1.2"/>
<rect x="932.86" y="1663.60" width="10.56" height="41.45" fill="#dbdaec" stroke="#2e2a2e" stroke-width="1.2"/>
<rect x="943.42" y="1663.60" width="10.56" height="41.45" fill="#f1eff7" stroke="#2e2a2e" stroke-width="1.2"/>
<rect x="953.99" y="1663.60" width="10.56" height="41.45" fill="#c8c6e2" stroke="#2e2a2e" stroke-width="1.2"/>
<rect x="964.55" y="1663.60" width="10.56" height="41.45" fill="#f1eff7" stroke="#2e2a2e" stroke-width="1.2"/>
<rect x="975.12" y="1663.60" width="10.56" height="41.45" fill="#f1eff7" stroke="#2e2a2e" stroke-width="1.2"/>
<rect x="985.68" y="1663.60" width="10.56" height="41.45" fill="#dbdaec" stroke="#2e2a2e" stroke-width="1.2"/>
<rect x="996.24" y="1663.60" width="10.56" height="41.45" fill="#f1eff7" stroke="#2e2a2e" stroke-width="1.2"/>
<rect x="1006.81" y="1663.60" width="10.56" height="41.45" fill="#dbdaec" stroke="#2e2a2e" stroke-width="1.2"/>
<rect x="1017.37" y="1663.60" width="10.56" height="41.45" fill="#f1eff7" stroke="#2e2a2e" stroke-width="1.2"/>
<rect x="1027.94" y="1663.60" width="10.56" height="41.45" fill="#dbdaec" stroke="#2e2a2e" stroke-width="1.2"/>
<rect x="774.40" y="1705.05" width="10.56" height="41.45" fill="#f1eff7" stroke="#2e2a2e" stroke-width="1.2"/>
<rect x="784.96" y="1705.05" width="10.56" height="41.45" fill="#f1eff7" stroke="#2e2a2e" stroke-width="1.2"/>
<rect x="795.53" y="1705.05" width="10.56" height="41.45" fill="#f1eff7" stroke="#2e2a2e" stroke-width="1.2"/>
<rect x="806.09" y="1705.05" width="10.56" height="41.45" fill="#f1eff7" stroke="#2e2a2e" stroke-width="1.2"/>
<rect x="816.66" y="1705.05" width="10.56" height="41.45" fill="#f1eff7" stroke="#2e2a2e" stroke-width="1.2"/>
<rect x="827.22" y="1705.05" width="10.56" height="41.45" fill="#c8c6e2" stroke="#2e2a2e" stroke-width="1.2"/>
<rect x="837.78" y="1705.05" width="10.56" height="41.45" fill="#f1eff7" stroke="#2e2a2e" stroke-width="1.2"/>
<rect x="848.35" y="1705.05" width="10.56" height="41.45" fill="#f1eff7" stroke="#2e2a2e" stroke-width="1.2"/>
<rect x="858.91" y="1705.05" width="10.56" height="41.45" fill="#f1eff7" stroke="#2e2a2e" stroke-width="1.2"/>
<rect x="869.48" y="1705.05" width="10.56" height="41.45" fill="#f1eff7" stroke="#2e2a2e" stroke-width="1.2"/>
<rect x="880.04" y="1705.05" width="10.56" height="41.45" fill="#f1eff7" stroke="#2e2a2e" stroke-width="1.2"/>
<rect x="890.60" y="1705.05" width="10.56" height="41.45" fill="#dbdaec" stroke="#2e2a2e" stroke-width="1.2"/>
<rect x="901.17" y="1705.05" width="10.56" height="41.45" fill="#f1eff7" stroke="#2e2a2e" stroke-width="1.2"/>
<rect x="911.73" y="1705.05" width="10.56" height="41.45" fill="#f1eff7" stroke="#2e2a2e" stroke-width="1.2"/>
<rect x="922.30" y="1705.05" width="10.56" height="41.45" fill="#f1eff7" stroke="#2e2a2e" stroke-width="1.2"/>
<rect x="932.86" y="1705.05" width="10.56" height="41.45" fill="#f1eff7" stroke="#2e2a2e" stroke-width="1.2"/>
<rect x="943.42" y="1705.05" width="10.56" height="41.45" fill="#4d2b85" stroke="#2e2a2e" stroke-width="1.2"/>
<rect x="953.99" y="1705.05" width="10.56" height="41.45" fill="#f1eff7" stroke="#2e2a2e" stroke-width="1.2"/>
<rect x="964.55" y="1705.05" width="10.56" height="41.45" fill="#f1eff7" stroke="#2e2a2e" stroke-width="1.2"/>
<rect x="975.12" y="1705.05" width="10.56" height="41.45" fill="#f1eff7" stroke="#2e2a2e" stroke-width="1.2"/>
<rect x="985.68" y="1705.05" width="10.56" height="41.45" fill="#dbdaec" stroke="#2e2a2e" stroke-width="1.2"/>
<rect x="996.24" y="1705.05" width="10.56" height="41.45" fill="#8e88c1" stroke="#2e2a2e" stroke-width="1.2"/>
<rect x="1006.81" y="1705.05" width="10.56" height="41.45" fill="#aca8d3" stroke="#2e2a2e" stroke-width="1.2"/>
<rect x="1017.37" y="1705.05" width="10.56" height="41.45" fill="#c8c6e2" stroke="#2e2a2e" stroke-width="1.2"/>
<rect x="1027.94" y="1705.05" width="10.56" height="41.45" fill="#f1eff7" stroke="#2e2a2e" stroke-width="1.2"/>
<rect x="774.40" y="1746.50" width="10.56" height="41.45" fill="#4d2b85" stroke="#2e2a2e" stroke-width="1.2"/>
<rect x="784.96" y="1746.50" width="10.56" height="41.45" fill="#4d2b85" stroke="#2e2a2e" stroke-width="1.2"/>
<rect x="795.53" y="1746.50" width="10.56" height="41.45" fill="#4d2b85" stroke="#2e2a2e" stroke-width="1.2"/>
<rect x="806.09" y="1746.50" width="10.56" height="41.45" fill="#4d2b85" stroke="#2e2a2e" stroke-width="1.2"/>
<rect x="816.66" y="1746.50" width="10.56" height="41.45" fill="#4d2b85" stroke="#2e2a2e" stroke-width="1.2"/>
<rect x="827.22" y="1746.50" width="10.56" height="41.45" fill="#4d2b85" stroke="#2e2a2e" stroke-width="1.2"/>
<rect x="837.78" y="1746.50" width="10.56" height="41.45" fill="#4d2b85" stroke="#2e2a2e" stroke-width="1.2"/>
<rect x="848.35" y="1746.50" width="10.56" height="41.45" fill="#4d2b85" stroke="#2e2a2e" stroke-width="1.2"/>
<rect x="858.91" y="1746.50" width="10.56" height="41.45" fill="#4d2b85" stroke="#2e2a2e" stroke-width="1.2"/>
<rect x="869.48" y="1746.50" width="10.56" height="41.45" fill="#4d2b85" stroke="#2e2a2e" stroke-width="1.2"/>
<rect x="880.04" y="1746.50" width="10.56" height="41.45" fill="#4d2b85" stroke="#2e2a2e" stroke-width="1.2"/>
<rect x="890.60" y="1746.50" width="10.56" height="41.45" fill="#4d2b85" stroke="#2e2a2e" stroke-width="1.2"/>
<rect x="901.17" y="1746.50" width="10.56" height="41.45" fill="#4d2b85" stroke="#2e2a2e" stroke-width="1.2"/>
<rect x="911.73" y="1746.50" width="10.56" height="41.45" fill="#4d2b85" stroke="#2e2a2e" stroke-width="1.2"/>
<rect x="922.30" y="1746.50" width="10.56" height="41.45" fill="#4d2b85" stroke="#2e2a2e" stroke-width="1.2"/>
<rect x="932.86" y="1746.50" width="10.56" height="41.45" fill="#4d2b85" stroke="#2e2a2e" stroke-width="1.2"/>
<rect x="943.42" y="1746.50" width="10.56" height="41.45" fill="#4d2b85" stroke="#2e2a2e" stroke-width="1.2"/>
<rect x="953.99" y="1746.50" width="10.56" height="41.45" fill="#6c55a6" stroke="#2e2a2e" stroke-width="1.2"/>
<rect x="964.55" y="1746.50" width="10.56" height="41.45" fill="#4d2b85" stroke="#2e2a2e" stroke-width="1.2"/>
<rect x="975.12" y="1746.50" width="10.56" height="41.45" fill="#4d2b85" stroke="#2e2a2e" stroke-width="1.2"/>
<rect x="985.68" y="1746.50" width="10.56" height="41.45" fill="#4d2b85" stroke="#2e2a2e" stroke-width="1.2"/>
<rect x="996.24" y="1746.50" width="10.56" height="41.45" fill="#4d2b85" stroke="#2e2a2e" stroke-width="1.2"/>
<rect x="1006.81" y="1746.50" width="10.56" height="41.45" fill="#4d2b85" stroke="#2e2a2e" stroke-width="1.2"/>
<rect x="1017.37" y="1746.50" width="10.56" height="41.45" fill="#8e88c1" stroke="#2e2a2e" stroke-width="1.2"/>
<rect x="1027.94" y="1746.50" width="10.56" height="41.45" fill="#4d2b85" stroke="#2e2a2e" stroke-width="1.2"/>
<rect x="774.40" y="1787.95" width="10.56" height="41.45" fill="#dbdaec" stroke="#2e2a2e" stroke-width="1.2"/>
<rect x="784.96" y="1787.95" width="10.56" height="41.45" fill="#dbdaec" stroke="#2e2a2e" stroke-width="1.2"/>
<rect x="795.53" y="1787.95" width="10.56" height="41.45" fill="#f1eff7" stroke="#2e2a2e" stroke-width="1.2"/>
<rect x="806.09" y="1787.95" width="10.56" height="41.45" fill="#f1eff7" stroke="#2e2a2e" stroke-width="1.2"/>
<rect x="816.66" y="1787.95" width="10.56" height="41.45" fill="#f1eff7" stroke="#2e2a2e" stroke-width="1.2"/>
<rect x="827.22" y="1787.95" width="10.56" height="41.45" fill="#8e88c1" stroke="#2e2a2e" stroke-width="1.2"/>
<rect x="837.78" y="1787.95" width="10.56" height="41.45" fill="#f1eff7" stroke="#2e2a2e" stroke-width="1.2"/>
<rect x="848.35" y="1787.95" width="10.56" height="41.45" fill="#aca8d3" stroke="#2e2a2e" stroke-width="1.2"/>
<rect x="858.91" y="1787.95" width="10.56" height="41.45" fill="#dbdaec" stroke="#2e2a2e" stroke-width="1.2"/>
<rect x="869.48" y="1787.95" width="10.56" height="41.45" fill="#dbdaec" stroke="#2e2a2e" stroke-width="1.2"/>
<rect x="880.04" y="1787.95" width="10.56" height="41.45" fill="#dbdaec" stroke="#2e2a2e" stroke-width="1.2"/>
<rect x="890.60" y="1787.95" width="10.56" height="41.45" fill="#f1eff7" stroke="#2e2a2e" stroke-width="1.2"/>
<rect x="901.17" y="1787.95" width="10.56" height="41.45" fill="#f1eff7" stroke="#2e2a2e" stroke-width="1.2"/>
<rect x="911.73" y="1787.95" width="10.56" height="41.45" fill="#f1eff7" stroke="#2e2a2e" stroke-width="1.2"/>
<rect x="922.30" y="1787.95" width="10.56" height="41.45" fill="#f1eff7" stroke="#2e2a2e" stroke-width="1.2"/>
<rect x="932.86" y="1787.95" width="10.56" height="41.45" fill="#f1eff7" stroke="#2e2a2e" stroke-width="1.2"/>
<rect x="943.42" y="1787.95" width="10.56" height="41.45" fill="#f1eff7" stroke="#2e2a2e" stroke-width="1.2"/>
<rect x="953.99" y="1787.95" width="10.56" height="41.45" fill="#4d2b85" stroke="#2e2a2e" stroke-width="1.2"/>
<rect x="964.55" y="1787.95" width="10.56" height="41.45" fill="#dbdaec" stroke="#2e2a2e" stroke-width="1.2"/>
<rect x="975.12" y="1787.95" width="10.56" height="41.45" fill="#f1eff7" stroke="#2e2a2e" stroke-width="1.2"/>
<rect x="985.68" y="1787.95" width="10.56" height="41.45" fill="#dbdaec" stroke="#2e2a2e" stroke-width="1.2"/>
<rect x="996.24" y="1787.95" width="10.56" height="41.45" fill="#aca8d3" stroke="#2e2a2e" stroke-width="1.2"/>
<rect x="1006.81" y="1787.95" width="10.56" height="41.45" fill="#c8c6e2" stroke="#2e2a2e" stroke-width="1.2"/>
<rect x="1017.37" y="1787.95" width="10.56" height="41.45" fill="#4d2b85" stroke="#2e2a2e" stroke-width="1.2"/>
<rect x="1027.94" y="1787.95" width="10.56" height="41.45" fill="#aca8d3" stroke="#2e2a2e" stroke-width="1.2"/>
<rect x="774.40" y="1829.40" width="10.56" height="41.45" fill="#4d2b85" stroke="#2e2a2e" stroke-width="1.2"/>
<rect x="784.96" y="1829.40" width="10.56" height="41.45" fill="#4d2b85" stroke="#2e2a2e" stroke-width="1.2"/>
<rect x="795.53" y="1829.40" width="10.56" height="41.45" fill="#f1eff7" stroke="#2e2a2e" stroke-width="1.2"/>
<rect x="806.09" y="1829.40" width="10.56" height="41.45" fill="#f1eff7" stroke="#2e2a2e" stroke-width="1.2"/>
<rect x="816.66" y="1829.40" width="10.56" height="41.45" fill="#f1eff7" stroke="#2e2a2e" stroke-width="1.2"/>
<rect x="827.22" y="1829.40" width="10.56" height="41.45" fill="#f1eff7" stroke="#2e2a2e" stroke-width="1.2"/>
<rect x="837.78" y="1829.40" width="10.56" height="41.45" fill="#8e88c1" stroke="#2e2a2e" stroke-width="1.2"/>
<rect x="848.35" y="1829.40" width="10.56" height="41.45" fill="#8e88c1" stroke="#2e2a2e" stroke-width="1.2"/>
<rect x="858.91" y="1829.40" width="10.56" height="41.45" fill="#c8c6e2" stroke="#2e2a2e" stroke-width="1.2"/>
<rect x="869.48" y="1829.40" width="10.56" height="41.45" fill="#aca8d3" stroke="#2e2a2e" stroke-width="1.2"/>
<rect x="880.04" y="1829.40" width="10.56" height="41.45" fill="#dbdaec" stroke="#2e2a2e" stroke-width="1.2"/>
<rect x="890.60" y="1829.40" width="10.56" height="41.45" fill="#f1eff7" stroke="#2e2a2e" stroke-width="1.2"/>
<rect x="901.17" y="1829.40" width="10.56" height="41.45" fill="#f1eff7" stroke="#2e2a2e" stroke-width="1.2"/>
<rect x="911.73" y="1829.40" width="10.56" height="41.45" fill="#c8c6e2" stroke="#2e2a2e" stroke-width="1.2"/>
<rect x="922.30" y="1829.40" width="10.56" height="41.45" fill="#c8c6e2" stroke="#2e2a2e" stroke-width="1.2"/>
<rect x="932.86" y="1829.40" width="10.56" height="41.45" fill="#dbdaec" stroke="#2e2a2e" stroke-width="1.2"/>
<rect x="943.42" y="1829.40" width="10.56" height="41.45" fill="#dbdaec" stroke="#2e2a2e" stroke-width="1.2"/>
<rect x="953.99" y="1829.40" width="10.56" height="41.45" fill="#dbdaec" stroke="#2e2a2e" stroke-width="1.2"/>
<rect x="964.55" y="1829.40" width="10.56" height="41.45" fill="#f1eff7" stroke="#2e2a2e" stroke-width="1.2"/>
<rect x="975.12" y="1829.40" width="10.56" height="41.45" fill="#f1eff7" stroke="#2e2a2e" stroke-width="1.2"/>
<rect x="985.68" y="1829.40" width="10.56" height="41.45" fill="#f1eff7" stroke="#2e2a2e" stroke-width="1.2"/>
<rect x="996.24" y="1829.40" width="10.56" height="41.45" fill="#f1eff7" stroke="#2e2a2e" stroke-width="1.2"/>
<rect x="1006.81" y="1829.40" width="10.56" height="41.45" fill="#dbdaec" stroke="#2e2a2e" stroke-width="1.2"/>
<rect x="1017.37" y="1829.40" width="10.56" height="41.45" fill="#f1eff7" stroke="#2e2a2e" stroke-width="1.2"/>
<rect x="1027.94" y="1829.40" width="10.56" height="41.45" fill="#f1eff7" stroke="#2e2a2e" stroke-width="1.2"/>
<rect x="774.40" y="1870.85" width="10.56" height="41.45" fill="#f1eff7" stroke="#2e2a2e" stroke-width="1.2"/>
<rect x="784.96" y="1870.85" width="10.56" height="41.45" fill="#c8c6e2" stroke="#2e2a2e" stroke-width="1.2"/>
<rect x="795.53" y="1870.85" width="10.56" height="41.45" fill="#f1eff7" stroke="#2e2a2e" stroke-width="1.2"/>
<rect x="806.09" y="1870.85" width="10.56" height="41.45" fill="#aca8d3" stroke="#2e2a2e" stroke-width="1.2"/>
<rect x="816.66" y="1870.85" width="10.56" height="41.45" fill="#aca8d3" stroke="#2e2a2e" stroke-width="1.2"/>
<rect x="827.22" y="1870.85" width="10.56" height="41.45" fill="#8e88c1" stroke="#2e2a2e" stroke-width="1.2"/>
<rect x="837.78" y="1870.85" width="10.56" height="41.45" fill="#c8c6e2" stroke="#2e2a2e" stroke-width="1.2"/>
<rect x="848.35" y="1870.85" width="10.56" height="41.45" fill="#aca8d3" stroke="#2e2a2e" stroke-width="1.2"/>
<rect x="858.91" y="1870.85" width="10.56" height="41.45" fill="#6c55a6" stroke="#2e2a2e" stroke-width="1.2"/>
<rect x="869.48" y="1870.85" width="10.56" height="41.45" fill="#6c55a6" stroke="#2e2a2e" stroke-width="1.2"/>
<rect x="880.04" y="1870.85" width="10.56" height="41.45" fill="#8e88c1" stroke="#2e2a2e" stroke-width="1.2"/>
<rect x="890.60" y="1870.85" width="10.56" height="41.45" fill="#6c55a6" stroke="#2e2a2e" stroke-width="1.2"/>
<rect x="901.17" y="1870.85" width="10.56" height="41.45" fill="#8e88c1" stroke="#2e2a2e" stroke-width="1.2"/>
<rect x="911.73" y="1870.85" width="10.56" height="41.45" fill="#8e88c1" stroke="#2e2a2e" stroke-width="1.2"/>
<rect x="922.30" y="1870.85" width="10.56" height="41.45" fill="#8e88c1" stroke="#2e2a2e" stroke-width="1.2"/>
<rect x="932.86" y="1870.85" width="10.56" height="41.45" fill="#8e88c1" stroke="#2e2a2e" stroke-width="1.2"/>
<rect x="943.42" y="1870.85" width="10.56" height="41.45" fill="#aca8d3" stroke="#2e2a2e" stroke-width="1.2"/>
<rect x="953.99" y="1870.85" width="10.56" height="41.45" fill="#f1eff7" stroke="#2e2a2e" stroke-width="1.2"/>
<rect x="964.55" y="1870.85" width="10.56" height="41.45" fill="#c8c6e2" stroke="#2e2a2e" stroke-width="1.2"/>
<rect x="975.12" y="1870.85" width="10.56" height="41.45" fill="#f1eff7" stroke="#2e2a2e" stroke-width="1.2"/>
<rect x="985.68" y="1870.85" width="10.56" height="41.45" fill="#aca8d3" stroke="#2e2a2e" stroke-width="1.2"/>
<rect x="996.24" y="1870.85" width="10.56" height="41.45" fill="#4d2b85" stroke="#2e2a2e" stroke-width="1.2"/>
<rect x="1006.81" y="1870.85" width="10.56" height="41.45" fill="#6c55a6" stroke="#2e2a2e" stroke-width="1.2"/>
<rect x="1017.37" y="1870.85" width="10.56" height="41.45" fill="#aca8d3" stroke="#2e2a2e" stroke-width="1.2"/>
<rect x="1027.94" y="1870.85" width="10.56" height="41.45" fill="#aca8d3" stroke="#2e2a2e" stroke-width="1.2"/>
<text x="857.7" y="1481.5" font-size="21.5" textLength="97.3" lengthAdjust="spacingAndGlyphs">OPC/NPC</text>
<rect x="1046.40" y="1493.40" width="161.10" height="423.30" fill="#ffffff" stroke="#3a3a3a" stroke-width="1.4"/>
<rect x="1047.40" y="1497.80" width="10.61" height="41.45" fill="#f1eff7" stroke="#2e2a2e" stroke-width="1.2"/>
<rect x="1058.01" y="1497.80" width="10.61" height="41.45" fill="#f1eff7" stroke="#2e2a2e" stroke-width="1.2"/>
<rect x="1068.61" y="1497.80" width="10.61" height="41.45" fill="#f1eff7" stroke="#2e2a2e" stroke-width="1.2"/>
<rect x="1079.22" y="1497.80" width="10.61" height="41.45" fill="#f1eff7" stroke="#2e2a2e" stroke-width="1.2"/>
<rect x="1089.83" y="1497.80" width="10.61" height="41.45" fill="#f1eff7" stroke="#2e2a2e" stroke-width="1.2"/>
<rect x="1100.43" y="1497.80" width="10.61" height="41.45" fill="#dbdaec" stroke="#2e2a2e" stroke-width="1.2"/>
<rect x="1111.04" y="1497.80" width="10.61" height="41.45" fill="#f1eff7" stroke="#2e2a2e" stroke-width="1.2"/>
<rect x="1121.65" y="1497.80" width="10.61" height="41.45" fill="#f1eff7" stroke="#2e2a2e" stroke-width="1.2"/>
<rect x="1132.25" y="1497.80" width="10.61" height="41.45" fill="#f1eff7" stroke="#2e2a2e" stroke-width="1.2"/>
<rect x="1142.86" y="1497.80" width="10.61" height="41.45" fill="#f1eff7" stroke="#2e2a2e" stroke-width="1.2"/>
<rect x="1153.47" y="1497.80" width="10.61" height="41.45" fill="#f1eff7" stroke="#2e2a2e" stroke-width="1.2"/>
<rect x="1164.07" y="1497.80" width="10.61" height="41.45" fill="#f1eff7" stroke="#2e2a2e" stroke-width="1.2"/>
<rect x="1174.68" y="1497.80" width="10.61" height="41.45" fill="#f1eff7" stroke="#2e2a2e" stroke-width="1.2"/>
<rect x="1185.29" y="1497.80" width="10.61" height="41.45" fill="#f1eff7" stroke="#2e2a2e" stroke-width="1.2"/>
<rect x="1195.89" y="1497.80" width="10.61" height="41.45" fill="#f1eff7" stroke="#2e2a2e" stroke-width="1.2"/>
<rect x="1047.40" y="1539.25" width="10.61" height="41.45" fill="#f1eff7" stroke="#2e2a2e" stroke-width="1.2"/>
<rect x="1058.01" y="1539.25" width="10.61" height="41.45" fill="#f1eff7" stroke="#2e2a2e" stroke-width="1.2"/>
<rect x="1068.61" y="1539.25" width="10.61" height="41.45" fill="#dbdaec" stroke="#2e2a2e" stroke-width="1.2"/>
<rect x="1079.22" y="1539.25" width="10.61" height="41.45" fill="#f1eff7" stroke="#2e2a2e" stroke-width="1.2"/>
<rect x="1089.83" y="1539.25" width="10.61" height="41.45" fill="#4d2b85" stroke="#2e2a2e" stroke-width="1.2"/>
<rect x="1100.43" y="1539.25" width="10.61" height="41.45" fill="#6c55a6" stroke="#2e2a2e" stroke-width="1.2"/>
<rect x="1111.04" y="1539.25" width="10.61" height="41.45" fill="#f1eff7" stroke="#2e2a2e" stroke-width="1.2"/>
<rect x="1121.65" y="1539.25" width="10.61" height="41.45" fill="#f1eff7" stroke="#2e2a2e" stroke-width="1.2"/>
<rect x="1132.25" y="1539.25" width="10.61" height="41.45" fill="#f1eff7" stroke="#2e2a2e" stroke-width="1.2"/>
<rect x="1142.86" y="1539.25" width="10.61" height="41.45" fill="#f1eff7" stroke="#2e2a2e" stroke-width="1.2"/>
<rect x="1153.47" y="1539.25" width="10.61" height="41.45" fill="#f1eff7" stroke="#2e2a2e" stroke-width="1.2"/>
<rect x="1164.07" y="1539.25" width="10.61" height="41.45" fill="#f1eff7" stroke="#2e2a2e" stroke-width="1.2"/>
<rect x="1174.68" y="1539.25" width="10.61" height="41.45" fill="#aca8d3" stroke="#2e2a2e" stroke-width="1.2"/>
<rect x="1185.29" y="1539.25" width="10.61" height="41.45" fill="#dbdaec" stroke="#2e2a2e" stroke-width="1.2"/>
<rect x="1195.89" y="1539.25" width="10.61" height="41.45" fill="#dbdaec" stroke="#2e2a2e" stroke-width="1.2"/>
<rect x="1047.40" y="1580.70" width="10.61" height="41.45" fill="#f1eff7" stroke="#2e2a2e" stroke-width="1.2"/>
<rect x="1058.01" y="1580.70" width="10.61" height="41.45" fill="#f1eff7" stroke="#2e2a2e" stroke-width="1.2"/>
<rect x="1068.61" y="1580.70" width="10.61" height="41.45" fill="#f1eff7" stroke="#2e2a2e" stroke-width="1.2"/>
<rect x="1079.22" y="1580.70" width="10.61" height="41.45" fill="#f1eff7" stroke="#2e2a2e" stroke-width="1.2"/>
<rect x="1089.83" y="1580.70" width="10.61" height="41.45" fill="#f1eff7" stroke="#2e2a2e" stroke-width="1.2"/>
<rect x="1100.43" y="1580.70" width="10.61" height="41.45" fill="#aca8d3" stroke="#2e2a2e" stroke-width="1.2"/>
<rect x="1111.04" y="1580.70" width="10.61" height="41.45" fill="#dbdaec" stroke="#2e2a2e" stroke-width="1.2"/>
<rect x="1121.65" y="1580.70" width="10.61" height="41.45" fill="#aca8d3" stroke="#2e2a2e" stroke-width="1.2"/>
<rect x="1132.25" y="1580.70" width="10.61" height="41.45" fill="#f1eff7" stroke="#2e2a2e" stroke-width="1.2"/>
<rect x="1142.86" y="1580.70" width="10.61" height="41.45" fill="#f1eff7" stroke="#2e2a2e" stroke-width="1.2"/>
<rect x="1153.47" y="1580.70" width="10.61" height="41.45" fill="#f1eff7" stroke="#2e2a2e" stroke-width="1.2"/>
<rect x="1164.07" y="1580.70" width="10.61" height="41.45" fill="#f1eff7" stroke="#2e2a2e" stroke-width="1.2"/>
<rect x="1174.68" y="1580.70" width="10.61" height="41.45" fill="#f1eff7" stroke="#2e2a2e" stroke-width="1.2"/>
<rect x="1185.29" y="1580.70" width="10.61" height="41.45" fill="#f1eff7" stroke="#2e2a2e" stroke-width="1.2"/>
<rect x="1195.89" y="1580.70" width="10.61" height="41.45" fill="#f1eff7" stroke="#2e2a2e" stroke-width="1.2"/>
<rect x="1047.40" y="1622.15" width="10.61" height="41.45" fill="#f1eff7" stroke="#2e2a2e" stroke-width="1.2"/>
<rect x="1058.01" y="1622.15" width="10.61" height="41.45" fill="#f1eff7" stroke="#2e2a2e" stroke-width="1.2"/>
<rect x="1068.61" y="1622.15" width="10.61" height="41.45" fill="#f1eff7" stroke="#2e2a2e" stroke-width="1.2"/>
<rect x="1079.22" y="1622.15" width="10.61" height="41.45" fill="#f1eff7" stroke="#2e2a2e" stroke-width="1.2"/>
<rect x="1089.83" y="1622.15" width="10.61" height="41.45" fill="#f1eff7" stroke="#2e2a2e" stroke-width="1.2"/>
<rect x="1100.43" y="1622.15" width="10.61" height="41.45" fill="#dbdaec" stroke="#2e2a2e" stroke-width="1.2"/>
<rect x="1111.04" y="1622.15" width="10.61" height="41.45" fill="#f1eff7" stroke="#2e2a2e" stroke-width="1.2"/>
<rect x="1121.65" y="1622.15" width="10.61" height="41.45" fill="#f1eff7" stroke="#2e2a2e" stroke-width="1.2"/>
<rect x="1132.25" y="1622.15" width="10.61" height="41.45" fill="#f1eff7" stroke="#2e2a2e" stroke-width="1.2"/>
<rect x="1142.86" y="1622.15" width="10.61" height="41.45" fill="#f1eff7" stroke="#2e2a2e" stroke-width="1.2"/>
<rect x="1153.47" y="1622.15" width="10.61" height="41.45" fill="#f1eff7" stroke="#2e2a2e" stroke-width="1.2"/>
<rect x="1164.07" y="1622.15" width="10.61" height="41.45" fill="#c8c6e2" stroke="#2e2a2e" stroke-width="1.2"/>
<rect x="1174.68" y="1622.15" width="10.61" height="41.45" fill="#f1eff7" stroke="#2e2a2e" stroke-width="1.2"/>
<rect x="1185.29" y="1622.15" width="10.61" height="41.45" fill="#f1eff7" stroke="#2e2a2e" stroke-width="1.2"/>
<rect x="1195.89" y="1622.15" width="10.61" height="41.45" fill="#f1eff7" stroke="#2e2a2e" stroke-width="1.2"/>
<rect x="1047.40" y="1663.60" width="10.61" height="41.45" fill="#f1eff7" stroke="#2e2a2e" stroke-width="1.2"/>
<rect x="1058.01" y="1663.60" width="10.61" height="41.45" fill="#dbdaec" stroke="#2e2a2e" stroke-width="1.2"/>
<rect x="1068.61" y="1663.60" width="10.61" height="41.45" fill="#c8c6e2" stroke="#2e2a2e" stroke-width="1.2"/>
<rect x="1079.22" y="1663.60" width="10.61" height="41.45" fill="#dbdaec" stroke="#2e2a2e" stroke-width="1.2"/>
<rect x="1089.83" y="1663.60" width="10.61" height="41.45" fill="#f1eff7" stroke="#2e2a2e" stroke-width="1.2"/>
<rect x="1100.43" y="1663.60" width="10.61" height="41.45" fill="#f1eff7" stroke="#2e2a2e" stroke-width="1.2"/>
<rect x="1111.04" y="1663.60" width="10.61" height="41.45" fill="#c8c6e2" stroke="#2e2a2e" stroke-width="1.2"/>
<rect x="1121.65" y="1663.60" width="10.61" height="41.45" fill="#aca8d3" stroke="#2e2a2e" stroke-width="1.2"/>
<rect x="1132.25" y="1663.60" width="10.61" height="41.45" fill="#f1eff7" stroke="#2e2a2e" stroke-width="1.2"/>
<rect x="1142.86" y="1663.60" width="10.61" height="41.45" fill="#f1eff7" stroke="#2e2a2e" stroke-width="1.2"/>
<rect x="1153.47" y="1663.60" width="10.61" height="41.45" fill="#f1eff7" stroke="#2e2a2e" stroke-width="1.2"/>
<rect x="1164.07" y="1663.60" width="10.61" height="41.45" fill="#dbdaec" stroke="#2e2a2e" stroke-width="1.2"/>
<rect x="1174.68" y="1663.60" width="10.61" height="41.45" fill="#f1eff7" stroke="#2e2a2e" stroke-width="1.2"/>
<rect x="1185.29" y="1663.60" width="10.61" height="41.45" fill="#f1eff7" stroke="#2e2a2e" stroke-width="1.2"/>
<rect x="1195.89" y="1663.60" width="10.61" height="41.45" fill="#f1eff7" stroke="#2e2a2e" stroke-width="1.2"/>
<rect x="1047.40" y="1705.05" width="10.61" height="41.45" fill="#f1eff7" stroke="#2e2a2e" stroke-width="1.2"/>
<rect x="1058.01" y="1705.05" width="10.61" height="41.45" fill="#f1eff7" stroke="#2e2a2e" stroke-width="1.2"/>
<rect x="1068.61" y="1705.05" width="10.61" height="41.45" fill="#f1eff7" stroke="#2e2a2e" stroke-width="1.2"/>
<rect x="1079.22" y="1705.05" width="10.61" height="41.45" fill="#f1eff7" stroke="#2e2a2e" stroke-width="1.2"/>
<rect x="1089.83" y="1705.05" width="10.61" height="41.45" fill="#f1eff7" stroke="#2e2a2e" stroke-width="1.2"/>
<rect x="1100.43" y="1705.05" width="10.61" height="41.45" fill="#f1eff7" stroke="#2e2a2e" stroke-width="1.2"/>
<rect x="1111.04" y="1705.05" width="10.61" height="41.45" fill="#f1eff7" stroke="#2e2a2e" stroke-width="1.2"/>
<rect x="1121.65" y="1705.05" width="10.61" height="41.45" fill="#f1eff7" stroke="#2e2a2e" stroke-width="1.2"/>
<rect x="1132.25" y="1705.05" width="10.61" height="41.45" fill="#f1eff7" stroke="#2e2a2e" stroke-width="1.2"/>
<rect x="1142.86" y="1705.05" width="10.61" height="41.45" fill="#f1eff7" stroke="#2e2a2e" stroke-width="1.2"/>
<rect x="1153.47" y="1705.05" width="10.61" height="41.45" fill="#f1eff7" stroke="#2e2a2e" stroke-width="1.2"/>
<rect x="1164.07" y="1705.05" width="10.61" height="41.45" fill="#f1eff7" stroke="#2e2a2e" stroke-width="1.2"/>
<rect x="1174.68" y="1705.05" width="10.61" height="41.45" fill="#f1eff7" stroke="#2e2a2e" stroke-width="1.2"/>
<rect x="1185.29" y="1705.05" width="10.61" height="41.45" fill="#dbdaec" stroke="#2e2a2e" stroke-width="1.2"/>
<rect x="1195.89" y="1705.05" width="10.61" height="41.45" fill="#f1eff7" stroke="#2e2a2e" stroke-width="1.2"/>
<rect x="1047.40" y="1746.50" width="10.61" height="41.45" fill="#4d2b85" stroke="#2e2a2e" stroke-width="1.2"/>
<rect x="1058.01" y="1746.50" width="10.61" height="41.45" fill="#f1eff7" stroke="#2e2a2e" stroke-width="1.2"/>
<rect x="1068.61" y="1746.50" width="10.61" height="41.45" fill="#f1eff7" stroke="#2e2a2e" stroke-width="1.2"/>
<rect x="1079.22" y="1746.50" width="10.61" height="41.45" fill="#f1eff7" stroke="#2e2a2e" stroke-width="1.2"/>
<rect x="1089.83" y="1746.50" width="10.61" height="41.45" fill="#f1eff7" stroke="#2e2a2e" stroke-width="1.2"/>
<rect x="1100.43" y="1746.50" width="10.61" height="41.45" fill="#f1eff7" stroke="#2e2a2e" stroke-width="1.2"/>
<rect x="1111.04" y="1746.50" width="10.61" height="41.45" fill="#f1eff7" stroke="#2e2a2e" stroke-width="1.2"/>
<rect x="1121.65" y="1746.50" width="10.61" height="41.45" fill="#f1eff7" stroke="#2e2a2e" stroke-width="1.2"/>
<rect x="1132.25" y="1746.50" width="10.61" height="41.45" fill="#f1eff7" stroke="#2e2a2e" stroke-width="1.2"/>
<rect x="1142.86" y="1746.50" width="10.61" height="41.45" fill="#f1eff7" stroke="#2e2a2e" stroke-width="1.2"/>
<rect x="1153.47" y="1746.50" width="10.61" height="41.45" fill="#f1eff7" stroke="#2e2a2e" stroke-width="1.2"/>
<rect x="1164.07" y="1746.50" width="10.61" height="41.45" fill="#f1eff7" stroke="#2e2a2e" stroke-width="1.2"/>
<rect x="1174.68" y="1746.50" width="10.61" height="41.45" fill="#c8c6e2" stroke="#2e2a2e" stroke-width="1.2"/>
<rect x="1185.29" y="1746.50" width="10.61" height="41.45" fill="#dbdaec" stroke="#2e2a2e" stroke-width="1.2"/>
<rect x="1195.89" y="1746.50" width="10.61" height="41.45" fill="#dbdaec" stroke="#2e2a2e" stroke-width="1.2"/>
<rect x="1047.40" y="1787.95" width="10.61" height="41.45" fill="#f1eff7" stroke="#2e2a2e" stroke-width="1.2"/>
<rect x="1058.01" y="1787.95" width="10.61" height="41.45" fill="#4d2b85" stroke="#2e2a2e" stroke-width="1.2"/>
<rect x="1068.61" y="1787.95" width="10.61" height="41.45" fill="#6c55a6" stroke="#2e2a2e" stroke-width="1.2"/>
<rect x="1079.22" y="1787.95" width="10.61" height="41.45" fill="#4d2b85" stroke="#2e2a2e" stroke-width="1.2"/>
<rect x="1089.83" y="1787.95" width="10.61" height="41.45" fill="#f1eff7" stroke="#2e2a2e" stroke-width="1.2"/>
<rect x="1100.43" y="1787.95" width="10.61" height="41.45" fill="#f1eff7" stroke="#2e2a2e" stroke-width="1.2"/>
<rect x="1111.04" y="1787.95" width="10.61" height="41.45" fill="#dbdaec" stroke="#2e2a2e" stroke-width="1.2"/>
<rect x="1121.65" y="1787.95" width="10.61" height="41.45" fill="#f1eff7" stroke="#2e2a2e" stroke-width="1.2"/>
<rect x="1132.25" y="1787.95" width="10.61" height="41.45" fill="#f1eff7" stroke="#2e2a2e" stroke-width="1.2"/>
<rect x="1142.86" y="1787.95" width="10.61" height="41.45" fill="#f1eff7" stroke="#2e2a2e" stroke-width="1.2"/>
<rect x="1153.47" y="1787.95" width="10.61" height="41.45" fill="#dbdaec" stroke="#2e2a2e" stroke-width="1.2"/>
<rect x="1164.07" y="1787.95" width="10.61" height="41.45" fill="#f1eff7" stroke="#2e2a2e" stroke-width="1.2"/>
<rect x="1174.68" y="1787.95" width="10.61" height="41.45" fill="#f1eff7" stroke="#2e2a2e" stroke-width="1.2"/>
<rect x="1185.29" y="1787.95" width="10.61" height="41.45" fill="#f1eff7" stroke="#2e2a2e" stroke-width="1.2"/>
<rect x="1195.89" y="1787.95" width="10.61" height="41.45" fill="#f1eff7" stroke="#2e2a2e" stroke-width="1.2"/>
<rect x="1047.40" y="1829.40" width="10.61" height="41.45" fill="#4d2b85" stroke="#2e2a2e" stroke-width="1.2"/>
<rect x="1058.01" y="1829.40" width="10.61" height="41.45" fill="#4d2b85" stroke="#2e2a2e" stroke-width="1.2"/>
<rect x="1068.61" y="1829.40" width="10.61" height="41.45" fill="#4d2b85" stroke="#2e2a2e" stroke-width="1.2"/>
<rect x="1079.22" y="1829.40" width="10.61" height="41.45" fill="#4d2b85" stroke="#2e2a2e" stroke-width="1.2"/>
<rect x="1089.83" y="1829.40" width="10.61" height="41.45" fill="#4d2b85" stroke="#2e2a2e" stroke-width="1.2"/>
<rect x="1100.43" y="1829.40" width="10.61" height="41.45" fill="#4d2b85" stroke="#2e2a2e" stroke-width="1.2"/>
<rect x="1111.04" y="1829.40" width="10.61" height="41.45" fill="#4d2b85" stroke="#2e2a2e" stroke-width="1.2"/>
<rect x="1121.65" y="1829.40" width="10.61" height="41.45" fill="#4d2b85" stroke="#2e2a2e" stroke-width="1.2"/>
<rect x="1132.25" y="1829.40" width="10.61" height="41.45" fill="#4d2b85" stroke="#2e2a2e" stroke-width="1.2"/>
<rect x="1142.86" y="1829.40" width="10.61" height="41.45" fill="#4d2b85" stroke="#2e2a2e" stroke-width="1.2"/>
<rect x="1153.47" y="1829.40" width="10.61" height="41.45" fill="#4d2b85" stroke="#2e2a2e" stroke-width="1.2"/>
<rect x="1164.07" y="1829.40" width="10.61" height="41.45" fill="#4d2b85" stroke="#2e2a2e" stroke-width="1.2"/>
<rect x="1174.68" y="1829.40" width="10.61" height="41.45" fill="#4d2b85" stroke="#2e2a2e" stroke-width="1.2"/>
<rect x="1185.29" y="1829.40" width="10.61" height="41.45" fill="#4d2b85" stroke="#2e2a2e" stroke-width="1.2"/>
<rect x="1195.89" y="1829.40" width="10.61" height="41.45" fill="#4d2b85" stroke="#2e2a2e" stroke-width="1.2"/>
<rect x="1047.40" y="1870.85" width="10.61" height="41.45" fill="#f1eff7" stroke="#2e2a2e" stroke-width="1.2"/>
<rect x="1058.01" y="1870.85" width="10.61" height="41.45" fill="#8e88c1" stroke="#2e2a2e" stroke-width="1.2"/>
<rect x="1068.61" y="1870.85" width="10.61" height="41.45" fill="#4d2b85" stroke="#2e2a2e" stroke-width="1.2"/>
<rect x="1079.22" y="1870.85" width="10.61" height="41.45" fill="#4d2b85" stroke="#2e2a2e" stroke-width="1.2"/>
<rect x="1089.83" y="1870.85" width="10.61" height="41.45" fill="#f1eff7" stroke="#2e2a2e" stroke-width="1.2"/>
<rect x="1100.43" y="1870.85" width="10.61" height="41.45" fill="#f1eff7" stroke="#2e2a2e" stroke-width="1.2"/>
<rect x="1111.04" y="1870.85" width="10.61" height="41.45" fill="#dbdaec" stroke="#2e2a2e" stroke-width="1.2"/>
<rect x="1121.65" y="1870.85" width="10.61" height="41.45" fill="#c8c6e2" stroke="#2e2a2e" stroke-width="1.2"/>
<rect x="1132.25" y="1870.85" width="10.61" height="41.45" fill="#f1eff7" stroke="#2e2a2e" stroke-width="1.2"/>
<rect x="1142.86" y="1870.85" width="10.61" height="41.45" fill="#f1eff7" stroke="#2e2a2e" stroke-width="1.2"/>
<rect x="1153.47" y="1870.85" width="10.61" height="41.45" fill="#aca8d3" stroke="#2e2a2e" stroke-width="1.2"/>
<rect x="1164.07" y="1870.85" width="10.61" height="41.45" fill="#dbdaec" stroke="#2e2a2e" stroke-width="1.2"/>
<rect x="1174.68" y="1870.85" width="10.61" height="41.45" fill="#f1eff7" stroke="#2e2a2e" stroke-width="1.2"/>
<rect x="1185.29" y="1870.85" width="10.61" height="41.45" fill="#c8c6e2" stroke="#2e2a2e" stroke-width="1.2"/>
<rect x="1195.89" y="1870.85" width="10.61" height="41.45" fill="#f1eff7" stroke="#2e2a2e" stroke-width="1.2"/>
<text x="1106.9" y="1481.5" font-size="21.5" textLength="39.8" lengthAdjust="spacingAndGlyphs">NEU</text>
<rect x="1214.50" y="1493.40" width="192.20" height="423.30" fill="#ffffff" stroke="#3a3a3a" stroke-width="1.4"/>
<rect x="1215.50" y="1497.80" width="10.57" height="41.45" fill="#dbdaec" stroke="#2e2a2e" stroke-width="1.2"/>
<rect x="1226.07" y="1497.80" width="10.57" height="41.45" fill="#dbdaec" stroke="#2e2a2e" stroke-width="1.2"/>
<rect x="1236.63" y="1497.80" width="10.57" height="41.45" fill="#f1eff7" stroke="#2e2a2e" stroke-width="1.2"/>
<rect x="1247.20" y="1497.80" width="10.57" height="41.45" fill="#f1eff7" stroke="#2e2a2e" stroke-width="1.2"/>
<rect x="1257.77" y="1497.80" width="10.57" height="41.45" fill="#f1eff7" stroke="#2e2a2e" stroke-width="1.2"/>
<rect x="1268.33" y="1497.80" width="10.57" height="41.45" fill="#f1eff7" stroke="#2e2a2e" stroke-width="1.2"/>
<rect x="1278.90" y="1497.80" width="10.57" height="41.45" fill="#f1eff7" stroke="#2e2a2e" stroke-width="1.2"/>
<rect x="1289.47" y="1497.80" width="10.57" height="41.45" fill="#f1eff7" stroke="#2e2a2e" stroke-width="1.2"/>
<rect x="1300.03" y="1497.80" width="10.57" height="41.45" fill="#f1eff7" stroke="#2e2a2e" stroke-width="1.2"/>
<rect x="1310.60" y="1497.80" width="10.57" height="41.45" fill="#f1eff7" stroke="#2e2a2e" stroke-width="1.2"/>
<rect x="1321.17" y="1497.80" width="10.57" height="41.45" fill="#f1eff7" stroke="#2e2a2e" stroke-width="1.2"/>
<rect x="1331.73" y="1497.80" width="10.57" height="41.45" fill="#c8c6e2" stroke="#2e2a2e" stroke-width="1.2"/>
<rect x="1342.30" y="1497.80" width="10.57" height="41.45" fill="#f1eff7" stroke="#2e2a2e" stroke-width="1.2"/>
<rect x="1352.87" y="1497.80" width="10.57" height="41.45" fill="#f1eff7" stroke="#2e2a2e" stroke-width="1.2"/>
<rect x="1363.43" y="1497.80" width="10.57" height="41.45" fill="#f1eff7" stroke="#2e2a2e" stroke-width="1.2"/>
<rect x="1374.00" y="1497.80" width="10.57" height="41.45" fill="#f1eff7" stroke="#2e2a2e" stroke-width="1.2"/>
<rect x="1384.57" y="1497.80" width="10.57" height="41.45" fill="#f1eff7" stroke="#2e2a2e" stroke-width="1.2"/>
<rect x="1395.13" y="1497.80" width="10.57" height="41.45" fill="#f1eff7" stroke="#2e2a2e" stroke-width="1.2"/>
<rect x="1215.50" y="1539.25" width="10.57" height="41.45" fill="#f1eff7" stroke="#2e2a2e" stroke-width="1.2"/>
<rect x="1226.07" y="1539.25" width="10.57" height="41.45" fill="#f1eff7" stroke="#2e2a2e" stroke-width="1.2"/>
<rect x="1236.63" y="1539.25" width="10.57" height="41.45" fill="#6c55a6" stroke="#2e2a2e" stroke-width="1.2"/>
<rect x="1247.20" y="1539.25" width="10.57" height="41.45" fill="#8e88c1" stroke="#2e2a2e" stroke-width="1.2"/>
<rect x="1257.77" y="1539.25" width="10.57" height="41.45" fill="#c8c6e2" stroke="#2e2a2e" stroke-width="1.2"/>
<rect x="1268.33" y="1539.25" width="10.57" height="41.45" fill="#aca8d3" stroke="#2e2a2e" stroke-width="1.2"/>
<rect x="1278.90" y="1539.25" width="10.57" height="41.45" fill="#8e88c1" stroke="#2e2a2e" stroke-width="1.2"/>
<rect x="1289.47" y="1539.25" width="10.57" height="41.45" fill="#8e88c1" stroke="#2e2a2e" stroke-width="1.2"/>
<rect x="1300.03" y="1539.25" width="10.57" height="41.45" fill="#6c55a6" stroke="#2e2a2e" stroke-width="1.2"/>
<rect x="1310.60" y="1539.25" width="10.57" height="41.45" fill="#6c55a6" stroke="#2e2a2e" stroke-width="1.2"/>
<rect x="1321.17" y="1539.25" width="10.57" height="41.45" fill="#c8c6e2" stroke="#2e2a2e" stroke-width="1.2"/>
<rect x="1331.73" y="1539.25" width="10.57" height="41.45" fill="#8e88c1" stroke="#2e2a2e" stroke-width="1.2"/>
<rect x="1342.30" y="1539.25" width="10.57" height="41.45" fill="#6c55a6" stroke="#2e2a2e" stroke-width="1.2"/>
<rect x="1352.87" y="1539.25" width="10.57" height="41.45" fill="#aca8d3" stroke="#2e2a2e" stroke-width="1.2"/>
<rect x="1363.43" y="1539.25" width="10.57" height="41.45" fill="#aca8d3" stroke="#2e2a2e" stroke-width="1.2"/>
<rect x="1374.00" y="1539.25" width="10.57" height="41.45" fill="#aca8d3" stroke="#2e2a2e" stroke-width="1.2"/>
<rect x="1384.57" y="1539.25" width="10.57" height="41.45" fill="#6c55a6" stroke="#2e2a2e" stroke-width="1.2"/>
<rect x="1395.13" y="1539.25" width="10.57" height="41.45" fill="#6c55a6" stroke="#2e2a2e" stroke-width="1.2"/>
<rect x="1215.50" y="1580.70" width="10.57" height="41.45" fill="#dbdaec" stroke="#2e2a2e" stroke-width="1.2"/>
<rect x="1226.07" y="1580.70" width="10.57" height="41.45" fill="#dbdaec" stroke="#2e2a2e" stroke-width="1.2"/>
<rect x="1236.63" y="1580.70" width="10.57" height="41.45" fill="#dbdaec" stroke="#2e2a2e" stroke-width="1.2"/>
<rect x="1247.20" y="1580.70" width="10.57" height="41.45" fill="#dbdaec" stroke="#2e2a2e" stroke-width="1.2"/>
<rect x="1257.77" y="1580.70" width="10.57" height="41.45" fill="#6c55a6" stroke="#2e2a2e" stroke-width="1.2"/>
<rect x="1268.33" y="1580.70" width="10.57" height="41.45" fill="#c8c6e2" stroke="#2e2a2e" stroke-width="1.2"/>
<rect x="1278.90" y="1580.70" width="10.57" height="41.45" fill="#dbdaec" stroke="#2e2a2e" stroke-width="1.2"/>
<rect x="1289.47" y="1580.70" width="10.57" height="41.45" fill="#dbdaec" stroke="#2e2a2e" stroke-width="1.2"/>
<rect x="1300.03" y="1580.70" width="10.57" height="41.45" fill="#f1eff7" stroke="#2e2a2e" stroke-width="1.2"/>
<rect x="1310.60" y="1580.70" width="10.57" height="41.45" fill="#dbdaec" stroke="#2e2a2e" stroke-width="1.2"/>
<rect x="1321.17" y="1580.70" width="10.57" height="41.45" fill="#aca8d3" stroke="#2e2a2e" stroke-width="1.2"/>
<rect x="1331.73" y="1580.70" width="10.57" height="41.45" fill="#c8c6e2" stroke="#2e2a2e" stroke-width="1.2"/>
<rect x="1342.30" y="1580.70" width="10.57" height="41.45" fill="#c8c6e2" stroke="#2e2a2e" stroke-width="1.2"/>
<rect x="1352.87" y="1580.70" width="10.57" height="41.45" fill="#8e88c1" stroke="#2e2a2e" stroke-width="1.2"/>
<rect x="1363.43" y="1580.70" width="10.57" height="41.45" fill="#8e88c1" stroke="#2e2a2e" stroke-width="1.2"/>
<rect x="1374.00" y="1580.70" width="10.57" height="41.45" fill="#6c55a6" stroke="#2e2a2e" stroke-width="1.2"/>
<rect x="1384.57" y="1580.70" width="10.57" height="41.45" fill="#aca8d3" stroke="#2e2a2e" stroke-width="1.2"/>
<rect x="1395.13" y="1580.70" width="10.57" height="41.45" fill="#6c55a6" stroke="#2e2a2e" stroke-width="1.2"/>
<rect x="1215.50" y="1622.15" width="10.57" height="41.45" fill="#f1eff7" stroke="#2e2a2e" stroke-width="1.2"/>
<rect x="1226.07" y="1622.15" width="10.57" height="41.45" fill="#f1eff7" stroke="#2e2a2e" stroke-width="1.2"/>
<rect x="1236.63" y="1622.15" width="10.57" height="41.45" fill="#f1eff7" stroke="#2e2a2e" stroke-width="1.2"/>
<rect x="1247.20" y="1622.15" width="10.57" height="41.45" fill="#dbdaec" stroke="#2e2a2e" stroke-width="1.2"/>
<rect x="1257.77" y="1622.15" width="10.57" height="41.45" fill="#dbdaec" stroke="#2e2a2e" stroke-width="1.2"/>
<rect x="1268.33" y="1622.15" width="10.57" height="41.45" fill="#f1eff7" stroke="#2e2a2e" stroke-width="1.2"/>
<rect x="1278.90" y="1622.15" width="10.57" height="41.45" fill="#f1eff7" stroke="#2e2a2e" stroke-width="1.2"/>
<rect x="1289.47" y="1622.15" width="10.57" height="41.45" fill="#c8c6e2" stroke="#2e2a2e" stroke-width="1.2"/>
<rect x="1300.03" y="1622.15" width="10.57" height="41.45" fill="#aca8d3" stroke="#2e2a2e" stroke-width="1.2"/>
<rect x="1310.60" y="1622.15" width="10.57" height="41.45" fill="#c8c6e2" stroke="#2e2a2e" stroke-width="1.2"/>
<rect x="1321.17" y="1622.15" width="10.57" height="41.45" fill="#6c55a6" stroke="#2e2a2e" stroke-width="1.2"/>
<rect x="1331.73" y="1622.15" width="10.57" height="41.45" fill="#aca8d3" stroke="#2e2a2e" stroke-width="1.2"/>
<rect x="1342.30" y="1622.15" width="10.57" height="41.45" fill="#dbdaec" stroke="#2e2a2e" stroke-width="1.2"/>
<rect x="1352.87" y="1622.15" width="10.57" height="41.45" fill="#dbdaec" stroke="#2e2a2e" stroke-width="1.2"/>
<rect x="1363.43" y="1622.15" width="10.57" height="41.45" fill="#c8c6e2" stroke="#2e2a2e" stroke-width="1.2"/>
<rect x="1374.00" y="1622.15" width="10.57" height="41.45" fill="#8e88c1" stroke="#2e2a2e" stroke-width="1.2"/>
<rect x="1384.57" y="1622.15" width="10.57" height="41.45" fill="#aca8d3" stroke="#2e2a2e" stroke-width="1.2"/>
<rect x="1395.13" y="1622.15" width="10.57" height="41.45" fill="#8e88c1" stroke="#2e2a2e" stroke-width="1.2"/>
<rect x="1215.50" y="1663.60" width="10.57" height="41.45" fill="#dbdaec" stroke="#2e2a2e" stroke-width="1.2"/>
<rect x="1226.07" y="1663.60" width="10.57" height="41.45" fill="#f1eff7" stroke="#2e2a2e" stroke-width="1.2"/>
<rect x="1236.63" y="1663.60" width="10.57" height="41.45" fill="#f1eff7" stroke="#2e2a2e" stroke-width="1.2"/>
<rect x="1247.20" y="1663.60" width="10.57" height="41.45" fill="#dbdaec" stroke="#2e2a2e" stroke-width="1.2"/>
<rect x="1257.77" y="1663.60" width="10.57" height="41.45" fill="#aca8d3" stroke="#2e2a2e" stroke-width="1.2"/>
<rect x="1268.33" y="1663.60" width="10.57" height="41.45" fill="#8e88c1" stroke="#2e2a2e" stroke-width="1.2"/>
<rect x="1278.90" y="1663.60" width="10.57" height="41.45" fill="#dbdaec" stroke="#2e2a2e" stroke-width="1.2"/>
<rect x="1289.47" y="1663.60" width="10.57" height="41.45" fill="#dbdaec" stroke="#2e2a2e" stroke-width="1.2"/>
<rect x="1300.03" y="1663.60" width="10.57" height="41.45" fill="#dbdaec" stroke="#2e2a2e" stroke-width="1.2"/>
<rect x="1310.60" y="1663.60" width="10.57" height="41.45" fill="#dbdaec" stroke="#2e2a2e" stroke-width="1.2"/>
<rect x="1321.17" y="1663.60" width="10.57" height="41.45" fill="#6c55a6" stroke="#2e2a2e" stroke-width="1.2"/>
<rect x="1331.73" y="1663.60" width="10.57" height="41.45" fill="#f1eff7" stroke="#2e2a2e" stroke-width="1.2"/>
<rect x="1342.30" y="1663.60" width="10.57" height="41.45" fill="#dbdaec" stroke="#2e2a2e" stroke-width="1.2"/>
<rect x="1352.87" y="1663.60" width="10.57" height="41.45" fill="#f1eff7" stroke="#2e2a2e" stroke-width="1.2"/>
<rect x="1363.43" y="1663.60" width="10.57" height="41.45" fill="#f1eff7" stroke="#2e2a2e" stroke-width="1.2"/>
<rect x="1374.00" y="1663.60" width="10.57" height="41.45" fill="#dbdaec" stroke="#2e2a2e" stroke-width="1.2"/>
<rect x="1384.57" y="1663.60" width="10.57" height="41.45" fill="#aca8d3" stroke="#2e2a2e" stroke-width="1.2"/>
<rect x="1395.13" y="1663.60" width="10.57" height="41.45" fill="#c8c6e2" stroke="#2e2a2e" stroke-width="1.2"/>
<rect x="1215.50" y="1705.05" width="10.57" height="41.45" fill="#f1eff7" stroke="#2e2a2e" stroke-width="1.2"/>
<rect x="1226.07" y="1705.05" width="10.57" height="41.45" fill="#f1eff7" stroke="#2e2a2e" stroke-width="1.2"/>
<rect x="1236.63" y="1705.05" width="10.57" height="41.45" fill="#6c55a6" stroke="#2e2a2e" stroke-width="1.2"/>
<rect x="1247.20" y="1705.05" width="10.57" height="41.45" fill="#dbdaec" stroke="#2e2a2e" stroke-width="1.2"/>
<rect x="1257.77" y="1705.05" width="10.57" height="41.45" fill="#f1eff7" stroke="#2e2a2e" stroke-width="1.2"/>
<rect x="1268.33" y="1705.05" width="10.57" height="41.45" fill="#dbdaec" stroke="#2e2a2e" stroke-width="1.2"/>
<rect x="1278.90" y="1705.05" width="10.57" height="41.45" fill="#8e88c1" stroke="#2e2a2e" stroke-width="1.2"/>
<rect x="1289.47" y="1705.05" width="10.57" height="41.45" fill="#c8c6e2" stroke="#2e2a2e" stroke-width="1.2"/>
<rect x="1300.03" y="1705.05" width="10.57" height="41.45" fill="#dbdaec" stroke="#2e2a2e" stroke-width="1.2"/>
<rect x="1310.60" y="1705.05" width="10.57" height="41.45" fill="#aca8d3" stroke="#2e2a2e" stroke-width="1.2"/>
<rect x="1321.17" y="1705.05" width="10.57" height="41.45" fill="#c8c6e2" stroke="#2e2a2e" stroke-width="1.2"/>
<rect x="1331.73" y="1705.05" width="10.57" height="41.45" fill="#aca8d3" stroke="#2e2a2e" stroke-width="1.2"/>
<rect x="1342.30" y="1705.05" width="10.57" height="41.45" fill="#8e88c1" stroke="#2e2a2e" stroke-width="1.2"/>
<rect x="1352.87" y="1705.05" width="10.57" height="41.45" fill="#dbdaec" stroke="#2e2a2e" stroke-width="1.2"/>
<rect x="1363.43" y="1705.05" width="10.57" height="41.45" fill="#c8c6e2" stroke="#2e2a2e" stroke-width="1.2"/>
<rect x="1374.00" y="1705.05" width="10.57" height="41.45" fill="#f1eff7" stroke="#2e2a2e" stroke-width="1.2"/>
<rect x="1384.57" y="1705.05" width="10.57" height="41.45" fill="#dbdaec" stroke="#2e2a2e" stroke-width="1.2"/>
<rect x="1395.13" y="1705.05" width="10.57" height="41.45" fill="#dbdaec" stroke="#2e2a2e" stroke-width="1.2"/>
<rect x="1215.50" y="1746.50" width="10.57" height="41.45" fill="#f1eff7" stroke="#2e2a2e" stroke-width="1.2"/>
<rect x="1226.07" y="1746.50" width="10.57" height="41.45" fill="#f1eff7" stroke="#2e2a2e" stroke-width="1.2"/>
<rect x="1236.63" y="1746.50" width="10.57" height="41.45" fill="#c8c6e2" stroke="#2e2a2e" stroke-width="1.2"/>
<rect x="1247.20" y="1746.50" width="10.57" height="41.45" fill="#aca8d3" stroke="#2e2a2e" stroke-width="1.2"/>
<rect x="1257.77" y="1746.50" width="10.57" height="41.45" fill="#dbdaec" stroke="#2e2a2e" stroke-width="1.2"/>
<rect x="1268.33" y="1746.50" width="10.57" height="41.45" fill="#c8c6e2" stroke="#2e2a2e" stroke-width="1.2"/>
<rect x="1278.90" y="1746.50" width="10.57" height="41.45" fill="#6c55a6" stroke="#2e2a2e" stroke-width="1.2"/>
<rect x="1289.47" y="1746.50" width="10.57" height="41.45" fill="#8e88c1" stroke="#2e2a2e" stroke-width="1.2"/>
<rect x="1300.03" y="1746.50" width="10.57" height="41.45" fill="#8e88c1" stroke="#2e2a2e" stroke-width="1.2"/>
<rect x="1310.60" y="1746.50" width="10.57" height="41.45" fill="#6c55a6" stroke="#2e2a2e" stroke-width="1.2"/>
<rect x="1321.17" y="1746.50" width="10.57" height="41.45" fill="#8e88c1" stroke="#2e2a2e" stroke-width="1.2"/>
<rect x="1331.73" y="1746.50" width="10.57" height="41.45" fill="#8e88c1" stroke="#2e2a2e" stroke-width="1.2"/>
<rect x="1342.30" y="1746.50" width="10.57" height="41.45" fill="#dbdaec" stroke="#2e2a2e" stroke-width="1.2"/>
<rect x="1352.87" y="1746.50" width="10.57" height="41.45" fill="#6c55a6" stroke="#2e2a2e" stroke-width="1.2"/>
<rect x="1363.43" y="1746.50" width="10.57" height="41.45" fill="#6c55a6" stroke="#2e2a2e" stroke-width="1.2"/>
<rect x="1374.00" y="1746.50" width="10.57" height="41.45" fill="#6c55a6" stroke="#2e2a2e" stroke-width="1.2"/>
<rect x="1384.57" y="1746.50" width="10.57" height="41.45" fill="#aca8d3" stroke="#2e2a2e" stroke-width="1.2"/>
<rect x="1395.13" y="1746.50" width="10.57" height="41.45" fill="#dbdaec" stroke="#2e2a2e" stroke-width="1.2"/>
<rect x="1215.50" y="1787.95" width="10.57" height="41.45" fill="#f1eff7" stroke="#2e2a2e" stroke-width="1.2"/>
<rect x="1226.07" y="1787.95" width="10.57" height="41.45" fill="#f1eff7" stroke="#2e2a2e" stroke-width="1.2"/>
<rect x="1236.63" y="1787.95" width="10.57" height="41.45" fill="#f1eff7" stroke="#2e2a2e" stroke-width="1.2"/>
<rect x="1247.20" y="1787.95" width="10.57" height="41.45" fill="#c8c6e2" stroke="#2e2a2e" stroke-width="1.2"/>
<rect x="1257.77" y="1787.95" width="10.57" height="41.45" fill="#f1eff7" stroke="#2e2a2e" stroke-width="1.2"/>
<rect x="1268.33" y="1787.95" width="10.57" height="41.45" fill="#f1eff7" stroke="#2e2a2e" stroke-width="1.2"/>
<rect x="1278.90" y="1787.95" width="10.57" height="41.45" fill="#f1eff7" stroke="#2e2a2e" stroke-width="1.2"/>
<rect x="1289.47" y="1787.95" width="10.57" height="41.45" fill="#aca8d3" stroke="#2e2a2e" stroke-width="1.2"/>
<rect x="1300.03" y="1787.95" width="10.57" height="41.45" fill="#aca8d3" stroke="#2e2a2e" stroke-width="1.2"/>
<rect x="1310.60" y="1787.95" width="10.57" height="41.45" fill="#8e88c1" stroke="#2e2a2e" stroke-width="1.2"/>
<rect x="1321.17" y="1787.95" width="10.57" height="41.45" fill="#f1eff7" stroke="#2e2a2e" stroke-width="1.2"/>
<rect x="1331.73" y="1787.95" width="10.57" height="41.45" fill="#f1eff7" stroke="#2e2a2e" stroke-width="1.2"/>
<rect x="1342.30" y="1787.95" width="10.57" height="41.45" fill="#f1eff7" stroke="#2e2a2e" stroke-width="1.2"/>
<rect x="1352.87" y="1787.95" width="10.57" height="41.45" fill="#dbdaec" stroke="#2e2a2e" stroke-width="1.2"/>
<rect x="1363.43" y="1787.95" width="10.57" height="41.45" fill="#aca8d3" stroke="#2e2a2e" stroke-width="1.2"/>
<rect x="1374.00" y="1787.95" width="10.57" height="41.45" fill="#f1eff7" stroke="#2e2a2e" stroke-width="1.2"/>
<rect x="1384.57" y="1787.95" width="10.57" height="41.45" fill="#f1eff7" stroke="#2e2a2e" stroke-width="1.2"/>
<rect x="1395.13" y="1787.95" width="10.57" height="41.45" fill="#f1eff7" stroke="#2e2a2e" stroke-width="1.2"/>
<rect x="1215.50" y="1829.40" width="10.57" height="41.45" fill="#dbdaec" stroke="#2e2a2e" stroke-width="1.2"/>
<rect x="1226.07" y="1829.40" width="10.57" height="41.45" fill="#6c55a6" stroke="#2e2a2e" stroke-width="1.2"/>
<rect x="1236.63" y="1829.40" width="10.57" height="41.45" fill="#6c55a6" stroke="#2e2a2e" stroke-width="1.2"/>
<rect x="1247.20" y="1829.40" width="10.57" height="41.45" fill="#f1eff7" stroke="#2e2a2e" stroke-width="1.2"/>
<rect x="1257.77" y="1829.40" width="10.57" height="41.45" fill="#dbdaec" stroke="#2e2a2e" stroke-width="1.2"/>
<rect x="1268.33" y="1829.40" width="10.57" height="41.45" fill="#6c55a6" stroke="#2e2a2e" stroke-width="1.2"/>
<rect x="1278.90" y="1829.40" width="10.57" height="41.45" fill="#dbdaec" stroke="#2e2a2e" stroke-width="1.2"/>
<rect x="1289.47" y="1829.40" width="10.57" height="41.45" fill="#f1eff7" stroke="#2e2a2e" stroke-width="1.2"/>
<rect x="1300.03" y="1829.40" width="10.57" height="41.45" fill="#f1eff7" stroke="#2e2a2e" stroke-width="1.2"/>
<rect x="1310.60" y="1829.40" width="10.57" height="41.45" fill="#f1eff7" stroke="#2e2a2e" stroke-width="1.2"/>
<rect x="1321.17" y="1829.40" width="10.57" height="41.45" fill="#f1eff7" stroke="#2e2a2e" stroke-width="1.2"/>
<rect x="1331.73" y="1829.40" width="10.57" height="41.45" fill="#f1eff7" stroke="#2e2a2e" stroke-width="1.2"/>
<rect x="1342.30" y="1829.40" width="10.57" height="41.45" fill="#f1eff7" stroke="#2e2a2e" stroke-width="1.2"/>
<rect x="1352.87" y="1829.40" width="10.57" height="41.45" fill="#aca8d3" stroke="#2e2a2e" stroke-width="1.2"/>
<rect x="1363.43" y="1829.40" width="10.57" height="41.45" fill="#c8c6e2" stroke="#2e2a2e" stroke-width="1.2"/>
<rect x="1374.00" y="1829.40" width="10.57" height="41.45" fill="#c8c6e2" stroke="#2e2a2e" stroke-width="1.2"/>
<rect x="1384.57" y="1829.40" width="10.57" height="41.45" fill="#dbdaec" stroke="#2e2a2e" stroke-width="1.2"/>
<rect x="1395.13" y="1829.40" width="10.57" height="41.45" fill="#c8c6e2" stroke="#2e2a2e" stroke-width="1.2"/>
<rect x="1215.50" y="1870.85" width="10.57" height="41.45" fill="#dbdaec" stroke="#2e2a2e" stroke-width="1.2"/>
<rect x="1226.07" y="1870.85" width="10.57" height="41.45" fill="#dbdaec" stroke="#2e2a2e" stroke-width="1.2"/>
<rect x="1236.63" y="1870.85" width="10.57" height="41.45" fill="#dbdaec" stroke="#2e2a2e" stroke-width="1.2"/>
<rect x="1247.20" y="1870.85" width="10.57" height="41.45" fill="#6c55a6" stroke="#2e2a2e" stroke-width="1.2"/>
<rect x="1257.77" y="1870.85" width="10.57" height="41.45" fill="#8e88c1" stroke="#2e2a2e" stroke-width="1.2"/>
<rect x="1268.33" y="1870.85" width="10.57" height="41.45" fill="#aca8d3" stroke="#2e2a2e" stroke-width="1.2"/>
<rect x="1278.90" y="1870.85" width="10.57" height="41.45" fill="#6c55a6" stroke="#2e2a2e" stroke-width="1.2"/>
<rect x="1289.47" y="1870.85" width="10.57" height="41.45" fill="#8e88c1" stroke="#2e2a2e" stroke-width="1.2"/>
<rect x="1300.03" y="1870.85" width="10.57" height="41.45" fill="#aca8d3" stroke="#2e2a2e" stroke-width="1.2"/>
<rect x="1310.60" y="1870.85" width="10.57" height="41.45" fill="#8e88c1" stroke="#2e2a2e" stroke-width="1.2"/>
<rect x="1321.17" y="1870.85" width="10.57" height="41.45" fill="#f1eff7" stroke="#2e2a2e" stroke-width="1.2"/>
<rect x="1331.73" y="1870.85" width="10.57" height="41.45" fill="#c8c6e2" stroke="#2e2a2e" stroke-width="1.2"/>
<rect x="1342.30" y="1870.85" width="10.57" height="41.45" fill="#f1eff7" stroke="#2e2a2e" stroke-width="1.2"/>
<rect x="1352.87" y="1870.85" width="10.57" height="41.45" fill="#dbdaec" stroke="#2e2a2e" stroke-width="1.2"/>
<rect x="1363.43" y="1870.85" width="10.57" height="41.45" fill="#dbdaec" stroke="#2e2a2e" stroke-width="1.2"/>
<rect x="1374.00" y="1870.85" width="10.57" height="41.45" fill="#dbdaec" stroke="#2e2a2e" stroke-width="1.2"/>
<rect x="1384.57" y="1870.85" width="10.57" height="41.45" fill="#dbdaec" stroke="#2e2a2e" stroke-width="1.2"/>
<rect x="1395.13" y="1870.85" width="10.57" height="41.45" fill="#dbdaec" stroke="#2e2a2e" stroke-width="1.2"/>
<text x="1281.1" y="1481.5" font-size="21.5" textLength="59.8" lengthAdjust="spacingAndGlyphs">Mixed</text>
<text x="86.6" y="1526.0" font-size="21.5" text-anchor="end" textLength="86.0" lengthAdjust="spacingAndGlyphs">Cilia-like</text>
<line x1="100.0" y1="1518.5" x2="110.4" y2="1518.5" stroke="#231f20" stroke-width="1.5"/>
<text x="86.6" y="1567.5" font-size="21.5" text-anchor="end" textLength="70.3" lengthAdjust="spacingAndGlyphs">AC-like</text>
<line x1="100.0" y1="1560.0" x2="110.4" y2="1560.0" stroke="#231f20" stroke-width="1.5"/>
<text x="86.6" y="1608.9" font-size="21.5" text-anchor="end" textLength="84.2" lengthAdjust="spacingAndGlyphs">MES-like</text>
<line x1="100.0" y1="1601.4" x2="110.4" y2="1601.4" stroke="#231f20" stroke-width="1.5"/>
<text x="86.6" y="1650.4" font-size="21.5" text-anchor="end" textLength="80.7" lengthAdjust="spacingAndGlyphs">Hypoxia</text>
<line x1="100.0" y1="1642.9" x2="110.4" y2="1642.9" stroke="#231f20" stroke-width="1.5"/>
<text x="86.6" y="1691.8" font-size="21.5" text-anchor="end" textLength="60.8" lengthAdjust="spacingAndGlyphs">Stress</text>
<line x1="100.0" y1="1684.3" x2="110.4" y2="1684.3" stroke="#231f20" stroke-width="1.5"/>
<text x="86.6" y="1733.3" font-size="21.5" text-anchor="end" textLength="85.7" lengthAdjust="spacingAndGlyphs">GPC-like</text>
<line x1="100.0" y1="1725.8" x2="110.4" y2="1725.8" stroke="#231f20" stroke-width="1.5"/>
<text x="86.6" y="1774.7" font-size="21.5" text-anchor="end" textLength="86.6" lengthAdjust="spacingAndGlyphs">OPC-like</text>
<line x1="100.0" y1="1767.2" x2="110.4" y2="1767.2" stroke="#231f20" stroke-width="1.5"/>
<text x="86.6" y="1816.2" font-size="21.5" text-anchor="end" textLength="84.2" lengthAdjust="spacingAndGlyphs">NPC-like</text>
<line x1="100.0" y1="1808.7" x2="110.4" y2="1808.7" stroke="#231f20" stroke-width="1.5"/>
<text x="86.6" y="1857.6" font-size="21.5" text-anchor="end" textLength="83.6" lengthAdjust="spacingAndGlyphs">NEU-like</text>
<line x1="100.0" y1="1850.1" x2="110.4" y2="1850.1" stroke="#231f20" stroke-width="1.5"/>
<text x="86.6" y="1899.1" font-size="21.5" text-anchor="end" textLength="75.6" lengthAdjust="spacingAndGlyphs">Cycling</text>
<line x1="100.0" y1="1891.6" x2="110.4" y2="1891.6" stroke="#231f20" stroke-width="1.5"/>
<text x="704.0" y="1949.4" font-size="26" textLength="101.6" lengthAdjust="spacingAndGlyphs">Samples</text>
<text x="1117.9" y="1955.3" font-size="25" textLength="124.9" lengthAdjust="spacingAndGlyphs">Proportion</text>
<rect x="1257.30" y="1938.40" width="22.73" height="17.40" fill="#e8e6f2"/>
<rect x="1280.03" y="1938.40" width="22.73" height="17.40" fill="#c8c6e0"/>
<rect x="1302.77" y="1938.40" width="22.73" height="17.40" fill="#aba8d2"/>
<rect x="1325.50" y="1938.40" width="22.73" height="17.40" fill="#8e89c0"/>
<rect x="1348.23" y="1938.40" width="22.73" height="17.40" fill="#7462ad"/>
<rect x="1370.97" y="1938.40" width="22.73" height="17.40" fill="#5e3a9a"/>
<rect x="1257.30" y="1938.40" width="136.40" height="17.40" fill="none" stroke="#231f20" stroke-width="1.5"/>
<text x="1242.8" y="1982.6" font-size="21.5" textLength="30.0" lengthAdjust="spacingAndGlyphs">0%</text>
<text x="1413.5" y="1982.6" font-size="21.5" text-anchor="end" textLength="42.5" lengthAdjust="spacingAndGlyphs">30%</text>
<text x="223.6" y="2059.4" font-size="39" textLength="25.5" lengthAdjust="spacingAndGlyphs" font-weight="bold" stroke="#231f20" stroke-width="1.3">d</text>
<line x1="408.0" y1="2097.0" x2="428.8" y2="2196.9" stroke="#bdbdbd" stroke-width="2.5"/>
<line x1="428.8" y1="2196.9" x2="474.6" y2="2315.0" stroke="#bdbdbd" stroke-width="2.5"/>
<line x1="474.6" y1="2315.0" x2="547.5" y2="2355.3" stroke="#bdbdbd" stroke-width="3.5"/>
<line x1="474.6" y1="2315.0" x2="517.4" y2="2439.7" stroke="#bdbdbd" stroke-width="2.5"/>
<line x1="547.5" y1="2355.3" x2="517.4" y2="2439.7" stroke="#bdbdbd" stroke-width="4.5"/>
<line x1="517.4" y1="2439.7" x2="461.4" y2="2501.5" stroke="#bdbdbd" stroke-width="6"/>
<line x1="517.4" y1="2439.7" x2="584.3" y2="2519.7" stroke="#bdbdbd" stroke-width="4.5"/>
<line x1="654.7" y1="2087.1" x2="586.9" y2="2117.2" stroke="#bdbdbd" stroke-width="5"/>
<line x1="654.7" y1="2087.1" x2="657.6" y2="2158.3" stroke="#bdbdbd" stroke-width="3.5"/>
<line x1="654.7" y1="2087.1" x2="733.0" y2="2127.8" stroke="#bdbdbd" stroke-width="3"/>
<line x1="586.9" y1="2117.2" x2="657.6" y2="2158.3" stroke="#bdbdbd" stroke-width="3.5"/>
<line x1="657.6" y1="2158.3" x2="733.0" y2="2127.8" stroke="#bdbdbd" stroke-width="4"/>
<line x1="758.0" y1="2243.0" x2="840.0" y2="2254.0" stroke="#bdbdbd" stroke-width="2"/>
<line x1="758.0" y1="2243.0" x2="782.7" y2="2370.8" stroke="#bdbdbd" stroke-width="2"/>
<line x1="840.0" y1="2254.0" x2="782.7" y2="2370.8" stroke="#bdbdbd" stroke-width="2"/>
<line x1="782.7" y1="2370.8" x2="876.8" y2="2412.0" stroke="#bdbdbd" stroke-width="3"/>
<line x1="782.7" y1="2370.8" x2="699.5" y2="2435.0" stroke="#bdbdbd" stroke-width="3"/>
<line x1="782.7" y1="2370.8" x2="746.5" y2="2505.0" stroke="#bdbdbd" stroke-width="2"/>
<line x1="699.5" y1="2435.0" x2="746.5" y2="2505.0" stroke="#bdbdbd" stroke-width="2.5"/>
<circle cx="408.0" cy="2097.0" r="15.8" fill="#fde08c" stroke="#231f20" stroke-width="1.3"/>
<circle cx="428.8" cy="2196.9" r="15.8" fill="#f58c5a" stroke="#231f20" stroke-width="1.3"/>
<circle cx="474.6" cy="2315.0" r="15.8" fill="#d63c50" stroke="#231f20" stroke-width="1.3"/>
<circle cx="547.5" cy="2355.3" r="15.8" fill="#fde08c" stroke="#231f20" stroke-width="1.3"/>
<circle cx="517.4" cy="2439.7" r="15.8" fill="#f58c5a" stroke="#231f20" stroke-width="1.3"/>
<circle cx="461.4" cy="2501.5" r="15.8" fill="#98d193" stroke="#231f20" stroke-width="1.3"/>
<circle cx="584.3" cy="2519.7" r="15.8" fill="#98d193" stroke="#231f20" stroke-width="1.3"/>
<circle cx="654.7" cy="2087.1" r="15.8" fill="#d63c50" stroke="#231f20" stroke-width="1.3"/>
<circle cx="586.9" cy="2117.2" r="15.8" fill="#fde08c" stroke="#231f20" stroke-width="1.3"/>
<circle cx="733.0" cy="2127.8" r="15.8" fill="#98d193" stroke="#231f20" stroke-width="1.3"/>
<circle cx="657.6" cy="2158.3" r="15.8" fill="#f58c5a" stroke="#231f20" stroke-width="1.3"/>
<circle cx="758.0" cy="2243.0" r="15.8" fill="#fde08c" stroke="#231f20" stroke-width="1.3"/>
<circle cx="840.0" cy="2254.0" r="15.8" fill="#e4eda0" stroke="#231f20" stroke-width="1.3"/>
<circle cx="782.7" cy="2370.8" r="15.8" fill="#d63c50" stroke="#231f20" stroke-width="1.3"/>
<circle cx="876.8" cy="2412.0" r="15.8" fill="#e4eda0" stroke="#231f20" stroke-width="1.3"/>
<circle cx="699.5" cy="2435.0" r="15.8" fill="#f58c5a" stroke="#231f20" stroke-width="1.3"/>
<circle cx="746.5" cy="2505.0" r="15.8" fill="#e4eda0" stroke="#231f20" stroke-width="1.3"/>
<text x="586.4" y="2059.5" font-size="21.5" textLength="78.0" lengthAdjust="spacingAndGlyphs">BP-ECM</text>
<text x="737.0" y="2106.1" font-size="21.5" textLength="36.5" lengthAdjust="spacingAndGlyphs">NF1</text>
<text x="511.9" y="2155.5" font-size="21.5" textLength="91.0" lengthAdjust="spacingAndGlyphs">LMF-TAM</text>
<text x="590.7" y="2195.9" font-size="21.5" textLength="130.0" lengthAdjust="spacingAndGlyphs">MES/hypoxia</text>
<text x="359.0" y="2131.5" font-size="21.5" textLength="48.6" lengthAdjust="spacingAndGlyphs">LMF-</text>
<text x="241.5" y="2157.0" font-size="21.5" textLength="167.0" lengthAdjust="spacingAndGlyphs">oligodendrocyte</text>
<text x="332.6" y="2237.5" font-size="21.5" textLength="96.2" lengthAdjust="spacingAndGlyphs">OPC/NPC</text>
<text x="382.0" y="2300.5" font-size="21.5" textLength="74.0" lengthAdjust="spacingAndGlyphs">BP-NEU</text>
<text x="525.0" y="2326.5" font-size="21.5" textLength="78.4" lengthAdjust="spacingAndGlyphs">LMF-GN</text>
<text x="450.8" y="2447.2" font-size="21.5" textLength="40.7" lengthAdjust="spacingAndGlyphs">NEU</text>
<text x="417.0" y="2489.2" font-size="21.5" textLength="33.0" lengthAdjust="spacingAndGlyphs">RB1</text>
<text x="570.3" y="2491.5" font-size="21.5" textLength="49.5" lengthAdjust="spacingAndGlyphs">TP53</text>
<text x="716.6" y="2285.2" font-size="21.5" textLength="44.0" lengthAdjust="spacingAndGlyphs">HMF</text>
<text x="662.9" y="2410.5" font-size="21.5" textLength="44.0" lengthAdjust="spacingAndGlyphs">GPC</text>
<text x="813.0" y="2363.3" font-size="21.5" textLength="76.0" lengthAdjust="spacingAndGlyphs">BP-glial</text>
<text x="846.5" y="2293.0" font-size="21.5" textLength="105.0" lengthAdjust="spacingAndGlyphs"><tspan font-style="italic">EGFR</tspan><tspan>-amp</tspan></text>
<text x="838.0" y="2451.5" font-size="21.5" textLength="116.0" lengthAdjust="spacingAndGlyphs"><tspan font-style="italic">MDM2</tspan><tspan>-amp</tspan></text>
<text x="725.8" y="2543.3" font-size="21.5" textLength="124.0" lengthAdjust="spacingAndGlyphs"><tspan font-style="italic">CDKN2A</tspan><tspan>-del</tspan></text>
<text x="1012.7" y="2076.0" font-size="21.5" textLength="126.0" lengthAdjust="spacingAndGlyphs">Feature type</text>
<rect x="1012.00" y="2087.90" width="22.50" height="22.50" fill="#d63c50" stroke="#231f20" stroke-width="1.3"/>
<text x="1048.5" y="2105.8" font-size="21.5" textLength="27.0" lengthAdjust="spacingAndGlyphs">BP</text>
<rect x="1012.00" y="2124.00" width="22.50" height="22.50" fill="#f58c5a" stroke="#231f20" stroke-width="1.3"/>
<text x="1048.5" y="2141.6" font-size="21.5" textLength="167.0" lengthAdjust="spacingAndGlyphs">Malignant group</text>
<rect x="1012.00" y="2160.00" width="22.50" height="22.50" fill="#fde08c" stroke="#231f20" stroke-width="1.3"/>
<text x="1048.5" y="2177.8" font-size="21.5" textLength="196.5" lengthAdjust="spacingAndGlyphs">Composition group</text>
<rect x="1012.00" y="2195.70" width="22.50" height="22.50" fill="#e4eda0" stroke="#231f20" stroke-width="1.3"/>
<text x="1048.5" y="2213.7" font-size="21.5" textLength="109.0" lengthAdjust="spacingAndGlyphs">CNA driver</text>
<rect x="1012.00" y="2232.00" width="22.50" height="22.50" fill="#98d193" stroke="#231f20" stroke-width="1.3"/>
<text x="1048.5" y="2250.0" font-size="21.5" textLength="107.0" lengthAdjust="spacingAndGlyphs">SNV driver</text>
</svg></body></html>
